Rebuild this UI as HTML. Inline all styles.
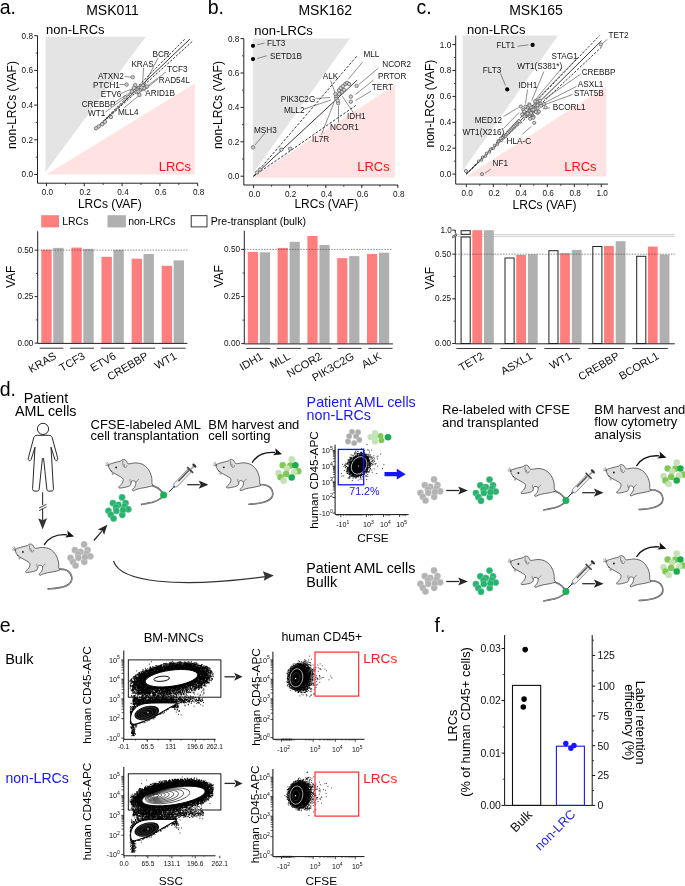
<!DOCTYPE html>
<html><head><meta charset="utf-8"><style>
html,body{margin:0;padding:0;background:#fff;overflow:hidden;width:685px;height:886px;}
svg{display:block;will-change:transform;}
text{font-family:"Liberation Sans", sans-serif;}
</style></head><body>
<svg width="685" height="886" viewBox="0 0 685 886" font-family="Liberation Sans, sans-serif">
<rect width="685" height="886" fill="#fff"/>
<text x="-0.3" y="13.8" font-size="19.5" text-anchor="start" fill="#000">a.</text>
<text x="112.5" y="14.9" font-size="14" text-anchor="middle" fill="#000">MSK011</text>
<polygon points="45.5,172.0 45.5,36.8 145.7,36.8" fill="#E4E4E4" stroke="none"/>
<polygon points="46.5,174.5 194.8,83.5 194.8,174.5" fill="#FFE3E3" stroke="none"/>
<text x="46.0" y="34.3" font-size="13" text-anchor="start" fill="#000">non-LRCs</text>
<text x="191.0" y="170.8" font-size="12.9" text-anchor="end" fill="#FF0F0F">LRCs</text>
<line x1="37.5" y1="35.6" x2="37.5" y2="183.2" stroke="#222" stroke-width="1"/>
<line x1="37.5" y1="183.2" x2="197.6" y2="183.2" stroke="#222" stroke-width="1"/>
<line x1="34.2" y1="174.5" x2="37.5" y2="174.5" stroke="#222" stroke-width="1"/>
<text x="33.0" y="177.4" font-size="8.2" text-anchor="end" fill="#111">0.0</text>
<line x1="34.2" y1="139.8" x2="37.5" y2="139.8" stroke="#222" stroke-width="1"/>
<text x="33.0" y="142.7" font-size="8.2" text-anchor="end" fill="#111">0.2</text>
<line x1="34.2" y1="105.1" x2="37.5" y2="105.1" stroke="#222" stroke-width="1"/>
<text x="33.0" y="108.0" font-size="8.2" text-anchor="end" fill="#111">0.4</text>
<line x1="34.2" y1="70.4" x2="37.5" y2="70.4" stroke="#222" stroke-width="1"/>
<text x="33.0" y="73.3" font-size="8.2" text-anchor="end" fill="#111">0.6</text>
<line x1="34.2" y1="35.7" x2="37.5" y2="35.7" stroke="#222" stroke-width="1"/>
<text x="33.0" y="38.6" font-size="8.2" text-anchor="end" fill="#111">0.8</text>
<line x1="46.5" y1="183.2" x2="46.5" y2="186.2" stroke="#222" stroke-width="1"/>
<text x="47.4" y="195.2" font-size="8.2" text-anchor="middle" fill="#111">0.0</text>
<line x1="84.3" y1="183.2" x2="84.3" y2="186.2" stroke="#222" stroke-width="1"/>
<text x="85.2" y="195.2" font-size="8.2" text-anchor="middle" fill="#111">0.2</text>
<line x1="122.1" y1="183.2" x2="122.1" y2="186.2" stroke="#222" stroke-width="1"/>
<text x="123.0" y="195.2" font-size="8.2" text-anchor="middle" fill="#111">0.4</text>
<line x1="159.9" y1="183.2" x2="159.9" y2="186.2" stroke="#222" stroke-width="1"/>
<text x="160.8" y="195.2" font-size="8.2" text-anchor="middle" fill="#111">0.6</text>
<line x1="197.7" y1="183.2" x2="197.7" y2="186.2" stroke="#222" stroke-width="1"/>
<text x="198.6" y="195.2" font-size="8.2" text-anchor="middle" fill="#111">0.8</text>
<line x1="35.7" y1="157.2" x2="37.5" y2="157.2" stroke="#222" stroke-width="0.8"/>
<line x1="35.7" y1="122.5" x2="37.5" y2="122.5" stroke="#222" stroke-width="0.8"/>
<line x1="35.7" y1="87.8" x2="37.5" y2="87.8" stroke="#222" stroke-width="0.8"/>
<line x1="35.7" y1="53.1" x2="37.5" y2="53.1" stroke="#222" stroke-width="0.8"/>
<line x1="65.4" y1="183.2" x2="65.4" y2="185.0" stroke="#222" stroke-width="0.8"/>
<line x1="103.2" y1="183.2" x2="103.2" y2="185.0" stroke="#222" stroke-width="0.8"/>
<line x1="141.0" y1="183.2" x2="141.0" y2="185.0" stroke="#222" stroke-width="0.8"/>
<line x1="178.8" y1="183.2" x2="178.8" y2="185.0" stroke="#222" stroke-width="0.8"/>
<text x="109.8" y="207.8" font-size="12" text-anchor="middle" fill="#000">LRCs (VAF)</text>
<text x="15.9" y="105.0" font-size="12" text-anchor="middle" fill="#000" transform="rotate(-90 15.9 105)">non-LRCs (VAF)</text>
<line x1="95.0" y1="129.5" x2="189.9" y2="39.1" stroke="#222" stroke-width="0.9"/>
<line x1="95.0" y1="129.5" x2="185.7" y2="38.2" stroke="#161616" stroke-width="0.85" stroke-dasharray="2.4,1.5"/>
<line x1="95.0" y1="129.5" x2="192.7" y2="41.1" stroke="#161616" stroke-width="0.85" stroke-dasharray="2.4,1.5"/>
<line x1="124.5" y1="76.5" x2="130.9" y2="77.1" stroke="#333" stroke-width="0.55"/>
<line x1="119.5" y1="84.4" x2="124.8" y2="84.6" stroke="#333" stroke-width="0.55"/>
<line x1="121.0" y1="93.5" x2="133.0" y2="88.5" stroke="#333" stroke-width="0.55"/>
<line x1="114.5" y1="102.5" x2="131.0" y2="92.0" stroke="#333" stroke-width="0.55"/>
<line x1="105.5" y1="112.0" x2="134.0" y2="91.0" stroke="#333" stroke-width="0.55"/>
<line x1="124.0" y1="108.0" x2="139.0" y2="95.5" stroke="#333" stroke-width="0.55"/>
<line x1="143.5" y1="68.0" x2="142.5" y2="86.0" stroke="#333" stroke-width="0.55"/>
<line x1="158.0" y1="58.0" x2="143.5" y2="86.0" stroke="#333" stroke-width="0.55"/>
<line x1="166.0" y1="72.0" x2="146.0" y2="87.0" stroke="#333" stroke-width="0.55"/>
<line x1="158.0" y1="79.0" x2="147.0" y2="87.5" stroke="#333" stroke-width="0.55"/>
<line x1="146.5" y1="92.0" x2="141.0" y2="88.0" stroke="#333" stroke-width="0.55"/>
<circle cx="132.7" cy="77.2" r="1.75" fill="#CFCFCF" stroke="#5A5A5A" stroke-width="0.7"/>
<circle cx="126.6" cy="84.6" r="1.75" fill="#CFCFCF" stroke="#5A5A5A" stroke-width="0.7"/>
<circle cx="139.4" cy="95.0" r="1.75" fill="#CFCFCF" stroke="#5A5A5A" stroke-width="0.7"/>
<circle cx="135.3" cy="85.1" r="1.75" fill="#CFCFCF" stroke="#5A5A5A" stroke-width="0.7"/>
<circle cx="133.9" cy="87.9" r="1.75" fill="#CFCFCF" stroke="#5A5A5A" stroke-width="0.7"/>
<circle cx="131.9" cy="91.5" r="1.75" fill="#CFCFCF" stroke="#5A5A5A" stroke-width="0.7"/>
<circle cx="125.3" cy="97.4" r="1.75" fill="#CFCFCF" stroke="#5A5A5A" stroke-width="0.7"/>
<circle cx="102.3" cy="124.2" r="1.75" fill="#CFCFCF" stroke="#5A5A5A" stroke-width="0.7"/>
<circle cx="96.1" cy="128.2" r="1.75" fill="#CFCFCF" stroke="#5A5A5A" stroke-width="0.7"/>
<circle cx="98.8" cy="126.4" r="1.75" fill="#CFCFCF" stroke="#5A5A5A" stroke-width="0.7"/>
<circle cx="105.0" cy="121.8" r="1.75" fill="#CFCFCF" stroke="#5A5A5A" stroke-width="0.7"/>
<circle cx="111.0" cy="117.0" r="1.75" fill="#CFCFCF" stroke="#5A5A5A" stroke-width="0.7"/>
<circle cx="139.0" cy="88.0" r="1.75" fill="#CFCFCF" stroke="#5A5A5A" stroke-width="0.7"/>
<circle cx="141.0" cy="86.5" r="1.75" fill="#CFCFCF" stroke="#5A5A5A" stroke-width="0.7"/>
<circle cx="143.0" cy="85.5" r="1.75" fill="#CFCFCF" stroke="#5A5A5A" stroke-width="0.7"/>
<circle cx="145.7" cy="86.9" r="1.75" fill="#CFCFCF" stroke="#5A5A5A" stroke-width="0.7"/>
<circle cx="142.0" cy="89.0" r="1.75" fill="#CFCFCF" stroke="#5A5A5A" stroke-width="0.7"/>
<circle cx="144.0" cy="88.2" r="1.75" fill="#CFCFCF" stroke="#5A5A5A" stroke-width="0.7"/>
<circle cx="140.0" cy="90.0" r="1.75" fill="#CFCFCF" stroke="#5A5A5A" stroke-width="0.7"/>
<circle cx="137.5" cy="90.0" r="1.75" fill="#CFCFCF" stroke="#5A5A5A" stroke-width="0.7"/>
<circle cx="136.5" cy="92.0" r="1.75" fill="#CFCFCF" stroke="#5A5A5A" stroke-width="0.7"/>
<circle cx="138.5" cy="91.5" r="1.75" fill="#CFCFCF" stroke="#5A5A5A" stroke-width="0.7"/>
<circle cx="141.5" cy="87.5" r="1.75" fill="#CFCFCF" stroke="#5A5A5A" stroke-width="0.7"/>
<circle cx="147.0" cy="86.5" r="1.75" fill="#CFCFCF" stroke="#5A5A5A" stroke-width="0.7"/>
<text x="98.0" y="79.3" font-size="8.2" text-anchor="start" fill="#151515">ATXN2</text>
<text x="93.0" y="87.7" font-size="8.2" text-anchor="start" fill="#151515">PTCH1</text>
<text x="100.8" y="96.9" font-size="8.2" text-anchor="start" fill="#151515">ETV6</text>
<text x="81.7" y="106.5" font-size="8.2" text-anchor="start" fill="#151515">CREBBP</text>
<text x="88.0" y="115.8" font-size="8.2" text-anchor="start" fill="#151515">WT1</text>
<text x="118.0" y="115.3" font-size="8.2" text-anchor="start" fill="#151515">MLL4</text>
<text x="152.5" y="56.5" font-size="8.2" text-anchor="start" fill="#151515">BCR</text>
<text x="131.4" y="66.9" font-size="8.2" text-anchor="start" fill="#151515">KRAS</text>
<text x="167.0" y="71.9" font-size="8.2" text-anchor="start" fill="#151515">TCF3</text>
<text x="158.8" y="82.9" font-size="8.2" text-anchor="start" fill="#151515">RAD54L</text>
<text x="145.3" y="95.9" font-size="8.2" text-anchor="start" fill="#151515">ARID1B</text>
<text x="207.7" y="13.8" font-size="19.5" text-anchor="start" fill="#000">b.</text>
<text x="325.3" y="14.9" font-size="14" text-anchor="middle" fill="#000">MSK162</text>
<polygon points="252.8,172.5 252.8,38.5 349.9,38.5 253.6,172.5" fill="#E4E4E4" stroke="none"/>
<polygon points="253.6,176.5 395.0,85.0 395.0,177.8 253.6,177.8" fill="#FFE3E3" stroke="none"/>
<text x="254.3" y="34.6" font-size="13" text-anchor="start" fill="#000">non-LRCs</text>
<text x="389.6" y="170.8" font-size="12.9" text-anchor="end" fill="#FF0F0F">LRCs</text>
<line x1="243.8" y1="38.7" x2="243.8" y2="185.0" stroke="#222" stroke-width="1"/>
<line x1="243.8" y1="185.0" x2="397.9" y2="185.0" stroke="#222" stroke-width="1"/>
<line x1="240.5" y1="176.2" x2="243.8" y2="176.2" stroke="#222" stroke-width="1"/>
<text x="239.3" y="179.1" font-size="8.2" text-anchor="end" fill="#111">0.0</text>
<line x1="240.5" y1="141.8" x2="243.8" y2="141.8" stroke="#222" stroke-width="1"/>
<text x="239.3" y="144.7" font-size="8.2" text-anchor="end" fill="#111">0.2</text>
<line x1="240.5" y1="107.4" x2="243.8" y2="107.4" stroke="#222" stroke-width="1"/>
<text x="239.3" y="110.3" font-size="8.2" text-anchor="end" fill="#111">0.4</text>
<line x1="240.5" y1="73.0" x2="243.8" y2="73.0" stroke="#222" stroke-width="1"/>
<text x="239.3" y="75.9" font-size="8.2" text-anchor="end" fill="#111">0.6</text>
<line x1="240.5" y1="38.6" x2="243.8" y2="38.6" stroke="#222" stroke-width="1"/>
<text x="239.3" y="41.5" font-size="8.2" text-anchor="end" fill="#111">0.8</text>
<line x1="253.6" y1="185.0" x2="253.6" y2="188.0" stroke="#222" stroke-width="1"/>
<text x="254.5" y="197.0" font-size="8.2" text-anchor="middle" fill="#111">0.0</text>
<line x1="289.7" y1="185.0" x2="289.7" y2="188.0" stroke="#222" stroke-width="1"/>
<text x="290.6" y="197.0" font-size="8.2" text-anchor="middle" fill="#111">0.2</text>
<line x1="325.8" y1="185.0" x2="325.8" y2="188.0" stroke="#222" stroke-width="1"/>
<text x="326.7" y="197.0" font-size="8.2" text-anchor="middle" fill="#111">0.4</text>
<line x1="361.8" y1="185.0" x2="361.8" y2="188.0" stroke="#222" stroke-width="1"/>
<text x="362.7" y="197.0" font-size="8.2" text-anchor="middle" fill="#111">0.6</text>
<line x1="397.9" y1="185.0" x2="397.9" y2="188.0" stroke="#222" stroke-width="1"/>
<text x="398.8" y="197.0" font-size="8.2" text-anchor="middle" fill="#111">0.8</text>
<line x1="242.0" y1="159.0" x2="243.8" y2="159.0" stroke="#222" stroke-width="0.8"/>
<line x1="242.0" y1="124.6" x2="243.8" y2="124.6" stroke="#222" stroke-width="0.8"/>
<line x1="242.0" y1="90.2" x2="243.8" y2="90.2" stroke="#222" stroke-width="0.8"/>
<line x1="242.0" y1="55.8" x2="243.8" y2="55.8" stroke="#222" stroke-width="0.8"/>
<line x1="271.6" y1="185.0" x2="271.6" y2="186.8" stroke="#222" stroke-width="0.8"/>
<line x1="307.7" y1="185.0" x2="307.7" y2="186.8" stroke="#222" stroke-width="0.8"/>
<line x1="343.8" y1="185.0" x2="343.8" y2="186.8" stroke="#222" stroke-width="0.8"/>
<line x1="379.9" y1="185.0" x2="379.9" y2="186.8" stroke="#222" stroke-width="0.8"/>
<text x="326.3" y="208.2" font-size="12" text-anchor="middle" fill="#000">LRCs (VAF)</text>
<text x="222.4" y="105.0" font-size="12" text-anchor="middle" fill="#000" transform="rotate(-90 222.4 105)">non-LRCs (VAF)</text>
<line x1="253.6" y1="176.2" x2="356.9" y2="80.3" stroke="#222" stroke-width="0.9"/>
<line x1="253.6" y1="176.2" x2="356.9" y2="56.1" stroke="#161616" stroke-width="0.85" stroke-dasharray="2.6,1.6"/>
<line x1="253.6" y1="176.2" x2="356.1" y2="105.2" stroke="#161616" stroke-width="0.85" stroke-dasharray="2.6,1.6"/>
<line x1="257.2" y1="44.8" x2="264.7" y2="43.0" stroke="#333" stroke-width="0.55"/>
<line x1="257.2" y1="58.5" x2="266.7" y2="55.8" stroke="#333" stroke-width="0.55"/>
<line x1="255.0" y1="145.0" x2="265.0" y2="133.0" stroke="#333" stroke-width="0.55"/>
<line x1="362.7" y1="61.9" x2="348.2" y2="79.4" stroke="#333" stroke-width="0.55"/>
<line x1="378.5" y1="68.0" x2="358.7" y2="84.7" stroke="#333" stroke-width="0.55"/>
<line x1="373.6" y1="80.0" x2="355.7" y2="94.3" stroke="#333" stroke-width="0.55"/>
<line x1="371.0" y1="91.2" x2="355.7" y2="100.4" stroke="#333" stroke-width="0.55"/>
<line x1="353.4" y1="112.7" x2="342.0" y2="96.0" stroke="#333" stroke-width="0.55"/>
<line x1="338.5" y1="122.3" x2="338.5" y2="105.7" stroke="#333" stroke-width="0.55"/>
<line x1="321.4" y1="134.6" x2="334.2" y2="102.2" stroke="#333" stroke-width="0.55"/>
<line x1="330.7" y1="80.6" x2="335.0" y2="92.6" stroke="#333" stroke-width="0.55"/>
<line x1="315.5" y1="98.5" x2="330.0" y2="97.5" stroke="#333" stroke-width="0.55"/>
<line x1="304.0" y1="109.0" x2="331.0" y2="100.0" stroke="#333" stroke-width="0.55"/>
<circle cx="253.0" cy="45.8" r="2.1" fill="#000" stroke="none" stroke-width="1"/>
<circle cx="253.0" cy="59.1" r="2.1" fill="#000" stroke="none" stroke-width="1"/>
<circle cx="253.0" cy="147.3" r="1.75" fill="#CFCFCF" stroke="#5A5A5A" stroke-width="0.7"/>
<circle cx="281.3" cy="149.6" r="1.75" fill="#CFCFCF" stroke="#5A5A5A" stroke-width="0.7"/>
<circle cx="290.0" cy="148.8" r="1.75" fill="#CFCFCF" stroke="#5A5A5A" stroke-width="0.7"/>
<circle cx="356.6" cy="85.9" r="1.75" fill="#CFCFCF" stroke="#5A5A5A" stroke-width="0.7"/>
<circle cx="350.8" cy="96.6" r="1.75" fill="#CFCFCF" stroke="#5A5A5A" stroke-width="0.7"/>
<circle cx="350.8" cy="101.7" r="1.75" fill="#CFCFCF" stroke="#5A5A5A" stroke-width="0.7"/>
<circle cx="338.2" cy="103.1" r="1.75" fill="#CFCFCF" stroke="#5A5A5A" stroke-width="0.7"/>
<circle cx="336.0" cy="96.7" r="1.75" fill="#CFCFCF" stroke="#5A5A5A" stroke-width="0.7"/>
<circle cx="336.4" cy="99.0" r="1.75" fill="#CFCFCF" stroke="#5A5A5A" stroke-width="0.7"/>
<circle cx="337.7" cy="100.5" r="1.75" fill="#CFCFCF" stroke="#5A5A5A" stroke-width="0.7"/>
<circle cx="338.9" cy="90.3" r="1.75" fill="#CFCFCF" stroke="#5A5A5A" stroke-width="0.7"/>
<circle cx="340.7" cy="88.0" r="1.75" fill="#CFCFCF" stroke="#5A5A5A" stroke-width="0.7"/>
<circle cx="343.0" cy="86.2" r="1.75" fill="#CFCFCF" stroke="#5A5A5A" stroke-width="0.7"/>
<circle cx="345.3" cy="83.9" r="1.75" fill="#CFCFCF" stroke="#5A5A5A" stroke-width="0.7"/>
<circle cx="347.1" cy="82.9" r="1.75" fill="#CFCFCF" stroke="#5A5A5A" stroke-width="0.7"/>
<circle cx="349.0" cy="84.0" r="1.75" fill="#CFCFCF" stroke="#5A5A5A" stroke-width="0.7"/>
<circle cx="342.0" cy="92.0" r="1.75" fill="#CFCFCF" stroke="#5A5A5A" stroke-width="0.7"/>
<circle cx="344.0" cy="90.0" r="1.75" fill="#CFCFCF" stroke="#5A5A5A" stroke-width="0.7"/>
<circle cx="339.0" cy="94.0" r="1.75" fill="#CFCFCF" stroke="#5A5A5A" stroke-width="0.7"/>
<circle cx="335.5" cy="94.0" r="1.75" fill="#CFCFCF" stroke="#5A5A5A" stroke-width="0.7"/>
<circle cx="260.0" cy="169.5" r="1.75" fill="#CFCFCF" stroke="#5A5A5A" stroke-width="0.7"/>
<circle cx="257.0" cy="172.5" r="1.75" fill="#CFCFCF" stroke="#5A5A5A" stroke-width="0.7"/>
<text x="266.9" y="46.4" font-size="8.2" text-anchor="start" fill="#151515">FLT3</text>
<text x="270.0" y="58.8" font-size="8.2" text-anchor="start" fill="#151515">SETD1B</text>
<text x="254.0" y="133.0" font-size="8.2" text-anchor="start" fill="#151515">MSH3</text>
<text x="363.4" y="56.7" font-size="8.2" text-anchor="start" fill="#151515">MLL</text>
<text x="382.3" y="67.2" font-size="8.2" text-anchor="start" fill="#151515">NCOR2</text>
<text x="378.0" y="78.9" font-size="8.2" text-anchor="start" fill="#151515">PRTOR</text>
<text x="371.8" y="90.0" font-size="8.2" text-anchor="start" fill="#151515">TERT</text>
<text x="347.0" y="118.9" font-size="8.2" text-anchor="start" fill="#151515">IDH1</text>
<text x="330.1" y="129.7" font-size="8.2" text-anchor="start" fill="#151515">NCOR1</text>
<text x="311.9" y="141.5" font-size="8.2" text-anchor="start" fill="#151515">IL7R</text>
<text x="322.8" y="78.9" font-size="8.2" text-anchor="start" fill="#151515">ALK</text>
<text x="280.7" y="102.0" font-size="8.2" text-anchor="start" fill="#151515">PIK3C2G</text>
<text x="284.0" y="113.1" font-size="8.2" text-anchor="start" fill="#151515">MLL2</text>
<text x="416.6" y="13.8" font-size="19.5" text-anchor="start" fill="#000">c.</text>
<text x="536.0" y="14.9" font-size="14" text-anchor="middle" fill="#000">MSK165</text>
<polygon points="462.6,171.0 462.6,35.6 558.0,35.6" fill="#E4E4E4" stroke="none"/>
<polygon points="466.3,176.6 606.2,86.2 606.2,176.6" fill="#FFE3E3" stroke="none"/>
<text x="467.0" y="34.3" font-size="13" text-anchor="start" fill="#000">non-LRCs</text>
<text x="596.5" y="170.9" font-size="12.9" text-anchor="end" fill="#FF0F0F">LRCs</text>
<line x1="455.7" y1="35.5" x2="455.7" y2="184.1" stroke="#222" stroke-width="1"/>
<line x1="455.7" y1="184.1" x2="608.0" y2="184.1" stroke="#222" stroke-width="1"/>
<line x1="452.4" y1="174.1" x2="455.7" y2="174.1" stroke="#222" stroke-width="1"/>
<text x="451.2" y="177.0" font-size="8.2" text-anchor="end" fill="#111">0.0</text>
<line x1="452.4" y1="148.2" x2="455.7" y2="148.2" stroke="#222" stroke-width="1"/>
<text x="451.2" y="151.1" font-size="8.2" text-anchor="end" fill="#111">0.2</text>
<line x1="452.4" y1="122.3" x2="455.7" y2="122.3" stroke="#222" stroke-width="1"/>
<text x="451.2" y="125.2" font-size="8.2" text-anchor="end" fill="#111">0.4</text>
<line x1="452.4" y1="96.4" x2="455.7" y2="96.4" stroke="#222" stroke-width="1"/>
<text x="451.2" y="99.3" font-size="8.2" text-anchor="end" fill="#111">0.6</text>
<line x1="452.4" y1="70.5" x2="455.7" y2="70.5" stroke="#222" stroke-width="1"/>
<text x="451.2" y="73.4" font-size="8.2" text-anchor="end" fill="#111">0.8</text>
<line x1="452.4" y1="44.6" x2="455.7" y2="44.6" stroke="#222" stroke-width="1"/>
<text x="451.2" y="47.5" font-size="8.2" text-anchor="end" fill="#111">1.0</text>
<line x1="466.3" y1="184.1" x2="466.3" y2="187.1" stroke="#222" stroke-width="1"/>
<text x="467.2" y="196.1" font-size="8.2" text-anchor="middle" fill="#111">0.0</text>
<line x1="493.3" y1="184.1" x2="493.3" y2="187.1" stroke="#222" stroke-width="1"/>
<text x="494.2" y="196.1" font-size="8.2" text-anchor="middle" fill="#111">0.2</text>
<line x1="520.3" y1="184.1" x2="520.3" y2="187.1" stroke="#222" stroke-width="1"/>
<text x="521.2" y="196.1" font-size="8.2" text-anchor="middle" fill="#111">0.4</text>
<line x1="547.3" y1="184.1" x2="547.3" y2="187.1" stroke="#222" stroke-width="1"/>
<text x="548.2" y="196.1" font-size="8.2" text-anchor="middle" fill="#111">0.6</text>
<line x1="574.3" y1="184.1" x2="574.3" y2="187.1" stroke="#222" stroke-width="1"/>
<text x="575.2" y="196.1" font-size="8.2" text-anchor="middle" fill="#111">0.8</text>
<line x1="601.3" y1="184.1" x2="601.3" y2="187.1" stroke="#222" stroke-width="1"/>
<text x="602.2" y="196.1" font-size="8.2" text-anchor="middle" fill="#111">1.0</text>
<line x1="453.9" y1="161.2" x2="455.7" y2="161.2" stroke="#222" stroke-width="0.8"/>
<line x1="453.9" y1="135.2" x2="455.7" y2="135.2" stroke="#222" stroke-width="0.8"/>
<line x1="453.9" y1="109.3" x2="455.7" y2="109.3" stroke="#222" stroke-width="0.8"/>
<line x1="453.9" y1="83.5" x2="455.7" y2="83.5" stroke="#222" stroke-width="0.8"/>
<line x1="453.9" y1="57.5" x2="455.7" y2="57.5" stroke="#222" stroke-width="0.8"/>
<line x1="479.8" y1="184.1" x2="479.8" y2="185.9" stroke="#222" stroke-width="0.8"/>
<line x1="506.8" y1="184.1" x2="506.8" y2="185.9" stroke="#222" stroke-width="0.8"/>
<line x1="533.8" y1="184.1" x2="533.8" y2="185.9" stroke="#222" stroke-width="0.8"/>
<line x1="560.8" y1="184.1" x2="560.8" y2="185.9" stroke="#222" stroke-width="0.8"/>
<line x1="587.8" y1="184.1" x2="587.8" y2="185.9" stroke="#222" stroke-width="0.8"/>
<text x="544.5" y="208.8" font-size="12" text-anchor="middle" fill="#000">LRCs (VAF)</text>
<text x="433.7" y="103.6" font-size="12" text-anchor="middle" fill="#000" transform="rotate(-90 433.7 103.6)">non-LRCs (VAF)</text>
<line x1="466.3" y1="174.1" x2="601.5" y2="40.7" stroke="#222" stroke-width="0.9"/>
<line x1="466.3" y1="174.1" x2="599.7" y2="35.4" stroke="#161616" stroke-width="0.85" stroke-dasharray="2.4,1.5"/>
<line x1="466.3" y1="174.1" x2="602.3" y2="46.3" stroke="#161616" stroke-width="0.85" stroke-dasharray="2.4,1.5"/>
<circle cx="532.6" cy="44.9" r="2.1" fill="#000" stroke="none" stroke-width="1"/>
<circle cx="507.2" cy="89.4" r="2.1" fill="#000" stroke="none" stroke-width="1"/>
<line x1="517.4" y1="46.3" x2="528.5" y2="44.8" stroke="#333" stroke-width="0.55"/>
<line x1="500.5" y1="73.5" x2="505.5" y2="85.5" stroke="#333" stroke-width="0.55"/>
<line x1="607.3" y1="39.3" x2="601.6" y2="44.2" stroke="#333" stroke-width="0.55"/>
<line x1="577.7" y1="57.7" x2="535.8" y2="100.6" stroke="#333" stroke-width="0.55"/>
<line x1="562.3" y1="67.5" x2="533.7" y2="101.6" stroke="#333" stroke-width="0.55"/>
<line x1="543.9" y1="71.5" x2="531.7" y2="100.6" stroke="#333" stroke-width="0.55"/>
<line x1="527.6" y1="89.4" x2="525.5" y2="103.7" stroke="#333" stroke-width="0.55"/>
<line x1="580.7" y1="74.0" x2="543.9" y2="99.6" stroke="#333" stroke-width="0.55"/>
<line x1="576.6" y1="86.3" x2="542.9" y2="103.7" stroke="#333" stroke-width="0.55"/>
<line x1="572.6" y1="94.5" x2="541.9" y2="105.7" stroke="#333" stroke-width="0.55"/>
<line x1="550.1" y1="107.8" x2="542.9" y2="108.8" stroke="#333" stroke-width="0.55"/>
<line x1="503.5" y1="116.5" x2="518.5" y2="107.5" stroke="#333" stroke-width="0.55"/>
<line x1="503.5" y1="128.5" x2="519.0" y2="112.5" stroke="#333" stroke-width="0.55"/>
<line x1="522.3" y1="134.2" x2="531.4" y2="126.3" stroke="#333" stroke-width="0.55"/>
<line x1="490.8" y1="169.2" x2="484.9" y2="173.2" stroke="#333" stroke-width="0.55"/>
<circle cx="524.7" cy="113.0" r="1.6" fill="#CFCFCF" stroke="#5A5A5A" stroke-width="0.7"/>
<circle cx="529.2" cy="104.4" r="1.6" fill="#CFCFCF" stroke="#5A5A5A" stroke-width="0.7"/>
<circle cx="526.4" cy="107.3" r="1.6" fill="#CFCFCF" stroke="#5A5A5A" stroke-width="0.7"/>
<circle cx="535.3" cy="107.5" r="1.6" fill="#CFCFCF" stroke="#5A5A5A" stroke-width="0.7"/>
<circle cx="535.0" cy="105.3" r="1.6" fill="#CFCFCF" stroke="#5A5A5A" stroke-width="0.7"/>
<circle cx="531.9" cy="109.1" r="1.6" fill="#CFCFCF" stroke="#5A5A5A" stroke-width="0.7"/>
<circle cx="528.6" cy="113.9" r="1.6" fill="#CFCFCF" stroke="#5A5A5A" stroke-width="0.7"/>
<circle cx="525.8" cy="114.7" r="1.6" fill="#CFCFCF" stroke="#5A5A5A" stroke-width="0.7"/>
<circle cx="533.6" cy="108.7" r="1.6" fill="#CFCFCF" stroke="#5A5A5A" stroke-width="0.7"/>
<circle cx="533.5" cy="116.5" r="1.6" fill="#CFCFCF" stroke="#5A5A5A" stroke-width="0.7"/>
<circle cx="530.1" cy="109.7" r="1.6" fill="#CFCFCF" stroke="#5A5A5A" stroke-width="0.7"/>
<circle cx="530.6" cy="109.5" r="1.6" fill="#CFCFCF" stroke="#5A5A5A" stroke-width="0.7"/>
<circle cx="529.0" cy="111.7" r="1.6" fill="#CFCFCF" stroke="#5A5A5A" stroke-width="0.7"/>
<circle cx="538.3" cy="104.0" r="1.6" fill="#CFCFCF" stroke="#5A5A5A" stroke-width="0.7"/>
<circle cx="532.9" cy="111.6" r="1.6" fill="#CFCFCF" stroke="#5A5A5A" stroke-width="0.7"/>
<circle cx="537.9" cy="103.5" r="1.6" fill="#CFCFCF" stroke="#5A5A5A" stroke-width="0.7"/>
<circle cx="533.3" cy="117.8" r="1.6" fill="#CFCFCF" stroke="#5A5A5A" stroke-width="0.7"/>
<circle cx="525.1" cy="115.4" r="1.6" fill="#CFCFCF" stroke="#5A5A5A" stroke-width="0.7"/>
<circle cx="537.6" cy="112.9" r="1.6" fill="#CFCFCF" stroke="#5A5A5A" stroke-width="0.7"/>
<circle cx="523.2" cy="109.8" r="1.6" fill="#CFCFCF" stroke="#5A5A5A" stroke-width="0.7"/>
<circle cx="532.4" cy="107.7" r="1.6" fill="#CFCFCF" stroke="#5A5A5A" stroke-width="0.7"/>
<circle cx="530.4" cy="113.2" r="1.6" fill="#CFCFCF" stroke="#5A5A5A" stroke-width="0.7"/>
<circle cx="532.3" cy="110.8" r="1.6" fill="#CFCFCF" stroke="#5A5A5A" stroke-width="0.7"/>
<circle cx="531.8" cy="114.9" r="1.6" fill="#CFCFCF" stroke="#5A5A5A" stroke-width="0.7"/>
<circle cx="536.5" cy="105.8" r="1.6" fill="#CFCFCF" stroke="#5A5A5A" stroke-width="0.7"/>
<circle cx="530.7" cy="114.0" r="1.6" fill="#CFCFCF" stroke="#5A5A5A" stroke-width="0.7"/>
<circle cx="530.8" cy="107.4" r="1.6" fill="#CFCFCF" stroke="#5A5A5A" stroke-width="0.7"/>
<circle cx="531.3" cy="114.6" r="1.6" fill="#CFCFCF" stroke="#5A5A5A" stroke-width="0.7"/>
<circle cx="530.1" cy="110.7" r="1.6" fill="#CFCFCF" stroke="#5A5A5A" stroke-width="0.7"/>
<circle cx="531.7" cy="110.2" r="1.6" fill="#CFCFCF" stroke="#5A5A5A" stroke-width="0.7"/>
<circle cx="527.5" cy="107.4" r="1.6" fill="#CFCFCF" stroke="#5A5A5A" stroke-width="0.7"/>
<circle cx="537.7" cy="105.3" r="1.6" fill="#CFCFCF" stroke="#5A5A5A" stroke-width="0.7"/>
<circle cx="529.6" cy="115.9" r="1.6" fill="#CFCFCF" stroke="#5A5A5A" stroke-width="0.7"/>
<circle cx="532.1" cy="110.0" r="1.6" fill="#CFCFCF" stroke="#5A5A5A" stroke-width="0.7"/>
<circle cx="538.9" cy="111.6" r="1.6" fill="#CFCFCF" stroke="#5A5A5A" stroke-width="0.7"/>
<circle cx="535.9" cy="112.0" r="1.6" fill="#CFCFCF" stroke="#5A5A5A" stroke-width="0.7"/>
<circle cx="536.9" cy="101.5" r="1.6" fill="#CFCFCF" stroke="#5A5A5A" stroke-width="0.7"/>
<circle cx="530.5" cy="114.3" r="1.6" fill="#CFCFCF" stroke="#5A5A5A" stroke-width="0.7"/>
<circle cx="524.4" cy="116.5" r="1.6" fill="#CFCFCF" stroke="#5A5A5A" stroke-width="0.7"/>
<circle cx="537.6" cy="108.4" r="1.6" fill="#CFCFCF" stroke="#5A5A5A" stroke-width="0.7"/>
<circle cx="529.6" cy="105.4" r="1.6" fill="#CFCFCF" stroke="#5A5A5A" stroke-width="0.7"/>
<circle cx="540.5" cy="103.8" r="1.6" fill="#CFCFCF" stroke="#5A5A5A" stroke-width="0.7"/>
<circle cx="534.7" cy="109.2" r="1.6" fill="#CFCFCF" stroke="#5A5A5A" stroke-width="0.7"/>
<circle cx="522.2" cy="114.3" r="1.6" fill="#CFCFCF" stroke="#5A5A5A" stroke-width="0.7"/>
<circle cx="530.1" cy="118.8" r="1.6" fill="#CFCFCF" stroke="#5A5A5A" stroke-width="0.7"/>
<circle cx="527.6" cy="113.5" r="1.6" fill="#CFCFCF" stroke="#5A5A5A" stroke-width="0.7"/>
<circle cx="531.1" cy="113.0" r="1.6" fill="#CFCFCF" stroke="#5A5A5A" stroke-width="0.7"/>
<circle cx="533.3" cy="109.7" r="1.6" fill="#CFCFCF" stroke="#5A5A5A" stroke-width="0.7"/>
<circle cx="520.8" cy="106.5" r="1.6" fill="#CFCFCF" stroke="#5A5A5A" stroke-width="0.7"/>
<circle cx="525.4" cy="106.6" r="1.6" fill="#CFCFCF" stroke="#5A5A5A" stroke-width="0.7"/>
<circle cx="524.1" cy="111.5" r="1.6" fill="#CFCFCF" stroke="#5A5A5A" stroke-width="0.7"/>
<circle cx="534.2" cy="122.8" r="1.6" fill="#CFCFCF" stroke="#5A5A5A" stroke-width="0.7"/>
<circle cx="535.0" cy="101.4" r="1.6" fill="#CFCFCF" stroke="#5A5A5A" stroke-width="0.7"/>
<circle cx="539.9" cy="100.5" r="1.6" fill="#CFCFCF" stroke="#5A5A5A" stroke-width="0.7"/>
<circle cx="541.2" cy="105.8" r="1.6" fill="#CFCFCF" stroke="#5A5A5A" stroke-width="0.7"/>
<circle cx="544.0" cy="104.0" r="1.6" fill="#CFCFCF" stroke="#5A5A5A" stroke-width="0.7"/>
<circle cx="545.5" cy="107.5" r="1.6" fill="#CFCFCF" stroke="#5A5A5A" stroke-width="0.7"/>
<circle cx="505.0" cy="136.0" r="1.6" fill="#CFCFCF" stroke="#5A5A5A" stroke-width="0.7"/>
<circle cx="506.5" cy="134.4" r="1.6" fill="#CFCFCF" stroke="#5A5A5A" stroke-width="0.7"/>
<circle cx="508.0" cy="132.8" r="1.6" fill="#CFCFCF" stroke="#5A5A5A" stroke-width="0.7"/>
<circle cx="509.5" cy="131.2" r="1.6" fill="#CFCFCF" stroke="#5A5A5A" stroke-width="0.7"/>
<circle cx="510.7" cy="129.9" r="1.6" fill="#CFCFCF" stroke="#5A5A5A" stroke-width="0.7"/>
<circle cx="511.9" cy="128.6" r="1.6" fill="#CFCFCF" stroke="#5A5A5A" stroke-width="0.7"/>
<circle cx="513.1" cy="127.4" r="1.6" fill="#CFCFCF" stroke="#5A5A5A" stroke-width="0.7"/>
<circle cx="514.3" cy="126.1" r="1.6" fill="#CFCFCF" stroke="#5A5A5A" stroke-width="0.7"/>
<circle cx="515.5" cy="124.8" r="1.6" fill="#CFCFCF" stroke="#5A5A5A" stroke-width="0.7"/>
<circle cx="516.7" cy="123.5" r="1.6" fill="#CFCFCF" stroke="#5A5A5A" stroke-width="0.7"/>
<circle cx="517.9" cy="122.2" r="1.6" fill="#CFCFCF" stroke="#5A5A5A" stroke-width="0.7"/>
<circle cx="519.0" cy="121.1" r="1.6" fill="#CFCFCF" stroke="#5A5A5A" stroke-width="0.7"/>
<circle cx="600.9" cy="44.5" r="1.6" fill="#CFCFCF" stroke="#5A5A5A" stroke-width="0.7"/>
<circle cx="482.0" cy="174.1" r="1.6" fill="#CFCFCF" stroke="#5A5A5A" stroke-width="0.7"/>
<circle cx="465.9" cy="171.0" r="1.6" fill="#CFCFCF" stroke="#5A5A5A" stroke-width="0.7"/>
<circle cx="498.5" cy="141.0" r="1.6" fill="#CFCFCF" stroke="#5A5A5A" stroke-width="0.7"/>
<circle cx="501.0" cy="138.5" r="1.6" fill="#CFCFCF" stroke="#5A5A5A" stroke-width="0.7"/>
<circle cx="503.5" cy="136.0" r="1.6" fill="#CFCFCF" stroke="#5A5A5A" stroke-width="0.7"/>
<circle cx="478.5" cy="161.1" r="1.2" fill="#CFCFCF" stroke="#5A5A5A" stroke-width="0.7"/>
<circle cx="481.5" cy="160.1" r="1.2" fill="#CFCFCF" stroke="#5A5A5A" stroke-width="0.7"/>
<circle cx="482.5" cy="157.1" r="1.2" fill="#CFCFCF" stroke="#5A5A5A" stroke-width="0.7"/>
<circle cx="485.5" cy="156.2" r="1.2" fill="#CFCFCF" stroke="#5A5A5A" stroke-width="0.7"/>
<circle cx="486.5" cy="153.2" r="1.2" fill="#CFCFCF" stroke="#5A5A5A" stroke-width="0.7"/>
<circle cx="489.5" cy="152.2" r="1.2" fill="#CFCFCF" stroke="#5A5A5A" stroke-width="0.7"/>
<circle cx="490.5" cy="149.2" r="1.2" fill="#CFCFCF" stroke="#5A5A5A" stroke-width="0.7"/>
<circle cx="493.5" cy="148.3" r="1.2" fill="#CFCFCF" stroke="#5A5A5A" stroke-width="0.7"/>
<circle cx="494.5" cy="145.3" r="1.2" fill="#CFCFCF" stroke="#5A5A5A" stroke-width="0.7"/>
<circle cx="497.5" cy="144.3" r="1.2" fill="#CFCFCF" stroke="#5A5A5A" stroke-width="0.7"/>
<circle cx="498.5" cy="141.3" r="1.2" fill="#CFCFCF" stroke="#5A5A5A" stroke-width="0.7"/>
<circle cx="501.5" cy="140.4" r="1.2" fill="#CFCFCF" stroke="#5A5A5A" stroke-width="0.7"/>
<circle cx="502.5" cy="137.4" r="1.2" fill="#CFCFCF" stroke="#5A5A5A" stroke-width="0.7"/>
<circle cx="505.5" cy="136.4" r="1.2" fill="#CFCFCF" stroke="#5A5A5A" stroke-width="0.7"/>
<text x="608.5" y="37.9" font-size="8.2" text-anchor="start" fill="#151515">TET2</text>
<text x="551.5" y="59.3" font-size="8.2" text-anchor="start" fill="#151515">STAG1</text>
<text x="517.2" y="69.4" font-size="8.2" text-anchor="start" fill="#151515">WT1(S381*)</text>
<text x="581.7" y="75.2" font-size="8.2" text-anchor="start" fill="#151515">CREBBP</text>
<text x="577.8" y="87.3" font-size="8.2" text-anchor="start" fill="#151515">ASXL1</text>
<text x="574.0" y="95.7" font-size="8.2" text-anchor="start" fill="#151515">STAT5B</text>
<text x="552.8" y="109.7" font-size="8.2" text-anchor="start" fill="#151515">BCORL1</text>
<text x="496.6" y="48.4" font-size="8.2" text-anchor="start" fill="#151515">FLT1</text>
<text x="482.7" y="73.0" font-size="8.2" text-anchor="start" fill="#151515">FLT3</text>
<text x="518.6" y="87.8" font-size="8.2" text-anchor="start" fill="#151515">IDH1</text>
<text x="474.7" y="123.1" font-size="8.2" text-anchor="start" fill="#151515">MED12</text>
<text x="462.4" y="135.1" font-size="8.2" text-anchor="start" fill="#151515">WT1(X216)</text>
<text x="506.6" y="143.6" font-size="8.2" text-anchor="start" fill="#151515">HLA-C</text>
<text x="492.6" y="166.0" font-size="8.2" text-anchor="start" fill="#151515">NF1</text>
<rect x="41.2" y="215.2" width="17.8" height="12.2" fill="#FF7F7F" stroke="none" stroke-width="1"/>
<text x="62.2" y="225.2" font-size="10.5" text-anchor="start" fill="#000">LRCs</text>
<rect x="107.5" y="215.2" width="18.4" height="12.2" fill="#B0B0B0" stroke="none" stroke-width="1"/>
<text x="128.2" y="225.2" font-size="10.5" text-anchor="start" fill="#000">non-LRCs</text>
<rect x="191.2" y="215.7" width="15.8" height="11.2" fill="#fff" stroke="#222" stroke-width="0.9"/>
<text x="210.8" y="225.2" font-size="10.5" text-anchor="start" fill="#000">Pre-transplant (bulk)</text>
<rect x="41.3" y="249.7" width="10.4" height="93.4" fill="#FF7F7F" stroke="none" stroke-width="1"/>
<rect x="53.2" y="247.9" width="10.4" height="95.2" fill="#B0B0B0" stroke="none" stroke-width="1"/>
<rect x="71.4" y="247.6" width="10.4" height="95.5" fill="#FF7F7F" stroke="none" stroke-width="1"/>
<rect x="83.3" y="248.8" width="10.4" height="94.3" fill="#B0B0B0" stroke="none" stroke-width="1"/>
<rect x="101.5" y="256.8" width="10.4" height="86.3" fill="#FF7F7F" stroke="none" stroke-width="1"/>
<rect x="113.4" y="249.8" width="10.4" height="93.3" fill="#B0B0B0" stroke="none" stroke-width="1"/>
<rect x="131.6" y="258.7" width="10.4" height="84.4" fill="#FF7F7F" stroke="none" stroke-width="1"/>
<rect x="143.5" y="254.0" width="10.4" height="89.1" fill="#B0B0B0" stroke="none" stroke-width="1"/>
<rect x="161.7" y="265.8" width="10.4" height="77.3" fill="#FF7F7F" stroke="none" stroke-width="1"/>
<rect x="173.6" y="260.4" width="10.4" height="82.7" fill="#B0B0B0" stroke="none" stroke-width="1"/>
<line x1="37.7" y1="231.3" x2="37.7" y2="343.4" stroke="#222" stroke-width="1"/>
<line x1="37.7" y1="343.4" x2="187.4" y2="343.4" stroke="#222" stroke-width="1"/>
<line x1="34.7" y1="343.1" x2="37.7" y2="343.1" stroke="#222" stroke-width="1"/>
<text x="33.4" y="345.5" font-size="8.2" text-anchor="end" fill="#111">0.00</text>
<line x1="34.7" y1="296.6" x2="37.7" y2="296.6" stroke="#222" stroke-width="1"/>
<text x="33.4" y="299.0" font-size="8.2" text-anchor="end" fill="#111">0.25</text>
<line x1="34.7" y1="250.1" x2="37.7" y2="250.1" stroke="#222" stroke-width="1"/>
<text x="33.4" y="252.5" font-size="8.2" text-anchor="end" fill="#111">0.50</text>
<line x1="35.9" y1="319.9" x2="37.7" y2="319.9" stroke="#222" stroke-width="0.8"/>
<line x1="35.9" y1="273.4" x2="37.7" y2="273.4" stroke="#222" stroke-width="0.8"/>
<line x1="37.7" y1="250.1" x2="187.4" y2="250.1" stroke="#444" stroke-width="0.6" stroke-dasharray="1.6,1.2"/>
<line x1="39.7" y1="348.2" x2="63.4" y2="348.2" stroke="#222" stroke-width="0.9"/>
<line x1="70.2" y1="348.2" x2="94.0" y2="348.2" stroke="#222" stroke-width="0.9"/>
<line x1="100.8" y1="348.2" x2="124.5" y2="348.2" stroke="#222" stroke-width="0.9"/>
<line x1="131.4" y1="348.2" x2="155.1" y2="348.2" stroke="#222" stroke-width="0.9"/>
<line x1="161.9" y1="348.2" x2="185.6" y2="348.2" stroke="#222" stroke-width="0.9"/>
<text x="15.3" y="276.8" font-size="12" text-anchor="middle" fill="#000" transform="rotate(-90 15.3 276.8)">VAF</text>
<text x="57.2" y="358.2" font-size="11" text-anchor="end" fill="#111" transform="rotate(-30 57.2 358.2)">KRAS</text>
<text x="85.9" y="358.2" font-size="11" text-anchor="end" fill="#111" transform="rotate(-30 85.9 358.2)">TCF3</text>
<text x="116.9" y="358.2" font-size="11" text-anchor="end" fill="#111" transform="rotate(-30 116.9 358.2)">ETV6</text>
<text x="149.2" y="358.2" font-size="11" text-anchor="end" fill="#111" transform="rotate(-30 149.2 358.2)">CREBBP</text>
<text x="177.5" y="358.2" font-size="11" text-anchor="end" fill="#111" transform="rotate(-30 177.5 358.2)">WT1</text>
<rect x="247.8" y="252.0" width="10.2" height="91.6" fill="#FF7F7F" stroke="none" stroke-width="1"/>
<rect x="259.8" y="252.3" width="10.2" height="91.3" fill="#B0B0B0" stroke="none" stroke-width="1"/>
<rect x="277.6" y="247.9" width="10.2" height="95.7" fill="#FF7F7F" stroke="none" stroke-width="1"/>
<rect x="289.6" y="241.8" width="10.2" height="101.8" fill="#B0B0B0" stroke="none" stroke-width="1"/>
<rect x="307.4" y="236.0" width="10.2" height="107.6" fill="#FF7F7F" stroke="none" stroke-width="1"/>
<rect x="319.4" y="245.0" width="10.2" height="98.6" fill="#B0B0B0" stroke="none" stroke-width="1"/>
<rect x="337.2" y="258.1" width="10.2" height="85.5" fill="#FF7F7F" stroke="none" stroke-width="1"/>
<rect x="349.2" y="256.1" width="10.2" height="87.5" fill="#B0B0B0" stroke="none" stroke-width="1"/>
<rect x="367.0" y="253.9" width="10.2" height="89.7" fill="#FF7F7F" stroke="none" stroke-width="1"/>
<rect x="379.0" y="252.7" width="10.2" height="90.9" fill="#B0B0B0" stroke="none" stroke-width="1"/>
<line x1="244.3" y1="230.8" x2="244.3" y2="343.9" stroke="#222" stroke-width="1"/>
<line x1="244.3" y1="343.9" x2="392.9" y2="343.9" stroke="#222" stroke-width="1"/>
<line x1="241.3" y1="343.6" x2="244.3" y2="343.6" stroke="#222" stroke-width="1"/>
<text x="240.0" y="346.0" font-size="8.2" text-anchor="end" fill="#111">0.00</text>
<line x1="241.3" y1="296.5" x2="244.3" y2="296.5" stroke="#222" stroke-width="1"/>
<text x="240.0" y="298.9" font-size="8.2" text-anchor="end" fill="#111">0.25</text>
<line x1="241.3" y1="249.4" x2="244.3" y2="249.4" stroke="#222" stroke-width="1"/>
<text x="240.0" y="251.8" font-size="8.2" text-anchor="end" fill="#111">0.50</text>
<line x1="242.5" y1="320.1" x2="244.3" y2="320.1" stroke="#222" stroke-width="0.8"/>
<line x1="242.5" y1="273.0" x2="244.3" y2="273.0" stroke="#222" stroke-width="0.8"/>
<line x1="244.3" y1="249.4" x2="392.7" y2="249.4" stroke="#444" stroke-width="0.6" stroke-dasharray="1.6,1.2"/>
<line x1="246.3" y1="348.4" x2="270.3" y2="348.4" stroke="#222" stroke-width="0.9"/>
<line x1="276.8" y1="348.4" x2="300.8" y2="348.4" stroke="#222" stroke-width="0.9"/>
<line x1="307.5" y1="348.4" x2="331.5" y2="348.4" stroke="#222" stroke-width="0.9"/>
<line x1="337.7" y1="348.4" x2="361.7" y2="348.4" stroke="#222" stroke-width="0.9"/>
<line x1="368.5" y1="348.4" x2="392.5" y2="348.4" stroke="#222" stroke-width="0.9"/>
<text x="223.5" y="276.3" font-size="12" text-anchor="middle" fill="#000" transform="rotate(-90 223.5 276.3)">VAF</text>
<text x="263.9" y="358.4" font-size="11" text-anchor="end" fill="#111" transform="rotate(-30 263.9 358.4)">IDH1</text>
<text x="291.0" y="358.4" font-size="11" text-anchor="end" fill="#111" transform="rotate(-30 291 358.4)">MLL</text>
<text x="322.9" y="358.4" font-size="11" text-anchor="end" fill="#111" transform="rotate(-30 322.9 358.4)">NCOR2</text>
<text x="355.0" y="358.4" font-size="11" text-anchor="end" fill="#111" transform="rotate(-30 355 358.4)">PIK3C2G</text>
<text x="382.2" y="358.4" font-size="11" text-anchor="end" fill="#111" transform="rotate(-30 382.2 358.4)">ALK</text>
<line x1="455.3" y1="234.6" x2="674.8" y2="234.6" stroke="#bbb" stroke-width="0.7"/>
<line x1="455.3" y1="236.4" x2="674.8" y2="236.4" stroke="#bbb" stroke-width="0.7"/>
<rect x="461.1" y="230.7" width="9.1" height="3.6" fill="none" stroke="#222" stroke-width="1"/>
<rect x="461.1" y="237.0" width="9.1" height="106.5" fill="none" stroke="#222" stroke-width="1"/>
<rect x="472.3" y="230.2" width="9.8" height="113.3" fill="#FF7F7F" stroke="none" stroke-width="1"/>
<rect x="484.0" y="230.2" width="9.8" height="113.3" fill="#B0B0B0" stroke="none" stroke-width="1"/>
<rect x="505.0" y="258.0" width="9.1" height="85.5" fill="none" stroke="#222" stroke-width="1"/>
<rect x="516.2" y="255.0" width="9.8" height="88.5" fill="#FF7F7F" stroke="none" stroke-width="1"/>
<rect x="527.9" y="254.3" width="9.8" height="89.2" fill="#B0B0B0" stroke="none" stroke-width="1"/>
<rect x="548.9" y="250.7" width="9.1" height="92.8" fill="none" stroke="#222" stroke-width="1"/>
<rect x="560.1" y="253.1" width="9.8" height="90.4" fill="#FF7F7F" stroke="none" stroke-width="1"/>
<rect x="571.8" y="249.9" width="9.8" height="93.6" fill="#B0B0B0" stroke="none" stroke-width="1"/>
<rect x="592.8" y="246.5" width="9.1" height="97.0" fill="none" stroke="#222" stroke-width="1"/>
<rect x="604.0" y="246.0" width="9.8" height="97.5" fill="#FF7F7F" stroke="none" stroke-width="1"/>
<rect x="615.7" y="241.2" width="9.8" height="102.3" fill="#B0B0B0" stroke="none" stroke-width="1"/>
<rect x="636.7" y="256.3" width="9.1" height="87.2" fill="none" stroke="#222" stroke-width="1"/>
<rect x="647.9" y="246.6" width="9.8" height="96.9" fill="#FF7F7F" stroke="none" stroke-width="1"/>
<rect x="659.6" y="254.6" width="9.8" height="88.9" fill="#B0B0B0" stroke="none" stroke-width="1"/>
<line x1="455.3" y1="230.0" x2="455.3" y2="233.5" stroke="#222" stroke-width="1"/>
<line x1="455.3" y1="236.5" x2="455.3" y2="343.8" stroke="#222" stroke-width="1"/>
<line x1="455.3" y1="343.8" x2="674.8" y2="343.8" stroke="#222" stroke-width="1"/>
<line x1="452.3" y1="343.5" x2="455.3" y2="343.5" stroke="#222" stroke-width="1"/>
<text x="451.0" y="345.9" font-size="8.2" text-anchor="end" fill="#111">0.00</text>
<line x1="452.3" y1="298.8" x2="455.3" y2="298.8" stroke="#222" stroke-width="1"/>
<text x="451.0" y="301.2" font-size="8.2" text-anchor="end" fill="#111">0.25</text>
<line x1="452.3" y1="254.2" x2="455.3" y2="254.2" stroke="#222" stroke-width="1"/>
<text x="451.0" y="256.6" font-size="8.2" text-anchor="end" fill="#111">0.50</text>
<line x1="453.5" y1="321.2" x2="455.3" y2="321.2" stroke="#222" stroke-width="0.8"/>
<line x1="453.5" y1="276.5" x2="455.3" y2="276.5" stroke="#222" stroke-width="0.8"/>
<line x1="452.3" y1="230.2" x2="455.3" y2="230.2" stroke="#222" stroke-width="1"/>
<text x="451.8" y="233.0" font-size="8.2" text-anchor="end" fill="#111">1.0</text>
<line x1="452.0" y1="236.5" x2="457.0" y2="233.8" stroke="#222" stroke-width="0.8"/>
<line x1="452.0" y1="238.0" x2="457.0" y2="235.3" stroke="#222" stroke-width="0.8"/>
<line x1="455.3" y1="254.2" x2="674.8" y2="254.2" stroke="#444" stroke-width="0.6" stroke-dasharray="1.6,1.2"/>
<line x1="456.4" y1="348.5" x2="491.8" y2="348.5" stroke="#222" stroke-width="0.9"/>
<line x1="500.4" y1="348.5" x2="535.8" y2="348.5" stroke="#222" stroke-width="0.9"/>
<line x1="544.4" y1="348.5" x2="579.8" y2="348.5" stroke="#222" stroke-width="0.9"/>
<line x1="588.4" y1="348.5" x2="623.8" y2="348.5" stroke="#222" stroke-width="0.9"/>
<line x1="632.4" y1="348.5" x2="667.8" y2="348.5" stroke="#222" stroke-width="0.9"/>
<text x="434.3" y="278.2" font-size="12" text-anchor="middle" fill="#000" transform="rotate(-90 434.3 278.2)">VAF</text>
<text x="484.8" y="358.2" font-size="11" text-anchor="end" fill="#111" transform="rotate(-30 484.8 358.2)">TET2</text>
<text x="533.2" y="358.2" font-size="11" text-anchor="end" fill="#111" transform="rotate(-30 533.2 358.2)">ASXL1</text>
<text x="572.5" y="358.2" font-size="11" text-anchor="end" fill="#111" transform="rotate(-30 572.5 358.2)">WT1</text>
<text x="620.3" y="358.2" font-size="11" text-anchor="end" fill="#111" transform="rotate(-30 620.3 358.2)">CREBBP</text>
<text x="659.9" y="358.2" font-size="11" text-anchor="end" fill="#111" transform="rotate(-30 659.9 358.2)">BCORL1</text>
<text x="-0.3" y="396.0" font-size="19.5" text-anchor="start" fill="#000">d.</text>
<text x="46.0" y="402.8" font-size="14.3" text-anchor="middle" fill="#000">Patient</text>
<text x="45.8" y="416.3" font-size="14.3" text-anchor="middle" fill="#000">AML cells</text>
<text x="90.5" y="429.1" font-size="13" text-anchor="start" fill="#000">CFSE-labeled AML</text>
<text x="90.5" y="440.1" font-size="13" text-anchor="start" fill="#000">cell transplantation</text>
<text x="208.3" y="428.9" font-size="13" text-anchor="start" fill="#000">BM harvest and</text>
<text x="208.3" y="439.9" font-size="13" text-anchor="start" fill="#000">cell sorting</text>
<text x="306.6" y="406.7" font-size="14.3" text-anchor="start" fill="#1515FF">Patient AML cells</text>
<text x="306.6" y="420.4" font-size="14.3" text-anchor="start" fill="#1515FF">non-LRCs</text>
<text x="442.0" y="414.3" font-size="13" text-anchor="start" fill="#000">Re-labeled with CFSE</text>
<text x="442.0" y="426.6" font-size="13" text-anchor="start" fill="#000">and transplanted</text>
<text x="594.3" y="413.9" font-size="13" text-anchor="start" fill="#000">BM harvest and</text>
<text x="594.3" y="426.4" font-size="13" text-anchor="start" fill="#000">flow cytometry</text>
<text x="594.3" y="438.8" font-size="13" text-anchor="start" fill="#000">analysis</text>
<text x="306.2" y="572.9" font-size="14.3" text-anchor="start" fill="#000">Patient AML cells</text>
<text x="306.2" y="587.1" font-size="14.3" text-anchor="start" fill="#000">Bullk</text>
<circle cx="43" cy="428.9" r="5.6" fill="#fff" stroke="#111" stroke-width="0.9"/>
<path d="M37.2,435.3 L48.8,435.3 C50.5,435.3 51.6,436 52.2,437.6 L57.6,457.8 C58.3,460.3 56.2,461.8 55,459.8 L51,447.2 L53.4,488.6 C53.6,490.5 52.6,491.1 51,491.1 L48.7,491.1 C47.5,491.1 47,490.4 46.8,489 L43.6,458.5 L42.4,458.5 L39.2,489 C39,490.4 38.5,491.1 37.3,491.1 L35,491.1 C33.4,491.1 32.4,490.5 32.6,488.6 L35,447.2 L31,459.8 C29.8,461.8 27.7,460.3 28.4,457.8 L33.8,437.6 C34.4,436 35.5,435.3 37.2,435.3 Z" fill="#fff" stroke="#111" stroke-width="0.9" stroke-linejoin="round"/>
<line x1="42.6" y1="492.3" x2="42.6" y2="505.0" stroke="#333" stroke-width="1.1"/>
<line x1="42.6" y1="508.4" x2="42.6" y2="521.0" stroke="#333" stroke-width="1.1"/>
<polygon points="42.6,529.6 38.2,518.3 42.6,520.3 47.0,518.3" fill="#333" stroke="none"/>
<line x1="39.1" y1="510.7" x2="46.5" y2="506.7" stroke="#333" stroke-width="0.9"/>
<line x1="39.1" y1="508.1" x2="46.5" y2="504.2" stroke="#333" stroke-width="0.9"/>
<g transform="translate(15.2,549.5) scale(1.0)">
<path d="M43.00,19.50 C44.17,19.63 48.08,19.68 50.00,20.30 C51.92,20.92 53.40,21.92 54.50,23.20 C55.60,24.48 56.42,26.43 56.60,28.00 C56.78,29.57 56.53,31.23 55.60,32.60 C54.67,33.97 53.10,35.23 51.00,36.20 C48.90,37.17 46.00,37.87 43.00,38.40 C40.00,38.93 34.67,39.23 33.00,39.40" fill="none" stroke="#444" stroke-width="1.6" stroke-linecap="round"/>
<path d="M43.00,19.50 C44.17,19.63 48.08,19.68 50.00,20.30 C51.92,20.92 53.40,21.92 54.50,23.20 C55.60,24.48 56.42,26.43 56.60,28.00 C56.78,29.57 56.53,31.23 55.60,32.60 C54.67,33.97 53.10,35.23 51.00,36.20 C48.90,37.17 46.00,37.87 43.00,38.40 C40.00,38.93 34.67,39.23 33.00,39.40" fill="none" stroke="#e2e2e2" stroke-width="0.5"/>
<path d="M0.00,0.00 C0.47,-0.63 1.85,-1.02 3.20,-1.50 C4.55,-1.98 6.60,-2.50 8.10,-2.90 C9.60,-3.30 11.28,-3.55 12.20,-3.90 C13.12,-4.25 13.05,-4.73 13.60,-5.00 C14.15,-5.27 14.85,-5.58 15.50,-5.50 C16.15,-5.42 16.95,-5.00 17.50,-4.50 C18.05,-4.00 18.33,-3.05 18.80,-2.50 C19.27,-1.95 18.88,-1.27 20.30,-1.20 C21.72,-1.13 25.07,-2.15 27.30,-2.10 C29.53,-2.05 31.82,-1.70 33.70,-0.90 C35.58,-0.10 37.25,1.27 38.60,2.70 C39.95,4.13 41.00,5.93 41.80,7.70 C42.60,9.47 43.10,11.48 43.40,13.30 C43.70,15.12 43.40,17.40 43.60,18.60 C43.80,19.80 45.53,19.88 44.60,20.50 C43.67,21.12 40.07,21.83 38.00,22.30 C35.93,22.77 33.93,22.92 32.20,23.30 C30.47,23.68 28.80,24.18 27.60,24.60 C26.40,25.02 25.62,25.77 25.00,25.80 C24.38,25.83 23.83,25.27 23.90,24.80 C23.97,24.33 24.88,23.70 25.40,23.00 C25.92,22.30 26.70,21.63 27.00,20.60 C27.30,19.57 27.80,17.57 27.20,16.80 C26.60,16.03 24.30,15.40 23.40,16.00 C22.50,16.60 22.87,19.37 21.80,20.40 C20.73,21.43 18.75,21.77 17.00,22.20 C15.25,22.63 12.37,23.08 11.30,23.00 C10.23,22.92 10.22,22.43 10.60,21.70 C10.98,20.97 12.90,19.83 13.60,18.60 C14.30,17.37 15.05,15.43 14.80,14.30 C14.55,13.17 13.50,12.75 12.10,11.80 C10.70,10.85 8.02,9.60 6.40,8.60 C4.78,7.60 3.40,6.85 2.40,5.80 C1.40,4.75 0.80,3.27 0.40,2.30 C0.00,1.33 -0.47,0.63 0.00,0.00Z" fill="#DEDEDE" stroke="#3a3a3a" stroke-width="0.75" stroke-linejoin="round"/>
<path d="M14.6,-4.2 C13.9,-2.2 14.3,0.6 15.9,2.2 C17.2,3.2 18.4,2.2 18.5,0.3 M15.2,-1.2 C15.9,-0.3 16.3,0.6 16.1,1.5" fill="none" stroke="#444" stroke-width="0.55"/>
<path d="M30.5,14 C29,15.5 28,16.5 27.3,17.5" fill="none" stroke="#444" stroke-width="0.55"/>
<path d="M21.6,14.2 C21.3,15.5 21.8,17.3 22.6,18" fill="none" stroke="#444" stroke-width="0.5"/>
<circle cx="7.7" cy="2.4" r="0.9" fill="#111"/>
<path d="M1.6,5.8 C2.6,5.2 3.6,6 3.3,6.8 Z" fill="#222"/>
<path d="M0.8,0.6 L-2.8,-1.8 M0.6,0.4 L-1.2,-3.2 M1,0.9 L-3.2,0.2 M3.6,7.6 L4.2,10.2 M4.6,7.8 L5.2,9.6" fill="none" stroke="#444" stroke-width="0.5"/>
</g>
<g transform="translate(108.4,465.0) scale(1.0)">
<path d="M43.50,20.30 C44.42,20.72 47.42,21.80 49.00,22.80 C50.58,23.80 51.97,25.10 53.00,26.30 C54.03,27.50 55.37,28.78 55.20,30.00 C55.03,31.22 53.70,32.43 52.00,33.60 C50.30,34.77 48.13,36.03 45.00,37.00 C41.87,37.97 35.17,39.00 33.20,39.40" fill="none" stroke="#444" stroke-width="1.6" stroke-linecap="round"/>
<path d="M43.50,20.30 C44.42,20.72 47.42,21.80 49.00,22.80 C50.58,23.80 51.97,25.10 53.00,26.30 C54.03,27.50 55.37,28.78 55.20,30.00 C55.03,31.22 53.70,32.43 52.00,33.60 C50.30,34.77 48.13,36.03 45.00,37.00 C41.87,37.97 35.17,39.00 33.20,39.40" fill="none" stroke="#e2e2e2" stroke-width="0.5"/>
<path d="M0.00,0.00 C0.47,-0.63 1.85,-1.02 3.20,-1.50 C4.55,-1.98 6.60,-2.50 8.10,-2.90 C9.60,-3.30 11.28,-3.55 12.20,-3.90 C13.12,-4.25 13.05,-4.73 13.60,-5.00 C14.15,-5.27 14.85,-5.58 15.50,-5.50 C16.15,-5.42 16.95,-5.00 17.50,-4.50 C18.05,-4.00 18.33,-3.05 18.80,-2.50 C19.27,-1.95 18.88,-1.27 20.30,-1.20 C21.72,-1.13 25.07,-2.15 27.30,-2.10 C29.53,-2.05 31.82,-1.70 33.70,-0.90 C35.58,-0.10 37.25,1.27 38.60,2.70 C39.95,4.13 41.00,5.93 41.80,7.70 C42.60,9.47 43.10,11.48 43.40,13.30 C43.70,15.12 43.40,17.40 43.60,18.60 C43.80,19.80 45.53,19.88 44.60,20.50 C43.67,21.12 40.07,21.83 38.00,22.30 C35.93,22.77 33.93,22.92 32.20,23.30 C30.47,23.68 28.80,24.18 27.60,24.60 C26.40,25.02 25.62,25.77 25.00,25.80 C24.38,25.83 23.83,25.27 23.90,24.80 C23.97,24.33 24.88,23.70 25.40,23.00 C25.92,22.30 26.70,21.63 27.00,20.60 C27.30,19.57 27.80,17.57 27.20,16.80 C26.60,16.03 24.30,15.40 23.40,16.00 C22.50,16.60 22.87,19.37 21.80,20.40 C20.73,21.43 18.75,21.77 17.00,22.20 C15.25,22.63 12.37,23.08 11.30,23.00 C10.23,22.92 10.22,22.43 10.60,21.70 C10.98,20.97 12.90,19.83 13.60,18.60 C14.30,17.37 15.05,15.43 14.80,14.30 C14.55,13.17 13.50,12.75 12.10,11.80 C10.70,10.85 8.02,9.60 6.40,8.60 C4.78,7.60 3.40,6.85 2.40,5.80 C1.40,4.75 0.80,3.27 0.40,2.30 C0.00,1.33 -0.47,0.63 0.00,0.00Z" fill="#DEDEDE" stroke="#3a3a3a" stroke-width="0.75" stroke-linejoin="round"/>
<path d="M14.6,-4.2 C13.9,-2.2 14.3,0.6 15.9,2.2 C17.2,3.2 18.4,2.2 18.5,0.3 M15.2,-1.2 C15.9,-0.3 16.3,0.6 16.1,1.5" fill="none" stroke="#444" stroke-width="0.55"/>
<path d="M30.5,14 C29,15.5 28,16.5 27.3,17.5" fill="none" stroke="#444" stroke-width="0.55"/>
<path d="M21.6,14.2 C21.3,15.5 21.8,17.3 22.6,18" fill="none" stroke="#444" stroke-width="0.5"/>
<circle cx="7.7" cy="2.4" r="0.9" fill="#111"/>
<path d="M1.6,5.8 C2.6,5.2 3.6,6 3.3,6.8 Z" fill="#222"/>
<path d="M0.8,0.6 L-2.8,-1.8 M0.6,0.4 L-1.2,-3.2 M1,0.9 L-3.2,0.2 M3.6,7.6 L4.2,10.2 M4.6,7.8 L5.2,9.6" fill="none" stroke="#444" stroke-width="0.5"/>
</g>
<circle cx="163.6" cy="495.0" r="3.5" fill="#1DB157" stroke="none" stroke-width="1"/>
<g transform="translate(169.1,491.8) rotate(-46)">
<line x1="0" y1="0" x2="6.3" y2="0" stroke="#111" stroke-width="0.9"/>
<rect x="6" y="-1.1" width="2.2" height="2.2" fill="#2a6fd6"/>
<path d="M8,-1.6 L10,-2.2 L29.5,-2.2 L29.5,2.2 L10,2.2 L8,1.6 Z" fill="#f2f2f2" stroke="#555" stroke-width="0.6"/>
<rect x="14" y="-1.4" width="15" height="1.5" fill="#555"/>
<rect x="29.5" y="-4.2" width="1.6" height="8.4" fill="#444"/>
<line x1="31" y1="0" x2="35" y2="0" stroke="#999" stroke-width="1.6"/>
<ellipse cx="36.4" cy="0" rx="1.3" ry="2.6" fill="#333"/>
</g>
<g transform="translate(216.1,464.9) scale(1.0)">
<path d="M43.00,19.50 C44.17,19.63 48.08,19.68 50.00,20.30 C51.92,20.92 53.40,21.92 54.50,23.20 C55.60,24.48 56.42,26.43 56.60,28.00 C56.78,29.57 56.53,31.23 55.60,32.60 C54.67,33.97 53.10,35.23 51.00,36.20 C48.90,37.17 46.00,37.87 43.00,38.40 C40.00,38.93 34.67,39.23 33.00,39.40" fill="none" stroke="#444" stroke-width="1.6" stroke-linecap="round"/>
<path d="M43.00,19.50 C44.17,19.63 48.08,19.68 50.00,20.30 C51.92,20.92 53.40,21.92 54.50,23.20 C55.60,24.48 56.42,26.43 56.60,28.00 C56.78,29.57 56.53,31.23 55.60,32.60 C54.67,33.97 53.10,35.23 51.00,36.20 C48.90,37.17 46.00,37.87 43.00,38.40 C40.00,38.93 34.67,39.23 33.00,39.40" fill="none" stroke="#e2e2e2" stroke-width="0.5"/>
<path d="M0.00,0.00 C0.47,-0.63 1.85,-1.02 3.20,-1.50 C4.55,-1.98 6.60,-2.50 8.10,-2.90 C9.60,-3.30 11.28,-3.55 12.20,-3.90 C13.12,-4.25 13.05,-4.73 13.60,-5.00 C14.15,-5.27 14.85,-5.58 15.50,-5.50 C16.15,-5.42 16.95,-5.00 17.50,-4.50 C18.05,-4.00 18.33,-3.05 18.80,-2.50 C19.27,-1.95 18.88,-1.27 20.30,-1.20 C21.72,-1.13 25.07,-2.15 27.30,-2.10 C29.53,-2.05 31.82,-1.70 33.70,-0.90 C35.58,-0.10 37.25,1.27 38.60,2.70 C39.95,4.13 41.00,5.93 41.80,7.70 C42.60,9.47 43.10,11.48 43.40,13.30 C43.70,15.12 43.40,17.40 43.60,18.60 C43.80,19.80 45.53,19.88 44.60,20.50 C43.67,21.12 40.07,21.83 38.00,22.30 C35.93,22.77 33.93,22.92 32.20,23.30 C30.47,23.68 28.80,24.18 27.60,24.60 C26.40,25.02 25.62,25.77 25.00,25.80 C24.38,25.83 23.83,25.27 23.90,24.80 C23.97,24.33 24.88,23.70 25.40,23.00 C25.92,22.30 26.70,21.63 27.00,20.60 C27.30,19.57 27.80,17.57 27.20,16.80 C26.60,16.03 24.30,15.40 23.40,16.00 C22.50,16.60 22.87,19.37 21.80,20.40 C20.73,21.43 18.75,21.77 17.00,22.20 C15.25,22.63 12.37,23.08 11.30,23.00 C10.23,22.92 10.22,22.43 10.60,21.70 C10.98,20.97 12.90,19.83 13.60,18.60 C14.30,17.37 15.05,15.43 14.80,14.30 C14.55,13.17 13.50,12.75 12.10,11.80 C10.70,10.85 8.02,9.60 6.40,8.60 C4.78,7.60 3.40,6.85 2.40,5.80 C1.40,4.75 0.80,3.27 0.40,2.30 C0.00,1.33 -0.47,0.63 0.00,0.00Z" fill="#DEDEDE" stroke="#3a3a3a" stroke-width="0.75" stroke-linejoin="round"/>
<path d="M14.6,-4.2 C13.9,-2.2 14.3,0.6 15.9,2.2 C17.2,3.2 18.4,2.2 18.5,0.3 M15.2,-1.2 C15.9,-0.3 16.3,0.6 16.1,1.5" fill="none" stroke="#444" stroke-width="0.55"/>
<path d="M30.5,14 C29,15.5 28,16.5 27.3,17.5" fill="none" stroke="#444" stroke-width="0.55"/>
<path d="M21.6,14.2 C21.3,15.5 21.8,17.3 22.6,18" fill="none" stroke="#444" stroke-width="0.5"/>
<circle cx="7.7" cy="2.4" r="0.9" fill="#111"/>
<path d="M1.6,5.8 C2.6,5.2 3.6,6 3.3,6.8 Z" fill="#222"/>
<path d="M0.8,0.6 L-2.8,-1.8 M0.6,0.4 L-1.2,-3.2 M1,0.9 L-3.2,0.2 M3.6,7.6 L4.2,10.2 M4.6,7.8 L5.2,9.6" fill="none" stroke="#444" stroke-width="0.5"/>
</g>
<g>
<circle cx="434.0" cy="479.4" r="3.35" fill="#B3B3B3" stroke="#fff" stroke-width="0.22"/>
<circle cx="424.8" cy="485.1" r="3.35" fill="#B3B3B3" stroke="#fff" stroke-width="0.22"/>
<circle cx="437.5" cy="485.1" r="3.35" fill="#B3B3B3" stroke="#fff" stroke-width="0.22"/>
<circle cx="430.3" cy="486.8" r="3.35" fill="#B3B3B3" stroke="#fff" stroke-width="0.22"/>
<circle cx="428.0" cy="489.2" r="3.35" fill="#B3B3B3" stroke="#fff" stroke-width="0.22"/>
<circle cx="436.5" cy="488.6" r="3.35" fill="#B3B3B3" stroke="#fff" stroke-width="0.22"/>
<circle cx="440.2" cy="491.3" r="3.35" fill="#B3B3B3" stroke="#fff" stroke-width="0.22"/>
<circle cx="420.4" cy="492.8" r="3.35" fill="#B3B3B3" stroke="#fff" stroke-width="0.22"/>
<circle cx="428.3" cy="492.8" r="3.35" fill="#B3B3B3" stroke="#fff" stroke-width="0.22"/>
<circle cx="422.8" cy="496.8" r="3.35" fill="#B3B3B3" stroke="#fff" stroke-width="0.22"/>
<circle cx="434.2" cy="496.8" r="3.35" fill="#B3B3B3" stroke="#fff" stroke-width="0.22"/>
<circle cx="425.5" cy="500.5" r="3.35" fill="#B3B3B3" stroke="#fff" stroke-width="0.22"/>
<circle cx="434.9" cy="492.0" r="3.35" fill="#B3B3B3" stroke="#fff" stroke-width="0.22"/>
</g>
<line x1="446.2" y1="490.5" x2="459.2" y2="490.5" stroke="#262626" stroke-width="1.25"/>
<polygon points="467.9,490.5 458.2,494.6 460.2,490.5 458.2,486.4" fill="#262626" stroke="none"/>
<g>
<circle cx="489.5" cy="479.6" r="3.35" fill="#27B36F" stroke="#fff" stroke-width="0.22"/>
<circle cx="480.3" cy="485.3" r="3.35" fill="#27B36F" stroke="#fff" stroke-width="0.22"/>
<circle cx="493.0" cy="485.3" r="3.35" fill="#27B36F" stroke="#fff" stroke-width="0.22"/>
<circle cx="485.8" cy="487.0" r="3.35" fill="#27B36F" stroke="#fff" stroke-width="0.22"/>
<circle cx="483.5" cy="489.4" r="3.35" fill="#27B36F" stroke="#fff" stroke-width="0.22"/>
<circle cx="492.0" cy="488.8" r="3.35" fill="#27B36F" stroke="#fff" stroke-width="0.22"/>
<circle cx="495.7" cy="491.5" r="3.35" fill="#27B36F" stroke="#fff" stroke-width="0.22"/>
<circle cx="475.9" cy="493.0" r="3.35" fill="#27B36F" stroke="#fff" stroke-width="0.22"/>
<circle cx="483.8" cy="493.0" r="3.35" fill="#27B36F" stroke="#fff" stroke-width="0.22"/>
<circle cx="478.3" cy="497.0" r="3.35" fill="#27B36F" stroke="#fff" stroke-width="0.22"/>
<circle cx="489.7" cy="497.0" r="3.35" fill="#27B36F" stroke="#fff" stroke-width="0.22"/>
<circle cx="481.0" cy="500.7" r="3.35" fill="#27B36F" stroke="#fff" stroke-width="0.22"/>
<circle cx="490.4" cy="492.2" r="3.35" fill="#27B36F" stroke="#fff" stroke-width="0.22"/>
</g>
<g transform="translate(510.7,470.6) scale(1.0)">
<path d="M43.50,20.30 C44.42,20.72 47.42,21.80 49.00,22.80 C50.58,23.80 51.97,25.10 53.00,26.30 C54.03,27.50 55.37,28.78 55.20,30.00 C55.03,31.22 53.70,32.43 52.00,33.60 C50.30,34.77 48.13,36.03 45.00,37.00 C41.87,37.97 35.17,39.00 33.20,39.40" fill="none" stroke="#444" stroke-width="1.6" stroke-linecap="round"/>
<path d="M43.50,20.30 C44.42,20.72 47.42,21.80 49.00,22.80 C50.58,23.80 51.97,25.10 53.00,26.30 C54.03,27.50 55.37,28.78 55.20,30.00 C55.03,31.22 53.70,32.43 52.00,33.60 C50.30,34.77 48.13,36.03 45.00,37.00 C41.87,37.97 35.17,39.00 33.20,39.40" fill="none" stroke="#e2e2e2" stroke-width="0.5"/>
<path d="M0.00,0.00 C0.47,-0.63 1.85,-1.02 3.20,-1.50 C4.55,-1.98 6.60,-2.50 8.10,-2.90 C9.60,-3.30 11.28,-3.55 12.20,-3.90 C13.12,-4.25 13.05,-4.73 13.60,-5.00 C14.15,-5.27 14.85,-5.58 15.50,-5.50 C16.15,-5.42 16.95,-5.00 17.50,-4.50 C18.05,-4.00 18.33,-3.05 18.80,-2.50 C19.27,-1.95 18.88,-1.27 20.30,-1.20 C21.72,-1.13 25.07,-2.15 27.30,-2.10 C29.53,-2.05 31.82,-1.70 33.70,-0.90 C35.58,-0.10 37.25,1.27 38.60,2.70 C39.95,4.13 41.00,5.93 41.80,7.70 C42.60,9.47 43.10,11.48 43.40,13.30 C43.70,15.12 43.40,17.40 43.60,18.60 C43.80,19.80 45.53,19.88 44.60,20.50 C43.67,21.12 40.07,21.83 38.00,22.30 C35.93,22.77 33.93,22.92 32.20,23.30 C30.47,23.68 28.80,24.18 27.60,24.60 C26.40,25.02 25.62,25.77 25.00,25.80 C24.38,25.83 23.83,25.27 23.90,24.80 C23.97,24.33 24.88,23.70 25.40,23.00 C25.92,22.30 26.70,21.63 27.00,20.60 C27.30,19.57 27.80,17.57 27.20,16.80 C26.60,16.03 24.30,15.40 23.40,16.00 C22.50,16.60 22.87,19.37 21.80,20.40 C20.73,21.43 18.75,21.77 17.00,22.20 C15.25,22.63 12.37,23.08 11.30,23.00 C10.23,22.92 10.22,22.43 10.60,21.70 C10.98,20.97 12.90,19.83 13.60,18.60 C14.30,17.37 15.05,15.43 14.80,14.30 C14.55,13.17 13.50,12.75 12.10,11.80 C10.70,10.85 8.02,9.60 6.40,8.60 C4.78,7.60 3.40,6.85 2.40,5.80 C1.40,4.75 0.80,3.27 0.40,2.30 C0.00,1.33 -0.47,0.63 0.00,0.00Z" fill="#DEDEDE" stroke="#3a3a3a" stroke-width="0.75" stroke-linejoin="round"/>
<path d="M14.6,-4.2 C13.9,-2.2 14.3,0.6 15.9,2.2 C17.2,3.2 18.4,2.2 18.5,0.3 M15.2,-1.2 C15.9,-0.3 16.3,0.6 16.1,1.5" fill="none" stroke="#444" stroke-width="0.55"/>
<path d="M30.5,14 C29,15.5 28,16.5 27.3,17.5" fill="none" stroke="#444" stroke-width="0.55"/>
<path d="M21.6,14.2 C21.3,15.5 21.8,17.3 22.6,18" fill="none" stroke="#444" stroke-width="0.5"/>
<circle cx="7.7" cy="2.4" r="0.9" fill="#111"/>
<path d="M1.6,5.8 C2.6,5.2 3.6,6 3.3,6.8 Z" fill="#222"/>
<path d="M0.8,0.6 L-2.8,-1.8 M0.6,0.4 L-1.2,-3.2 M1,0.9 L-3.2,0.2 M3.6,7.6 L4.2,10.2 M4.6,7.8 L5.2,9.6" fill="none" stroke="#444" stroke-width="0.5"/>
</g>
<circle cx="565.9" cy="500.6" r="3.5" fill="#1DB157" stroke="none" stroke-width="1"/>
<g transform="translate(567.6,497.6) rotate(-46)">
<line x1="0" y1="0" x2="6.3" y2="0" stroke="#111" stroke-width="0.9"/>
<rect x="6" y="-1.1" width="2.2" height="2.2" fill="#2a6fd6"/>
<path d="M8,-1.6 L10,-2.2 L29.5,-2.2 L29.5,2.2 L10,2.2 L8,1.6 Z" fill="#f2f2f2" stroke="#555" stroke-width="0.6"/>
<rect x="14" y="-1.4" width="15" height="1.5" fill="#555"/>
<rect x="29.5" y="-4.2" width="1.6" height="8.4" fill="#444"/>
<line x1="31" y1="0" x2="35" y2="0" stroke="#999" stroke-width="1.6"/>
<ellipse cx="36.4" cy="0" rx="1.3" ry="2.6" fill="#333"/>
</g>
<line x1="582.3" y1="492.7" x2="594.9" y2="492.7" stroke="#262626" stroke-width="1.25"/>
<polygon points="603.6,492.7 593.9,496.8 595.9,492.7 593.9,488.6" fill="#262626" stroke="none"/>
<g transform="translate(606.2,470.1) scale(1.0)">
<path d="M43.00,19.50 C44.17,19.63 48.08,19.68 50.00,20.30 C51.92,20.92 53.40,21.92 54.50,23.20 C55.60,24.48 56.42,26.43 56.60,28.00 C56.78,29.57 56.53,31.23 55.60,32.60 C54.67,33.97 53.10,35.23 51.00,36.20 C48.90,37.17 46.00,37.87 43.00,38.40 C40.00,38.93 34.67,39.23 33.00,39.40" fill="none" stroke="#444" stroke-width="1.6" stroke-linecap="round"/>
<path d="M43.00,19.50 C44.17,19.63 48.08,19.68 50.00,20.30 C51.92,20.92 53.40,21.92 54.50,23.20 C55.60,24.48 56.42,26.43 56.60,28.00 C56.78,29.57 56.53,31.23 55.60,32.60 C54.67,33.97 53.10,35.23 51.00,36.20 C48.90,37.17 46.00,37.87 43.00,38.40 C40.00,38.93 34.67,39.23 33.00,39.40" fill="none" stroke="#e2e2e2" stroke-width="0.5"/>
<path d="M0.00,0.00 C0.47,-0.63 1.85,-1.02 3.20,-1.50 C4.55,-1.98 6.60,-2.50 8.10,-2.90 C9.60,-3.30 11.28,-3.55 12.20,-3.90 C13.12,-4.25 13.05,-4.73 13.60,-5.00 C14.15,-5.27 14.85,-5.58 15.50,-5.50 C16.15,-5.42 16.95,-5.00 17.50,-4.50 C18.05,-4.00 18.33,-3.05 18.80,-2.50 C19.27,-1.95 18.88,-1.27 20.30,-1.20 C21.72,-1.13 25.07,-2.15 27.30,-2.10 C29.53,-2.05 31.82,-1.70 33.70,-0.90 C35.58,-0.10 37.25,1.27 38.60,2.70 C39.95,4.13 41.00,5.93 41.80,7.70 C42.60,9.47 43.10,11.48 43.40,13.30 C43.70,15.12 43.40,17.40 43.60,18.60 C43.80,19.80 45.53,19.88 44.60,20.50 C43.67,21.12 40.07,21.83 38.00,22.30 C35.93,22.77 33.93,22.92 32.20,23.30 C30.47,23.68 28.80,24.18 27.60,24.60 C26.40,25.02 25.62,25.77 25.00,25.80 C24.38,25.83 23.83,25.27 23.90,24.80 C23.97,24.33 24.88,23.70 25.40,23.00 C25.92,22.30 26.70,21.63 27.00,20.60 C27.30,19.57 27.80,17.57 27.20,16.80 C26.60,16.03 24.30,15.40 23.40,16.00 C22.50,16.60 22.87,19.37 21.80,20.40 C20.73,21.43 18.75,21.77 17.00,22.20 C15.25,22.63 12.37,23.08 11.30,23.00 C10.23,22.92 10.22,22.43 10.60,21.70 C10.98,20.97 12.90,19.83 13.60,18.60 C14.30,17.37 15.05,15.43 14.80,14.30 C14.55,13.17 13.50,12.75 12.10,11.80 C10.70,10.85 8.02,9.60 6.40,8.60 C4.78,7.60 3.40,6.85 2.40,5.80 C1.40,4.75 0.80,3.27 0.40,2.30 C0.00,1.33 -0.47,0.63 0.00,0.00Z" fill="#DEDEDE" stroke="#3a3a3a" stroke-width="0.75" stroke-linejoin="round"/>
<path d="M14.6,-4.2 C13.9,-2.2 14.3,0.6 15.9,2.2 C17.2,3.2 18.4,2.2 18.5,0.3 M15.2,-1.2 C15.9,-0.3 16.3,0.6 16.1,1.5" fill="none" stroke="#444" stroke-width="0.55"/>
<path d="M30.5,14 C29,15.5 28,16.5 27.3,17.5" fill="none" stroke="#444" stroke-width="0.55"/>
<path d="M21.6,14.2 C21.3,15.5 21.8,17.3 22.6,18" fill="none" stroke="#444" stroke-width="0.5"/>
<circle cx="7.7" cy="2.4" r="0.9" fill="#111"/>
<path d="M1.6,5.8 C2.6,5.2 3.6,6 3.3,6.8 Z" fill="#222"/>
<path d="M0.8,0.6 L-2.8,-1.8 M0.6,0.4 L-1.2,-3.2 M1,0.9 L-3.2,0.2 M3.6,7.6 L4.2,10.2 M4.6,7.8 L5.2,9.6" fill="none" stroke="#444" stroke-width="0.5"/>
</g>
<path d="M636.4,466.0 C641.2,458.2 647.9,455.0 659.4,455.9" fill="none" stroke="#111" stroke-width="1.3"/>
<polygon points="666.4,457.7 659.6,451.6 660.2,455.8 657.4,458.6" fill="#111" stroke="none"/>
<circle cx="676.7" cy="462.5" r="3.25" fill="#C4E2B6" stroke="none" stroke-width="1"/>
<circle cx="667.7" cy="468.5" r="3.25" fill="#80C955" stroke="none" stroke-width="1"/>
<circle cx="675.4" cy="468.7" r="3.25" fill="#80C955" stroke="none" stroke-width="1"/>
<circle cx="680.4" cy="468.5" r="3.25" fill="#16AE4C" stroke="none" stroke-width="1"/>
<circle cx="672.1" cy="471.6" r="3.25" fill="#C4E2B6" stroke="none" stroke-width="1"/>
<circle cx="683.3" cy="474.5" r="3.25" fill="#80C955" stroke="none" stroke-width="1"/>
<circle cx="679.2" cy="475.4" r="3.25" fill="#C4E2B6" stroke="none" stroke-width="1"/>
<circle cx="663.5" cy="476.3" r="3.25" fill="#C4E2B6" stroke="none" stroke-width="1"/>
<circle cx="671.2" cy="477.1" r="3.25" fill="#80C955" stroke="none" stroke-width="1"/>
<circle cx="665.5" cy="480.4" r="3.25" fill="#80C955" stroke="none" stroke-width="1"/>
<circle cx="676.7" cy="480.6" r="3.25" fill="#16AE4C" stroke="none" stroke-width="1"/>
<circle cx="668.7" cy="483.9" r="3.25" fill="#C4E2B6" stroke="none" stroke-width="1"/>
<g>
<circle cx="434.0" cy="570.4" r="3.35" fill="#B3B3B3" stroke="#fff" stroke-width="0.22"/>
<circle cx="424.8" cy="576.1" r="3.35" fill="#B3B3B3" stroke="#fff" stroke-width="0.22"/>
<circle cx="437.5" cy="576.1" r="3.35" fill="#B3B3B3" stroke="#fff" stroke-width="0.22"/>
<circle cx="430.3" cy="577.8" r="3.35" fill="#B3B3B3" stroke="#fff" stroke-width="0.22"/>
<circle cx="428.0" cy="580.2" r="3.35" fill="#B3B3B3" stroke="#fff" stroke-width="0.22"/>
<circle cx="436.5" cy="579.6" r="3.35" fill="#B3B3B3" stroke="#fff" stroke-width="0.22"/>
<circle cx="440.2" cy="582.3" r="3.35" fill="#B3B3B3" stroke="#fff" stroke-width="0.22"/>
<circle cx="420.4" cy="583.8" r="3.35" fill="#B3B3B3" stroke="#fff" stroke-width="0.22"/>
<circle cx="428.3" cy="583.8" r="3.35" fill="#B3B3B3" stroke="#fff" stroke-width="0.22"/>
<circle cx="422.8" cy="587.8" r="3.35" fill="#B3B3B3" stroke="#fff" stroke-width="0.22"/>
<circle cx="434.2" cy="587.8" r="3.35" fill="#B3B3B3" stroke="#fff" stroke-width="0.22"/>
<circle cx="425.5" cy="591.5" r="3.35" fill="#B3B3B3" stroke="#fff" stroke-width="0.22"/>
<circle cx="434.9" cy="583.0" r="3.35" fill="#B3B3B3" stroke="#fff" stroke-width="0.22"/>
</g>
<line x1="446.2" y1="581.5" x2="459.2" y2="581.5" stroke="#262626" stroke-width="1.25"/>
<polygon points="467.9,581.5 458.2,585.6 460.2,581.5 458.2,577.4" fill="#262626" stroke="none"/>
<g>
<circle cx="489.5" cy="570.6" r="3.35" fill="#27B36F" stroke="#fff" stroke-width="0.22"/>
<circle cx="480.3" cy="576.3" r="3.35" fill="#27B36F" stroke="#fff" stroke-width="0.22"/>
<circle cx="493.0" cy="576.3" r="3.35" fill="#27B36F" stroke="#fff" stroke-width="0.22"/>
<circle cx="485.8" cy="578.0" r="3.35" fill="#27B36F" stroke="#fff" stroke-width="0.22"/>
<circle cx="483.5" cy="580.4" r="3.35" fill="#27B36F" stroke="#fff" stroke-width="0.22"/>
<circle cx="492.0" cy="579.8" r="3.35" fill="#27B36F" stroke="#fff" stroke-width="0.22"/>
<circle cx="495.7" cy="582.5" r="3.35" fill="#27B36F" stroke="#fff" stroke-width="0.22"/>
<circle cx="475.9" cy="584.0" r="3.35" fill="#27B36F" stroke="#fff" stroke-width="0.22"/>
<circle cx="483.8" cy="584.0" r="3.35" fill="#27B36F" stroke="#fff" stroke-width="0.22"/>
<circle cx="478.3" cy="588.0" r="3.35" fill="#27B36F" stroke="#fff" stroke-width="0.22"/>
<circle cx="489.7" cy="588.0" r="3.35" fill="#27B36F" stroke="#fff" stroke-width="0.22"/>
<circle cx="481.0" cy="591.7" r="3.35" fill="#27B36F" stroke="#fff" stroke-width="0.22"/>
<circle cx="490.4" cy="583.2" r="3.35" fill="#27B36F" stroke="#fff" stroke-width="0.22"/>
</g>
<g transform="translate(510.7,561.6) scale(1.0)">
<path d="M43.50,20.30 C44.42,20.72 47.42,21.80 49.00,22.80 C50.58,23.80 51.97,25.10 53.00,26.30 C54.03,27.50 55.37,28.78 55.20,30.00 C55.03,31.22 53.70,32.43 52.00,33.60 C50.30,34.77 48.13,36.03 45.00,37.00 C41.87,37.97 35.17,39.00 33.20,39.40" fill="none" stroke="#444" stroke-width="1.6" stroke-linecap="round"/>
<path d="M43.50,20.30 C44.42,20.72 47.42,21.80 49.00,22.80 C50.58,23.80 51.97,25.10 53.00,26.30 C54.03,27.50 55.37,28.78 55.20,30.00 C55.03,31.22 53.70,32.43 52.00,33.60 C50.30,34.77 48.13,36.03 45.00,37.00 C41.87,37.97 35.17,39.00 33.20,39.40" fill="none" stroke="#e2e2e2" stroke-width="0.5"/>
<path d="M0.00,0.00 C0.47,-0.63 1.85,-1.02 3.20,-1.50 C4.55,-1.98 6.60,-2.50 8.10,-2.90 C9.60,-3.30 11.28,-3.55 12.20,-3.90 C13.12,-4.25 13.05,-4.73 13.60,-5.00 C14.15,-5.27 14.85,-5.58 15.50,-5.50 C16.15,-5.42 16.95,-5.00 17.50,-4.50 C18.05,-4.00 18.33,-3.05 18.80,-2.50 C19.27,-1.95 18.88,-1.27 20.30,-1.20 C21.72,-1.13 25.07,-2.15 27.30,-2.10 C29.53,-2.05 31.82,-1.70 33.70,-0.90 C35.58,-0.10 37.25,1.27 38.60,2.70 C39.95,4.13 41.00,5.93 41.80,7.70 C42.60,9.47 43.10,11.48 43.40,13.30 C43.70,15.12 43.40,17.40 43.60,18.60 C43.80,19.80 45.53,19.88 44.60,20.50 C43.67,21.12 40.07,21.83 38.00,22.30 C35.93,22.77 33.93,22.92 32.20,23.30 C30.47,23.68 28.80,24.18 27.60,24.60 C26.40,25.02 25.62,25.77 25.00,25.80 C24.38,25.83 23.83,25.27 23.90,24.80 C23.97,24.33 24.88,23.70 25.40,23.00 C25.92,22.30 26.70,21.63 27.00,20.60 C27.30,19.57 27.80,17.57 27.20,16.80 C26.60,16.03 24.30,15.40 23.40,16.00 C22.50,16.60 22.87,19.37 21.80,20.40 C20.73,21.43 18.75,21.77 17.00,22.20 C15.25,22.63 12.37,23.08 11.30,23.00 C10.23,22.92 10.22,22.43 10.60,21.70 C10.98,20.97 12.90,19.83 13.60,18.60 C14.30,17.37 15.05,15.43 14.80,14.30 C14.55,13.17 13.50,12.75 12.10,11.80 C10.70,10.85 8.02,9.60 6.40,8.60 C4.78,7.60 3.40,6.85 2.40,5.80 C1.40,4.75 0.80,3.27 0.40,2.30 C0.00,1.33 -0.47,0.63 0.00,0.00Z" fill="#DEDEDE" stroke="#3a3a3a" stroke-width="0.75" stroke-linejoin="round"/>
<path d="M14.6,-4.2 C13.9,-2.2 14.3,0.6 15.9,2.2 C17.2,3.2 18.4,2.2 18.5,0.3 M15.2,-1.2 C15.9,-0.3 16.3,0.6 16.1,1.5" fill="none" stroke="#444" stroke-width="0.55"/>
<path d="M30.5,14 C29,15.5 28,16.5 27.3,17.5" fill="none" stroke="#444" stroke-width="0.55"/>
<path d="M21.6,14.2 C21.3,15.5 21.8,17.3 22.6,18" fill="none" stroke="#444" stroke-width="0.5"/>
<circle cx="7.7" cy="2.4" r="0.9" fill="#111"/>
<path d="M1.6,5.8 C2.6,5.2 3.6,6 3.3,6.8 Z" fill="#222"/>
<path d="M0.8,0.6 L-2.8,-1.8 M0.6,0.4 L-1.2,-3.2 M1,0.9 L-3.2,0.2 M3.6,7.6 L4.2,10.2 M4.6,7.8 L5.2,9.6" fill="none" stroke="#444" stroke-width="0.5"/>
</g>
<circle cx="565.9" cy="591.6" r="3.5" fill="#1DB157" stroke="none" stroke-width="1"/>
<g transform="translate(567.6,588.6) rotate(-46)">
<line x1="0" y1="0" x2="6.3" y2="0" stroke="#111" stroke-width="0.9"/>
<rect x="6" y="-1.1" width="2.2" height="2.2" fill="#2a6fd6"/>
<path d="M8,-1.6 L10,-2.2 L29.5,-2.2 L29.5,2.2 L10,2.2 L8,1.6 Z" fill="#f2f2f2" stroke="#555" stroke-width="0.6"/>
<rect x="14" y="-1.4" width="15" height="1.5" fill="#555"/>
<rect x="29.5" y="-4.2" width="1.6" height="8.4" fill="#444"/>
<line x1="31" y1="0" x2="35" y2="0" stroke="#999" stroke-width="1.6"/>
<ellipse cx="36.4" cy="0" rx="1.3" ry="2.6" fill="#333"/>
</g>
<line x1="582.3" y1="583.7" x2="594.9" y2="583.7" stroke="#262626" stroke-width="1.25"/>
<polygon points="603.6,583.7 593.9,587.8 595.9,583.7 593.9,579.6" fill="#262626" stroke="none"/>
<g transform="translate(606.2,561.1) scale(1.0)">
<path d="M43.00,19.50 C44.17,19.63 48.08,19.68 50.00,20.30 C51.92,20.92 53.40,21.92 54.50,23.20 C55.60,24.48 56.42,26.43 56.60,28.00 C56.78,29.57 56.53,31.23 55.60,32.60 C54.67,33.97 53.10,35.23 51.00,36.20 C48.90,37.17 46.00,37.87 43.00,38.40 C40.00,38.93 34.67,39.23 33.00,39.40" fill="none" stroke="#444" stroke-width="1.6" stroke-linecap="round"/>
<path d="M43.00,19.50 C44.17,19.63 48.08,19.68 50.00,20.30 C51.92,20.92 53.40,21.92 54.50,23.20 C55.60,24.48 56.42,26.43 56.60,28.00 C56.78,29.57 56.53,31.23 55.60,32.60 C54.67,33.97 53.10,35.23 51.00,36.20 C48.90,37.17 46.00,37.87 43.00,38.40 C40.00,38.93 34.67,39.23 33.00,39.40" fill="none" stroke="#e2e2e2" stroke-width="0.5"/>
<path d="M0.00,0.00 C0.47,-0.63 1.85,-1.02 3.20,-1.50 C4.55,-1.98 6.60,-2.50 8.10,-2.90 C9.60,-3.30 11.28,-3.55 12.20,-3.90 C13.12,-4.25 13.05,-4.73 13.60,-5.00 C14.15,-5.27 14.85,-5.58 15.50,-5.50 C16.15,-5.42 16.95,-5.00 17.50,-4.50 C18.05,-4.00 18.33,-3.05 18.80,-2.50 C19.27,-1.95 18.88,-1.27 20.30,-1.20 C21.72,-1.13 25.07,-2.15 27.30,-2.10 C29.53,-2.05 31.82,-1.70 33.70,-0.90 C35.58,-0.10 37.25,1.27 38.60,2.70 C39.95,4.13 41.00,5.93 41.80,7.70 C42.60,9.47 43.10,11.48 43.40,13.30 C43.70,15.12 43.40,17.40 43.60,18.60 C43.80,19.80 45.53,19.88 44.60,20.50 C43.67,21.12 40.07,21.83 38.00,22.30 C35.93,22.77 33.93,22.92 32.20,23.30 C30.47,23.68 28.80,24.18 27.60,24.60 C26.40,25.02 25.62,25.77 25.00,25.80 C24.38,25.83 23.83,25.27 23.90,24.80 C23.97,24.33 24.88,23.70 25.40,23.00 C25.92,22.30 26.70,21.63 27.00,20.60 C27.30,19.57 27.80,17.57 27.20,16.80 C26.60,16.03 24.30,15.40 23.40,16.00 C22.50,16.60 22.87,19.37 21.80,20.40 C20.73,21.43 18.75,21.77 17.00,22.20 C15.25,22.63 12.37,23.08 11.30,23.00 C10.23,22.92 10.22,22.43 10.60,21.70 C10.98,20.97 12.90,19.83 13.60,18.60 C14.30,17.37 15.05,15.43 14.80,14.30 C14.55,13.17 13.50,12.75 12.10,11.80 C10.70,10.85 8.02,9.60 6.40,8.60 C4.78,7.60 3.40,6.85 2.40,5.80 C1.40,4.75 0.80,3.27 0.40,2.30 C0.00,1.33 -0.47,0.63 0.00,0.00Z" fill="#DEDEDE" stroke="#3a3a3a" stroke-width="0.75" stroke-linejoin="round"/>
<path d="M14.6,-4.2 C13.9,-2.2 14.3,0.6 15.9,2.2 C17.2,3.2 18.4,2.2 18.5,0.3 M15.2,-1.2 C15.9,-0.3 16.3,0.6 16.1,1.5" fill="none" stroke="#444" stroke-width="0.55"/>
<path d="M30.5,14 C29,15.5 28,16.5 27.3,17.5" fill="none" stroke="#444" stroke-width="0.55"/>
<path d="M21.6,14.2 C21.3,15.5 21.8,17.3 22.6,18" fill="none" stroke="#444" stroke-width="0.5"/>
<circle cx="7.7" cy="2.4" r="0.9" fill="#111"/>
<path d="M1.6,5.8 C2.6,5.2 3.6,6 3.3,6.8 Z" fill="#222"/>
<path d="M0.8,0.6 L-2.8,-1.8 M0.6,0.4 L-1.2,-3.2 M1,0.9 L-3.2,0.2 M3.6,7.6 L4.2,10.2 M4.6,7.8 L5.2,9.6" fill="none" stroke="#444" stroke-width="0.5"/>
</g>
<path d="M636.4,557.0 C641.2,549.2 647.9,546.0 659.4,546.9" fill="none" stroke="#111" stroke-width="1.3"/>
<polygon points="666.4,548.7 659.6,542.6 660.2,546.8 657.4,549.6" fill="#111" stroke="none"/>
<circle cx="676.7" cy="553.5" r="3.25" fill="#C4E2B6" stroke="none" stroke-width="1"/>
<circle cx="667.7" cy="559.5" r="3.25" fill="#80C955" stroke="none" stroke-width="1"/>
<circle cx="675.4" cy="559.7" r="3.25" fill="#80C955" stroke="none" stroke-width="1"/>
<circle cx="680.4" cy="559.5" r="3.25" fill="#16AE4C" stroke="none" stroke-width="1"/>
<circle cx="672.1" cy="562.6" r="3.25" fill="#C4E2B6" stroke="none" stroke-width="1"/>
<circle cx="683.3" cy="565.5" r="3.25" fill="#80C955" stroke="none" stroke-width="1"/>
<circle cx="679.2" cy="566.4" r="3.25" fill="#C4E2B6" stroke="none" stroke-width="1"/>
<circle cx="663.5" cy="567.3" r="3.25" fill="#C4E2B6" stroke="none" stroke-width="1"/>
<circle cx="671.2" cy="568.1" r="3.25" fill="#80C955" stroke="none" stroke-width="1"/>
<circle cx="665.5" cy="571.4" r="3.25" fill="#80C955" stroke="none" stroke-width="1"/>
<circle cx="676.7" cy="571.6" r="3.25" fill="#16AE4C" stroke="none" stroke-width="1"/>
<circle cx="668.7" cy="574.9" r="3.25" fill="#C4E2B6" stroke="none" stroke-width="1"/>
<path d="M44.1,544.9 C48.9,537.1 55.6,533.9 67.1,534.8" fill="none" stroke="#111" stroke-width="1.3"/>
<polygon points="74.1,536.6 67.3,530.5 67.9,534.7 65.1,537.5" fill="#111" stroke="none"/>
<g>
<circle cx="84.1" cy="544.4" r="3.35" fill="#B3B3B3" stroke="#fff" stroke-width="0.22"/>
<circle cx="74.9" cy="550.1" r="3.35" fill="#B3B3B3" stroke="#fff" stroke-width="0.22"/>
<circle cx="87.6" cy="550.1" r="3.35" fill="#B3B3B3" stroke="#fff" stroke-width="0.22"/>
<circle cx="80.4" cy="551.8" r="3.35" fill="#B3B3B3" stroke="#fff" stroke-width="0.22"/>
<circle cx="78.1" cy="554.2" r="3.35" fill="#B3B3B3" stroke="#fff" stroke-width="0.22"/>
<circle cx="86.6" cy="553.6" r="3.35" fill="#B3B3B3" stroke="#fff" stroke-width="0.22"/>
<circle cx="90.3" cy="556.3" r="3.35" fill="#B3B3B3" stroke="#fff" stroke-width="0.22"/>
<circle cx="70.5" cy="557.8" r="3.35" fill="#B3B3B3" stroke="#fff" stroke-width="0.22"/>
<circle cx="78.4" cy="557.8" r="3.35" fill="#B3B3B3" stroke="#fff" stroke-width="0.22"/>
<circle cx="72.9" cy="561.8" r="3.35" fill="#B3B3B3" stroke="#fff" stroke-width="0.22"/>
<circle cx="84.3" cy="561.8" r="3.35" fill="#B3B3B3" stroke="#fff" stroke-width="0.22"/>
<circle cx="75.6" cy="565.5" r="3.35" fill="#B3B3B3" stroke="#fff" stroke-width="0.22"/>
<circle cx="85.0" cy="557.0" r="3.35" fill="#B3B3B3" stroke="#fff" stroke-width="0.22"/>
</g>
<line x1="93.9" y1="540.5" x2="101.7" y2="531.4" stroke="#262626" stroke-width="1.25"/>
<polygon points="107.3,524.8 104.1,534.8 102.3,530.7 97.9,529.5" fill="#262626" stroke="none"/>
<g>
<circle cx="122.1" cy="497.4" r="3.35" fill="#27B36F" stroke="#fff" stroke-width="0.22"/>
<circle cx="112.9" cy="503.1" r="3.35" fill="#27B36F" stroke="#fff" stroke-width="0.22"/>
<circle cx="125.6" cy="503.1" r="3.35" fill="#27B36F" stroke="#fff" stroke-width="0.22"/>
<circle cx="118.4" cy="504.8" r="3.35" fill="#27B36F" stroke="#fff" stroke-width="0.22"/>
<circle cx="116.1" cy="507.2" r="3.35" fill="#27B36F" stroke="#fff" stroke-width="0.22"/>
<circle cx="124.6" cy="506.6" r="3.35" fill="#27B36F" stroke="#fff" stroke-width="0.22"/>
<circle cx="128.3" cy="509.3" r="3.35" fill="#27B36F" stroke="#fff" stroke-width="0.22"/>
<circle cx="108.5" cy="510.8" r="3.35" fill="#27B36F" stroke="#fff" stroke-width="0.22"/>
<circle cx="116.4" cy="510.8" r="3.35" fill="#27B36F" stroke="#fff" stroke-width="0.22"/>
<circle cx="110.9" cy="514.8" r="3.35" fill="#27B36F" stroke="#fff" stroke-width="0.22"/>
<circle cx="122.3" cy="514.8" r="3.35" fill="#27B36F" stroke="#fff" stroke-width="0.22"/>
<circle cx="113.6" cy="518.5" r="3.35" fill="#27B36F" stroke="#fff" stroke-width="0.22"/>
<circle cx="123.0" cy="510.0" r="3.35" fill="#27B36F" stroke="#fff" stroke-width="0.22"/>
</g>
<line x1="187.2" y1="484.7" x2="199.7" y2="484.7" stroke="#262626" stroke-width="1.25"/>
<polygon points="208.4,484.7 198.7,488.8 200.7,484.7 198.7,480.6" fill="#262626" stroke="none"/>
<path d="M252.1,462.6 C256.9,454.8 263.6,451.6 275.1,452.5" fill="none" stroke="#111" stroke-width="1.3"/>
<polygon points="282.1,454.3 275.3,448.2 275.9,452.4 273.1,455.2" fill="#111" stroke="none"/>
<circle cx="291.7" cy="459.3" r="3.25" fill="#C4E2B6" stroke="none" stroke-width="1"/>
<circle cx="282.7" cy="465.3" r="3.25" fill="#80C955" stroke="none" stroke-width="1"/>
<circle cx="290.4" cy="465.5" r="3.25" fill="#80C955" stroke="none" stroke-width="1"/>
<circle cx="295.4" cy="465.3" r="3.25" fill="#16AE4C" stroke="none" stroke-width="1"/>
<circle cx="287.1" cy="468.4" r="3.25" fill="#C4E2B6" stroke="none" stroke-width="1"/>
<circle cx="298.3" cy="471.3" r="3.25" fill="#80C955" stroke="none" stroke-width="1"/>
<circle cx="294.2" cy="472.2" r="3.25" fill="#C4E2B6" stroke="none" stroke-width="1"/>
<circle cx="278.5" cy="473.1" r="3.25" fill="#C4E2B6" stroke="none" stroke-width="1"/>
<circle cx="286.2" cy="473.9" r="3.25" fill="#80C955" stroke="none" stroke-width="1"/>
<circle cx="280.5" cy="477.2" r="3.25" fill="#80C955" stroke="none" stroke-width="1"/>
<circle cx="291.7" cy="477.4" r="3.25" fill="#16AE4C" stroke="none" stroke-width="1"/>
<circle cx="283.7" cy="480.7" r="3.25" fill="#C4E2B6" stroke="none" stroke-width="1"/>
<path d="M113.5,560.9 C119.7,582.3 177.6,588.5 265.5,576.7" fill="none" stroke="#333" stroke-width="1.2"/>
<polygon points="273.8,575.4 262.8,571.2 264.9,576.4 263.8,580.8" fill="#333" stroke="none"/>
<circle cx="352.0" cy="431.8" r="2.9" fill="#ABABAB" stroke="#e8e8e8" stroke-width="0.35"/>
<circle cx="358.1" cy="432.2" r="2.9" fill="#ABABAB" stroke="#e8e8e8" stroke-width="0.35"/>
<circle cx="349.2" cy="436.2" r="2.9" fill="#ABABAB" stroke="#e8e8e8" stroke-width="0.35"/>
<circle cx="356.1" cy="436.2" r="2.9" fill="#ABABAB" stroke="#e8e8e8" stroke-width="0.35"/>
<circle cx="359.3" cy="439.9" r="2.9" fill="#ABABAB" stroke="#e8e8e8" stroke-width="0.35"/>
<circle cx="348.0" cy="441.5" r="2.9" fill="#ABABAB" stroke="#e8e8e8" stroke-width="0.35"/>
<circle cx="354.1" cy="443.1" r="2.9" fill="#ABABAB" stroke="#e8e8e8" stroke-width="0.35"/>
<circle cx="374.9" cy="433.0" r="3.1" fill="#C5E3B8" stroke="none" stroke-width="1"/>
<circle cx="370.5" cy="437.0" r="3.1" fill="#C5E3B8" stroke="none" stroke-width="1"/>
<circle cx="375.3" cy="437.0" r="3.1" fill="#C5E3B8" stroke="none" stroke-width="1"/>
<circle cx="374.9" cy="441.5" r="3.1" fill="#C5E3B8" stroke="none" stroke-width="1"/>
<circle cx="380.6" cy="435.8" r="2.9" fill="#80C955" stroke="none" stroke-width="1"/>
<circle cx="381.4" cy="440.3" r="2.9" fill="#80C955" stroke="none" stroke-width="1"/>
<circle cx="388.0" cy="437.2" r="3.3" fill="#12B04A" stroke="none" stroke-width="1"/>
<defs><filter id="fb" x="-50%" y="-50%" width="200%" height="200%"><feGaussianBlur stdDeviation="1.6"/></filter><filter id="fb2" x="-50%" y="-50%" width="200%" height="200%"><feGaussianBlur stdDeviation="0.8"/></filter></defs>
<line x1="335.1" y1="444.7" x2="335.1" y2="514.6" stroke="#111" stroke-width="1"/>
<line x1="335.1" y1="514.6" x2="408.6" y2="514.6" stroke="#111" stroke-width="1"/>
<line x1="332.6" y1="450.4" x2="335.1" y2="450.4" stroke="#111" stroke-width="0.8"/>
<text x="332.8" y="453.1" font-size="7.4" text-anchor="end" fill="#111">10<tspan dy="-3.3" font-size="5.2">5</tspan></text>
<line x1="332.6" y1="466.2" x2="335.1" y2="466.2" stroke="#111" stroke-width="0.8"/>
<text x="332.8" y="468.9" font-size="7.4" text-anchor="end" fill="#111">10<tspan dy="-3.3" font-size="5.2">4</tspan></text>
<line x1="332.6" y1="481.8" x2="335.1" y2="481.8" stroke="#111" stroke-width="0.8"/>
<text x="332.8" y="484.5" font-size="7.4" text-anchor="end" fill="#111">10<tspan dy="-3.3" font-size="5.2">3</tspan></text>
<line x1="332.6" y1="497.5" x2="335.1" y2="497.5" stroke="#111" stroke-width="0.8"/>
<text x="332.8" y="500.2" font-size="7.4" text-anchor="end" fill="#111">10<tspan dy="-3.3" font-size="5.2">2</tspan></text>
<line x1="332.6" y1="513.1" x2="335.1" y2="513.1" stroke="#111" stroke-width="0.8"/>
<text x="332.8" y="515.8" font-size="7.4" text-anchor="end" fill="#111">-10<tspan dy="-3.3" font-size="5.2">0</tspan></text>
<line x1="332.9" y1="461.4" x2="335.1" y2="461.4" stroke="#111" stroke-width="0.7"/>
<line x1="332.9" y1="458.7" x2="335.1" y2="458.7" stroke="#111" stroke-width="0.7"/>
<line x1="332.9" y1="456.7" x2="335.1" y2="456.7" stroke="#111" stroke-width="0.7"/>
<line x1="332.9" y1="455.2" x2="335.1" y2="455.2" stroke="#111" stroke-width="0.7"/>
<line x1="332.9" y1="453.9" x2="335.1" y2="453.9" stroke="#111" stroke-width="0.7"/>
<line x1="332.9" y1="452.8" x2="335.1" y2="452.8" stroke="#111" stroke-width="0.7"/>
<line x1="332.9" y1="451.9" x2="335.1" y2="451.9" stroke="#111" stroke-width="0.7"/>
<line x1="332.9" y1="451.1" x2="335.1" y2="451.1" stroke="#111" stroke-width="0.7"/>
<line x1="332.9" y1="477.1" x2="335.1" y2="477.1" stroke="#111" stroke-width="0.7"/>
<line x1="332.9" y1="474.4" x2="335.1" y2="474.4" stroke="#111" stroke-width="0.7"/>
<line x1="332.9" y1="472.4" x2="335.1" y2="472.4" stroke="#111" stroke-width="0.7"/>
<line x1="332.9" y1="470.9" x2="335.1" y2="470.9" stroke="#111" stroke-width="0.7"/>
<line x1="332.9" y1="469.7" x2="335.1" y2="469.7" stroke="#111" stroke-width="0.7"/>
<line x1="332.9" y1="468.6" x2="335.1" y2="468.6" stroke="#111" stroke-width="0.7"/>
<line x1="332.9" y1="467.7" x2="335.1" y2="467.7" stroke="#111" stroke-width="0.7"/>
<line x1="332.9" y1="466.9" x2="335.1" y2="466.9" stroke="#111" stroke-width="0.7"/>
<line x1="332.9" y1="492.8" x2="335.1" y2="492.8" stroke="#111" stroke-width="0.7"/>
<line x1="332.9" y1="490.0" x2="335.1" y2="490.0" stroke="#111" stroke-width="0.7"/>
<line x1="332.9" y1="488.0" x2="335.1" y2="488.0" stroke="#111" stroke-width="0.7"/>
<line x1="332.9" y1="486.5" x2="335.1" y2="486.5" stroke="#111" stroke-width="0.7"/>
<line x1="332.9" y1="485.3" x2="335.1" y2="485.3" stroke="#111" stroke-width="0.7"/>
<line x1="332.9" y1="484.2" x2="335.1" y2="484.2" stroke="#111" stroke-width="0.7"/>
<line x1="332.9" y1="483.3" x2="335.1" y2="483.3" stroke="#111" stroke-width="0.7"/>
<line x1="332.9" y1="482.5" x2="335.1" y2="482.5" stroke="#111" stroke-width="0.7"/>
<line x1="340.8" y1="514.6" x2="340.8" y2="517.0" stroke="#111" stroke-width="0.8"/>
<text x="342.8" y="527.3" font-size="7.2" text-anchor="middle" fill="#111">-10<tspan dy="-3.2" font-size="5.0">1</tspan></text>
<line x1="366.4" y1="514.6" x2="366.4" y2="517.0" stroke="#111" stroke-width="0.8"/>
<text x="368.4" y="527.3" font-size="7.2" text-anchor="middle" fill="#111">10<tspan dy="-3.2" font-size="5.0">3</tspan></text>
<line x1="383.5" y1="514.6" x2="383.5" y2="517.0" stroke="#111" stroke-width="0.8"/>
<text x="385.5" y="527.3" font-size="7.2" text-anchor="middle" fill="#111">10<tspan dy="-3.2" font-size="5.0">4</tspan></text>
<line x1="399.6" y1="514.6" x2="399.6" y2="517.0" stroke="#111" stroke-width="0.8"/>
<text x="401.6" y="527.3" font-size="7.2" text-anchor="middle" fill="#111">10<tspan dy="-3.2" font-size="5.0">5</tspan></text>
<line x1="337.0" y1="514.6" x2="337.0" y2="516.0" stroke="#111" stroke-width="0.5"/>
<line x1="338.5" y1="514.6" x2="338.5" y2="516.0" stroke="#111" stroke-width="0.5"/>
<line x1="343.5" y1="514.6" x2="343.5" y2="516.0" stroke="#111" stroke-width="0.5"/>
<line x1="346.0" y1="514.6" x2="346.0" y2="516.0" stroke="#111" stroke-width="0.5"/>
<line x1="348.0" y1="514.6" x2="348.0" y2="516.0" stroke="#111" stroke-width="0.5"/>
<line x1="350.0" y1="514.6" x2="350.0" y2="516.0" stroke="#111" stroke-width="0.5"/>
<line x1="352.0" y1="514.6" x2="352.0" y2="516.0" stroke="#111" stroke-width="0.5"/>
<line x1="354.0" y1="514.6" x2="354.0" y2="516.0" stroke="#111" stroke-width="0.5"/>
<line x1="356.0" y1="514.6" x2="356.0" y2="516.0" stroke="#111" stroke-width="0.5"/>
<line x1="358.0" y1="514.6" x2="358.0" y2="516.0" stroke="#111" stroke-width="0.5"/>
<line x1="360.0" y1="514.6" x2="360.0" y2="516.0" stroke="#111" stroke-width="0.5"/>
<line x1="362.0" y1="514.6" x2="362.0" y2="516.0" stroke="#111" stroke-width="0.5"/>
<line x1="368.5" y1="514.6" x2="368.5" y2="516.0" stroke="#111" stroke-width="0.5"/>
<line x1="370.5" y1="514.6" x2="370.5" y2="516.0" stroke="#111" stroke-width="0.5"/>
<line x1="372.0" y1="514.6" x2="372.0" y2="516.0" stroke="#111" stroke-width="0.5"/>
<line x1="386.0" y1="514.6" x2="386.0" y2="516.0" stroke="#111" stroke-width="0.5"/>
<line x1="388.0" y1="514.6" x2="388.0" y2="516.0" stroke="#111" stroke-width="0.5"/>
<line x1="389.5" y1="514.6" x2="389.5" y2="516.0" stroke="#111" stroke-width="0.5"/>
<line x1="402.0" y1="514.6" x2="402.0" y2="516.0" stroke="#111" stroke-width="0.5"/>
<line x1="404.0" y1="514.6" x2="404.0" y2="516.0" stroke="#111" stroke-width="0.5"/>
<line x1="405.5" y1="514.6" x2="405.5" y2="516.0" stroke="#111" stroke-width="0.5"/>
<text x="349.2" y="495.3" font-size="10.7" text-anchor="start" fill="#1515FF">71.2%</text>
<text x="318.0" y="480.0" font-size="11.8" text-anchor="middle" fill="#000" transform="rotate(-90 318.0 480)">human CD45-APC</text>
<text x="373.0" y="542.0" font-size="11.8" text-anchor="middle" fill="#000">CFSE</text>
<polygon points="384.5,472.1 396.8,472.1 396.8,468.8 405.7,474.2 396.8,479.5 396.8,476.3 384.5,476.3" fill="#1515FF" stroke="none"/>
<text x="-0.3" y="632.3" font-size="19.5" text-anchor="start" fill="#000">e.</text>
<text x="5.2" y="663.6" font-size="14.5" text-anchor="start" fill="#000">Bulk</text>
<text x="5.4" y="783.0" font-size="14.1" text-anchor="start" fill="#1515FF">non-LRCs</text>
<text x="173.6" y="641.5" font-size="13" text-anchor="middle" fill="#000">BM-MNCs</text>
<text x="321.9" y="641.3" font-size="12.5" text-anchor="middle" fill="#000">human CD45+</text>
<path d="M172.5 661.4h0m-20.9 .3h0m19.3 .6h0m1.1-.2h0m1.5 .3h0m4.6-.3h0m.3 .3h0m1.1 .1h0m.1-.6h0m.6-.3h0m.3 .7h0m.6-.3h0m3.6 0h0m.2 .4h0m.3-.3h0m2.2 0h0m1.1-.3h0m.3 .5h0m1.1-.2h0m1.6-.3h0m-25.3 1.5h0m3.3-.4h0m.6 .2h0m.1-.3h0m.3 .6h0m0-.2h0m.7 .1h0m.5 0h0m.2-.7h0m.7 .9h0m.7-.2h0m1 .1h0m.6-.8h0m1.1 .8h0m0-.5h0m1.1-.2h0m.7 .2h0m.2 .6h0m.2-.5h0m1.1 .1h0m.2-.1h0m.1 .3h0m.2-.3h0m.2-.2h0m.9 .5h0m.1-.4h0m.1 .3h0m.7-.5h0m.1 .6h0m.8-.5h0m.4 .4h0m0-.6h0m.7 .9h0m.8-.4h0m.4-.3h0m.1 .6h0m.6-.9h0m.8 .4h0m.5 .2h0m.4 .2h0m.6-.3h0m.6 .5h0m1.2 0h0m0-1h0m1.6 .5h0m.1 0h0m1.5 .1h0m0 .3h0m1 .1h0m.5-.8h0m.6 .4h0m.5-.1h0m1.1-.2h0m-47.3 1.3h0m14.1-.3h0m.5-.1h0m.5 0h0m.3 .4h0m.7-.5h0m.6 0h0m.9 .2h0m.4 .4h0m.5 .1h0m.3-.8h0m1.6 .7h0m0-.4h0m.1 .3h0m.1 0h0m.3 0h0m.6 .2h0m.2-.1h0m.1-.5h0m.9 0h0m.5-.1h0m.1 .8h0m.8-.7h0m.3 .6h0m.1-.8h0m.1 .7h0m.2-.1h0m.7 0h0m.3 0h0m.2-.4h0m1 .6h0m.2 .2h0m0-.4h0m.6-.3h0m.1 .3h0m.1 .1h0m1 .1h0m.5 .1h0m.4-.7h0m.2 .4h0m.4-.2h0m0 .3h0m.4-.2h0m.1 .5h0m.2-.2h0m.2-.1h0m.5-.2h0m.2-.1h0m.1 .5h0m.5 0h0m1.1-.3h0m.4 .1h0m.3 .3h0m.1-.3h0m.5 0h0m.2-.1h0m.2-.5h0m.4 .2h0m.1 .4h0m.1 0h0m0-.5h0m.4 .1h0m.2 .4h0m.7-.2h0m.2 .5h0m.1-.3h0m0-.6h0m0 .2h0m.2-.2h0m1 .1h0m.1 .6h0m0 0h0m.1 .1h0m.1 0h0m.2-.7h0m.9 .5h0m.4-.1h0m.1 .1h0m.3 .1h0m.2-.6h0m0 0h0m.4 .6h0m.9-.7h0m.5 .1h0m.2 .1h0m.3 .6h0m.1-.9h0m.2 .5h0m.5 .5h0m.2-.4h0m0 .3h0m1.1-.4h0m.1 .5h0m1-.4h0m.2-.6h0m.4 .8h0m1-.4h0m.1 .5h0m4.1 .1h0m-41.8 .9h0m.6 0h0m.1-.3h0m.4-.3h0m.7 0h0m.1-.2h0m1.5 .7h0m.1-.5h0m1.1 .7h0m.4-.9h0m.6 0h0m.2 .7h0m.2-.7h0m.6 .5h0m.6-.1h0m.8 .2h0m.7-.6h0m.2 .2h0m.2-.3h0m.2 .6h0m.2 .1h0m.6 .1h0m.5-.6h0m.8 .5h0m.1-.5h0m.2 .7h0m.3-.4h0m.3 .2h0m0-.2h0m.3-.5h0m.3 .7h0m.1-.3h0m.3 .4h0m.2-.3h0m.2 0h0m.3 .3h0m.1 .2h0m1-.3h0m.3 .1h0m.2-.1h0m.1 .1h0m.1-.1h0m.1-.4h0m0 .5h0m0-.5h0m.4 .4h0m.2-.1h0m.2 .2h0m0 .1h0m.1-.9h0m.2 .3h0m.1 .4h0m0-.7h0m.7 .7h0m.4 .1h0m0 0h0m.1-.5h0m.1 .2h0m.1-.3h0m.7 .4h0m.1-.1h0m.8-.1h0m.3 .4h0m0-.3h0m.1 .3h0m.2 0h0m1-.1h0m.1-.4h0m0 .5h0m1.7-.5h0m0 .2h0m.2 .4h0m.1-.6h0m.4 .4h0m.2 .2h0m.9-.3h0m0 0h0m.4 .1h0m0-.5h0m.2 .3h0m0 .1h0m.3-.4h0m.1 .1h0m.5-.3h0m0 .6h0m.1-.1h0m.3 .3h0m.1 .2h0m.7-1h0m.2 .2h0m.4 .6h0m0-.8h0m.3 .3h0m.3 0h0m.3 .1h0m0 .3h0m.1-.3h0m.2-.4h0m0 .3h0m.5 .1h0m.1 0h0m.1-.4h0m.7 .2h0m.1-.1h0m.4 .6h0m.1-.2h0m.8 .4h0m.3-.8h0m.7 .3h0m.1 .5h0m0-.8h0m.2 .7h0m.8 .1h0m.1-.6h0m.4 .4h0m.1-.6h0m.1 .1h0m.6-.1h0m.3 .2h0m.4 .3h0m.9 .2h0m.9 .1h0m.2-.1h0m.2 .1h0m.5-.1h0m.8 .1h0m.9-.1h0m.5-.4h0m0 .3h0m-45.8 .3h0m.1 .4h0m.3 .4h0m.8-.1h0m.2 .3h0m.2-.4h0m.8-.6h0m.6 1h0m1-1h0m0 .9h0m0-.7h0m.2 .2h0m.1 .4h0m.2-.2h0m0-.5h0m.1 .8h0m.6 0h0m.2-.9h0m.2 .7h0m.2-.4h0m1.7 .5h0m0-.3h0m.1 0h0m0 .3h0m.5 0h0m.3-.5h0m.7 .3h0m.6-.3h0m.9 .6h0m0-.7h0m.3 .6h0m.2-.5h0m0 .1h0m.2 .5h0m1 0h0m.2-.8h0m.1 .8h0m.2-.4h0m.4-.2h0m.4 .2h0m.1 .3h0m0 .1h0m.1-.1h0m.1-.2h0m.1-.5h0m.6 .5h0m.7-.2h0m0 .1h0m.1 .1h0m.4-.3h0m0 .6h0m.3-.1h0m.1 0h0m.2-.2h0m.1 .2h0m.5-.6h0m.8 .6h0m.2 0h0m.3-.3h0m.1 .2h0m0 .2h0m.1-.8h0m.3 .6h0m.2-.3h0m0 0h0m.3 .5h0m.5-.9h0m.6 .8h0m.3-.1h0m0 .2h0m.1-.1h0m.6-.4h0m.2 .2h0m0-.6h0m.2 .9h0m.2-.7h0m.1 .8h0m0-.5h0m1 .3h0m0-.4h0m0 .2h0m0 .4h0m.4-.4h0m.1 .1h0m0-.4h0m.2 .6h0m.1 0h0m.2-.6h0m.1 0h0m.3 .6h0m.1-.5h0m.2 0h0m.1-.2h0m.1 .3h0m.3 .1h0m.2 .3h0m.2 0h0m.2 .1h0m.2-.8h0m.2 .2h0m.1 .2h0m.3-.4h0m.1-.1h0m0 .1h0m.2 0h0m.1 .8h0m0-.6h0m.5-.1h0m.1 0h0m.4 .1h0m0 .4h0m0-.5h0m.1 .2h0m.1 .5h0m0-.7h0m0 .1h0m.3 .1h0m.2-.3h0m.5 .2h0m0-.1h0m.2 .2h0m.5-.2h0m.2 .3h0m.1 0h0m.1 .2h0m.1 .1h0m.2 0h0m.1-.4h0m0 .2h0m.1-.3h0m.5 .6h0m.4-.9h0m0 .7h0m.1-.5h0m.4 0h0m0 .5h0m.1-.5h0m.1-.3h0m0 .8h0m.5 0h0m.1-.5h0m.2 .2h0m0-.1h0m.1-.3h0m0 .6h0m.1-.1h0m.1-.5h0m.1 .3h0m.6 .3h0m.1-.1h0m.1-.5h0m.1 .8h0m.1-.5h0m0 .2h0m.1-.2h0m0 .2h0m.1 .1h0m.3 0h0m0-.4h0m.5 0h0m.1 .3h0m.1-.5h0m.1 .4h0m.2 .2h0m0 0h0m.5-.4h0m.6-.2h0m.4 .2h0m0 .6h0m.4-.5h0m0 .3h0m.4-.1h0m0-.1h0m.1 .4h0m.1-.8h0m.2 .1h0m.6 .1h0m.2 .6h0m.7-.1h0m.7 .1h0m.1-.2h0m.5-.4h0m0-.3h0m.1 .9h0m1-.3h0m1.4-.2h0m.2-.2h0m.2-.1h0m.4 .8h0m.4-.3h0m.1 0h0m1.7 .1h0m.7-.2h0m.9 .1h0m1.5 .1h0m-56.3 1h0m.2 .2h0m.4-.3h0m2.1-.3h0m.2 .2h0m.7 .1h0m.8 .4h0m.7-.8h0m1.7 .7h0m.2-.2h0m.8-.5h0m.1 .2h0m.4 .2h0m.6 .2h0m0-.4h0m.4 .1h0m.3-.2h0m.3 .1h0m.1-.2h0m.6 .3h0m.1 .5h0m.1-.3h0m.3 .1h0m0-.1h0m0 .1h0m.1 .2h0m.5-.8h0m.2 .6h0m.2 0h0m.3 .1h0m.1-.5h0m1.2 .1h0m.2-.1h0m0 .3h0m0 0h0m.3-.2h0m0 .4h0m.7-.8h0m.5 .1h0m.5 0h0m0 .7h0m.2-.2h0m.2 .3h0m.2-.9h0m.1 .2h0m.1 .5h0m.1-.7h0m0 .4h0m0 .3h0m.3 .1h0m.4-.3h0m.3-.4h0m.1 .8h0m.1-.1h0m.7 0h0m.1-.8h0m.5 .5h0m.5-.3h0m.2-.2h0m.1 .1h0m.1-.1h0m.8 .3h0m.7 .1h0m.3-.1h0m0 0h0m.5 .3h0m.2-.3h0m.2-.3h0m0 .9h0m.2-.3h0m.1 0h0m.5 .2h0m.2-.3h0m0-.5h0m.1 0h0m.2 .5h0m.5-.6h0m0 .9h0m.1-.9h0m.5 .3h0m0-.3h0m.4 0h0m.1 .2h0m.2 .5h0m.2-.1h0m.3 .3h0m.1-.6h0m.3 .2h0m.7-.4h0m.2 .6h0m.2-.5h0m.2 .1h0m.1 .4h0m.4-.3h0m.5 .3h0m.1-.7h0m.2 .7h0m.1 0h0m0 0h0m0-.6h0m0 .7h0m0-.3h0m.2 .5h0m0-.5h0m.3 .2h0m.2-.6h0m.1 .1h0m0 .7h0m.9-.4h0m0 .5h0m.2-.3h0m.2 .2h0m.6-.9h0m.1 1h0m0-.3h0m.5 .2h0m.2 .1h0m.2-.2h0m.1-.5h0m.2 0h0m.2 .3h0m0-.4h0m.2 0h0m.2 .7h0m.3-.3h0m.2-.6h0m.1 .3h0m0 .6h0m0-.7h0m.2 .5h0m0-.4h0m.4 .1h0m.7 .2h0m0 0h0m.1-.2h0m.6-.1h0m.4 .7h0m.1-.4h0m0-.4h0m.2 .3h0m.3 .2h0m.2-.1h0m.1-.2h0m.4-.1h0m.3 .1h0m.1-.4h0m0 .9h0m0-.5h0m.3 .2h0m.1-.3h0m.1 .4h0m.2 .1h0m.1-.4h0m.2 .4h0m0-.2h0m.6-.5h0m.1 .7h0m.1-.5h0m.1-.1h0m0 .5h0m0 .1h0m0-.8h0m1.3 .6h0m0 .1h0m.3-.1h0m.1-.1h0m0 .2h0m.3 .2h0m0-.2h0m0 .3h0m.1-.3h0m.1 .1h0m.1-.3h0m.2-.2h0m.1-.2h0m.1 .1h0m.1 .7h0m0-.7h0m.3 .5h0m.2-.4h0m.1-.2h0m.2 .7h0m.4-.3h0m.1-.3h0m0 .8h0m.1-.2h0m.1-.2h0m.2-.6h0m.5 .5h0m.6-.1h0m.1 .5h0m.1-.3h0m.4-.3h0m.9 .5h0m.1-.7h0m0 .8h0m1.1 0h0m.1-.5h0m.2 .3h0m.7 0h0m.3-.2h0m0-.2h0m1 .4h0m.4-.6h0m0 .3h0m.6 .4h0m.7-.2h0m.1-.2h0m.1 .3h0m.6 0h0m.2 .2h0m.5-.1h0m1-.3h0m0 .5h0m.2-.8h0m0 .3h0m0-.3h0m.6 0h0m.3-.1h0m.8 .8h0m0-.4h0m1.3 .4h0m-63.2 .9h0m5.1-.2h0m.2-.5h0m1.3 .7h0m.6-.4h0m.6-.3h0m.7 .4h0m.2 .1h0m.1-.1h0m.3-.2h0m0-.2h0m.4 .3h0m.2-.3h0m.2 .3h0m.2-.1h0m.5-.3h0m.3 .4h0m.4-.4h0m.2 .5h0m.1 .3h0m.3 0h0m.1 0h0m0-.5h0m.3 .2h0m0-.1h0m.1 .3h0m.3-.2h0m0 .3h0m.2 .1h0m.1 0h0m.2-.9h0m.2 0h0m.5 .5h0m.1 .3h0m.3-.5h0m0-.3h0m.1 .4h0m0-.2h0m0 0h0m.2-.1h0m.2 .2h0m.2 .1h0m.4-.1h0m.2 .7h0m.2-.7h0m0 .6h0m.1 0h0m.4 0h0m.1-.3h0m.1-.2h0m.1-.4h0m.2 .4h0m.1-.3h0m.3 .2h0m.1-.1h0m.2 .5h0m.9 .1h0m.2-.5h0m.3 .1h0m.3-.2h0m.1 .2h0m0 .2h0m.2 .1h0m.1-.6h0m0 0h0m.3 .4h0m.1 .1h0m.2 .1h0m.1 0h0m.1-.2h0m.1 .3h0m.3-.2h0m.1-.1h0m.4 .2h0m.3-.7h0m.1 0h0m0 .2h0m.2 .1h0m.1 .6h0m.1 0h0m.1-.7h0m.5 .1h0m0 .7h0m0-.7h0m.1-.2h0m0 .4h0m0-.4h0m0 .7h0m.3-.8h0m.1 .7h0m.7-.4h0m.3 .1h0m0 .2h0m.3 .3h0m.3-.1h0m.1-.8h0m.3 .6h0m0 .2h0m.1-.6h0m.1 .7h0m.1 .1h0m.3-.4h0m.1-.3h0m.1-.3h0m.3 .6h0m.1-.5h0m.4 .4h0m0 .3h0m.1-.3h0m.2 .2h0m1.2 .1h0m.3-.1h0m.1-.6h0m.6 .5h0m.1-.1h0m.2 .2h0m0-.4h0m.2-.1h0m.3 .6h0m.1-.6h0m.3 0h0m.2 .2h0m.2-.3h0m.1 .1h0m.1 .3h0m0 .5h0m.1-.3h0m.1 .2h0m0-.6h0m.1-.1h0m0 .6h0m.1-.5h0m.1 .2h0m0 .2h0m.1 0h0m1-.1h0m.1 .3h0m.2-.8h0m.1 .5h0m.3-.2h0m.2 .3h0m.1-.2h0m.6 .1h0m.1-.1h0m.4-.2h0m.1 .6h0m.1-.1h0m.2-.8h0m0 .6h0m.1-.2h0m.1 .5h0m0 .1h0m.1-.8h0m0 .1h0m.1-.3h0m0 .9h0m.3-.6h0m.1 0h0m.3 .4h0m.3-.3h0m.5 .2h0m0-.2h0m.5 .4h0m0-.2h0m.4-.3h0m0 .7h0m.1-.3h0m0-.3h0m.5 .1h0m.1 .4h0m.1-.7h0m0 .7h0m.4-.4h0m0 .4h0m.3-.4h0m.1 .4h0m.1-.5h0m.1 .4h0m0-.4h0m.1 0h0m.1 .2h0m.3 0h0m0 .1h0m.1-.2h0m0 .1h0m.2-.3h0m0 .4h0m.1 .1h0m0-.1h0m0-.6h0m.4-.1h0m.6 .3h0m.1 .5h0m0-.2h0m.2-.2h0m.4 .2h0m0-.3h0m.1 .3h0m0-.4h0m.1 .7h0m.3-.2h0m.6 .3h0m.2-.7h0m0 .1h0m0 .1h0m.1 .3h0m0-.2h0m.2-.5h0m.6 .6h0m.1-.1h0m.2 .4h0m.2-.3h0m.3 0h0m0-.2h0m0 .1h0m.1 .4h0m.3-.1h0m.2-.2h0m.2 0h0m.2 .2h0m.2-.2h0m1.1-.3h0m0-.2h0m.4 0h0m.1 .3h0m.1 .1h0m.4 .1h0m0 .2h0m.3-.4h0m.1 .2h0m.1 .1h0m0-.4h0m.3 .5h0m.2-.1h0m.3 0h0m.1 0h0m.1-.6h0m.1 .8h0m.3-.4h0m.1 .4h0m.1-.4h0m.5 .1h0m.1 .2h0m.1 0h0m0-.2h0m.1-.3h0m.4 .2h0m.5-.4h0m.3 .2h0m.5 .3h0m.1-.1h0m.1 0h0m.9-.5h0m.2 .9h0m.1-.1h0m.5-.5h0m.3-.1h0m.5-.2h0m.3 .5h0m.5 .3h0m.3-.5h0m.4 .2h0m.7 .3h0m.2-.7h0m.2 .1h0m0 .1h0m.2 .2h0m0-.1h0m.2 0h0m.3 .3h0m.2-.3h0m.3 .1h0m.9-.5h0m.8 .7h0m.3-.3h0m.8 .1h0m1.2 .1h0m-63 1.3h0m1.3-.8h0m1.6 .6h0m.1-.1h0m.2 .2h0m.2-.8h0m.8 .8h0m.1-.7h0m.1 .8h0m.1-1h0m.2 .2h0m.2 .4h0m.6-.4h0m.1 .6h0m.2-.3h0m.1 .1h0m.2 .4h0m.5-.2h0m.1-.1h0m.1-.3h0m.1 .5h0m.1-.4h0m0 .2h0m.6 .1h0m.7-.3h0m.2 .2h0m.3-.3h0m0 0h0m.1 .6h0m0-.8h0m.7 .2h0m.2-.2h0m.3 .4h0m0 .2h0m.1-.4h0m.2 .2h0m.6 0h0m.1-.3h0m.1 .5h0m.1-.6h0m.1 .8h0m.1-.9h0m.2 .5h0m.2 .4h0m.2-.6h0m.1 0h0m.6 .6h0m.1-.8h0m.2 .8h0m.5-.2h0m.3-.4h0m.5-.1h0m.1 .4h0m0-.1h0m0 .1h0m.2 .1h0m.4-.7h0m.1 .1h0m.1 0h0m0 0h0m.1-.1h0m.2 .5h0m.4 .3h0m.8-.6h0m.1 .5h0m.7 .1h0m.1-.4h0m.3 .4h0m.4-.1h0m.1-.2h0m.1-.4h0m.2 .3h0m.1 .5h0m.2-.6h0m0 .3h0m.2-.2h0m.4-.1h0m.8 .4h0m0-.8h0m0 .6h0m0-.1h0m.1 0h0m.4-.2h0m0-.2h0m0 0h0m.1 .7h0m.3-.1h0m.1-.3h0m1.1 .1h0m0 .3h0m.1-.5h0m0-.2h0m.2 .7h0m.2-.5h0m0-.2h0m.3 .2h0m.2 .7h0m.2-.7h0m.2-.1h0m.2 .5h0m.6-.3h0m.3 .1h0m.5-.3h0m.2 .8h0m.1-.8h0m.3 .6h0m0-.7h0m.2 .2h0m0 .4h0m.2-.4h0m0-.2h0m.1 .6h0m.2-.5h0m0-.1h0m0 .3h0m.4 .1h0m.3-.1h0m0-.1h0m.1 .5h0m0-.7h0m0 .1h0m0 .2h0m.2 .5h0m.1-.7h0m0 .4h0m.6 .3h0m0-.1h0m0-.2h0m.1-.2h0m0 .4h0m.4-.5h0m1.1 .4h0m.2 .1h0m0 0h0m.2-.1h0m.2-.4h0m.1 0h0m.1 .6h0m.2-.3h0m.2-.4h0m0 .1h0m.2 .5h0m.3-.4h0m.3 .4h0m.1-.1h0m.1 .1h0m.1-.7h0m.5 0h0m.3 .2h0m0 .2h0m.1 .4h0m.5-.5h0m1-.1h0m.1 .2h0m.2-.1h0m.1 .3h0m.1 .2h0m0-.5h0m0-.2h0m0 .2h0m.1 .5h0m0-.1h0m.1-.4h0m.4 0h0m0 .5h0m0-.6h0m.1 0h0m.1 .1h0m0-.2h0m.4 .1h0m.3 0h0m.2 .3h0m.2 .2h0m1-.4h0m.5-.1h0m.2 .5h0m.2 .1h0m.1 0h0m.1-.6h0m.1 .1h0m.1-.3h0m.1 .6h0m.1-.4h0m.4 0h0m.2 0h0m0-.2h0m.1 .4h0m.2-.2h0m.1 0h0m.5 .7h0m.1-.8h0m.2 .8h0m.2-.5h0m0 0h0m.4-.3h0m.5 .4h0m.2-.3h0m.4 .6h0m0 0h0m0 0h0m.1-.5h0m.1-.3h0m.2-.1h0m.2 .5h0m0 0h0m.2 0h0m.2 .3h0m0-.3h0m.1 .4h0m0-.1h0m.4-.6h0m.1 .5h0m.6 .3h0m.2-.1h0m0-.6h0m.1 .2h0m0-.5h0m0 .1h0m.3-.1h0m0 .6h0m.1 .1h0m.1-.4h0m.1 .6h0m.2-.1h0m0-.2h0m.2-.5h0m.4-.1h0m.8 .4h0m.1 0h0m.4 .5h0m.3-.3h0m.3-.4h0m.1 .4h0m0-.3h0m.2 .6h0m.9-.7h0m.1 .1h0m0 0h0m.3 .4h0m.2-.7h0m.1 1h0m.3-.3h0m.5 .1h0m.1-.2h0m.2 .4h0m.3-.9h0m.1 .5h0m0-.2h0m.1-.2h0m0 .7h0m.2 .1h0m0-1h0m.3 .3h0m.5 .6h0m.3-.7h0m.2 .1h0m1.4-.2h0m0-.1h0m.4 .5h0m.1 0h0m0 .4h0m.8-.6h0m.2 .4h0m.6-.3h0m.2-.2h0m.3-.1h0m1 .1h0m.5 .6h0m.2-.6h0m.2 .3h0m.2 .2h0m.1-.3h0m.1-.2h0m.2 .1h0m.4 .5h0m.6 0h0m.8-.4h0m.3-.1h0m1-.2h0m0 .7h0m-67.5 .7h0m.7-.1h0m2.2 0h0m1.8 .6h0m.5-.1h0m.2-.3h0m.2-.1h0m.7 .3h0m.2 .1h0m.5-.1h0m.1-.8h0m0 .6h0m.2 .4h0m.1-.7h0m0 0h0m.2 .4h0m.5-.2h0m0 .4h0m.5 0h0m.1-.2h0m.4-.4h0m.2 .3h0m.2-.4h0m.2 .1h0m.4-.3h0m.3 .5h0m.6-.3h0m.1 0h0m1.1 .1h0m.2 .4h0m.8 0h0m.1 .3h0m.1-.5h0m.3 .3h0m.2-.2h0m.2-.3h0m0 .6h0m.8-.8h0m.2 .1h0m.1 .1h0m0 .2h0m.1-.4h0m.1 .8h0m.5-.7h0m0 .8h0m.1-.2h0m.3-.3h0m.2 .2h0m0 .2h0m.1-.3h0m0 .1h0m.1-.7h0m.5 .4h0m0-.1h0m0 .4h0m0 .3h0m.2-.1h0m.3-.7h0m.2 .6h0m.1-.8h0m0 .9h0m.8-.4h0m0-.4h0m.2 .3h0m.1-.1h0m.2-.2h0m0 .9h0m.4-.6h0m.1 .5h0m.1-.4h0m0-.3h0m.1 .1h0m.1 .5h0m0 .2h0m0-.7h0m.2 .4h0m.2-.6h0m.3 .4h0m.2 0h0m.3 .4h0m.2-.5h0m.2-.1h0m.4 .7h0m0-.6h0m.3 .3h0m.1 .1h0m0-.7h0m.2 .8h0m.2-.9h0m.1 .8h0m.2-.7h0m.5 .1h0m.1 .8h0m.2-.5h0m.2-.4h0m.1 .8h0m0-.6h0m.2-.2h0m0 .7h0m.4 .1h0m.4-.3h0m.7-.5h0m.2 .9h0m.1-.5h0m0-.1h0m.2 .2h0m.2-.5h0m0 .8h0m.1-.1h0m.1-.4h0m.1 .2h0m.2-.4h0m.1-.2h0m.2 .8h0m0 0h0m.1-.7h0m0 0h0m.1 .3h0m.3-.4h0m.2 .2h0m.2 .4h0m0-.6h0m.5 .3h0m.3 .1h0m.3-.1h0m1 0h0m.5 .1h0m.1-.2h0m.5-.1h0m.3-.1h0m.4 0h0m.2 .1h0m.3 .6h0m2-.7h0m2.2 .1h0m7.2 0h0m1.2 .1h0m.2-.1h0m.4 0h0m.5 .2h0m.4-.1h0m.8 0h0m.2 .6h0m.1-.8h0m.1 .6h0m.1-.6h0m.3 .6h0m0-.4h0m.1 .7h0m.5-.1h0m.2-.3h0m.4 0h0m0-.1h0m0-.3h0m.1 .7h0m.1 .1h0m0-.4h0m0 .4h0m.3-.4h0m.1 .4h0m.3-.7h0m.2 .5h0m.3-.6h0m.1 .8h0m.4-.3h0m.3-.2h0m.5-.4h0m.1 .5h0m0-.1h0m0 .1h0m.1-.1h0m.1 .4h0m.1-.5h0m.2 .1h0m.1 .4h0m.2 .1h0m.4-.3h0m.4-.2h0m.1 .5h0m0 0h0m.1-.7h0m.3 .8h0m.1-.8h0m.4-.2h0m.1 .4h0m.4 .1h0m.2 .3h0m0-.7h0m.3 .5h0m0-.1h0m0-.3h0m0-.1h0m.6 .6h0m.2 .2h0m.1 0h0m0 0h0m.1 0h0m.2-.6h0m.6 .7h0m.1-.2h0m.1-.4h0m.6-.1h0m.6 .7h0m.1-.7h0m.1-.3h0m.2 .6h0m0-.3h0m.1 0h0m.7 .2h0m0-.4h0m.1 .7h0m0 .1h0m.1 .1h0m.4-.6h0m.2-.3h0m.6 .4h0m.3 .5h0m.2-.7h0m1.1 .1h0m0 .5h0m.4-.4h0m.5 .2h0m.5-.2h0m.1 .5h0m0-.3h0m.3-.6h0m.1 .3h0m1.1 .3h0m.3 .2h0m1.1 0h0m.7 .1h0m-74.5 .4h0m5.7 .4h0m.4 .1h0m1.1-.5h0m.3-.1h0m1.2 0h0m.5 .5h0m.1-.1h0m.1-.4h0m0-.1h0m0-.1h0m.4 0h0m.2 .4h0m.5 0h0m.2 .2h0m.2 0h0m.1-.7h0m.1 1h0m.1-.5h0m2 .1h0m0-.2h0m0-.3h0m.3 .6h0m.1-.4h0m.3-.3h0m.3 .4h0m0-.4h0m.2 .1h0m.2 .1h0m.1 .5h0m.7-.3h0m.2-.2h0m.3 .2h0m.2 .3h0m.2 .2h0m.1-.9h0m.1 .6h0m.2-.2h0m0-.3h0m.6 .8h0m0-.4h0m.3 .3h0m.1-.6h0m.6 .7h0m.3-.5h0m.1 .3h0m.3 .1h0m.1 .1h0m.3-.6h0m.1 .4h0m.2-.2h0m.2-.1h0m.1 0h0m.1 .6h0m1.5-.4h0m.1-.1h0m.3 .4h0m.1-.5h0m.1-.1h0m0 0h0m.1 .4h0m.2-.3h0m.1 .4h0m.1-.6h0m.2 .3h0m.2 0h0m0 0h0m.1 0h0m.1 .5h0m0-.1h0m.2-.4h0m.3 .3h0m.2-.2h0m.1 .4h0m0-.9h0m.2 .3h0m0 .4h0m.2-.7h0m.1 .2h0m.2 .4h0m.3-.1h0m.1-.2h0m0 .2h0m.1-.4h0m0 .3h0m0-.1h0m.6-.3h0m.6 .3h0m.1 .1h0m.1-.4h0m.5 .5h0m.3-.5h0m.2 .1h0m.3 .3h0m.6 0h0m.4-.1h0m.2-.3h0m.6 .2h0m0-.3h0m0 .2h0m1.3-.2h0m25.1 .2h0m.5 .1h0m.2-.3h0m0 .2h0m0 .2h0m.1 .2h0m.3 .1h0m.2-.4h0m.1 .4h0m1.1-.1h0m.3 .1h0m.2 .2h0m.4-.8h0m0 .4h0m.1-.1h0m.1 .4h0m.2 0h0m.3 .2h0m.1-.1h0m.1 0h0m1-.8h0m0 .3h0m.1 0h0m.3 .2h0m.1 0h0m.1-.1h0m.5-.2h0m0-.2h0m.1 .6h0m.4 .1h0m.3 0h0m.4 0h0m.3 .1h0m0-.3h0m.9-.2h0m.7 0h0m.2 .4h0m0 .1h0m.1-.9h0m.3 .3h0m.4-.1h0m.2 .6h0m.4-.6h0m.2 .3h0m.2 .1h0m.2 .3h0m.5-.8h0m.8 .1h0m.1 .6h0m0-.3h0m.1 .5h0m.2-.5h0m.2-.2h0m.2 .4h0m.7 .3h0m1-.1h0m.2-.7h0m.3 0h0m1.3 .8h0m.4-.1h0m-69.5 .4h0m.1 0h0m1.4 .4h0m.1-.3h0m.9 .5h0m.2-.5h0m.2 .4h0m.1-.7h0m.1 .3h0m.4 .6h0m0-.2h0m1.3 0h0m.1-.8h0m0 .5h0m0-.1h0m.8 0h0m.8-.4h0m.2 .3h0m.3 .1h0m.2 .1h0m.4-.2h0m0 .5h0m.1-.7h0m.1 .4h0m.2 .4h0m.2-.4h0m0 .1h0m0-.2h0m.1-.3h0m.2 .6h0m.2-.2h0m.1-.2h0m0 .4h0m0-.3h0m.3 .1h0m.3 0h0m.1 .2h0m.1-.3h0m.3 .4h0m.1-.6h0m.1 .3h0m.3 .3h0m.1 .1h0m.4-.1h0m1-.6h0m.2 .8h0m.2-.3h0m.1-.5h0m.9 .2h0m0 0h0m.2-.4h0m.3 .5h0m0 .2h0m0-.4h0m.1 .4h0m.8-.2h0m.1 .5h0m.2-.8h0m.1 .2h0m0 .4h0m.2-.2h0m.5-.2h0m0-.1h0m.1 .5h0m0-.4h0m.2-.2h0m0 .8h0m0-.2h0m0-.6h0m.2 .4h0m.1 .1h0m.3-.6h0m.1 .5h0m0 .2h0m.1 0h0m.1-.8h0m.4 .7h0m.2 0h0m0-.4h0m.3 .1h0m0 0h0m.6 .1h0m.2 0h0m0-.4h0m.3 .7h0m.2-.2h0m0 0h0m.9 .1h0m.2-.4h0m.3 .1h0m.2-.3h0m.3 0h0m.2 .2h0m0-.1h0m31.2 .1h0m1.7-.1h0m0-.1h0m.3 .3h0m.2-.4h0m.2 .5h0m.1 .2h0m.1 .1h0m.2-.1h0m0-.2h0m.1 0h0m.3-.2h0m.2 .3h0m.3-.4h0m.1-.1h0m0 .5h0m.5-.5h0m.1 .4h0m0-.2h0m.3 .6h0m.2-.2h0m0 .2h0m.1 0h0m.2 0h0m.1 0h0m.4-.3h0m.5 0h0m0-.2h0m.1 .4h0m.1-.8h0m0 .9h0m.5-.1h0m.4-.1h0m.3-.6h0m.1 .2h0m.1 .7h0m.1-.6h0m.1 0h0m.3 0h0m.3 .1h0m0-.5h0m.3 .1h0m.2 .7h0m0-.2h0m.1 .4h0m.1-.6h0m.1-.3h0m.1 .3h0m.1-.4h0m0 .4h0m0 .2h0m.2 .3h0m.2-.8h0m.2 .4h0m0-.2h0m.1 .2h0m.1 .3h0m.3-.8h0m.1 .2h0m0 .2h0m.3-.3h0m.1 .6h0m.4 .1h0m0 .2h0m.7-.8h0m.3 .6h0m.1 .1h0m.5-.7h0m.3 0h0m.9 .2h0m.1 0h0m.2 .5h0m.1-.2h0m.5 .2h0m0-.2h0m1.5-.4h0m.1 .1h0m.6-.3h0m.3 .1h0m.1 0h0m.8 .5h0m-73.8 .8h0m.5 0h0m0 .5h0m.5-1h0m.3 .9h0m1.3 0h0m.1-.6h0m.2-.3h0m.3 .9h0m.8 .1h0m.9-.2h0m0-.1h0m.2 .2h0m.4-.5h0m1 .3h0m.1 .2h0m.2-.1h0m.2-.3h0m.1 .3h0m0 .1h0m.6-.1h0m0-.1h0m.7 .3h0m.1-.8h0m.1 .6h0m.2 0h0m.5-.6h0m0 .3h0m.1 .5h0m0-.3h0m.2-.4h0m.1 .2h0m.1 0h0m1-.4h0m0 .5h0m.2-.6h0m.1 .2h0m.2 .3h0m.3-.4h0m.4 0h0m.1 .8h0m.1-.4h0m.3-.5h0m.1 .1h0m.2 .9h0m0-.9h0m.6 .5h0m0-.1h0m.1 .1h0m0-.1h0m.1 .4h0m0-.3h0m.3 .1h0m.4-.4h0m0 .3h0m.1 .3h0m.1-.1h0m.2 0h0m.1-.5h0m.1 .4h0m.2 .2h0m0-.2h0m.1-.2h0m.4 .3h0m.3 0h0m.2 .1h0m.4 0h0m.2-.9h0m.1 .8h0m.1-.1h0m.2 .3h0m.1-.2h0m.1 .2h0m0-.6h0m.3 .1h0m.2-.1h0m0 0h0m.1-.2h0m.1 .4h0m.4-.5h0m.1 .3h0m0 0h0m0 .3h0m.1-.6h0m.2 .2h0m.4 .2h0m0-.1h0m.3-.2h0m0 .2h0m38.7-.2h0m.3-.1h0m.1 .4h0m.4-.1h0m.4 .4h0m.3-.2h0m0 .4h0m.2-.3h0m.2-.6h0m.5 .2h0m0 .7h0m.6-.9h0m.3 .3h0m.4-.1h0m.2 .7h0m.8-.3h0m.1 0h0m.4 0h0m.2-.4h0m.2 .6h0m.1-.2h0m.6-.5h0m.1 .3h0m.3-.3h0m0-.1h0m.6-.1h0m.2 .8h0m.7-.3h0m.2 .3h0m.3-.1h0m.2-.5h0m.3 .6h0m.1-.5h0m.1 .6h0m.6 .1h0m.4-.2h0m.2-.5h0m1.2-.2h0m.7 .7h0m.6-.4h0m.1-.2h0m.3 .4h0m.3-.3h0m0 .3h0m.7 .2h0m.4-.5h0m-74.5 1.5h0m.2 .1h0m.5-.1h0m.6 .1h0m1.1-.7h0m.6 .2h0m.9 0h0m.1-.1h0m.3 .6h0m0-.5h0m.2-.2h0m.1 .1h0m0 0h0m.9 .2h0m.5 .2h0m.2-.6h0m.5 0h0m.5 .8h0m.2-.9h0m.8 .4h0m0-.3h0m.2 .5h0m.1 .2h0m.2-.1h0m.1-.4h0m.4 .7h0m.2-.3h0m.6-.2h0m.2 0h0m0 .4h0m.1-.4h0m0 .3h0m.3-.4h0m0-.2h0m.5 .6h0m0-.5h0m0 .3h0m.2 .3h0m.3-.2h0m.2 .2h0m0-.4h0m.1-.5h0m0 .7h0m.4-.3h0m.2-.2h0m.2 .5h0m.2 .2h0m.1-.7h0m0 .4h0m.2-.3h0m.3-.1h0m0 .5h0m.7-.5h0m.1 .8h0m.2-.9h0m.2 .9h0m.6-.3h0m.3-.5h0m.1-.1h0m.1 .3h0m0 .1h0m.2-.4h0m0 .2h0m0 .6h0m.6-.1h0m.1 0h0m.5-.2h0m.2-.6h0m.3 .5h0m.4-.5h0m0 .4h0m.4-.2h0m.3-.1h0m.1 .2h0m.2-.3h0m41.6 .7h0m0-.7h0m.1 .4h0m.1 .2h0m.1 .1h0m.1-.3h0m.3 .4h0m.2-.4h0m.4 .5h0m.2 0h0m.1 .1h0m0-.1h0m.1-.2h0m.2 .3h0m.6-.8h0m.2-.1h0m.1 .8h0m0 0h0m.2-.6h0m.1 .3h0m0 0h0m.1 .3h0m.2-.1h0m.1 0h0m0-.1h0m.2 .2h0m.1-.7h0m.3 .6h0m0-.1h0m.3 .3h0m.1-.5h0m.6-.2h0m0-.1h0m.1 .3h0m.2-.2h0m.8-.2h0m.2 .5h0m.1 0h0m.2-.3h0m0 0h0m.2 .5h0m.2 .2h0m1.2-.6h0m0 .1h0m0-.5h0m.6 .3h0m.2-.2h0m.1 .8h0m.6-.3h0m.3-.4h0m.3-.2h0m1.7 .8h0m.2 .1h0m2-.6h0m.9 .1h0m-77.1 .8h0m1.7-.1h0m.3 .5h0m.2 .3h0m.6-.2h0m.4-.2h0m.6 .4h0m.1-.5h0m.1 .6h0m0-.5h0m0-.4h0m.2 .8h0m.1-.6h0m.1 .5h0m.4-.7h0m0 .1h0m.3 .1h0m1.1 .6h0m.3-.1h0m0-.1h0m.1-.6h0m.1 .2h0m.3 .1h0m0-.3h0m.1 .5h0m.5-.3h0m.1 .3h0m.2-.5h0m.3 .8h0m.1-.4h0m.1-.2h0m.3 0h0m.1 .6h0m.1-.2h0m.2-.4h0m.2 .7h0m.2-.4h0m.1 0h0m.1-.3h0m.2-.2h0m.4 .1h0m0 .7h0m.1-.8h0m.2 .1h0m.4 .6h0m0-.4h0m0-.4h0m.1 .1h0m0 .3h0m.1 .5h0m.7-.4h0m.3-.4h0m.1 .1h0m.1 .6h0m.1-.4h0m.2-.2h0m.1-.2h0m.4 0h0m0 .1h0m.2 .8h0m.2-.7h0m.5-.1h0m.2 .8h0m.2-.7h0m0 .5h0m.1-.6h0m.2 .3h0m.3 .1h0m.2-.4h0m.5 0h0m0 .7h0m.1-.3h0m.1 .2h0m0 .1h0m.2-.1h0m.3-.4h0m.3 .1h0m0-.1h0m.2 0h0m.3-.2h0m0 0h0m.1 0h0m.1-.1h0m.1 0h0m44.3 .7h0m.4-.7h0m.2 .3h0m.2 .5h0m.5-.2h0m.7 .4h0m.1-.6h0m.1 .1h0m.3-.2h0m.4-.2h0m.6 0h0m.1-.1h0m.2 .6h0m.1 0h0m.4-.6h0m.1 .6h0m.3 .1h0m0-.7h0m.1 .8h0m.3-.5h0m.6-.2h0m.1-.1h0m.7 .1h0m.4 .1h0m.2 .6h0m.5-.7h0m0 .2h0m.1 .5h0m.3 0h0m.2-.5h0m.1 .2h0m0-.3h0m0 .6h0m0-.2h0m.3 .1h0m.2-.2h0m.2 .4h0m0-.5h0m.3 .2h0m.1-.4h0m.1 .4h0m.7 .2h0m.4-.3h0m.1-.1h0m1.8 .2h0m.7 0h0m1.7-.3h0m.4 .2h0m-77.8 .7h0m.2 .3h0m.2 0h0m.9-.3h0m2.5 .1h0m.7 .3h0m.1-.2h0m0 .4h0m0 .1h0m.6-.7h0m.4 .6h0m.1-.4h0m.2 .2h0m.3-.2h0m.6 .5h0m.1-.4h0m0-.4h0m0 .3h0m0-.2h0m.1-.2h0m.5 .5h0m.4-.1h0m.5 .5h0m.1-.1h0m0-.1h0m.5 0h0m.1 .2h0m.5-.9h0m.2 .1h0m.4 .1h0m.1-.2h0m0 .3h0m.3 .4h0m.1 0h0m0-.3h0m0 .6h0m.4-.6h0m.5 .6h0m0-.3h0m.1-.3h0m.1 0h0m.2 .4h0m.1-.7h0m.3 .5h0m.1 .2h0m.1-.5h0m.2 .7h0m.4-.2h0m.2 .1h0m.1-.9h0m.2 .3h0m.1 .2h0m.2-.3h0m0 0h0m.1 .7h0m.4-.4h0m.4-.2h0m.2 .2h0m46.8 .5h0m.3-.1h0m.2-.3h0m.6 .3h0m.1-.1h0m.1-.4h0m.1-.2h0m.5 .2h0m.1 0h0m.2 .3h0m0 0h0m.1-.2h0m0-.1h0m.8 .2h0m.6 .1h0m.8-.2h0m0-.2h0m.2 .5h0m.7 .1h0m.7 0h0m.2-.1h0m0-.5h0m.3 0h0m.2-.1h0m.1 .2h0m.3 .2h0m.4 .2h0m.1-.2h0m.1-.6h0m.2 .6h0m0-.3h0m.4 .3h0m.3-.4h0m.2 .2h0m.1-.1h0m.1-.2h0m.1 .5h0m.5-.4h0m.8-.2h0m.2 .4h0m.2 .5h0m.1-.3h0m.8 .1h0m.6-.6h0m.1 .5h0m.4-.1h0m.5-.2h0m.4 .5h0m.9 .1h0m1.4 .1h0m-79.5 .1h0m.1-.1h0m.2 .7h0m.3-.2h0m.1 .2h0m.6-.3h0m.2-.4h0m.4 .8h0m.7-.1h0m.1 .1h0m.3-.3h0m.2 .1h0m.5 .4h0m.6-.2h0m.2-.1h0m.1-.6h0m.2 .5h0m.2 .1h0m.5-.3h0m.3-.2h0m.1 .2h0m.7 .4h0m.4-.2h0m.1 .4h0m.2 0h0m.4-.7h0m.1 .6h0m.2-.5h0m.6 0h0m.2 .1h0m.2-.3h0m0 .8h0m.4-1h0m0 .8h0m.4-.6h0m.3 .5h0m0-.2h0m.3-.2h0m.2 0h0m0 .3h0m.2-.3h0m0-.1h0m.6 .7h0m.1 .1h0m0-.9h0m.2 .5h0m.1 .1h0m0-.3h0m.2-.1h0m.1-.1h0m.3 .1h0m.1-.1h0m.3 .3h0m.2 .1h0m.1-.5h0m.4 .5h0m.2-.1h0m0 .3h0m.1-.8h0m.3 .2h0m.2 .1h0m.1 0h0m.4 .6h0m.1-.3h0m.3-.6h0m.2 .2h0m47.7 .7h0m.8-.2h0m.1-.6h0m.1 .4h0m.4-.2h0m.1-.1h0m.2 .2h0m.2 .5h0m0 .1h0m.1-.1h0m.1-.3h0m.4 .1h0m.4-.5h0m0 .4h0m.2 .2h0m.1-.6h0m.3 .5h0m0 .1h0m.1-.6h0m.8-.1h0m0 .6h0m.1-.3h0m.1-.2h0m.2 .6h0m.5-.4h0m.2 .6h0m.1-.3h0m.2-.2h0m0-.1h0m.5 0h0m.2 0h0m.1 .3h0m.5-.2h0m.2 .1h0m.1 .1h0m.2-.5h0m0 .5h0m.6 0h0m.3-.4h0m.8 .6h0m.3-.2h0m.4-.2h0m.1 .5h0m.2-.3h0m.1 .3h0m.1-.3h0m0-.1h0m.8-.6h0m0 .9h0m.5 .1h0m.6-.1h0m.3 0h0m.5-.3h0m.3-.3h0m.6 .3h0m-78.2 1h0m.5-.4h0m.3 .7h0m1.1-.5h0m0 .3h0m.3 0h0m.4-.3h0m.2 .6h0m.4-.1h0m1.4-.9h0m.6 .7h0m0 .1h0m1.6-.4h0m.1-.3h0m0 0h0m.1 0h0m.2-.1h0m.3 .3h0m0 .4h0m.1 .2h0m.4-.2h0m.3 0h0m0 .3h0m.2-.6h0m0 .6h0m.3-.9h0m.2 .4h0m.2-.2h0m.2 .3h0m.4-.2h0m.4 .5h0m.1-.5h0m.2-.1h0m0 .7h0m.4-.1h0m.1-.9h0m.2 .8h0m0-.8h0m.3 .3h0m.1 .3h0m.2 .2h0m.6-.7h0m.2 .9h0m.2-.2h0m0-.7h0m.1 .8h0m0 0h0m.5-.2h0m.1-.3h0m.1 .4h0m.2-.2h0m.4-.5h0m.1 .2h0m0 .3h0m0-.2h0m48.2 .5h0m.4 0h0m.3-.2h0m.3-.3h0m0 .4h0m.1 .1h0m.3-.2h0m.3 .2h0m0-.9h0m.3 .4h0m0-.1h0m.2 .4h0m0-.2h0m.5 0h0m.1 .3h0m.5-.1h0m0-.5h0m.1 0h0m.1 0h0m0 .1h0m.1-.1h0m.1 0h0m.2 .4h0m0 .2h0m.1-.1h0m.4 .1h0m.1-.6h0m0-.1h0m.1 0h0m.1 .7h0m0-.3h0m.2 .2h0m.1-.3h0m.1 .4h0m.3-.2h0m.3-.5h0m.3 .8h0m.1-.5h0m0 .1h0m.1 .2h0m0 .1h0m.3-.7h0m0 .8h0m.3-.2h0m0 .1h0m.1-.6h0m0 .6h0m.3-.7h0m.5 .1h0m.1 .5h0m.4-.1h0m.8 .4h0m.1-.3h0m.3-.7h0m.2 .1h0m0 .8h0m.1 0h0m.3-.6h0m.1 .5h0m.2-.1h0m0-.3h0m.2 .4h0m.2-.3h0m.1 .5h0m.2-.7h0m.1 .3h0m.2 0h0m.8-.4h0m.3 .4h0m.1 .3h0m.4-.1h0m.1-.5h0m.3-.2h0m.6 .5h0m-77.8 1.3h0m.3-.9h0m2.3 .7h0m.8-.5h0m1.4 .2h0m0 .3h0m.3 .2h0m.1-.9h0m.3 .6h0m.1-.2h0m.4-.3h0m0 .1h0m.1 0h0m.4 .4h0m.3-.5h0m.2 .2h0m.4 0h0m.3-.3h0m.1 .2h0m.2 .4h0m.6 .3h0m.3 0h0m.2-.9h0m.1 .9h0m.1-.6h0m.4 .3h0m.1 .1h0m.3-.3h0m.1 .4h0m.1-.4h0m.3 .1h0m.3-.3h0m.6 .4h0m.1-.4h0m.3-.1h0m.1 .5h0m.1-.5h0m.1 .8h0m1.4-.4h0m0-.5h0m.3 .8h0m0-.5h0m.3-.1h0m.1 .6h0m.6-.5h0m.1 .2h0m.1-.1h0m47.6 .5h0m.5-.1h0m.7-.4h0m.3 .1h0m0-.3h0m.2 .4h0m0-.4h0m.2-.1h0m.1 .9h0m0-.4h0m.9 .1h0m.6-.3h0m.1-.2h0m.4-.1h0m0 .3h0m.3-.1h0m0 .1h0m.7-.4h0m.1 .5h0m.2-.5h0m.2 .7h0m.1 .3h0m.1-.2h0m.2 .1h0m.4 0h0m.3 .1h0m.1 0h0m.1-.6h0m0-.2h0m0 .5h0m.1-.5h0m.1 0h0m.1 .4h0m.1 .2h0m0 0h0m.3-.5h0m.1 0h0m.3 0h0m0-.3h0m0 .6h0m.1 .1h0m.2-.3h0m0-.3h0m.4 .4h0m.1-.4h0m.1 .9h0m.1-.1h0m.5-.4h0m0-.1h0m.2-.1h0m.6 .2h0m0-.2h0m.1-.1h0m.1 .3h0m.1-.2h0m.1 .7h0m.1-.9h0m1.6 .2h0m.4-.1h0m.4 .6h0m0-.5h0m.1 .1h0m.6-.1h0m.5 .1h0m.6-.3h0m.5 .3h0m.6 .1h0m1.6-.4h0m.1 .2h0m.5 .2h0m.3 0h0m-81.9 1.3h0m.1-.2h0m.3-.2h0m.3 0h0m.3-.2h0m2.4 .4h0m.3-.6h0m.2 .5h0m.9-.2h0m1.1 .2h0m.3 .2h0m.3-.1h0m.5-.1h0m0 .2h0m.4-.1h0m.2 .4h0m0-.7h0m.2 .6h0m.2-.6h0m0 .6h0m.2-.1h0m.1 .1h0m0 0h0m.1-.2h0m.6 .1h0m.2 0h0m.3-.6h0m.5 .7h0m.1-.9h0m.4 1h0m0-.8h0m.9 .4h0m.1 0h0m.1 .3h0m.5-.6h0m.5-.1h0m.1 .3h0m.3-.2h0m0 .6h0m.1-.1h0m0-.6h0m0-.2h0m.1 .4h0m.1 .2h0m.1-.1h0m.3-.3h0m.1 .3h0m.1-.1h0m.1-.1h0m0 .2h0m.1-.2h0m.2 0h0m.1 .1h0m0 .2h0m.7-.4h0m.3 .1h0m46.8 .6h0m.1-.2h0m.2-.4h0m.6-.3h0m.2 .7h0m.3-.2h0m.3 .1h0m.2-.1h0m.4-.1h0m.2-.3h0m.2 .7h0m.5-.3h0m.3 .4h0m.9-.4h0m.4-.1h0m.6-.2h0m.7 .7h0m.6-.1h0m.1-.5h0m.3 .4h0m.1-.1h0m.5-.4h0m.4 .2h0m.7 .2h0m.2-.6h0m.2 .3h0m.2-.2h0m1 .3h0m.1-.1h0m.3-.1h0m.2 .6h0m.9-.7h0m0 .7h0m.5 0h0m.8 0h0m.2 0h0m.1-.7h0m.2 .4h0m.2-.5h0m.3 .5h0m.3-.2h0m.1 0h0m1.5-.1h0m.1 0h0m.5 .7h0m2.4-.8h0m-82 1.1h0m.9 .3h0m.5 .4h0m.5-.4h0m.4-.2h0m1.8 .6h0m.3-.3h0m.3-.1h0m.1 .4h0m.3-.1h0m.2-.1h0m0-.1h0m.2-.1h0m0 .4h0m.2 0h0m.6-.4h0m.7-.3h0m.3-.1h0m0 0h0m.1 .1h0m.1 .5h0m.6 .2h0m0-.2h0m.3-.2h0m.1-.3h0m.1 .6h0m.1-.6h0m.6 .1h0m.1-.2h0m0 .9h0m.1-.7h0m.7 0h0m.1 .3h0m.4-.4h0m.2-.2h0m.3 1h0m.4-.9h0m0 .7h0m.3-.6h0m0 .2h0m.2-.2h0m.5 .2h0m.4 .1h0m.4 .4h0m.2-.2h0m0-.3h0m.1 .1h0m.1 .1h0m.1-.3h0m.1 .2h0m.1 0h0m.4 .5h0m.2-.8h0m.2 .2h0m0 .1h0m.3 .4h0m0-.7h0m.1 .8h0m46.5-.5h0m.1 .3h0m.3 .1h0m.1-.9h0m.1 .5h0m.4-.3h0m.2 .3h0m1.1 .1h0m.3 .4h0m.3-.2h0m.1-.8h0m.2 .4h0m.1-.1h0m.3 0h0m.2 .1h0m0 .4h0m.2 0h0m.3 .1h0m.1 0h0m.3-.6h0m.2-.3h0m0 .3h0m.1-.1h0m.5 .1h0m.1 .1h0m.1-.3h0m.1 .6h0m.2 0h0m.7-.2h0m.2-.1h0m.2-.1h0m.4 .6h0m0-.8h0m.1 .1h0m.3-.1h0m.2 .2h0m.2 .2h0m.2 .4h0m.2-.4h0m1.2 .4h0m.1-.7h0m.8 0h0m.4 .5h0m.4-.4h0m0 .4h0m.1-.3h0m.4 .4h0m.3-.6h0m.1 .1h0m0 .6h0m.6-.6h0m.3 .5h0m.3-.6h0m.1 .3h0m.3 .1h0m0 .3h0m0-.8h0m.1 .6h0m.1-.2h0m.3 0h0m.1 .4h0m.1-.3h0m.2 .3h0m.1-.7h0m1.2 0h0m2.2 0h0m1.2 0h0m-81.8 1h0m1.4 0h0m.9 .3h0m.5-.4h0m.3 0h0m.1 .2h0m.1 .4h0m.4-.4h0m.1 .4h0m0 .3h0m0-1h0m.4 .4h0m.3 .5h0m0-.5h0m.2-.2h0m.1 .6h0m.3-.1h0m.6 0h0m.2 0h0m.3-.2h0m0-.5h0m0 .2h0m.3 .8h0m.1 0h0m.4-.6h0m0 .2h0m.2-.1h0m0-.4h0m.2 .7h0m.1 0h0m.4-.4h0m.1-.2h0m.1 .1h0m.3 .4h0m.1 .2h0m.4-.9h0m.9 .3h0m.5 .2h0m.1 .2h0m.3 .2h0m.2-.1h0m.1-.6h0m.1 .2h0m.1-.4h0m.5 .6h0m.2 .3h0m.2-.8h0m.2 .8h0m.1-.8h0m.3 .2h0m0-.2h0m.4 .8h0m.1-.1h0m.1-.1h0m.1-.4h0m.3-.2h0m0 .6h0m.4-.6h0m.1 .5h0m.2-.5h0m.2 .5h0m.5-.4h0m.3 .3h0m.1-.2h0m.1 .4h0m42.8 .2h0m1.5-.5h0m.3 .3h0m0-.4h0m.7 .2h0m.6-.2h0m0-.3h0m.2 .3h0m.1 .2h0m0-.1h0m.4-.1h0m.6 0h0m0 .3h0m.1-.1h0m.1-.5h0m.4 .8h0m.7 .1h0m0-.1h0m.2-.8h0m.2 .1h0m.7 .3h0m.2 .5h0m.4-.6h0m.5 .7h0m.8-.6h0m0-.1h0m0 .2h0m.2-.3h0m0 .5h0m.1-.1h0m1.1 0h0m0 .2h0m.2-.4h0m.2 .3h0m.1-.4h0m.1 .2h0m.2-.1h0m.2-.3h0m.3 .1h0m0 .2h0m.2-.2h0m.2 .1h0m.1 .6h0m.7 0h0m.2-.1h0m.7-.4h0m.1 .2h0m.1-.3h0m.3-.1h0m.3 .7h0m.6-.5h0m.1 0h0m.5 .5h0m.8 0h0m.6-.7h0m.1 .1h0m.2 .3h0m.3-.4h0m0 0h0m.8 .4h0m.7-.4h0m.4 0h0m.4 .2h0m.1 .2h0m1 0h0m-78.2 1.4h0m.1-.6h0m.3 .5h0m.1-.6h0m1.5-.1h0m.2 0h0m.5 .1h0m.7 .7h0m.1-.8h0m.4 .4h0m.5 .4h0m.4-.1h0m.5-.6h0m.1 .7h0m.4-.8h0m0 .7h0m.1-.8h0m.1 0h0m.1-.1h0m0 .7h0m.4-.3h0m.2-.2h0m.2 0h0m.6 .2h0m.5 0h0m.2 .5h0m.3 0h0m.3-.4h0m0-.5h0m.5 .5h0m.2 .4h0m.2-.7h0m.3 .8h0m.6-.3h0m.3-.6h0m0 .9h0m.1-.2h0m0 .2h0m0-.8h0m.1 0h0m.2 .5h0m.2-.1h0m.1-.1h0m.6 0h0m.1 .3h0m.4 .1h0m.2-.2h0m.6-.4h0m.4 .6h0m.4-.8h0m.2-.1h0m0 .6h0m.2-.3h0m.5 .5h0m39.1-.4h0m.2 .5h0m.3 .1h0m.6-.3h0m.5-.4h0m.1 .5h0m.2-.5h0m0-.2h0m.1 .3h0m.6-.2h0m.5 .3h0m.1-.1h0m0 .1h0m.3-.2h0m.4 .6h0m.4-.8h0m.1 .8h0m0-.6h0m.7 .2h0m.2-.2h0m.4 .6h0m.1-.4h0m.1-.5h0m.1 .8h0m.9-.7h0m.4 .1h0m.3 .2h0m.2 0h0m.2 0h0m.4 0h0m.2-.2h0m.1 .3h0m.1 .3h0m.1 .1h0m.2-.1h0m.1-.4h0m.1-.1h0m.1-.3h0m.4 .1h0m.4 .3h0m.4 .1h0m.1 .3h0m1.4 .2h0m.1 0h0m.1-.5h0m.2 .2h0m.3-.6h0m.3 .6h0m.3 0h0m.8 .2h0m0-.5h0m.1 .3h0m0-.6h0m.3 .7h0m.3 .2h0m.1 0h0m0 0h0m1-.3h0m.5 .2h0m.1-.5h0m.4 .6h0m0-.8h0m.3 .5h0m.6-.5h0m.2 .6h0m0-.5h0m.2-.2h0m.4 .3h0m.9 .4h0m.1-.5h0m.1-.3h0m1.7 .2h0m.3 .5h0m.7-.6h0m0-.1h0m1.1 0h0m0 .6h0m.6-.2h0m-76 1.2h0m0 .1h0m1-.1h0m0-.6h0m.1 .7h0m0 .2h0m.9-.2h0m.6-.2h0m1-.2h0m.1 .5h0m.4-.4h0m.1 .3h0m1 .1h0m.2-.7h0m.5 .8h0m.3-.4h0m.1 .3h0m.2-.6h0m0 .1h0m.4 .1h0m.1-.1h0m.4-.2h0m.1 .4h0m.1-.4h0m.2 .2h0m0 .3h0m0 0h0m0 .2h0m.2-.5h0m.2 .2h0m.1 .4h0m0 0h0m.3-.6h0m.3-.1h0m.2-.2h0m.1 .7h0m.4-.5h0m.1 .1h0m0-.1h0m.6 .5h0m.1-.4h0m.1 .7h0m.1-.5h0m.1-.2h0m.1 .4h0m.1-.4h0m0 .4h0m.3-.1h0m.2-.6h0m.1 .4h0m.1 0h0m.1-.3h0m.3 .6h0m.1-.3h0m.1 .5h0m.2-.8h0m.1 .5h0m.2 .3h0m.2-.7h0m.6 .6h0m35.2 0h0m.1-.2h0m.1 .2h0m.3-.4h0m.3 .1h0m1 .3h0m0 .2h0m.3-.1h0m.2-.2h0m.9 0h0m.5-.3h0m.4-.1h0m.1 .6h0m.5 0h0m.3 0h0m.5-.1h0m.2-.3h0m.4 .4h0m.1 0h0m.4-.4h0m.3-.4h0m.8 .8h0m.3-.4h0m.5-.5h0m0 .6h0m.6-.6h0m.7 .8h0m0 0h0m0-.3h0m.3 0h0m.4 .1h0m.2-.1h0m.4-.4h0m0 .8h0m.5-.1h0m.2-.5h0m.6 .2h0m.4 .4h0m1.1-.8h0m.1 .9h0m1.4-.6h0m.6 .3h0m.7-.1h0m.2 0h0m.1-.5h0m0 .1h0m.2 .1h0m1.1 .4h0m.1-.6h0m.1 0h0m.2 0h0m.2 .3h0m.3 .4h0m.2-.8h0m1 0h0m0 .4h0m2.1-.2h0m.1 .1h0m.2 .1h0m.4 .1h0m1.7-.5h0m-76.8 1.6h0m.4 .1h0m.1-.1h0m1.6 .2h0m.5 .1h0m.6-.5h0m.3 .4h0m.1-.7h0m.3 .7h0m.3-.1h0m.5-.6h0m.1 .4h0m0-.3h0m.4-.1h0m.1 .6h0m.2 .1h0m.1 .1h0m.2-.7h0m0 .2h0m.1 0h0m.4-.1h0m.1 .6h0m.1-.4h0m.3 .1h0m.2-.5h0m.9 .2h0m.8-.2h0m.4 .6h0m.2-.5h0m.3 .1h0m.2-.1h0m.9-.1h0m.1 .1h0m.1-.1h0m.5 .9h0m.1-.8h0m.2 .5h0m.1-.6h0m.1 0h0m0 .9h0m.1-.9h0m.3 .4h0m.3-.3h0m.1 .7h0m.1 0h0m.2-.7h0m.1 .5h0m.2-.4h0m.2 .3h0m.6-.5h0m1.2 .1h0m0 .4h0m.4 .3h0m.2-.4h0m.1 .3h0m.1-.5h0m0 .7h0m.2-.5h0m.3-.1h0m.3 .5h0m.4-.6h0m.5 .1h0m0 0h0m.1 .2h0m.2-.2h0m0 .3h0m.5 0h0m.1 .2h0m.3 0h0m24.4-.4h0m4.3 .5h0m.6-.2h0m.8-.1h0m.7 0h0m.1 0h0m.1 .1h0m.1-.4h0m.2-.1h0m.5-.2h0m.1 0h0m.1 .5h0m0-.1h0m.1 .5h0m.4-.8h0m.1 .2h0m.2 .4h0m.4 .2h0m.6-.6h0m.2-.1h0m.6 .4h0m0-.7h0m.2 .5h0m.1-.4h0m.4 .7h0m.5 0h0m1.2-.5h0m1.3 .2h0m.1 .1h0m.1-.6h0m.2 .5h0m.4 .1h0m.1-.5h0m.2-.1h0m.1 .5h0m.7 0h0m.1 0h0m.1 0h0m.5 .2h0m.1-.1h0m0 0h0m0-.1h0m.3 0h0m.1 0h0m.7-.2h0m.1 .6h0m.1-.8h0m.1 .4h0m.7 .3h0m.3 .1h0m.3-.1h0m.3-.6h0m.4 .4h0m.9-.5h0m.3 .5h0m.1-.4h0m0-.1h0m.3 0h0m.7 .3h0m.3 .4h0m.4-.3h0m0-.1h0m0-.3h0m1.8 .7h0m.2-.1h0m.2 .1h0m.1-.5h0m.5 .5h0m.6-.1h0m.2 0h0m.1-.2h0m.1 0h0m.5 .3h0m.4-.3h0m.4-.4h0m.3 .3h0m.1 .1h0m.4-.2h0m.6 .1h0m1.1-.1h0m.5-.1h0m.1 .3h0m1.2 .4h0m-75.5 1.1h0m.1-.9h0m1.2 .5h0m.3-.1h0m.4-.3h0m.3 .3h0m.6-.2h0m.2 .4h0m1.1-.2h0m.3-.3h0m.7 .1h0m.3 0h0m.7-.2h0m0 .2h0m.4 .2h0m.4 0h0m.1-.1h0m.1-.3h0m0 .7h0m.3 .1h0m.4-.5h0m.2 0h0m.1-.4h0m0 .7h0m.1-.6h0m0 .5h0m.4 .1h0m.2-.2h0m.2 .4h0m0-.5h0m.4 .4h0m.2-.7h0m.7 .8h0m.1-.7h0m.4 .2h0m0-.4h0m0 .1h0m0 .4h0m.3-.2h0m.6 .4h0m.1-.5h0m.4 .1h0m.2 .7h0m0-.6h0m.1 0h0m.4 .5h0m.2-.7h0m.1 .6h0m.7-.1h0m.2-.7h0m.1 .1h0m.1 .8h0m0 .1h0m.1-.3h0m.1 .1h0m.1 0h0m.1-.6h0m.4 .5h0m.1-.6h0m.2 .6h0m0-.5h0m.3 .6h0m.3-.8h0m0 .7h0m.3-.5h0m.1 .7h0m.4-.2h0m.1-.5h0m.4 .4h0m0-.3h0m.7 .4h0m.4-.1h0m.1-.4h0m.5 .1h0m.1 .4h0m0-.2h0m.1 .5h0m0-.5h0m0 0h0m0 .2h0m.3-.4h0m.8 .2h0m.5 .4h0m.4-.3h0m.1 0h0m.7 .2h0m.9-.2h0m.6 .3h0m3.9 .1h0m7.9-.1h0m5.3 0h0m.3-.1h0m.8 0h0m.4-.1h0m.4 .3h0m1.3-.4h0m.7-.3h0m0 .1h0m.5 .5h0m.1-.2h0m.2-.1h0m.1 .3h0m.3-.6h0m.1 .2h0m.5-.3h0m.1 .5h0m.1 0h0m.1-.3h0m.4 .5h0m0-.7h0m0 .5h0m.1 .1h0m.1-.4h0m.3-.3h0m.1 .2h0m.3 .7h0m.2-.4h0m.1-.3h0m.3 .3h0m.2 .2h0m.1-.6h0m.2 .6h0m.7 .1h0m.1-.8h0m.4 .7h0m.1-.7h0m.2 .1h0m.1 0h0m.5 .2h0m.2 .1h0m.8 .5h0m.5-.5h0m.3-.2h0m0 .2h0m.5 0h0m0-.1h0m.1 .5h0m.2 0h0m.3 0h0m0-.6h0m.5 .3h0m.2-.5h0m.7 .7h0m.1-.7h0m0 .2h0m.2 .6h0m.1-.5h0m1.1-.2h0m.2 .3h0m.6-.4h0m.2 .7h0m.1 0h0m.2 0h0m.1-.3h0m0-.3h0m0 .7h0m.1-.2h0m.1-.7h0m.9 .5h0m.6 .2h0m.4-.4h0m.4 0h0m1.1 .4h0m.2-.3h0m.1-.3h0m.5 .3h0m.2 .1h0m.1 .4h0m.4-.1h0m.2 0h0m.6 .1h0m.3-.2h0m.1 .2h0m.8 0h0m.1-.5h0m.1-.4h0m1.3 .1h0m.5 .8h0m.4-.2h0m.1 0h0m.1-.1h0m.8 .3h0m.5-.7h0m1 .3h0m.1 .2h0m.4-.5h0m.3 .1h0m2.2-.1h0m.1 0h0m.7 .3h0m1.2 .3h0m-75.3 .4h0m.3 .3h0m1.6-.4h0m.3 .2h0m.4 .3h0m0 .3h0m.1-.7h0m.3 .1h0m.5 .6h0m.2-.2h0m.1-.3h0m.4-.3h0m.1 .3h0m.2-.2h0m0 .8h0m.3-.1h0m.6-.3h0m.5-.1h0m.9-.1h0m.2 .5h0m.3-.6h0m0 .6h0m.6-.6h0m0 .6h0m.1-.2h0m.3-.2h0m.1 .2h0m.5 0h0m.3-.2h0m0-.3h0m.3 .7h0m.1-.3h0m.1-.6h0m.2 .7h0m.1 .2h0m.1-.2h0m.1 0h0m.7-.2h0m0 .2h0m0 .1h0m.3-.5h0m.2 .4h0m.9-.1h0m.5-.1h0m.4-.2h0m.2-.2h0m.8 .8h0m0-.3h0m.2 0h0m.1 .1h0m.2 .1h0m.1 .1h0m.1-.2h0m0 0h0m.1-.4h0m.2-.1h0m.2 .6h0m.1 .1h0m.1 0h0m.4-.3h0m.1 0h0m.2 .3h0m.2-.7h0m.4 .5h0m.4-.2h0m0 0h0m.3 0h0m0 .4h0m.1-.6h0m.1-.1h0m.4 .1h0m0 .5h0m.2 .2h0m.1-.9h0m.2 .8h0m.1-.4h0m0-.4h0m0 .8h0m.1-.1h0m0 .1h0m.1-.4h0m1-.1h0m.1-.2h0m.4 .2h0m.1-.4h0m.2 1h0m.4-.1h0m.1-.4h0m.3-.4h0m0 .1h0m.2 .5h0m.2-.2h0m.3 .4h0m.4-.2h0m.2-.1h0m.3-.1h0m.1 .4h0m.6-.1h0m.2 .1h0m.1-.6h0m.1 0h0m0 .7h0m.2-.9h0m.3 .8h0m.1-.8h0m0 .7h0m.6 .2h0m.4-.5h0m.2 .5h0m.3-.6h0m.3 .4h0m.2 0h0m.1 .1h0m0 0h0m.4-.3h0m.1-.1h0m.3 .2h0m1.1 .3h0m.1-.1h0m.8 0h0m0-.5h0m0 .4h0m.1-.1h0m.2 .2h0m.3-.2h0m.2-.3h0m.2-.1h0m.4 .5h0m1.1-.1h0m.1 .1h0m.3-.1h0m1.2 0h0m1 .1h0m.1 .1h0m.4-.1h0m.2-.2h0m.3-.4h0m.3 .6h0m0-.4h0m.2 .5h0m.1-.5h0m.3 .2h0m.7-.2h0m.1 .3h0m.1-.3h0m.3 .5h0m.1-.4h0m0 .3h0m.4-.6h0m0 .5h0m.1-.1h0m.5 .2h0m.2-.3h0m0-.2h0m.1 .2h0m0-.3h0m1.3 .1h0m0 .3h0m.2-.5h0m.6 .3h0m0-.1h0m0-.1h0m.2 .7h0m0-.3h0m.4-.2h0m.1 0h0m.5-.3h0m0 .5h0m.1 .3h0m0-.5h0m.4 0h0m.2 .3h0m.1-.3h0m.1 .3h0m.6-.1h0m.3-.2h0m.1 .4h0m.3 0h0m0-.5h0m.1 .2h0m.8 .2h0m.1-.1h0m.1-.4h0m.1 .5h0m.6-.3h0m.1 .2h0m.6-.3h0m.4 .6h0m.1-.3h0m.2-.3h0m0 .3h0m.2-.4h0m1.3 0h0m.7 .1h0m.2-.1h0m.6 .6h0m.1-.6h0m.1 0h0m.3-.1h0m.1 .6h0m0-.2h0m0 .4h0m.2-.1h0m1.2 0h0m.3-.2h0m0 .3h0m.2-.2h0m.1-.2h0m1 .1h0m.3 .3h0m.1-.9h0m0 .1h0m.5 .1h0m.3 .8h0m.3-.7h0m.7 .6h0m.3-.6h0m.7-.1h0m.3 .3h0m1.2 .1h0m.1 .2h0m0 .1h0m.8-.4h0m2.2 .1h0m.4-.5h0m.5 0h0m.3 .6h0m.4-.3h0m.2-.1h0m.2 0h0m.2 .7h0m1-.5h0m0 .1h0m.1 .3h0m.1-.6h0m.5 .3h0m.7-.1h0m.3-.1h0m.1 .1h0m0 .3h0m.1 .2h0m1.5-.9h0m.2 .5h0m.4 .3h0m.1-.2h0m.7-.2h0m.1-.4h0m1.2 .5h0m-72.2 1.3h0m2.7-.7h0m.4 .3h0m0 .1h0m1.7-.4h0m.3-.2h0m.1 .1h0m0 .4h0m.1-.1h0m0-.2h0m1.3 .1h0m.6-.2h0m.1 .3h0m0-.2h0m.1 .5h0m.2-.5h0m0 .3h0m.1 .4h0m.1-.5h0m.2 .6h0m.2-.2h0m.4-.7h0m.2 .7h0m.3 .2h0m.4-1h0m.7 .9h0m.1-.3h0m.4-.3h0m.2-.1h0m.4 .3h0m0-.2h0m.1 .2h0m0-.1h0m.1 .3h0m.1-.5h0m.6 .3h0m.1 .1h0m.1-.2h0m.1 .2h0m.4-.1h0m.2 .3h0m0-.4h0m.2 0h0m.1-.1h0m0-.1h0m.1 .7h0m.3-.9h0m.6 .9h0m.1-.6h0m.2 .3h0m.4-.4h0m.3 0h0m.1 .3h0m.1-.2h0m.1 .2h0m0-.1h0m.1-.2h0m.3 .7h0m.5-.7h0m.1 .3h0m0 .1h0m.3 .4h0m0-.3h0m0-.2h0m.3-.1h0m.1-.4h0m0 .5h0m.5 .5h0m.2 0h0m.1-.3h0m.2-.4h0m.2 0h0m.1-.2h0m.6 .8h0m.1-.8h0m.2 .4h0m.2 .2h0m0-.5h0m.9 .4h0m.3-.4h0m.1 .1h0m.4 .1h0m0 .5h0m.6 0h0m.1-.1h0m.1-.3h0m.5 .5h0m.1-.3h0m.2-.5h0m.5 .5h0m.2-.4h0m.4 .5h0m.1 .2h0m.5-.1h0m.2-.7h0m.1-.1h0m.2 .6h0m.3 .2h0m.6-.8h0m.1 .4h0m.4-.4h0m.4 .7h0m.1-.6h0m0 .3h0m.3-.5h0m.2 .7h0m.9-.4h0m.2 .5h0m0-.4h0m.1-.3h0m.3 .5h0m.5-.4h0m0 0h0m.4-.1h0m.3 .5h0m1.3 .3h0m.2-.4h0m.2 .3h0m0-.5h0m.1 .5h0m1-.5h0m.6 .4h0m0 .3h0m.1-.2h0m.4-.6h0m.1 .7h0m1-.1h0m.2-.2h0m.1 .3h0m.5-.5h0m.1 .6h0m.1-.7h0m.4 .3h0m.4-.1h0m0 .2h0m.9-.4h0m.7 .6h0m.5-.8h0m.5 .1h0m.1 .2h0m.2 .6h0m.5-.7h0m.1-.2h0m.7 0h0m.2 .9h0m.3 0h0m.6-.7h0m.4 .6h0m1.5-.6h0m.2 .5h0m.1-.3h0m.3-.4h0m0 .5h0m.4-.4h0m.9 .2h0m.1 .4h0m0-.5h0m.8-.1h0m.6 .1h0m.2 .6h0m.1-.9h0m.4 .7h0m.2-.3h0m.3-.3h0m0 .7h0m.1-.3h0m.3-.3h0m.1 0h0m0 .5h0m.1-.5h0m0-.2h0m.3 .4h0m.2 .5h0m.1-.2h0m.6 0h0m.1 .2h0m.1-.8h0m.4 .2h0m.5-.1h0m.1 .2h0m.2 .3h0m.2-.1h0m0-.1h0m.1 .4h0m.5-.5h0m.1 .4h0m0-.1h0m.2-.4h0m.8 .2h0m.6-.2h0m.4-.1h0m.1-.1h0m.6 .6h0m.3-.5h0m.7 .2h0m.7 .5h0m.3-.4h0m.2-.1h0m1.8 .2h0m.5 .2h0m1.8-.8h0m.3 .4h0m.5 .2h0m1.6 .2h0m.3 .1h0m.1-.5h0m1.2 .4h0m0-.5h0m.5-.2h0m.6 .6h0m1.6 0h0m0-.7h0m.1 .7h0m.4-.6h0m1.8 .6h0m.3-.6h0m.2 .2h0m-69.7 1.4h0m.5-.6h0m.1 .9h0m.4 0h0m.3-.3h0m0 0h0m.4-.3h0m.4-.4h0m.1 .5h0m.7 .2h0m.2-.5h0m.2 .8h0m.3-.7h0m.2 .6h0m.2-.7h0m.7 .5h0m1.3-.2h0m0-.2h0m.4 0h0m.1-.2h0m.2 .3h0m.1 .2h0m.5-.5h0m.1 .1h0m.3 .2h0m0 .6h0m.5-.8h0m.1 .6h0m0-.2h0m.9-.3h0m0 .4h0m.9 .2h0m0-.8h0m.1 .7h0m0-.3h0m.2-.2h0m.2-.2h0m.2 .2h0m0 .2h0m.1 .2h0m.5-.4h0m.1 .5h0m1.9 .2h0m.4-.8h0m.3-.2h0m.2 .6h0m.7-.2h0m.2 .6h0m0-.5h0m.3-.3h0m.1 .4h0m.2 .2h0m0-.1h0m0-.7h0m.1 .8h0m0-.7h0m0 0h0m.1 .3h0m.1-.2h0m.5 .3h0m.1-.4h0m.4 .2h0m.1 .5h0m.1-.2h0m.1 .3h0m.1-.1h0m0-.2h0m.3-.4h0m0 .1h0m.1 .2h0m0 .2h0m.1 0h0m.2-.3h0m.1-.1h0m.7 .5h0m.2-.6h0m.4 .8h0m.5-.3h0m.4-.3h0m.6 .6h0m.1-.7h0m0 0h0m.2 .7h0m.4-.2h0m.1-.8h0m.3 .7h0m.1-.3h0m.1-.4h0m.1 .8h0m.1-.8h0m.3 .1h0m.7 .1h0m1 .6h0m.6-.3h0m.4 0h0m.1-.4h0m.1 .2h0m.1 .5h0m.1-.2h0m.3-.3h0m.1 .2h0m.6-.3h0m.5-.2h0m.3 .1h0m.8 .8h0m.1-.3h0m.2-.6h0m.1 .5h0m.1 .3h0m.1 .1h0m.2-.1h0m.2-.4h0m0 0h0m0 .3h0m.1 .1h0m.6-.7h0m.7 0h0m.2 .3h0m.5-.4h0m.1 .6h0m.5-.3h0m.2-.1h0m1 .4h0m.1 .2h0m.3 .1h0m.2-.5h0m.1-.2h0m0 .6h0m.1-.8h0m.2 .2h0m1 .3h0m.4-.4h0m.1 .7h0m0 0h0m.3-.1h0m.1-.3h0m.2 .4h0m0 .1h0m.6 0h0m.4 .1h0m.4-.1h0m.1-.7h0m.2 .5h0m0 .3h0m.1-.5h0m.1-.1h0m.2-.1h0m.4 .1h0m0 .2h0m.2-.6h0m.7 .5h0m.3-.1h0m.7 .4h0m.3-.5h0m.2-.2h0m.1 .3h0m.5-.2h0m.7 .4h0m.1 0h0m0 .2h0m.1-.3h0m0-.2h0m.2 .6h0m0-.5h0m0-.2h0m0 .4h0m.2-.6h0m.4 .9h0m.2-.5h0m0 .5h0m1.3-.5h0m.2 0h0m.2 0h0m.6-.2h0m.9 .8h0m.1-.1h0m.3-.7h0m.2 .7h0m.2-.3h0m0-.5h0m.4 .1h0m2.6 .3h0m.4 .1h0m.3-.2h0m.1-.3h0m.7 .3h0m.8-.1h0m.4-.1h0m.4 .6h0m.1 0h0m0-.3h0m.1 .1h0m1.8-.1h0m.1 .4h0m.7-.3h0m1.4-.4h0m0 .3h0m.1-.2h0m.3 .1h0m.5 .4h0m.2-.2h0m.1-.3h0m.4-.1h0m1.4 .3h0m.5 .4h0m.5 0h0m.4-.7h0m.4 .5h0m.1-.6h0m.3 .5h0m.1 0h0m.8-.1h0m2.1 .3h0m.9-.6h0m3.9 .2h0m.8 .3h0m-73.1 .6h0m.6 .4h0m.4 .2h0m.5-.2h0m.3 0h0m0 0h0m.1 0h0m.1-.1h0m.1 .2h0m1.1-.7h0m1.1 0h0m.4 .2h0m.1 .2h0m.1-.5h0m.4 .2h0m.2 .2h0m.7 .3h0m.8 .1h0m.1-.6h0m.1 .1h0m.3 .6h0m.3-.6h0m.3 .6h0m0-.4h0m0 .2h0m.3-.4h0m.1 .4h0m.8-.5h0m.2 0h0m.1 0h0m.1 .7h0m.1-.9h0m.1 .6h0m.2-.4h0m.3 0h0m.3 .1h0m.2-.2h0m.2 .3h0m0 0h0m.2 .2h0m.1 0h0m.4-.5h0m.2-.1h0m0 .9h0m.3-.7h0m.4 .4h0m.1-.2h0m.4 .4h0m0-.6h0m.2 .5h0m0-.2h0m.1-.2h0m.1-.2h0m.3 .5h0m0 .3h0m0-.6h0m.2 .4h0m.1 0h0m.1 .2h0m0 0h0m.4 .1h0m0-.1h0m.4-.1h0m.3 0h0m0-.7h0m.1 .7h0m.1-.2h0m.1-.2h0m.2 .1h0m.1-.2h0m.3 0h0m.1 .2h0m.2 .4h0m.5-.3h0m.2 0h0m.4-.1h0m.5 .4h0m.4-.2h0m0 .1h0m.2-.4h0m.6 .4h0m1.4-.8h0m1 .2h0m1.6 .3h0m.3-.1h0m.1-.2h0m0 .1h0m.3 .4h0m.3 .2h0m.2-.8h0m.6 .7h0m.4-.2h0m0-.3h0m.5-.1h0m.1 .5h0m0-.3h0m.1 .5h0m.7 0h0m.7-.7h0m.1 .8h0m.3-.1h0m.8-.5h0m.1 .5h0m.5-.8h0m.9 .4h0m1.4 0h0m.2-.1h0m.2 .3h0m0-.6h0m0 .4h0m.2 0h0m0-.1h0m1-.2h0m1 .1h0m.1-.1h0m.5 .8h0m.1-.5h0m.3-.3h0m0 .6h0m.1 0h0m.1-.6h0m.6 .6h0m.1-.3h0m0-.4h0m.2 .8h0m.7-.1h0m.2 .1h0m0-.2h0m.5-.2h0m.2-.4h0m.1 .2h0m.1 .2h0m.1 .3h0m0 .1h0m.1-.2h0m.4 .2h0m.4-.1h0m.2-.6h0m.3 .1h0m1 .1h0m.4 .5h0m.5-.2h0m.1 .1h0m.2-.6h0m.3 .6h0m.6 0h0m.2 0h0m0 .2h0m.4-.2h0m.6-.5h0m1 .2h0m.3 .4h0m.2-.4h0m.8-.3h0m.1 .4h0m.1 .2h0m.4-.3h0m0-.2h0m0-.3h0m.5 .6h0m.1-.4h0m1.7 .2h0m.1 .4h0m1.2-.6h0m.2 0h0m.1 .2h0m.3-.2h0m.1 .8h0m.4-.4h0m.1 .3h0m.2-.1h0m.1 .1h0m0-.9h0m1.5 .8h0m1.4-.6h0m0 .4h0m.2-.2h0m1 .5h0m.1-.6h0m0 .5h0m.4-.1h0m1.3-.5h0m2.9 .5h0m.9-.1h0m2.2 .2h0m3.7-.8h0m4.2 .7h0m-71.7 .8h0m.8-.3h0m.7-.1h0m.4 .1h0m1 .8h0m.3-.4h0m1.8 0h0m.1 0h0m.8 .2h0m.1-.6h0m.2-.2h0m.6 .6h0m.1-.2h0m.3 .3h0m.9-.6h0m.4 .2h0m.1-.1h0m0 .6h0m.2-.8h0m.8 .4h0m.1 0h0m.3 .4h0m0-.6h0m.1 .1h0m.2 .7h0m.2-.6h0m.3 .3h0m.1-.6h0m0-.1h0m0 .9h0m.2-.1h0m.2 .2h0m.1-.9h0m.1 0h0m.1 .5h0m1 0h0m.1-.4h0m.1 .7h0m.1-.4h0m.1-.2h0m.7 .1h0m0 .2h0m1.1 0h0m.1-.1h0m0-.5h0m.2 .1h0m.2 .1h0m.1-.1h0m0 .8h0m.1 0h0m.3-.1h0m0-.8h0m.1 .5h0m.1-.2h0m0 .7h0m.4-.2h0m.1-.6h0m.5 .4h0m.8 .2h0m.1 .2h0m0-.3h0m.3-.4h0m.3-.2h0m.3 .8h0m.3-.9h0m.1 .3h0m.6 .2h0m.1-.3h0m.5 .7h0m.1-.3h0m.2 .1h0m.3-.7h0m.1 0h0m.3 .5h0m.4-.3h0m1.1 0h0m1.1 .4h0m.4 .3h0m.4-.2h0m.3-.2h0m.3 .3h0m.3-.4h0m.4-.1h0m.1 .7h0m.1-.8h0m.3 0h0m.7-.1h0m.1-.1h0m.8 1h0m.1-.5h0m.1-.3h0m.1 .4h0m.5-.5h0m.1 .3h0m1.1-.1h0m.1 .7h0m.1 0h0m.1-.4h0m.1-.1h0m.6-.5h0m.3 .3h0m0 .4h0m.1-.2h0m.5 .4h0m.2-.1h0m1-.7h0m.5 0h0m.3 0h0m.3 .8h0m.4-.7h0m.3 0h0m.5 .4h0m.5-.5h0m.4 .3h0m.1 .5h0m.5-.1h0m1 .1h0m.2 0h0m.3-.5h0m.6-.3h0m.2 0h0m.1 .4h0m.3-.5h0m.5 .7h0m1-.3h0m.1 .4h0m.2 .2h0m.8-.7h0m.2-.3h0m0 .3h0m.3 0h0m1.2-.3h0m.7 .9h0m.4-.7h0m1.1 .1h0m.3 .7h0m.5-.1h0m.8-.3h0m.5 .2h0m.1-.3h0m1-.3h0m1.6 .4h0m0 .1h0m1.9-.4h0m1.7 .3h0m.4 .2h0m.2-.7h0m0 .9h0m.4-.8h0m0 0h0m.5-.2h0m2.3 .1h0m1.8 0h0m.2 .3h0m1.4-.2h0m1.8 .3h0m0-.5h0m8.9 .4h0m-71.1 .8h0m.6 .5h0m1.4-.3h0m.3 .6h0m.3-.3h0m1.7 .2h0m.7-.4h0m.5 .1h0m.4-.5h0m.4 .8h0m.3-.2h0m.4-.2h0m.9 .3h0m.7-.3h0m0 0h0m.3 .3h0m.4-.2h0m.1-.3h0m.2 0h0m.1-.1h0m0 .5h0m.1-.2h0m.1 .4h0m.6 0h0m0-.5h0m.2 .2h0m.1-.2h0m0 .4h0m.4-.4h0m.4 .5h0m.5-.6h0m.2 0h0m.1-.1h0m0 .3h0m.1 .1h0m.1 0h0m0 .2h0m.2 .2h0m.2-.7h0m.7 .5h0m.3-.4h0m.3-.1h0m1 .5h0m.1-.3h0m.4-.5h0m.2 .1h0m.3 .7h0m.1-.1h0m.1 .3h0m.2-.8h0m.1 .5h0m.2 .3h0m.1-.2h0m.2-.4h0m0 .5h0m.2-.8h0m.1 .5h0m.2 0h0m1.3 .1h0m.6-.2h0m.1 .3h0m.5-.2h0m.2 .3h0m.4-.4h0m.2 .2h0m.6 .2h0m.3-.1h0m1.2-.4h0m0-.1h0m.2 .4h0m0 0h0m0-.5h0m.3 .3h0m.7 0h0m0 .2h0m.2-.6h0m.9 .1h0m.3 .5h0m.9-.4h0m.1 .5h0m.4-.4h0m1.8 .5h0m1.3-.9h0m0 .1h0m.1 .7h0m.7-.6h0m.4 0h0m.4 .5h0m.3-.7h0m0 0h0m.1 .4h0m.6 .1h0m.1-.4h0m.1 .3h0m.1 .4h0m.1 0h0m.1 0h0m.5-.2h0m0 0h0m.1-.3h0m.6 .3h0m.1 .2h0m.2-.4h0m.2-.2h0m.4 .6h0m1.1-.4h0m.3 .5h0m.2-.2h0m.6-.1h0m.2-.3h0m.2-.2h0m1.5 .4h0m.2-.4h0m.3 .2h0m.3 .1h0m.1 .4h0m.1-.5h0m0 .2h0m1.3-.3h0m0 .1h0m1.2 .6h0m.2-.2h0m.2-.1h0m.3 .1h0m1.4 .2h0m.6 0h0m.1-.5h0m.4 .3h0m.3-.1h0m0-.1h0m.1 .2h0m.5-.4h0m.1 .5h0m.2-.7h0m.1 .2h0m.2 .5h0m.3 0h0m.6-.1h0m.9-.7h0m.2 .5h0m.1 .2h0m.3-.4h0m1.3 .3h0m0-.2h0m.1-.2h0m2.3 .7h0m.1-.5h0m.2 .5h0m.6-.4h0m1.3-.2h0m.1 0h0m.4 .1h0m.1 .5h0m.9 0h0m.6-.1h0m2-.1h0m8.6-.3h0m-68.6 .6h0m.5 .7h0m.3-.2h0m.7-.1h0m.9 .6h0m1.6-.6h0m.1 .3h0m.4-.7h0m.4 .9h0m0-.3h0m.5-.4h0m.1 .2h0m0 .2h0m.6-.3h0m.1-.2h0m0 .8h0m0-.7h0m.2 .1h0m.1 .1h0m.2 .2h0m0 .1h0m.1-.3h0m.5-.2h0m.4 0h0m.2-.2h0m.5 .4h0m.1 .4h0m.3 .2h0m.1-.8h0m.3 .6h0m0-.8h0m.7 .5h0m.3 .2h0m0-.1h0m.1 .1h0m0-.5h0m0 .5h0m1 .1h0m.2-.8h0m.7 .4h0m0 .6h0m.3-.4h0m.2-.6h0m.1 .2h0m.1 .3h0m.6-.1h0m.1 .3h0m.3 0h0m.1-.7h0m.1 .8h0m.4-.7h0m.5 .8h0m.5-.4h0m.1 0h0m.1 .1h0m.6 .2h0m.4-.4h0m.2 .1h0m.1-.2h0m0-.1h0m.5 .4h0m.1-.4h0m.2 .4h0m.3-.3h0m0 .1h0m1.1 0h0m.5-.1h0m.1-.3h0m.2 1h0m.3-.5h0m.4 .2h0m.2-.5h0m.1-.1h0m.3 .8h0m0-.7h0m.3 .3h0m.4-.1h0m.1 .1h0m.8-.2h0m.4-.1h0m.8-.2h0m1 .9h0m0-.6h0m.1 .6h0m.9 .1h0m.5-.3h0m.6 .2h0m0-.5h0m0 .3h0m.5-.1h0m.3-.3h0m.4-.3h0m.1 .4h0m.2-.2h0m.3 .3h0m0-.1h0m.8-.3h0m.1 .7h0m.1 0h0m.2-.8h0m.9 .7h0m.1-.7h0m.5 .3h0m.2 .6h0m1.1-.8h0m.1 .7h0m.4 .2h0m.1-.7h0m.3 0h0m.1 .7h0m.6-.8h0m.2 .8h0m.3-1h0m.8 .1h0m.7 .6h0m.1 .3h0m.5-.4h0m0-.4h0m.4 0h0m.1 .1h0m.1 .7h0m0-.4h0m1-.2h0m.3 .5h0m1.7-.3h0m.2 .2h0m.4 .1h0m.6-.7h0m.5 .7h0m.4-.4h0m.5-.1h0m.9 0h0m.3 .5h0m.6-.8h0m.2 .2h0m2-.3h0m2.3 .2h0m1 .7h0m1.1-.4h0m1.2 .2h0m1-.4h0m1.5 0h0m2.2-.2h0m3.2 0h0m0 .6h0m9.6-.2h0m.8 0h0m-72 .7h0m3 .2h0m1-.2h0m.6-.1h0m.7 .5h0m.5-.3h0m.2-.2h0m1 .1h0m.5 .2h0m.2 .4h0m.7-.5h0m.1 .3h0m.1 0h0m1.3-.3h0m.9 .2h0m1.3 .2h0m.5 0h0m.2 .1h0m0-.7h0m.4 .2h0m.2 .1h0m.2 .1h0m.4-.1h0m.5-.4h0m.2 .6h0m.1-.3h0m.7 .3h0m0-.6h0m.5 .5h0m.6-.4h0m.1 0h0m.1 .3h0m.1 .5h0m.3-.1h0m.2-.1h0m0-.1h0m.1-.2h0m0 .5h0m.5-.7h0m.2-.2h0m2.1 .4h0m.1-.1h0m.7 0h0m.1 .5h0m.3-.5h0m.3 .6h0m.1 0h0m1.2-.3h0m.1 .2h0m.4-.6h0m2.2 .1h0m.2 .5h0m0-.6h0m.9 .6h0m.9-.2h0m.4 .1h0m.2-.7h0m.3 .6h0m.3-.4h0m.1-.2h0m0 .1h0m.2 .2h0m1 .1h0m.7 .3h0m.2-.1h0m.1-.4h0m.7-.1h0m.8-.1h0m1 1h0m.5-.6h0m1.4 .3h0m.1-.3h0m.6 .1h0m.1-.4h0m.5 .1h0m.3-.1h0m.3 .3h0m.1-.3h0m.3 .3h0m.1 .4h0m.6-.5h0m.6-.2h0m.2 .2h0m1.5 0h0m1 .7h0m.6-.7h0m.5 0h0m.2 .2h0m1.1 0h0m1.1-.2h0m.1-.2h0m.8 .7h0m1.3-.5h0m0 0h0m.8 .2h0m.2-.1h0m.3-.3h0m.2 .5h0m.3-.2h0m1.5-.3h0m.1 .2h0m.4-.2h0m.1 .8h0m2.4-.1h0m8.5-.2h0m3.2-.1h0m-62.4 1.3h0m1.9-.1h0m1-.6h0m.3 .4h0m.1-.5h0m2.7 .4h0m1.1 .6h0m0-.9h0m.2 .2h0m.4 .6h0m.2-.2h0m.1 .1h0m1-.7h0m.7 .1h0m.2-.1h0m.2 .8h0m1.9-.1h0m1.6-.1h0m.4-.7h0m.7 1h0m2.5-.3h0m.8 .2h0m.1-.3h0m0-.2h0m.3-.1h0m0 .2h0m.2-.3h0m0 .7h0m.4-.2h0m0 .1h0m.3 0h0m.2-.2h0m0 0h0m.2-.4h0m0-.1h0m.2 0h0m.5 0h0m.2 .1h0m1.6 .6h0m.1-.1h0m.2 .3h0m1.1-.2h0m1-.7h0m1.4 .4h0m.2 .3h0m.1-.3h0m.7 .3h0m.6-.3h0m.7-.3h0m.2 .7h0m.1-.7h0m0 .3h0m.1-.4h0m.7 .7h0m.5-.2h0m.7-.6h0m.7 .1h0m0 .1h0m.3-.1h0m.1 .2h0m.3 .1h0m.2 .1h0m.6-.4h0m1.1 .2h0m.8 0h0m.1 .4h0m1.5-.1h0m1.9 .2h0m2.1-.7h0m.4 .3h0m.3 .2h0m.1 .3h0m0-.4h0m4.7 0h0m.1-.3h0m1.9-.1h0m.9 .4h0m2.1 0h0m13.6 .3h0m.6-.3h0m2.4-.1h0m-71.3 .8h0m.1 0h0m.2 .7h0m1.9-.5h0m0 .4h0m.3-.2h0m.2-.2h0m.1-.3h0m2.7 .8h0m4.9-.7h0m.5 .3h0m.6 .4h0m1.7-.5h0m1.5-.1h0m.2-.1h0m0 .1h0m.5 .3h0m0-.5h0m.2-.1h0m1.4 .7h0m.6-.4h0m.8 .2h0m1.6 0h0m1.2-.4h0m.2 .7h0m1.2-.2h0m.1-.1h0m.9-.4h0m1.3 .4h0m0 .5h0m.8-1h0m.2 0h0m.1 .1h0m.3 0h0m.1 .2h0m0 .5h0m.2 0h0m.4-.1h0m.3-.5h0m0 .4h0m.3 .3h0m1-.2h0m.6-.1h0m1.2-.3h0m.5 .7h0m0-.2h0m.2-.2h0m.1 .4h0m.5-.9h0m.5 .3h0m.1 .4h0m.8 0h0m.5-.3h0m.2 .4h0m.6-.8h0m1.1 .8h0m1.1-.4h0m.4-.1h0m2.2 .1h0m0 0h0m.9-.1h0m.2 0h0m1.2-.4h0m.3 .6h0m.8 .2h0m.9-.1h0m1.7-.1h0m2-.4h0m2.4 .2h0m4.5 .2h0m1.5-.3h0m3.1 .1h0m1.6 .6h0m-59.2 .5h0m1.3 .4h0m.8 .1h0m.5-.4h0m.1 .1h0m.5 .3h0m3.8-1h0m1.8 .2h0m0 .4h0m.8 .2h0m0-.7h0m.8 .2h0m.7 .3h0m.7 .4h0m1-.7h0m.3-.1h0m.3-.1h0m.1 .5h0m.2-.1h0m.6 .4h0m.1-.9h0m1.3 .8h0m0-.7h0m.3 .5h0m1.3 .1h0m.2 0h0m.3 .1h0m.4-.4h0m.7 .2h0m.8-.3h0m.8-.2h0m1.1 0h0m.7 .4h0m.2 0h0m.5 .5h0m1-.8h0m0 .4h0m.8 .1h0m.4-.7h0m1.8 .7h0m.6-.1h0m1.1 0h0m.8 .2h0m.1-.4h0m.4 .2h0m0-.1h0m.1-.2h0m.1 .1h0m.7-.2h0m2.5 .7h0m.4-.5h0m1.2 .4h0m.7-.7h0m.3 0h0m.7-.1h0m1.3 .5h0m.7-.1h0m.9 0h0m.7 .1h0m1.3-.5h0m1.8 .6h0m.6-.3h0m.1 .5h0m2.9-.5h0m.2 .6h0m.8-.6h0m2 .2h0m1.8-.2h0m1.6 .2h0m0 .2h0m2.7-.5h0m1.7 .2h0m3.1-.2h0m2 .7h0m3.5-.3h0m-64.9 .6h0m.1 .1h0m.4 .4h0m.6 .2h0m.1 .1h0m.7-.1h0m.3-.4h0m1 .1h0m.1-.5h0m2.3 .1h0m.5 .1h0m.6-.3h0m.3 .9h0m.1-.6h0m.2 .6h0m1-.4h0m.7 .5h0m.2-.2h0m.9-.6h0m.1-.1h0m.1 .8h0m.2-.2h0m.7 .3h0m.7-.7h0m.6-.1h0m.3 .5h0m1.5-.4h0m.2-.1h0m1 .4h0m.3 .1h0m0 0h0m.1 .1h0m.2-.4h0m.4-.4h0m0 .9h0m.1-.5h0m.3 0h0m.3 .3h0m.4 .2h0m.8 .1h0m.3-.8h0m.1 .2h0m.6 .4h0m.6-.7h0m.4 .7h0m.3-.3h0m.1-.1h0m.4 .2h0m.9-.2h0m.1 .1h0m.2 .3h0m.4-.7h0m.7 .9h0m.8-.6h0m.5 .2h0m.1-.2h0m0 .4h0m.6-.6h0m1.4 .2h0m0-.4h0m0 .9h0m.6-.4h0m.3 .2h0m.4 .1h0m.3-.4h0m0 .4h0m.7 0h0m.1-.6h0m0 .4h0m.7 0h0m.4 0h0m.7-.5h0m.1 .2h0m.4 .2h0m.9-.3h0m.4 .4h0m.1-.3h0m1.2 .6h0m1.3-.5h0m.4-.2h0m.1 .8h0m.4 0h0m.1-.9h0m.6 .3h0m0 .1h0m.1-.2h0m.1 .6h0m.3-.4h0m.2-.1h0m1.3-.1h0m.1-.3h0m.1 .7h0m1.6-.5h0m.1 .5h0m.9-.3h0m.5-.2h0m2.2 .7h0m.9-.1h0m.2-.2h0m.3 .1h0m.7-.1h0m2 .3h0m1-.2h0m.4-.4h0m1.8-.2h0m.9 0h0m1.2 .2h0m.4-.3h0m.5 .7h0m1-.5h0m.3 .7h0m2-.1h0m.2-.7h0m6 .3h0m.3-.1h0m.1 .1h0m-65.9 1.2h0m.1-.4h0m.2 .5h0m.3 .3h0m.4-.1h0m0-.8h0m.2 .1h0m0 .2h0m.6 0h0m.6-.2h0m.3 .7h0m.6-.5h0m.1-.4h0m.2 .3h0m.1 .2h0m.2 .5h0m.2-.7h0m.2 .3h0m.3 .1h0m.3-.4h0m.2 .2h0m.8-.2h0m.2 .3h0m.3 .3h0m.3-.1h0m1.1 .1h0m.9-.1h0m.5-.2h0m.2-.5h0m.5 .3h0m.1-.2h0m.1 .3h0m0 .3h0m.6-.2h0m.1 0h0m.1 .3h0m0-.3h0m1.3 .1h0m0-.7h0m.2 .6h0m.1 0h0m0 0h0m.2-.2h0m.1-.3h0m2.6 .8h0m.5-.3h0m.1-.4h0m.6 .7h0m.3-.2h0m.4-.1h0m.7-.4h0m1-.1h0m.3 .1h0m0 .3h0m0 .1h0m.2 .3h0m.8-.4h0m.9 .4h0m.2-.6h0m.4 0h0m.1 .4h0m.1-.4h0m.3 .3h0m1 .1h0m.4-.4h0m0 .3h0m.5-.6h0m.2 .7h0m.1 .3h0m.2-.6h0m.1 .2h0m.1 .2h0m.7-.1h0m0 .2h0m.3-.4h0m.1 0h0m.2 .4h0m1-.2h0m.1-.3h0m1.2-.2h0m.3 .1h0m.2 .7h0m.5-.9h0m.1 .7h0m.3-.2h0m.7-.4h0m.5 .2h0m.1 .2h0m.2-.3h0m.3 .1h0m.4 .2h0m.2-.3h0m.3-.3h0m.5 .5h0m.6-.4h0m.1 0h0m.7 .8h0m.1-.5h0m.5 .2h0m.4 .3h0m.6-.3h0m.1 .2h0m.3 .2h0m.3-.4h0m.3-.3h0m.2 .3h0m.4 .1h0m.1 .2h0m.3-.7h0m.1 .2h0m0 0h0m1.3-.2h0m.2 .5h0m.1 .3h0m.2-.5h0m.2-.2h0m.4 .2h0m.5 .2h0m.3 .2h0m.1-.2h0m1.3 .3h0m1-.9h0m.2 .6h0m1-.1h0m.4 .3h0m.1-.4h0m.1-.4h0m.1 .1h0m.3 .4h0m.7 .1h0m.3 .1h0m.4 0h0m.9-.4h0m.2 0h0m.4 .6h0m2.8-.8h0m.3 .5h0m.1 .1h0m.3 0h0m0 .1h0m.9-.3h0m.4 .1h0m.9 0h0m.5-.3h0m1.5-.2h0m1 .1h0m.7 .1h0m.5 .1h0m1.2-.3h0m.2 .2h0m1-.1h0m.5 .5h0m1.1-.1h0m.6 .2h0m0-.1h0m1.9 0h0m.8-.6h0m.7-.1h0m1.9 .9h0m.6-.7h0m-69.1 1.6h0m0-.4h0m.5 .1h0m.1-.4h0m.1 .4h0m.1 .4h0m0-.5h0m.7-.4h0m.7 .4h0m.5-.4h0m.1 .5h0m.8-.6h0m.5 .4h0m0 .2h0m.7 .3h0m.5-.6h0m0 .4h0m.2-.5h0m.2 .7h0m0-.8h0m.6 .5h0m.4-.2h0m0 .5h0m.2-.7h0m.1 .7h0m.1-.8h0m.6 .3h0m0 .2h0m.2-.5h0m.3 .7h0m.1 .1h0m.1-.5h0m.2 .5h0m.4-.5h0m.1-.4h0m.1 .4h0m.5 .3h0m0-.1h0m.1-.3h0m.1 .2h0m.2 .2h0m.5-.2h0m0 0h0m.3 .3h0m0 .1h0m1.2-.5h0m.1-.3h0m.2 .7h0m.4-.7h0m0 .5h0m.5 .2h0m.4-.3h0m.3-.2h0m.3 0h0m.8 0h0m.2 .7h0m0-.1h0m.1-.4h0m.2-.4h0m.3 .4h0m.7 .3h0m.2 0h0m0-.4h0m.3 .2h0m.1-.1h0m.3 .4h0m0-.9h0m.5 1h0m.5-.2h0m.1-.4h0m.3 .3h0m0 0h0m.3-.4h0m.3 0h0m.1-.2h0m0 .6h0m.2 .1h0m.1-.4h0m.2 .4h0m.4-.6h0m.1 .8h0m.3-.9h0m.1 .2h0m.2 .4h0m0 .1h0m.4-.1h0m.1 0h0m.1-.3h0m.1 .3h0m.1-.4h0m.1 0h0m0 .4h0m.1 .2h0m.1-.6h0m.1-.3h0m.1 .9h0m.7-.4h0m.1-.1h0m.2-.2h0m0 .1h0m.2 .6h0m.1-.2h0m.6-.4h0m0 .1h0m.1 .1h0m.3 .4h0m.2-.9h0m.4 0h0m.3 .5h0m.7-.4h0m.1 0h0m.1 .2h0m.1 .3h0m.1 .3h0m.2-.1h0m.3-.4h0m.4 .2h0m0 0h0m.3-.5h0m.4 .5h0m0-.4h0m.1 .8h0m0-.5h0m.2-.2h0m0 .2h0m.2-.4h0m.2-.1h0m.4 .2h0m.1 .1h0m.1 .1h0m.2-.4h0m.5 .7h0m.6-.6h0m.1 .4h0m.1 .2h0m.5-.5h0m.3 .6h0m0-.4h0m0-.1h0m.3 .5h0m.1-.1h0m.2 .1h0m0 0h0m.4-.5h0m.4-.2h0m.1 0h0m0 0h0m.6 .4h0m.2-.5h0m0 .9h0m.2-.1h0m.9-.7h0m.3 0h0m.9 0h0m0 .3h0m0-.3h0m0 .6h0m.1 .1h0m0-.4h0m.1 .1h0m.1-.2h0m0-.2h0m0 .2h0m1.1 .2h0m.4-.3h0m.1 .8h0m0-.9h0m0 .6h0m.3-.6h0m.2 .7h0m0-.5h0m.2-.2h0m.3 .4h0m.1-.2h0m.4 .7h0m0-.3h0m.1-.1h0m.7 0h0m.6-.4h0m.4 .1h0m.8 .3h0m.6-.4h0m0 .4h0m.1-.1h0m.6 .2h0m0-.4h0m1.7-.1h0m.7 .1h0m.1 .3h0m.2-.3h0m.3-.1h0m0 .7h0m.2-.2h0m.3 .1h0m.1-.3h0m.7-.3h0m.1 .6h0m.7-.2h0m.3 0h0m0-.4h0m.2 .7h0m.4-.5h0m.9 .3h0m.1 .1h0m.2-.1h0m.1-.7h0m.8 .2h0m.4 .6h0m.2-.5h0m.2 0h0m.1 .6h0m.7-.6h0m.1-.1h0m.8-.1h0m.1 .3h0m.7 .6h0m.5-.3h0m.4 .3h0m.4-.3h0m.1-.3h0m.3-.3h0m2.4 .9h0m4.9-.2h0m.8-.5h0m1.1 .2h0m.2-.3h0m.3 .7h0m.3-.2h0m.9 .1h0m1.4 0h0m0 0h0m-69.6 .7h0m.1-.4h0m.1 .6h0m.4 .1h0m.1 0h0m.2-.6h0m.2 .3h0m.1 .4h0m.1-.4h0m.2-.1h0m.1-.3h0m.3 0h0m.3 .8h0m.2-.9h0m0 .9h0m1.3-.7h0m.1 0h0m.1 .6h0m.2-.3h0m.4 .3h0m.2-.1h0m.1-.2h0m.1 .2h0m0-.1h0m.2-.2h0m0 .3h0m.1-.1h0m.1-.3h0m.1-.3h0m.1 .9h0m.2 .1h0m.3-.8h0m.4 .5h0m.7-.6h0m.2 .3h0m.2 .2h0m0 0h0m.4-.4h0m.3 .7h0m.3-.6h0m.2-.2h0m.4 .3h0m0 .5h0m0-.5h0m.2 0h0m0-.2h0m.4 .3h0m.1-.3h0m.6 .6h0m.2 .1h0m.1 .1h0m0-.9h0m.8 0h0m.5 .9h0m.2-.6h0m.5 .1h0m.1-.1h0m.4-.1h0m.2 .1h0m.2-.4h0m.2 .2h0m0 .3h0m.1 0h0m.4 .3h0m.3-.1h0m0-.3h0m.1-.4h0m.2 .7h0m.3 .1h0m.3-.5h0m.2-.2h0m.4 .3h0m0 .2h0m.2-.5h0m.2 .2h0m.1 .6h0m.2-.2h0m0-.2h0m1-.2h0m.1 .4h0m.1-.1h0m.1 .4h0m0-.7h0m.8 .4h0m.2-.3h0m.5 .2h0m.7 0h0m.5 .2h0m.1-.5h0m0 .7h0m.1-.2h0m.4-.1h0m.1-.6h0m.2 .6h0m.2-.5h0m0 .5h0m.1 .2h0m0-.1h0m0-.6h0m.1 .6h0m.1-.7h0m.1 .5h0m.2-.5h0m.1 0h0m0 .5h0m.1 .1h0m0 0h0m.1-.3h0m.1 0h0m.1 0h0m.5-.4h0m.1 .4h0m0-.2h0m.1 .1h0m.4 0h0m.2 .3h0m.2 .1h0m.2 0h0m0 .1h0m0-.5h0m0-.1h0m.2 .7h0m0-.5h0m.3 .6h0m.1-.9h0m.2 .8h0m.1-.7h0m.4 .2h0m0 .2h0m.6 .1h0m.2-.5h0m.1 .1h0m0 .2h0m.1 0h0m.1 .2h0m.8 .1h0m.8-.5h0m.2 .5h0m.2 0h0m.6-.4h0m.5 .4h0m.1-.4h0m.1-.3h0m.1 .6h0m.2 .2h0m.1 0h0m.4-.5h0m0 .3h0m.1 .2h0m.4-.5h0m1-.1h0m.2 .5h0m.2 0h0m.2-.4h0m0 .4h0m0-.2h0m.1-.3h0m.5 .2h0m.1-.4h0m.4 .6h0m.2 .1h0m.1-.1h0m.1-.2h0m.2-.1h0m.2 .1h0m0 .5h0m.3-.2h0m.1-.5h0m.1 .3h0m.2 .3h0m0-.4h0m.1 .3h0m1.2-.1h0m.2-.5h0m.9-.2h0m.1 1h0m.1-.3h0m.9 .1h0m.2-.6h0m0 .1h0m.1-.3h0m.2 .1h0m.2 .1h0m.2 .5h0m0 0h0m.1-.6h0m.1 .7h0m0-.5h0m.2 0h0m.2 .4h0m0 .2h0m.1-.8h0m.5 .9h0m.3-.2h0m.3 0h0m.3-.2h0m0 0h0m0 .2h0m.4-.1h0m0-.1h0m0-.3h0m1 .5h0m.4-.2h0m.6 0h0m.1-.1h0m.4 .2h0m.7 .1h0m0 .1h0m2.6 0h0m.1-.3h0m.2 .1h0m.3-.6h0m.5 .3h0m.5-.1h0m.1 .6h0m.2-.7h0m.6 .2h0m.1 .2h0m2.2-.6h0m.2 .4h0m.9 .4h0m.9-.1h0m.4 .2h0m1.1 .1h0m2.2-.4h0m.4-.6h0m.6 .9h0m2-.7h0m.3 .5h0m.2-.7h0m.7 .1h0m1.4-.1h0m0 .3h0m.6-.1h0m0-.1h0m.4 .4h0m1.6-.1h0m.2-.3h0m.3 .6h0m.5 .3h0m1.3-.8h0m0 0h0m-69.5 1.7h0m.1-.5h0m.2-.4h0m.2 .1h0m1 0h0m.2-.1h0m.3 .4h0m.9-.3h0m.7 .2h0m.6-.3h0m.1 .7h0m.4-.3h0m.4 .2h0m.1 .2h0m.4-.3h0m.3-.4h0m.1 .7h0m.1-.4h0m.6 .3h0m0 .1h0m.1-.1h0m.1-.6h0m0 .7h0m.1-.8h0m.1 .9h0m.1-.6h0m.1 .4h0m.1-.1h0m.1-.4h0m.2 .1h0m.5 .1h0m0 .5h0m.2-.9h0m.6 .6h0m.1-.2h0m.2-.2h0m.2-.2h0m.1 1h0m.4-1h0m.2 .6h0m.2-.5h0m0 .4h0m0-.1h0m0 .1h0m.2 .4h0m.2-.8h0m.3 .9h0m.4-.8h0m.1 .7h0m.3-.4h0m.3 .4h0m.8-.3h0m0 .3h0m.3-.6h0m.1 .1h0m.1-.1h0m0 .6h0m.3-.5h0m0 .5h0m0-.5h0m0 .4h0m.2-.6h0m1.4 .7h0m.4-.6h0m.2-.2h0m0 .8h0m.1-.2h0m.2-.3h0m.1-.1h0m.1 .6h0m.1-.6h0m.1 .6h0m.1 .1h0m.2-.9h0m0 .6h0m.1-.5h0m.1-.2h0m0 .9h0m.1 0h0m.1-.4h0m.2 .3h0m.3 0h0m.3-.3h0m0-.3h0m0 .8h0m.3-.9h0m.1 .6h0m.4 .3h0m.1 0h0m.2-.9h0m.3 0h0m0 .7h0m.2-.6h0m0 .7h0m.1-.1h0m.1-.2h0m0-.1h0m.1 .1h0m0-.4h0m.2-.1h0m1 .3h0m0 .5h0m.2-.4h0m.2 .4h0m0 .1h0m0-.7h0m.1 0h0m.4-.2h0m0 .6h0m.2-.6h0m.1 .1h0m.2 .7h0m.1-.4h0m.3 .5h0m.1-.8h0m.2-.1h0m0 .6h0m.2-.7h0m.3 0h0m0 .1h0m.1 .8h0m.1-.7h0m.6 .1h0m.3-.2h0m.4 0h0m.1-.1h0m.3 .4h0m.3-.2h0m0 .4h0m.7 0h0m0-.1h0m.1-.1h0m.1 .3h0m.1-.2h0m.1 .1h0m0-.3h0m.1 .3h0m.1-.1h0m.2 0h0m.3-.3h0m.1 .2h0m0 .1h0m.1 .3h0m0-.1h0m.3-.1h0m.3 .2h0m.1-.8h0m.1 .8h0m.1-.7h0m.1 .2h0m.1 .4h0m.2-.6h0m.8 0h0m.2 0h0m.2 0h0m.2 .6h0m.4-.1h0m.1 .2h0m0-.6h0m.1 .1h0m.4 .4h0m.1 .2h0m.1 0h0m.1-.5h0m.4 .5h0m0-.8h0m.5 .3h0m.3 .2h0m.3 .3h0m.2-.7h0m0 .6h0m0-.8h0m.6 .8h0m0-.2h0m.2 .1h0m.4-.2h0m0-.1h0m.1 .2h0m.1 .3h0m.1-.6h0m.1 .3h0m.3-.1h0m.2 0h0m0-.4h0m.1 .3h0m.1-.3h0m.2 .1h0m.2-.1h0m.3 .5h0m.4-.5h0m0 .6h0m.5 0h0m.2 0h0m.1-.7h0m.5 .7h0m.1 0h0m.5-.3h0m.1 .6h0m.1-.7h0m.1 .2h0m.1 0h0m0-.5h0m.1 .4h0m.2-.2h0m0 .6h0m.2-.8h0m0 .2h0m.3-.1h0m.4 .6h0m.5-.1h0m0-.5h0m.3 0h0m.1 .9h0m.2-.5h0m0 .5h0m.1-.5h0m.5 .1h0m.1 .4h0m0-.6h0m.4 .4h0m.3 .1h0m.2-.7h0m.6-.1h0m0 .6h0m.9 .2h0m1.3-.4h0m.9-.3h0m.1 .5h0m0-.2h0m1.5-.3h0m.2 .4h0m.8-.1h0m.5 0h0m.3 0h0m.2 .4h0m0-.4h0m.2-.1h0m.6 .5h0m.2-.8h0m.5 .3h0m.2 .5h0m2.2-.8h0m1.7 .7h0m0-.8h0m1.9 0h0m2.8 .7h0m2.4-.5h0m1 .7h0m5.9 0h0m-72.1 .8h0m2.4-.3h0m0-.3h0m.5 .8h0m.7-.8h0m.3 .9h0m.4-.1h0m.2-.8h0m.1 .1h0m.3 .2h0m0-.2h0m.3 .1h0m.5 .2h0m.9 .4h0m0-.5h0m.4-.3h0m.1 .3h0m.1 .6h0m.6-.8h0m.1 0h0m.3 .6h0m.1-.7h0m.1 .8h0m.2-.2h0m.2-.6h0m.4 .6h0m.6 0h0m.1-.1h0m.6-.3h0m0 .1h0m0 0h0m.5 .5h0m0-.7h0m.3-.1h0m.1 .4h0m.1 .5h0m0-.9h0m0 .7h0m.1-.3h0m0-.4h0m0 .8h0m.2-.2h0m.5 .1h0m0-.1h0m.1-.6h0m.2 .3h0m.2-.1h0m.1 .2h0m.2-.1h0m.5-.3h0m.2 .2h0m.3 .5h0m.1 .1h0m0-.6h0m.2 0h0m.4 .7h0m.7-.5h0m0-.3h0m.1-.2h0m.2 .9h0m.4-.8h0m0 .4h0m.4 .1h0m.1-.5h0m.6 .1h0m.3 .5h0m0-.5h0m.1-.2h0m.4 .1h0m.1 .3h0m.3-.1h0m.3-.1h0m.1-.1h0m.1 .4h0m.1-.3h0m.1 .3h0m.5 .1h0m.1 .2h0m.6 0h0m.2 .1h0m.8-.1h0m.4 .1h0m.2-.5h0m.1-.2h0m.2-.1h0m1.6 .3h0m0 0h0m.1-.3h0m.1-.1h0m.2 .1h0m.1-.1h0m.2 .2h0m.1 .2h0m.9-.1h0m.2-.3h0m.4 0h0m.4 .2h0m.1 0h0m0-.1h0m.1-.1h0m1 .9h0m.2-.8h0m0-.1h0m.1 .3h0m1.4 .2h0m.2-.5h0m.1 .1h0m.2 .1h0m.6 .2h0m.2-.4h0m.6 .9h0m.6-.8h0m.6 .1h0m.4 .3h0m.1 .1h0m.7-.5h0m.2 0h0m.9 .9h0m.1-.9h0m.2 .4h0m.3-.4h0m.5 .1h0m.1 .7h0m.3-.5h0m.1-.3h0m0 .6h0m0-.5h0m1.1 .4h0m.7-.3h0m0-.1h0m.3 0h0m.1 .2h0m.3-.2h0m.1 .1h0m1.1 0h0m1.1-.1h0m0 .1h0m.1-.1h0m.4 .1h0m.8 .2h0m.4-.1h0m.8-.1h0m.3 .5h0m.1-.4h0m.2 .1h0m.3 .3h0m0 .1h0m.3 0h0m.1-.2h0m.6 .2h0m1.7 0h0m2.2-.7h0m.2 .1h0m.6-.2h0m2 .1h0m.5 .4h0m2.2-.4h0m1.7 .1h0m3 .4h0m.4-.2h0m6.7 0h0m.4-.5h0m.6 .8h0m0-.6h0m4.4-.1h0m-72.6 1h0m1.8 .3h0m.5 .5h0m.2-.9h0m0 .8h0m0-.5h0m.1 .1h0m.1 .3h0m.3 .2h0m.5-.8h0m.6 0h0m.3 .4h0m.1 .2h0m.6 .1h0m.3-.6h0m.2 .1h0m.3-.2h0m.4 .1h0m0 .2h0m.5 .3h0m.3-.2h0m.2-.2h0m.2 .6h0m.2-.6h0m0 .5h0m.3-.2h0m.3-.3h0m0 .1h0m.1 .3h0m.1 0h0m.8-.3h0m.2 .1h0m.9 .1h0m.5 0h0m0-.1h0m.9-.3h0m0 .4h0m.1 0h0m1-.3h0m.1 0h0m.6 0h0m.2-.1h0m0-.1h0m.3 0h0m.8 .4h0m.2-.2h0m1.3 .1h0m.9-.3h0m.3 .2h0m1.5 .5h0m.3-.1h0m.5-.1h0m.7-.5h0m.3 .5h0m2.2-.2h0m.9 .4h0m.2-.5h0m.4 .2h0m.8 0h0m.5-.5h0m1.1 .3h0m1 .4h0m1.1-.1h0m.1-.3h0m.4-.2h0m.3 .1h0m0-.1h0m.6 .7h0m1.8-.2h0m0-.3h0m2.2 .3h0m3.5 0h0m1.2-.3h0m1 .1h0m2-.2h0m.6 .4h0m1.6-.4h0m.7 0h0m0 .4h0m.5 0h0m.6-.1h0m.1-.3h0m.6 .3h0m1.2-.4h0m9.2 .9h0m8.3-.9h0m-62.2 1h0m.2 .5h0m0-.1h0m.1-.1h0m1.4 0h0m.6 .1h0m.5 .2h0m.1 0h0m.1-.4h0m.6 .3h0m.3-.4h0m0 .7h0m0-.2h0m.6-.6h0m0 .1h0m.1 0h0m.8 .1h0m.1-.1h0m.2-.2h0m1.5 .3h0m3.9 .4h0m4.3-.4h0m2.6-.2h0m4.8-.1h0m2.6 .2h0m.6-.2h0m9.9 .1h0m1 .1h0m.8-.2h0m1.8 .6h0m.3-.1h0m.1-.5h0m.2 .5h0m.3 .1h0m.1 0h0m.6-.1h0m.1 .1h0m0-.4h0m1.5 .3h0m.3 .4h0m.6-.2h0m6.7 0h0m3.6-.2h0m12.4-.3h0m-68.1 1.7h0m1.2-.1h0m.3 .1h0m.2-.7h0m.5 .6h0m.1 0h0m1.9-.7h0m.2 .5h0m.7 .2h0m1.4-.6h0m1.8 .5h0m7.9-.7h0m16.1 .4h0m7.7 0h0m.3-.1h0m.9 .6h0m.3-.4h0m.5-.3h0m.1 .7h0m0-.9h0m.2 .5h0m.6-.3h0m.1 .4h0m1-.4h0m.7 .5h0m.7-.5h0m7.3 .1h0m8.8 .4h0m8.8-.4h0m-72.6 1.5h0m.3-.8h0m1.3 .3h0m0 .5h0m.8-.4h0m.9 0h0m0 .2h0m1 .2h0m.4-.7h0m.3 .8h0m0-.3h0m.3-.1h0m.1 .1h0m.1-.6h0m36.4 1h0m.5-.3h0m.1-.1h0m.4-.3h0m.2 .2h0m.2 .3h0m.4 .1h0m0-.7h0m0 0h0m.3 0h0m.2 .6h0m.3 .1h0m.7-.8h0m1.3 .3h0m.1 .3h0m.2-.3h0m.6-.3h0m.1 .1h0m.5-.1h0m-46.6 1.4h0m.5 0h0m.2 .4h0m1-.8h0m.1 0h0m.1 .4h0m.2 .1h0m.2 .4h0m.5-.2h0m.7-.7h0m.1 .5h0m.3 .2h0m.3-.1h0m31.7 0h0m.9 .2h0m.1-.2h0m0-.3h0m.5 .1h0m1.7-.5h0m.5 .2h0m3.8 0h0m1 0h0m1-.2h0m.4 .5h0m.7-.3h0m-47.7 1h0m1.3 .7h0m.5-.1h0m.3-.4h0m.1 .1h0m.2 .3h0m.4-.1h0m.6-.7h0m.2 .5h0m32.5 .5h0m.8-.5h0m.1 .1h0m.1-.3h0m.2 .4h0m.1-.7h0m0 .6h0m.4-.2h0m6.1 .5h0m.3-.5h0m1 .4h0m-45.2 .4h0m.6 .1h0m1.5-.1h0m.3 .5h0m.2-.2h0m.2-.5h0m31.3 .9h0m1.1-.2h0m.3-.5h0m1-.1h0m10 .5h0m.5-.5h0m-47.2 1.4h0m.7 .5h0m.7-.2h0m.3-.3h0m.9 0h0m.3-.2h0m.1 .6h0m31.3-.6h0m1.8 .1h0m12.6 .4h0m.2 0h0m.2-.7h0m-49.1 1.5h0m.1 .4h0m.1-.6h0m.1-.2h0m.2 .4h0m.2-.5h0m0 .4h0m.1-.5h0m.2 .2h0m.1 .6h0m0 0h0m.2-.7h0m.5 .7h0m.2-.7h0m30 .5h0m.2-.4h0m.4 .7h0m1.2-.9h0m12.2 .6h0m-45.6 1h0m.4 .3h0m.2-.3h0m28.6 0h0m.7 .4h0m.8-.5h0m.3 0h0m.3-.1h0m2.5-.2h0m-33.9 1.1h0m.1 .5h0m.1-.5h0m.8 .3h0m0-.3h0m26.8 .5h0m1.3-.1h0m.2-.3h0m.5-.1h0m.1-.1h0m2.7 0h0m15.3 .6h0m-47.8 .5h0m.8 0h0m24.1 .7h0m.3-.3h0m.9-.2h0m0 0h0m.2 .1h0m1-.6h0m.8 0h0m22.4 .5h0m-50.6 .9h0m0 0h0m.3 .5h0m24.2-.3h0m.8-.4h0m0 .1h0m.9-.3h0m-26.1 1.4h0m.1-.2h0m.3-.2h0m21.6 .9h0m.9-.2h0m.8-.6h0m.3 .5h0m.4 .4h0m-24.1 .5h0m20.4 .3h0m2.9-.7h0m-6.2 1.7h0m1.3 0h0m.7-.5h0m.3-.2h0m.2 .2h0m.5-.3h0m0 .3h0m1.8-.2h0m.2 .1h0m.9 .1h0m-23.5 1.4h0m.1-.5h0m15.4 .6h0m.4 .1h0m1.5-.6h0m.2 .5h0m0-.6h0m1.1 .3h0m.2 0h0m-18.8 1h0m.4 .3h0m11.1-.3h0m3.4-.2h0m1.1-.1h0m.6 .4h0m-17 .5h0m.3-.1h0m.2 .8h0m10.1-.3h0m.3 0h0m.3 .4h0m1-.5h0m.4-.3h0m.1 .9h0m1.4-.9h0m-13.9 1.9h0m.3-.2h0m0-.1h0m.1-.5h0m0 .1h0m.6-.3h0m.7 .8h0m0-.2h0m.6 .4h0m2.4-.2h0m.1 .2h0m2.6-.1h0m1.2-.3h0m.4-.3h0m.5 .2h0m0 .1h0m.9-.3h0m3.3 0h0m.9-.3h0m-14 1.4h0m.3-.2h0m.2 .4h0m.2-.6h0m0 .3h0m.3 .2h0m.4-.2h0m.1 .2h0m.3 .5h0m0-.3h0m.1-.3h0m.1 .2h0m.4-.1h0m.5 .3h0m.1 0h0m.1-.2h0m.2 .2h0m.2 .1h0m.2-.4h0m.2 .2h0m.1-.7h0m.3 .4h0m.5 .5h0m.3-.4h0m1-.3h0m.1 .2h0m1.1-.4h0m.3 0h0m-6.7 1h0m.1 .5h0m.1 0h0m.1-.4h0m.2 .7h0m0-.1h0m1.2-.3h0m.1-.3h0m0 .7h0m.2-.4h0m1 .5h0m.6-.6h0m.3 .1h0m1-.1h0m-4.4 1.2h0m.1-.5h0m.3 .8h0m0 .1h0m.7-.9h0m0 .2h0m.4 .3h0m1.8-.4h0m1 0h0m-5.8 1.8h0m.1-.7h0m.2 .4h0m1.1-.5h0m1.1 0h0m.5 .8h0m1.8-.8h0m.7 .3h0m-5.2 1h0m.3 .3h0m.1-.4h0m.2 .3h0m.8 0h0m.1-.3h0m.3-.1h0m.1 0h0m.5-.1h0m.2 .7h0m0-.4h0m1.2-.2h0m-3.5 1.2h0m1.2 .3h0m.8 .1h0m1-.4h0m.4 .3h0m-2.3 .9h0m0 .1h0m.8-.5h0m.4 .2h0m.7 0h0m.1 .2h0m-2.8 .7h0m.3 .4h0m.3-.3h0m.1-.2h0m.1 .7h0m.7-.6h0m.8-.2h0m.2 .6h0m0-.1h0m.3 .2h0m-2.7 .9h0m.1 .1h0m.5-.2h0m.3 0h0m.7 .1h0m.2 .2h0m.1-.8h0m-2.2 1.2h0m.1-.2h0m.2 .2h0m.2 .4h0m.1 .1h0m.1 .1h0m.4-.1h0m.4-.5h0m.2-.1h0m.2 .1h0m.2 .5h0m.1-.5h0m.1 .3h0m0 0h0m.4-.5h0m.7 .7h0m-3.3 .3h0m.9 .8h0m.6 0h0m.3-.3h0m1.2-.3h0m.1-.2h0m.7 .7h0m-2.6 1h0m.3-.3h0m.3-.2h0m.2 .4h0m.2 .1h0m-2.3 .5h0m1.4-.3h0m.9 .2h0m.2-.1h0" stroke="#000" stroke-width="0.8" stroke-linecap="square" fill="none"/>
<ellipse cx="171.5" cy="678.2" rx="27.3" ry="8.8" transform="rotate(-8 171.5 678.2)" fill="none" stroke="#000" stroke-width="2.2"/>
<ellipse cx="171.5" cy="678.2" rx="26.5" ry="8.0" transform="rotate(-8 171.5 678.2)" fill="#fff" stroke="#000" stroke-width="0.9"/>
<ellipse cx="161.7" cy="678.8" rx="7.8" ry="2.5" transform="rotate(-6 161.7 678.8)" fill="none" stroke="#000" stroke-width="0.9"/>
<path d="M130.60,719.20 C130.50,717.87 130.63,716.57 131.00,715.20 C131.37,713.83 131.88,712.37 132.80,711.00 C133.72,709.63 135.05,708.10 136.50,707.00 C137.95,705.90 139.58,705.02 141.50,704.40 C143.42,703.78 145.58,703.53 148.00,703.30 C150.42,703.07 153.33,703.07 156.00,703.00 C158.67,702.93 161.50,702.90 164.00,702.90 C166.50,702.90 168.90,702.92 171.00,703.00 C173.10,703.08 176.43,702.87 176.60,703.40 C176.77,703.93 173.93,705.07 172.00,706.20 C170.07,707.33 167.33,708.85 165.00,710.20 C162.67,711.55 160.25,712.97 158.00,714.30 C155.75,715.63 153.67,717.12 151.50,718.20 C149.33,719.28 147.00,720.03 145.00,720.80 C143.00,721.57 141.25,722.23 139.50,722.80 C137.75,723.37 135.82,724.13 134.50,724.20 C133.18,724.27 132.25,724.03 131.60,723.20 C130.95,722.37 130.70,720.53 130.60,719.20Z" fill="#fff" stroke="#000" stroke-width="1.0"/>
<ellipse cx="146.8" cy="713" rx="12.6" ry="6.7" transform="rotate(-15 146.8 713)" fill="#0a0a0a"/>
<ellipse cx="146.4" cy="713" rx="10.8" ry="5.6" transform="rotate(-15 146.8 713)" fill="none" stroke="#888" stroke-width="0.3"/>
<ellipse cx="145.5" cy="713" rx="7.5" ry="3.9" transform="rotate(-15 146.8 713)" fill="none" stroke="#666" stroke-width="0.3"/>
<ellipse cx="144.7" cy="713" rx="4.2" ry="2.2" transform="rotate(-15 146.8 713)" fill="none" stroke="#555" stroke-width="0.3"/>
<circle cx="148.0" cy="712.5" r="0.7" fill="#ddd" stroke="none" stroke-width="1"/>
<rect x="128.3" y="659.9" width="92.6" height="37.3" fill="none" stroke="#000" stroke-width="0.9"/>
<line x1="123.8" y1="650.5" x2="123.8" y2="739.3" stroke="#111" stroke-width="1"/>
<line x1="123.8" y1="739.3" x2="215.5" y2="739.3" stroke="#111" stroke-width="1"/>
<line x1="121.3" y1="659.9" x2="123.8" y2="659.9" stroke="#111" stroke-width="0.8"/>
<text x="119.9" y="662.5" font-size="7.3" text-anchor="end" fill="#111">10<tspan dy="-3.3" font-size="5.1">5</tspan></text>
<line x1="121.3" y1="679.2" x2="123.8" y2="679.2" stroke="#111" stroke-width="0.8"/>
<text x="119.9" y="681.8" font-size="7.3" text-anchor="end" fill="#111">10<tspan dy="-3.3" font-size="5.1">4</tspan></text>
<line x1="121.3" y1="698.9" x2="123.8" y2="698.9" stroke="#111" stroke-width="0.8"/>
<text x="119.9" y="701.5" font-size="7.3" text-anchor="end" fill="#111">10<tspan dy="-3.3" font-size="5.1">3</tspan></text>
<line x1="121.3" y1="718.7" x2="123.8" y2="718.7" stroke="#111" stroke-width="0.8"/>
<text x="119.9" y="721.3" font-size="7.3" text-anchor="end" fill="#111">10<tspan dy="-3.3" font-size="5.1">2</tspan></text>
<line x1="121.3" y1="738.1" x2="123.8" y2="738.1" stroke="#111" stroke-width="0.8"/>
<text x="119.9" y="740.7" font-size="7.3" text-anchor="end" fill="#111">-10<tspan dy="-3.3" font-size="5.1">0</tspan></text>
<line x1="121.6" y1="673.4" x2="123.8" y2="673.4" stroke="#111" stroke-width="0.7"/>
<line x1="121.6" y1="670.0" x2="123.8" y2="670.0" stroke="#111" stroke-width="0.7"/>
<line x1="121.6" y1="667.6" x2="123.8" y2="667.6" stroke="#111" stroke-width="0.7"/>
<line x1="121.6" y1="665.7" x2="123.8" y2="665.7" stroke="#111" stroke-width="0.7"/>
<line x1="121.6" y1="664.2" x2="123.8" y2="664.2" stroke="#111" stroke-width="0.7"/>
<line x1="121.6" y1="662.9" x2="123.8" y2="662.9" stroke="#111" stroke-width="0.7"/>
<line x1="121.6" y1="661.8" x2="123.8" y2="661.8" stroke="#111" stroke-width="0.7"/>
<line x1="121.6" y1="660.8" x2="123.8" y2="660.8" stroke="#111" stroke-width="0.7"/>
<line x1="121.6" y1="693.0" x2="123.8" y2="693.0" stroke="#111" stroke-width="0.7"/>
<line x1="121.6" y1="689.5" x2="123.8" y2="689.5" stroke="#111" stroke-width="0.7"/>
<line x1="121.6" y1="687.0" x2="123.8" y2="687.0" stroke="#111" stroke-width="0.7"/>
<line x1="121.6" y1="685.1" x2="123.8" y2="685.1" stroke="#111" stroke-width="0.7"/>
<line x1="121.6" y1="683.6" x2="123.8" y2="683.6" stroke="#111" stroke-width="0.7"/>
<line x1="121.6" y1="682.3" x2="123.8" y2="682.3" stroke="#111" stroke-width="0.7"/>
<line x1="121.6" y1="681.1" x2="123.8" y2="681.1" stroke="#111" stroke-width="0.7"/>
<line x1="121.6" y1="680.1" x2="123.8" y2="680.1" stroke="#111" stroke-width="0.7"/>
<line x1="121.6" y1="712.7" x2="123.8" y2="712.7" stroke="#111" stroke-width="0.7"/>
<line x1="121.6" y1="709.3" x2="123.8" y2="709.3" stroke="#111" stroke-width="0.7"/>
<line x1="121.6" y1="706.8" x2="123.8" y2="706.8" stroke="#111" stroke-width="0.7"/>
<line x1="121.6" y1="704.9" x2="123.8" y2="704.9" stroke="#111" stroke-width="0.7"/>
<line x1="121.6" y1="703.3" x2="123.8" y2="703.3" stroke="#111" stroke-width="0.7"/>
<line x1="121.6" y1="702.0" x2="123.8" y2="702.0" stroke="#111" stroke-width="0.7"/>
<line x1="121.6" y1="700.8" x2="123.8" y2="700.8" stroke="#111" stroke-width="0.7"/>
<line x1="121.6" y1="699.8" x2="123.8" y2="699.8" stroke="#111" stroke-width="0.7"/>
<line x1="123.5" y1="739.3" x2="123.5" y2="741.8" stroke="#111" stroke-width="0.8"/>
<text x="123.5" y="749.0" font-size="6.6" text-anchor="middle" fill="#111">-0.1</text>
<line x1="147.4" y1="739.3" x2="147.4" y2="741.8" stroke="#111" stroke-width="0.8"/>
<text x="147.4" y="749.0" font-size="6.6" text-anchor="middle" fill="#111">65.5</text>
<line x1="170.8" y1="739.3" x2="170.8" y2="741.8" stroke="#111" stroke-width="0.8"/>
<text x="170.8" y="749.0" font-size="6.6" text-anchor="middle" fill="#111">131</text>
<line x1="195.3" y1="739.3" x2="195.3" y2="741.8" stroke="#111" stroke-width="0.8"/>
<text x="195.3" y="749.0" font-size="6.6" text-anchor="middle" fill="#111">196.6</text>
<line x1="214.7" y1="739.3" x2="214.7" y2="741.8" stroke="#111" stroke-width="0.8"/>
<text x="214.7" y="749.0" font-size="6.6" text-anchor="middle" fill="#111">262.1</text>
<line x1="135.3" y1="739.3" x2="135.3" y2="740.8" stroke="#111" stroke-width="0.5"/>
<line x1="146.7" y1="739.3" x2="146.7" y2="740.8" stroke="#111" stroke-width="0.5"/>
<line x1="158.2" y1="739.3" x2="158.2" y2="740.8" stroke="#111" stroke-width="0.5"/>
<line x1="169.7" y1="739.3" x2="169.7" y2="740.8" stroke="#111" stroke-width="0.5"/>
<line x1="181.1" y1="739.3" x2="181.1" y2="740.8" stroke="#111" stroke-width="0.5"/>
<line x1="192.6" y1="739.3" x2="192.6" y2="740.8" stroke="#111" stroke-width="0.5"/>
<line x1="204.0" y1="739.3" x2="204.0" y2="740.8" stroke="#111" stroke-width="0.5"/>
<text x="91.0" y="695.0" font-size="11.8" text-anchor="middle" fill="#000" transform="rotate(-90 91 695)">human CD45-APC</text>
<line x1="224.5" y1="676.8" x2="235.1" y2="676.8" stroke="#262626" stroke-width="1.3"/>
<polygon points="242.6,676.8 234.1,680.8 236.1,676.8 234.1,672.8" fill="#262626" stroke="none"/>
<path d="M182.2 777.0h0m4.9 1.2h0m.7 .2h0m3.4 .1h0m.2-.2h0m3-.6h0m2.2 .4h0m-24.5 1.2h0m.3 .2h0m2.5 0h0m.3-.2h0m0-.1h0m.4 .2h0m1.9-.2h0m.7 0h0m.5 .3h0m1.5-.5h0m.8 .3h0m.1-.3h0m1.3 .4h0m.2 0h0m1.9-.7h0m.4 .3h0m.4 .4h0m.3-.2h0m1.7-.2h0m1.4 .5h0m.2-.1h0m.4-.4h0m1 0h0m.5 .4h0m.4 0h0m.5-.1h0m1.1 .1h0m1.2-.3h0m.2-.4h0m2.9 .5h0m-50.5 1h0m22.7 .2h0m.3-.5h0m0 .2h0m2.7 .2h0m.3 .1h0m.1-.1h0m.1-.7h0m.3 .9h0m.8 0h0m.2 0h0m.3-.8h0m0 .4h0m.1-.6h0m1.3 .8h0m.5-.7h0m0 .5h0m.4 .2h0m.7 .1h0m0-.3h0m.5-.3h0m.2 .6h0m.1-.4h0m0-.4h0m.2 0h0m2.2 .7h0m.1-.7h0m.1 .6h0m.1-.5h0m.1 .4h0m0-.6h0m.3 .4h0m.5 .2h0m.3-.2h0m.2-.2h0m1 .6h0m0 0h0m.8-.7h0m.6 .5h0m.5-.4h0m.1 .6h0m.2-.4h0m1.6 .2h0m0 .2h0m.1-.8h0m.4 .5h0m.3 .3h0m.1-.2h0m.6 .4h0m.6-.7h0m0 .4h0m.2-.6h0m0 .8h0m.3-.6h0m.3 .7h0m1.4-.7h0m1-.1h0m.5 .7h0m.2-.7h0m.6 .8h0m.8-.6h0m.7 .4h0m1.4-.1h0m.3-.6h0m1.5 .6h0m.5-.3h0m.7-.3h0m1.7 .6h0m.3 0h0m-41 .8h0m2.2 .3h0m.3-.6h0m1.2 .6h0m.1-.3h0m.4 0h0m.7-.1h0m.3 .4h0m.4-.7h0m.2 .9h0m.3-.5h0m1.9 .3h0m.3-.6h0m.1 0h0m.1 .1h0m.3-.2h0m.3 .5h0m.2-.4h0m.1-.1h0m.8 .5h0m.2-.1h0m.8 .5h0m1.4-.6h0m.1 .3h0m.6 0h0m.2-.5h0m.5 .6h0m.2 .1h0m.3-.3h0m0-.1h0m.2 .4h0m0-.8h0m.4 .6h0m0-.2h0m.8 .2h0m.4-.3h0m0-.2h0m0 .3h0m.3 .3h0m.4 .2h0m0-.4h0m.1-.4h0m.1 .7h0m.7-.8h0m.2 .8h0m.5-.4h0m.2 0h0m.1 .1h0m0-.5h0m.7 .6h0m.3 .1h0m.2-.2h0m.4-.1h0m.1-.3h0m0 .2h0m.3 .5h0m.4-.2h0m.4-.6h0m.3 .5h0m0 .2h0m.5-.5h0m.2 .4h0m0 .1h0m.1-.5h0m0 .1h0m.1 .6h0m.3 0h0m.3-.1h0m.8-.1h0m.4-.1h0m.5 .2h0m.3-.3h0m.3 .3h0m.2-.8h0m.2 .4h0m0 .2h0m.1-.5h0m.1 .5h0m0 0h0m.3 0h0m.1-.3h0m.2-.1h0m0-.3h0m.1 1h0m.8-.4h0m.1-.6h0m0 .2h0m.3 .7h0m.1-.4h0m.1 .3h0m.1-.2h0m.1 .3h0m0-.4h0m.1 .3h0m.4 0h0m.3-.3h0m.1-.3h0m.6 .2h0m.5 .2h0m.2-.2h0m.2 .1h0m.5-.3h0m0-.2h0m.1 .3h0m.4 .7h0m.2-.3h0m.3-.4h0m.2-.3h0m.3 .3h0m.1 .2h0m0 0h0m.5 .3h0m.5-.8h0m.3 .6h0m.4-.3h0m.3 0h0m.4 .3h0m.6 0h0m.1 .2h0m.1-.2h0m1 .2h0m.1-.3h0m.1 .1h0m.1-.2h0m.4-.4h0m0 .7h0m.1 0h0m.8-.7h0m.3 .1h0m0 .7h0m.1 .1h0m.4-.1h0m1.4-.4h0m.3 .3h0m1.2-.4h0m.5 .7h0m.3-.3h0m0-.1h0m1.2-.3h0m-46.5 1h0m.6-.2h0m1.7 .3h0m.5 .3h0m0-.1h0m.4 0h0m2.6 .3h0m.1-.5h0m.3-.1h0m.7 .5h0m1.5 0h0m.1-.1h0m.2 .2h0m.2-.4h0m.6 .3h0m.1-.6h0m.5 .8h0m.1-.3h0m.1 .2h0m.1 0h0m.3-.7h0m.1 .5h0m.5 .1h0m.2-.3h0m.2 .1h0m0-.4h0m.9 .6h0m.3 .2h0m.1-.1h0m0-.3h0m.4 0h0m0-.3h0m1-.1h0m.4-.1h0m.6 .2h0m.5 .6h0m.2-.4h0m0 .1h0m1.2 .2h0m.2-.6h0m.1 .4h0m.5 0h0m.5 0h0m.1 .3h0m.2-.1h0m.1-.2h0m.1-.4h0m.1 .5h0m0-.6h0m.4 .5h0m0 0h0m.5 .2h0m0-.3h0m.3 .2h0m.2-.4h0m.1-.1h0m.2 0h0m.2 .1h0m.2 .5h0m.3-.2h0m.3-.3h0m0 .3h0m.2-.4h0m.2 .6h0m.3 .1h0m.3-.4h0m.1-.5h0m.5 0h0m.1 .3h0m0 .2h0m.1-.5h0m.2 .1h0m.1 .5h0m0 .1h0m0 .3h0m.3-1h0m.1 1h0m.1-.2h0m.1-.6h0m.4 .7h0m.1-.6h0m.4 0h0m.4-.1h0m.1 .3h0m0-.5h0m0 .9h0m.2-.7h0m0 0h0m.2 .6h0m0 .2h0m.1-.4h0m.5-.4h0m.2 0h0m.1 .3h0m.2 0h0m.1 0h0m.2-.3h0m.1 .2h0m.3 .5h0m.1 0h0m1-.7h0m0 .5h0m.1-.1h0m.1-.1h0m.1-.1h0m.7-.1h0m0-.2h0m.1 .5h0m.1-.3h0m.1 .6h0m.2-.4h0m.2-.4h0m.4 .1h0m0 .5h0m0 .2h0m.2-.1h0m.1-.2h0m.1-.5h0m.1 .9h0m.1-.8h0m0 .6h0m0-.6h0m.3 .5h0m0 0h0m.2-.6h0m.2 .1h0m.3 .3h0m.1 .3h0m.4-.7h0m0 .4h0m.2-.1h0m.6-.2h0m.6 0h0m.1 .3h0m.5 .1h0m.1 .2h0m.3-.4h0m.3-.4h0m.1 .7h0m.3-.3h0m.1 .3h0m.1 .1h0m.3-.7h0m.1 .5h0m.2 .1h0m.7-.2h0m.1-.1h0m.2 .4h0m.4-.6h0m.2 .6h0m.5-.6h0m0 .1h0m.1 .5h0m.6-.1h0m.3-.5h0m0 .8h0m.1-.1h0m.2-.1h0m0-.1h0m.4 0h0m.6 .1h0m.4 0h0m.2-.5h0m.2 .6h0m.9-.1h0m.1-.1h0m.7 .3h0m.3-.8h0m.2-.1h0m.1 .4h0m0 .1h0m.2 .4h0m.7-.6h0m1.7 .1h0m-52.2 1.2h0m.1 .3h0m.8-.2h0m.5-.1h0m1.1 .1h0m2.9-.6h0m.1-.2h0m.6 .8h0m.6-.3h0m.4 .2h0m.2-.3h0m.2 .3h0m.1-.1h0m.1-.3h0m.9 .6h0m.1-.8h0m.2 .9h0m.2-.4h0m0 .3h0m.3-.3h0m.5 .3h0m.8-.8h0m.1 .6h0m.1-.4h0m.6 .5h0m.3-.6h0m.1 .1h0m.1 .6h0m.1-.1h0m.1-.7h0m.1 .4h0m0 .2h0m.7-.3h0m.1 .6h0m.1-.7h0m.6 0h0m.1 .7h0m0-1h0m.3 .2h0m0 .6h0m.1-.8h0m.1 .7h0m.1 0h0m0-.2h0m.1-.2h0m.4 0h0m.2 .3h0m.1-.1h0m0 .4h0m.4-.2h0m.4-.4h0m0-.3h0m.1 .4h0m.6-.2h0m.7 .7h0m.1 0h0m0-.8h0m.5 .7h0m.6-.8h0m.3 .3h0m.1 .2h0m.1 .2h0m.3-.7h0m0 .4h0m.3 .2h0m.2 0h0m0 0h0m.1-.5h0m.3 .4h0m.1 .2h0m0 0h0m.3-.3h0m0-.2h0m.2 .4h0m.4-.1h0m0-.4h0m.1 .7h0m.1 .2h0m.3-.6h0m.1 .3h0m.2-.4h0m.3 .2h0m0-.3h0m.1 .1h0m.1 0h0m0 0h0m.4-.1h0m0-.1h0m.1 .6h0m.2 .1h0m.4-.2h0m0-.2h0m.1 .4h0m.5-.1h0m0-.2h0m.1 .2h0m.3 .2h0m.4-.1h0m.3-.1h0m.1 .2h0m.8-.1h0m.1-.7h0m.1 0h0m0 .3h0m0 .2h0m1-.4h0m.3 .4h0m.1 0h0m0-.6h0m.1 .3h0m0-.2h0m.4 .1h0m.1 .6h0m0 0h0m0-.8h0m.3 .1h0m.2 .8h0m0 0h0m.6 0h0m.1 0h0m.1-.7h0m.1 .2h0m0 .4h0m.1-.6h0m.1-.2h0m.5 .7h0m0-.5h0m.2 .6h0m.2 .2h0m.3-.6h0m.1 .2h0m0-.5h0m.2 .8h0m.1-.3h0m0 .2h0m0-.1h0m.1-.6h0m0 .4h0m.3 .2h0m.2-.6h0m.2 .3h0m.4 .2h0m.1-.2h0m0 .1h0m.2-.2h0m.2-.1h0m.1 .2h0m.2 .2h0m.4 .2h0m.5-.5h0m0 .5h0m0-.6h0m.1 .4h0m.3 .3h0m.3-.9h0m.1 .7h0m.8-.1h0m.2-.6h0m.1 .2h0m0 0h0m.4 .8h0m0-.8h0m.2 .6h0m.2 0h0m.2 .1h0m.5 0h0m.1-.7h0m.1-.1h0m0 .1h0m.2 .5h0m.4-.2h0m.1 .4h0m.2-.6h0m.1 0h0m0 0h0m.5 .4h0m.8 .1h0m0 .2h0m.1-.6h0m.5 0h0m.2-.2h0m0 .1h0m.1-.2h0m.1 .6h0m0-.2h0m.1-.5h0m.5 .7h0m.1-.3h0m.1-.1h0m.7 .3h0m.4 .1h0m.2-.6h0m0 .3h0m.2 .4h0m.1-.1h0m.3-.2h0m0 0h0m.5 0h0m.2-.1h0m.1 .2h0m0-.1h0m.9-.2h0m.7 .4h0m.1-.2h0m0 .4h0m.1 .1h0m0-.9h0m.3 .4h0m0 .5h0m.1-.6h0m1 .4h0m.3-.8h0m.6 .2h0m.5-.1h0m.3 .8h0m.5-.7h0m0 0h0m.8 .4h0m.1-.4h0m.1 .1h0m.1 0h0m.2-.3h0m.5 .3h0m.4 .1h0m.1 .4h0m.1 0h0m.3-.3h0m.5-.1h0m1.4-.2h0m1.7 .8h0m-69.4 .2h0m8.8 .8h0m.2-.2h0m1.8-.8h0m.8 .9h0m.9-.8h0m.6 .8h0m.1-.1h0m.6-.6h0m0-.1h0m.7-.1h0m0 .1h0m.1 0h0m1.1 .4h0m.3-.3h0m.8 .2h0m.2 .4h0m0-.6h0m.1 0h0m.5 .6h0m.2 .1h0m.8-.6h0m.2-.1h0m.2 .5h0m.1-.2h0m0-.2h0m.1-.1h0m.2 .3h0m.2-.1h0m0-.4h0m.4 .5h0m.2-.2h0m.2 .6h0m.2 .1h0m0-.9h0m.4 .7h0m0-.6h0m.1 .3h0m.1 .3h0m0-.8h0m.2 .5h0m.4 .2h0m0-.6h0m.2 .4h0m0 .5h0m0-.6h0m.2 .5h0m.1-.8h0m.4 0h0m.3-.1h0m.2 0h0m.1 .9h0m.4-.1h0m.7-.3h0m.1-.4h0m.5 .1h0m0 .2h0m.1 .2h0m0-.4h0m.1 .2h0m.3 .3h0m.1-.3h0m.2 0h0m.1-.2h0m.1 .1h0m.8-.2h0m0 .4h0m.2 .1h0m.1-.4h0m0 .3h0m.4 0h0m.3-.1h0m.1 .5h0m.1-.3h0m0 .3h0m.2-.5h0m0 .4h0m.1-.7h0m0 .4h0m.1-.3h0m.1-.2h0m.3 .9h0m.4-.1h0m.3-.5h0m.3 .4h0m0-.5h0m.1 .6h0m.5 0h0m0 .1h0m.2-.1h0m0-.3h0m.2-.1h0m0 .3h0m.2-.3h0m.1 .6h0m.3-.7h0m0 .3h0m.1 .1h0m.4-.1h0m.2 .1h0m.5-.1h0m.2 0h0m.4 0h0m.1-.6h0m.3 .5h0m.1 .2h0m.1 .1h0m0-.1h0m0 .1h0m.4 0h0m.4-.8h0m.4 .2h0m.2 .6h0m.2-.2h0m.4 0h0m.1-.2h0m.1 .1h0m0-.2h0m.1 .3h0m.1 .1h0m0-.6h0m.1 .6h0m.3 .1h0m.3 0h0m0-.5h0m.1 .3h0m.2 .3h0m.1 0h0m0-.4h0m0 .2h0m0-.7h0m.9 .9h0m.3-.2h0m.1 .2h0m.5-.3h0m0 .1h0m.1-.1h0m.4-.1h0m.1-.3h0m.1 .4h0m.2-.4h0m0 .3h0m.3 .1h0m0 .4h0m.3-.2h0m.4 .1h0m.1-.4h0m.1 .2h0m.2 0h0m.6-.6h0m.1 .3h0m.1 0h0m.1 .5h0m.4-.2h0m0-.6h0m0-.1h0m.2 .4h0m.1 .2h0m.3-.3h0m.2-.3h0m.2 0h0m.3 .8h0m.4-.2h0m.1-.4h0m.2 .2h0m0 .1h0m0 .1h0m.3-.6h0m.5 .9h0m.4-.1h0m.4-.3h0m.1-.3h0m.4 .5h0m0-.6h0m0 .8h0m.1-.8h0m.2 .2h0m.1 .4h0m0-.6h0m.1 .9h0m0-.2h0m.2 .2h0m.1-.3h0m0 0h0m.2 0h0m0 .2h0m.1-.1h0m.1-.4h0m.1 .3h0m0-.6h0m.2-.1h0m.1 .5h0m0 0h0m.9-.4h0m.1 .5h0m.3 .4h0m.1-.4h0m.5 .2h0m.5-.6h0m0 .3h0m.3 .5h0m.3 0h0m.1-.2h0m.1 .1h0m.3-.9h0m.2 0h0m0 .8h0m.4-.7h0m0 .8h0m.1-.9h0m0 .8h0m.4-.3h0m.1 .1h0m.2-.4h0m.5 .7h0m0-.6h0m.1 .7h0m.1-.1h0m.1-.5h0m.1 .4h0m0-.7h0m.2 .8h0m.3-.3h0m.4-.4h0m.1 .2h0m.4 .3h0m0-.5h0m.4-.1h0m0 .1h0m.2-.1h0m.5 .2h0m.1 .5h0m.2-.3h0m.3 .3h0m0-.7h0m.3 .6h0m.1-.1h0m.2-.4h0m0 .7h0m.3 .1h0m.1-1h0m.2 .5h0m.2-.3h0m0 .1h0m.3 .7h0m0-.3h0m.1-.3h0m0 .2h0m.2 .4h0m.2-.5h0m.1 0h0m.4 0h0m.1-.3h0m.2 .5h0m.1-.4h0m.8 .7h0m0-.4h0m.1 .1h0m.3 0h0m0 0h0m0 .1h0m.8 .1h0m0-.8h0m0 0h0m.2 .1h0m0-.1h0m.2 .7h0m.6-.4h0m.2-.4h0m.1 .9h0m0 0h0m.5-.7h0m.7 .3h0m0 .2h0m.9-.2h0m0 .1h0m.4-.5h0m1.6 .4h0m.7 .1h0m.2 .3h0m1.3 0h0m-60.2 .1h0m1.6 .7h0m.5-.1h0m.1-.1h0m.2 .1h0m.1 .3h0m1-.6h0m.2 .3h0m0 .3h0m.2-.5h0m0-.4h0m.3 .2h0m.6 0h0m0 .3h0m.2 .1h0m.2 0h0m.3-.5h0m.5 .5h0m.1 .3h0m.1-.3h0m.5 .2h0m.2-.2h0m0 .2h0m.1-.8h0m.1 .8h0m.4-.2h0m0-.5h0m.5 .5h0m.2-.6h0m.1 .9h0m0-.7h0m0 .1h0m.2 .5h0m0-.5h0m.2 .5h0m.1-.7h0m0 .6h0m.3 .2h0m.1-.6h0m.5 .2h0m0-.2h0m0 .3h0m0 .4h0m.2-.5h0m.3-.1h0m.1 .2h0m0-.3h0m.1 0h0m.1 .2h0m0-.1h0m.2 .3h0m.2-.4h0m0 .6h0m.3-.8h0m.4 .1h0m0 .1h0m.1 .6h0m.1-.8h0m0 .5h0m.3 .2h0m.4-.4h0m.3 0h0m.4-.3h0m0 .1h0m.3-.1h0m.1 .6h0m.2-.5h0m0 .1h0m.2 .2h0m.1-.4h0m.5-.1h0m.4 .1h0m.2 0h0m.4-.1h0m.1 .8h0m.1-.5h0m0 .4h0m.7 .3h0m.1 0h0m.3-.8h0m.9 .3h0m.1-.1h0m.1 .2h0m.1 .1h0m.1 0h0m.1-.3h0m0 0h0m0-.1h0m0 .2h0m.6 .2h0m0-.5h0m0-.2h0m.5 .9h0m0-.6h0m.1 .3h0m.2-.6h0m.6 .9h0m.1-.8h0m.1 .5h0m.1-.5h0m.1 0h0m.1 0h0m.3 .3h0m.1 0h0m.4 0h0m.2-.2h0m.1 .5h0m.4-.6h0m.1 .8h0m0-.3h0m.3-.5h0m.1 .4h0m.2 0h0m.1 .1h0m0 .2h0m.2-.7h0m.1 .5h0m0 .4h0m0-.1h0m0-.8h0m1 .6h0m.2-.5h0m.5 .2h0m.2-.2h0m.1 .4h0m.1-.1h0m.3 0h0m.4 .2h0m.2 0h0m0-.4h0m.3 .7h0m0-.4h0m.2 .1h0m.3-.7h0m.2 .9h0m.2-.8h0m.4 .7h0m0-.1h0m.3 .1h0m.1-.6h0m.3 .5h0m.2 .1h0m.3 .1h0m0-.7h0m.3 .2h0m.1 .1h0m0 .3h0m.1-.6h0m.1 .8h0m0-.4h0m0 .3h0m.1-.8h0m.2 .1h0m.2 .1h0m0-.3h0m.3 .9h0m.6-.5h0m0 .2h0m0 .3h0m.1 .1h0m0-.1h0m.3-.4h0m.2 .3h0m0-.4h0m.3 .1h0m.1 .1h0m0 .3h0m.1 0h0m.5-.2h0m.3 .1h0m.1 0h0m0-.5h0m.2 0h0m.4 .1h0m.4 .2h0m.2 .4h0m.3-.9h0m.2 .4h0m.3 .4h0m0-.6h0m.2 .4h0m0-.1h0m0 .4h0m.1-.3h0m0-.4h0m.1 0h0m.1 .5h0m.1-.4h0m.4-.1h0m.1-.1h0m.1 0h0m.1 .5h0m0-.5h0m.1 0h0m.1 0h0m.1 .6h0m0-.2h0m0-.2h0m.1 .3h0m.8-.1h0m.2-.2h0m.1 0h0m0 .3h0m0 .1h0m.1-.1h0m.5-.6h0m.1 .6h0m.1-.7h0m.3 .6h0m.2 .3h0m0-.7h0m.1 .2h0m.1-.4h0m.3 .5h0m.1 .5h0m.3-.1h0m.2-.4h0m.1-.2h0m0 0h0m.2 0h0m.2 .7h0m.1-.3h0m.1 0h0m0-.4h0m.1-.1h0m0-.1h0m.3 .5h0m0 .3h0m.2-.2h0m.2-.3h0m.3 .2h0m0-.3h0m.1-.1h0m.1 .2h0m.3 .6h0m.3 0h0m.1-.5h0m.1-.4h0m0 .1h0m0 .2h0m0-.1h0m.2-.1h0m0 .1h0m.1-.1h0m0 0h0m.1 .6h0m0-.6h0m.2 .1h0m.2 .1h0m.1-.3h0m.2 .4h0m.1-.1h0m.1 .6h0m.1-.7h0m0-.2h0m.2 .4h0m.1 0h0m0 .4h0m.4-.1h0m.2 .1h0m0 0h0m0-.7h0m.1 .5h0m0 .1h0m.2-.5h0m.1 .4h0m.1-.2h0m0-.3h0m.4 .1h0m.1 .6h0m.5-.5h0m0 .5h0m.5-.8h0m.1 .8h0m.1-.1h0m0 0h0m.6 .1h0m0-.6h0m0 .7h0m.2-.3h0m0-.6h0m.3 .3h0m0 .1h0m.1 .2h0m0-.4h0m.3-.1h0m0 .2h0m.1 0h0m.2-.1h0m.1 .1h0m.2 .1h0m.1-.2h0m.1 .2h0m.3-.5h0m.1 .3h0m.1 .1h0m.1-.2h0m.1 .6h0m0-.6h0m.1 .3h0m0-.2h0m0 .2h0m.7-.4h0m0 .6h0m.1-.2h0m.2 .1h0m.1 0h0m.2-.3h0m0 .2h0m.2 .4h0m.1-.4h0m.1 .5h0m.1-.2h0m.6-.3h0m.4 .3h0m0-.6h0m.6 .5h0m.1 .2h0m.1-.5h0m0-.3h0m0 .6h0m.5 .1h0m.1-.6h0m.3 .4h0m.2 .4h0m.3-.2h0m.6-.2h0m.2-.3h0m.3-.1h0m0 .6h0m.6-.2h0m.4-.1h0m.7 .3h0m.3-.1h0m.1-.6h0m1.5 .6h0m.1-.1h0m0 .4h0m.3 0h0m0 0h0m.5-.3h0m.7-.3h0m-67.3 1.2h0m1.5 0h0m.9 .2h0m1.1 0h0m.1 0h0m0-.2h0m1.1-.2h0m.3 .4h0m.3-.1h0m.4-.2h0m0 .3h0m.3 .2h0m.2-.8h0m.1 .8h0m.4-.1h0m.2-.5h0m0-.2h0m.2 .6h0m0-.7h0m.1 .3h0m0-.1h0m.1 .6h0m.2-.3h0m0 0h0m.1 .2h0m.1 0h0m.2 .1h0m0 0h0m.2 0h0m0-.3h0m0-.4h0m.2 .6h0m.4-.6h0m.2 .8h0m.1-.2h0m.2-.2h0m.7-.1h0m.2-.1h0m.2 .6h0m0-.2h0m.2-.7h0m0 0h0m.1 0h0m.3 .8h0m0-.1h0m.1 0h0m.1-.4h0m.3-.3h0m.2 .3h0m.3 .5h0m.4-.7h0m.2 .5h0m.3-.5h0m0-.2h0m.3 .1h0m.3 .1h0m0-.1h0m.3 0h0m0 0h0m.5 .2h0m0 .6h0m.3 0h0m.4-.1h0m.4-.5h0m.2-.2h0m.3 .1h0m.4 .7h0m.2-.2h0m0 .2h0m0 .1h0m.2-.5h0m0-.3h0m.2 .8h0m.3-.2h0m.2 .1h0m.3-.5h0m.1 .5h0m0-.4h0m.1 .4h0m.3-.5h0m.1 .5h0m.4-.6h0m0 .3h0m.1 .2h0m.2-.5h0m.1 .4h0m.5 .2h0m.3-.2h0m0-.1h0m.1-.3h0m.3-.1h0m.1 .3h0m.4 .2h0m.1-.3h0m0 .6h0m0-.1h0m.3-.6h0m0 0h0m.9 .5h0m.3-.1h0m0-.1h0m.1-.3h0m.1-.1h0m.3-.1h0m.2 .7h0m0 0h0m.1-.7h0m.2 .8h0m0-.1h0m.1-.4h0m0-.1h0m1.4 .5h0m0-.7h0m.1 .6h0m0 0h0m.2-.4h0m0 .5h0m.1-.3h0m0-.4h0m0 .7h0m.3-.1h0m.1-.2h0m.1-.1h0m.5 .3h0m.2-.4h0m.4 .5h0m.1-.2h0m.1-.1h0m.7-.4h0m.1 .4h0m.1-.1h0m0 .2h0m.6-.6h0m0 .1h0m.1-.1h0m0 .8h0m.1 0h0m.1 .1h0m.1 0h0m.1-.7h0m.2 0h0m0 .4h0m0-.6h0m0 .9h0m0-.8h0m.1 .2h0m0-.2h0m.3 0h0m.1 .2h0m.1 .1h0m.1 .4h0m.2-.5h0m.6 .6h0m.1 0h0m.5-.4h0m0 .1h0m.1 .2h0m.4 .1h0m0-.3h0m.2 .3h0m.4-.3h0m0 .3h0m0-.6h0m.1 .4h0m0-.4h0m.3 .3h0m.1-.1h0m.3 0h0m.1 .1h0m.2 .3h0m0-.5h0m.1 .1h0m.1 .2h0m.3-.6h0m.1 .8h0m0-.9h0m.3 .7h0m.1 .2h0m.3-.2h0m.2-.5h0m0 0h0m.4 .5h0m.2 .1h0m.2-.2h0m.2-.3h0m.5 .2h0m.1 .2h0m.1 0h0m.3-.5h0m0 .5h0m.1 0h0m.2 .1h0m.2-.7h0m.1 .6h0m.2-.6h0m.1 .5h0m0-.3h0m.1 0h0m.2 .1h0m.2 .1h0m0 .2h0m.2 .2h0m.1-.6h0m.1 0h0m0-.1h0m.1 .4h0m0-.2h0m.1 0h0m0 .2h0m.3-.4h0m.2 .2h0m.3-.1h0m.2-.1h0m0 .3h0m.2 .1h0m0-.2h0m.2-.4h0m.2 .5h0m.2 0h0m.3-.4h0m.1 .4h0m.1-.3h0m.1 .2h0m0 .1h0m.3-.2h0m0-.3h0m.1 .6h0m.1-.2h0m0 .2h0m.3-.2h0m0-.1h0m.1 .1h0m.1 0h0m.2-.3h0m0 0h0m.2 .4h0m.2-.2h0m.2 .1h0m.1 0h0m.1 .1h0m.1 0h0m.2-.3h0m0 .4h0m.6-.3h0m.3 .3h0m0-.4h0m.1 .1h0m.2 .3h0m.5 .3h0m.2-.4h0m.1-.4h0m.4 0h0m0 .2h0m.2 .2h0m.2 .2h0m.2 0h0m0-.1h0m.3-.5h0m.4 .1h0m.1 .1h0m0 0h0m0 .1h0m.2-.3h0m0 0h0m0 .2h0m.1 .4h0m.1-.3h0m.3 .1h0m.3 0h0m0 .4h0m0-.4h0m.4 .2h0m.1-.1h0m.2-.4h0m0 .2h0m.1 .5h0m.1-.7h0m0 .6h0m0-.4h0m.2 .3h0m.1-.4h0m.2 .3h0m0-.4h0m.2-.2h0m0 .2h0m.4 .1h0m.1 .5h0m.1-.1h0m0-.1h0m.1-.4h0m0 .5h0m.3-.3h0m.2 0h0m.3 .3h0m0 .1h0m.6-.7h0m.1 .4h0m0 .1h0m0-.2h0m0 .5h0m.1 0h0m.4 0h0m0-.6h0m.1-.3h0m.1 .7h0m0 0h0m.1-.3h0m0-.3h0m.1 .5h0m.2-.5h0m.3 .4h0m.1 .3h0m.4 .2h0m.1-.9h0m.3 .8h0m.1 0h0m0-.1h0m0-.1h0m.1-.6h0m0 .5h0m0-.3h0m.1 .6h0m.2-.4h0m.1 .4h0m.2 0h0m.3-.6h0m.1-.1h0m0 .3h0m.2 0h0m.1-.3h0m.2 .2h0m.3 .2h0m.5 .1h0m.3 .1h0m.4-.4h0m.5 .5h0m0-.6h0m.2 .3h0m.1 .1h0m.1-.6h0m.3 .7h0m.3-.7h0m.2 .7h0m0-.4h0m.2 .4h0m0-.1h0m.3-.6h0m.3-.1h0m.4 .5h0m.6-.3h0m0 .7h0m.3 0h0m.2-.2h0m.2-.2h0m.6 .3h0m.4-.6h0m.2 .8h0m0-.8h0m0 .2h0m.2 .4h0m.2 .1h0m0 0h0m.1-.1h0m.5-.6h0m.8-.1h0m.2 .8h0m.4-.6h0m.4-.1h0m.6 .1h0m-67.4 1h0m.1 .2h0m.3 .5h0m1.4-.5h0m.4-.1h0m.6-.1h0m.3 .6h0m.6-.4h0m0-.5h0m.6 .3h0m.1 .4h0m.3-.1h0m.1-.5h0m.7 .8h0m.1 0h0m.2-.5h0m.4 .4h0m1.1-.1h0m.1 .3h0m.2-.1h0m0-.8h0m0 .1h0m.4 .1h0m.2-.1h0m.1-.1h0m.1 .3h0m.1 .1h0m.2-.1h0m.1 .1h0m.4-.3h0m.1 .7h0m.1-.3h0m.2 .3h0m.1-.3h0m.4 .2h0m.3 .2h0m.1-.4h0m.1-.3h0m.1 .6h0m.2-.1h0m0-.3h0m.1-.1h0m.6-.1h0m.1 .1h0m.4 .4h0m.1-.5h0m.1-.2h0m.1 .9h0m.1-.4h0m.3-.5h0m.2 .3h0m0 0h0m.6-.4h0m.1 .9h0m0-.1h0m.4-.2h0m.1 .3h0m.2-.7h0m.1-.2h0m.1 .7h0m.1 .1h0m0-.4h0m.1-.3h0m.3 .8h0m.3 0h0m0-.1h0m.6-.4h0m.1 .3h0m0-.5h0m.1 .1h0m.1-.1h0m0 .3h0m.1 .1h0m0-.2h0m0 .4h0m.2-.1h0m.1-.7h0m0 .2h0m0 .1h0m0 .2h0m.1-.5h0m.1 .8h0m.1-.3h0m.1-.1h0m.5 .3h0m0-.2h0m0-.2h0m.1 .4h0m.5-.1h0m.1 .3h0m.1-.3h0m.1-.6h0m.2 .5h0m0-.4h0m.2 .6h0m.1-.4h0m0-.2h0m.1 .5h0m.1-.4h0m.1 .7h0m.5-.8h0m0 .6h0m.5 .3h0m.3-.9h0m.1 .5h0m0-.1h0m.1-.1h0m.3 .3h0m.2-.3h0m.1 .4h0m.3-.7h0m.1 0h0m0 .1h0m0 .5h0m.1-.2h0m0 .4h0m.1-.2h0m0-.7h0m.1 1h0m0-.2h0m.1-.5h0m.3-.1h0m.1 .1h0m.2 0h0m.1 0h0m.1-.1h0m.2 .6h0m.2-.1h0m.4-.1h0m.3 .3h0m.1-.6h0m0 .1h0m.4 0h0m.1 .5h0m.2-.3h0m0 .1h0m.1-.6h0m.1 .2h0m.1 .6h0m0-.5h0m.5 .4h0m.1 .2h0m.3-.4h0m.4-.2h0m0-.4h0m.3 .1h0m0 .1h0m0-.1h0m.1 .6h0m0-.4h0m0-.1h0m.5-.1h0m.2 .7h0m.2 0h0m.1-.6h0m0-.2h0m.3 .8h0m.3-.3h0m.1-.4h0m.2 .2h0m.2-.1h0m.3 .3h0m.2-.2h0m.1 0h0m.3 .1h0m.1-.3h0m.2 .2h0m.3-.2h0m.9 0h0m.5 .2h0m.8 .2h0m.3-.5h0m.1 0h0m1.1 .1h0m1.5 .1h0m15.7 0h0m.1-.1h0m.1 .5h0m.4-.4h0m.1-.2h0m.4 .3h0m.2 .5h0m.3-.6h0m.5 0h0m0 .1h0m.8-.1h0m.1-.2h0m.2 .8h0m0-.3h0m.4 .3h0m.1-.3h0m.1 .4h0m.2 .1h0m.3-.5h0m.1 .4h0m0-.1h0m.1 .1h0m.1-.4h0m.1-.4h0m.1 .8h0m.1-.7h0m.1 .4h0m.3-.3h0m.1-.1h0m.1 .2h0m.1-.1h0m0-.3h0m.2 .8h0m.1-.1h0m.3-.2h0m.1 0h0m.2 .5h0m.2-.1h0m.2-.6h0m.1-.1h0m0 .5h0m.2-.5h0m.4 .6h0m.1-.7h0m.1 .1h0m.3 .6h0m.1-.4h0m.3 .3h0m0-.6h0m0 .5h0m.1 .1h0m0 0h0m.2-.5h0m0 .2h0m.2-.2h0m.3 .3h0m.6 .1h0m1.3-.1h0m.3-.1h0m.1-.2h0m.1 .6h0m.8 0h0m.4 .1h0m0-.9h0m.3 .1h0m0 .6h0m.7-.3h0m0 0h0m1.1 .5h0m.5-.2h0m1.1 0h0m-73.6 1.3h0m4.7-.1h0m.3-.6h0m.1-.1h0m.3 0h0m.4 .3h0m1.1-.3h0m.4 0h0m.5 .4h0m.5-.3h0m.1 .6h0m.3-.5h0m.2-.3h0m.1 .5h0m0 .2h0m.1-.6h0m.2 .6h0m.2-.5h0m.3 .7h0m.1-.9h0m.3 .3h0m.5 .5h0m.1-.6h0m.4 .4h0m.8-.7h0m.1 0h0m.6 .9h0m.1-.2h0m.1 0h0m.2-.3h0m.1 .4h0m.1-.2h0m.5-.5h0m.1 .4h0m.2 .2h0m.1-.5h0m0 .1h0m.1 .2h0m.1 .4h0m.5 0h0m.4-.4h0m.1-.1h0m.3 .2h0m0-.2h0m0 .4h0m.2-.3h0m.1 .3h0m.1-.6h0m0 .4h0m.4-.2h0m.8 0h0m.1 .6h0m.1-.3h0m.3 0h0m.1-.4h0m.1 .1h0m0-.1h0m.2 .4h0m0-.4h0m.1 .7h0m.3-.1h0m0-.5h0m.2 .1h0m0 .1h0m.2-.4h0m.2 .5h0m0 .1h0m0-.7h0m.5 .7h0m.2 0h0m.5-.7h0m0 .4h0m.2 .2h0m.1-.4h0m.1 .6h0m.1 0h0m0-.5h0m.1 0h0m.1-.2h0m.1 .7h0m0 .1h0m.1 0h0m0-.3h0m0-.4h0m.1 .2h0m.1-.1h0m.2 .3h0m.2 .1h0m.1-.5h0m.3 .6h0m.1-.8h0m0 .5h0m.3-.3h0m.1-.2h0m.2 .7h0m.1 .2h0m0-.9h0m0 .8h0m.2 .1h0m.5-.8h0m.4 .5h0m.1-.4h0m.3 0h0m.4 0h0m.4 0h0m.3 .1h0m0 .4h0m.3-.2h0m0-.2h0m.1 .5h0m.1-.2h0m0 .3h0m.2-.7h0m.2-.2h0m.1 .1h0m.1 .5h0m.1 .3h0m.2-.3h0m.3-.1h0m.1 .2h0m.1-.2h0m.1-.5h0m1.1 .5h0m.5-.4h0m.2-.2h0m.1 .7h0m.1-.5h0m.2 .2h0m.2-.3h0m.4-.1h0m.7 .2h0m.6 .3h0m1.5-.3h0m26.8 0h0m2 0h0m0 0h0m.1 .3h0m.1-.1h0m.2-.2h0m0-.1h0m0 .2h0m.1 .2h0m.7-.2h0m0 .5h0m.2-.2h0m.2-.1h0m0 0h0m.1-.1h0m0-.2h0m.3 .8h0m0-.1h0m0-.2h0m.1 .1h0m.1-.8h0m.1 .8h0m.1-.5h0m.2 .1h0m0-.3h0m.4 .2h0m.1-.3h0m.1 .6h0m0-.4h0m.1 .5h0m0 .2h0m.2-.8h0m.1 .1h0m.3 .3h0m.1 .4h0m0-.7h0m.1-.1h0m.1 .2h0m0 0h0m.3 .6h0m.2 .1h0m.1-.4h0m.1 .3h0m0-.6h0m.6-.2h0m.1 .7h0m0-.5h0m.3 .5h0m0-.5h0m.3 .3h0m.1-.1h0m0 0h0m1.6-.3h0m1 .3h0m.2-.4h0m.8 .6h0m.4-.1h0m.5-.4h0m.5 .6h0m-74.1 1.2h0m.4-.4h0m.6-.5h0m.6 .5h0m.2-.6h0m1.2 .8h0m.2-.2h0m.1 .4h0m0-.8h0m.8 .8h0m1 0h0m.2-.1h0m.1 .1h0m0-.2h0m.1 .2h0m0-.1h0m.2-.6h0m.2 .2h0m.1 .2h0m.3-.5h0m.1 .2h0m0-.2h0m.5 .2h0m.2-.2h0m.1 0h0m.1 .1h0m.2 .7h0m.4-.6h0m.2 .1h0m0 .1h0m0-.3h0m.3 .7h0m.2-.7h0m1.4 .3h0m0 .2h0m0 .1h0m.2 0h0m1.2 0h0m.3-.2h0m0-.4h0m.1 .6h0m.1-.9h0m0 .6h0m0 .2h0m0-.3h0m.2 .1h0m0-.5h0m.1 .7h0m0-.8h0m0 .6h0m0 .2h0m.3-.6h0m.1 .2h0m.4-.3h0m.4 .2h0m.1 .3h0m.1-.1h0m.5-.1h0m0-.3h0m0 .2h0m.1 .4h0m.3 .3h0m.1-1h0m0 .8h0m.4-.4h0m.1-.1h0m.1 .6h0m.1-.5h0m0-.4h0m.2 .9h0m.6-.3h0m0-.2h0m.2 .5h0m0-.8h0m0 .3h0m.2 .1h0m.1-.2h0m0 0h0m.1-.3h0m0 .5h0m.1 .5h0m.1-.5h0m0-.5h0m.1 .5h0m0-.4h0m.4 .7h0m.3-.5h0m.1 0h0m0-.2h0m.1-.1h0m.1 .4h0m0-.4h0m0 .5h0m.1-.3h0m.1 .4h0m.8-.3h0m.1 .5h0m.1-.7h0m.5 .4h0m0 .1h0m.1-.3h0m.3-.2h0m.3 .6h0m.3 .2h0m.1-.3h0m0-.1h0m.1-.2h0m0 .5h0m.1-.5h0m.1-.2h0m.3 .6h0m.1-.2h0m.1 .1h0m0 .1h0m.2-.1h0m.1 0h0m.6-.3h0m.1-.2h0m.2 .4h0m.2-.1h0m0 .1h0m.1 .3h0m.1-.6h0m.1 .7h0m.2-.5h0m0-.3h0m.2 0h0m.4 .2h0m.4-.1h0m0-.2h0m.2 0h0m.1 .5h0m.2-.5h0m.2 .9h0m.2-.9h0m0 .2h0m.3-.1h0m.7 .2h0m.7-.3h0m37.5 .5h0m.1-.1h0m.1 .2h0m.3-.1h0m.1 .3h0m.2 .1h0m.1-.8h0m.4 .8h0m0-.6h0m0-.3h0m.1 .3h0m.2 0h0m.1 .2h0m.1 .4h0m.3-.6h0m0-.2h0m1.1 .6h0m.1-.5h0m0-.2h0m0 .1h0m0 0h0m.3 .5h0m.1-.2h0m.3 0h0m.1 .2h0m.2-.2h0m.1 .5h0m.3-.4h0m0 0h0m.5-.4h0m.3 .9h0m1 0h0m0-.8h0m.3 .1h0m.1 0h0m.9 .1h0m.1-.1h0m.1 .1h0m.7 .1h0m.1 .2h0m.7-.3h0m.1 .6h0m-74.7 .7h0m1 0h0m.3-.4h0m.6 .2h0m.8 0h0m.6 .4h0m0-.5h0m.5-.3h0m.2 .7h0m.2-.1h0m.1-.6h0m.4 .3h0m0 .3h0m.4-.2h0m.7 .5h0m.1-.4h0m.1 .3h0m.1-.3h0m.5 .3h0m0 0h0m.1-.4h0m.1 0h0m0 .3h0m.2 .1h0m.2-.3h0m.4 .3h0m.1-.3h0m.3-.1h0m.1 .5h0m0-.3h0m.1-.4h0m0 .4h0m.2 .1h0m.1-.3h0m.3 .4h0m.1 0h0m.1-.8h0m.1 .7h0m.2-.4h0m.3 .1h0m0-.4h0m0 .4h0m.1 .3h0m.1 0h0m.7-.4h0m.5 .1h0m.3-.4h0m.4 .7h0m0 .1h0m.1 0h0m.3 0h0m.6-.9h0m.2 .2h0m0 .2h0m.3-.3h0m.4 .9h0m.1-.1h0m.1 0h0m.1-.2h0m.1-.5h0m0 .2h0m.3 .1h0m.4 0h0m.2 .3h0m.1-.1h0m.2-.2h0m.1-.2h0m.3 .2h0m.1 .5h0m0-.8h0m.2 .1h0m.4 .2h0m.1 0h0m0 .2h0m.1 .2h0m.2-.8h0m.1-.1h0m.2 .2h0m.2 0h0m.1 .4h0m0-.2h0m.1-.1h0m.4-.2h0m.1 .6h0m0-.1h0m.1-.5h0m.1 .4h0m0 .5h0m.1-.2h0m.2-.8h0m.3 .8h0m.1-.2h0m.1 0h0m.1 .1h0m0 .2h0m.1-.7h0m.2 .4h0m.1-.5h0m0 0h0m0 .2h0m.3 .2h0m.1 .4h0m0-.2h0m.5 .2h0m0 0h0m.2-.8h0m.1 .4h0m0-.4h0m.1 .1h0m.1 .2h0m.1 .1h0m.1 .2h0m.5-.7h0m0 .2h0m.1 .1h0m.4-.1h0m0 .1h0m.3-.3h0m.2 .2h0m.4-.1h0m0 .5h0m42.7-.4h0m.9 .1h0m.3-.2h0m0 0h0m.1 .3h0m.2 .2h0m.1-.4h0m.1 .5h0m.1-.3h0m.1-.3h0m0 .5h0m.1 .1h0m.1-.6h0m.1 .6h0m.1-.3h0m.1-.3h0m.2 .1h0m.1 0h0m.1 .3h0m.2 .4h0m.3-.6h0m0 .1h0m.1 .3h0m.1 .3h0m.4-.8h0m.1 .7h0m.1 0h0m1.1-.7h0m.2 .2h0m0 0h0m.4-.3h0m.1-.1h0m.1 .1h0m.6 .6h0m1.2-.7h0m.2 .2h0m.6 .6h0m-74.4 .8h0m.8-.1h0m.4 .3h0m.3-.5h0m.7 .6h0m.1-.9h0m.2 .3h0m.1 .1h0m.3-.3h0m.1 .5h0m.3-.2h0m1.2-.2h0m2.1-.1h0m0 .2h0m0-.3h0m.4 .2h0m.2 .7h0m0-.4h0m.3-.1h0m.4 .1h0m.1-.5h0m0 .7h0m.1 .1h0m.1-.1h0m.4 .1h0m0-.3h0m.3-.2h0m.2 .6h0m.2-.9h0m.1 .3h0m0 .1h0m.3 .3h0m.4-.7h0m.1 .3h0m.2 .3h0m.1-.5h0m.1 .9h0m.1-.8h0m.8-.1h0m0 .4h0m.3-.3h0m.1-.1h0m0 .9h0m.2-.1h0m0 .1h0m0-.8h0m.1 0h0m.2 0h0m.1 .5h0m.1-.7h0m.3 .9h0m.1-.4h0m.1-.5h0m0 .5h0m.2 .1h0m.1 .3h0m.6-.3h0m.1 0h0m0-.2h0m.2-.1h0m.2 .5h0m.1 .1h0m.3-.6h0m.1-.2h0m.3 0h0m.1 .2h0m.1-.3h0m.1 .7h0m.1-.2h0m.1-.2h0m.1 0h0m.1 0h0m.2 .4h0m.3-.1h0m.1-.4h0m.2 0h0m.1 .1h0m.3 .5h0m0-.2h0m0-.4h0m.2 .7h0m.2-.8h0m.2 .4h0m.3-.4h0m.1-.1h0m0 .3h0m.1 .1h0m.2-.3h0m.4 0h0m.6 0h0m.1 .3h0m.3-.3h0m.8 .1h0m46.7 .5h0m.1-.4h0m0 .1h0m0-.1h0m.1 .5h0m.5-.5h0m0 .6h0m.1 .1h0m.1-.4h0m0 .2h0m.1-.1h0m0-.2h0m.3 .4h0m0-.9h0m0 .8h0m.2-.4h0m.1 .3h0m0-.4h0m0 .2h0m.5 .1h0m.1-.4h0m.1 .2h0m.3-.3h0m.2 0h0m.2 .2h0m.3 .5h0m.2-.2h0m.1 .2h0m.1-.5h0m0-.3h0m.3 .9h0m.3-.6h0m.2-.2h0m.4 .7h0m.7-.1h0m.1 0h0m.1-.3h0m.7 0h0m.2 .1h0m0 .5h0m.1-.5h0m.2-.3h0m.1-.1h0m-76.3 1.5h0m.6-.6h0m.6 .4h0m.2 .4h0m.4-.3h0m1 .4h0m.4-.7h0m.4 0h0m.5 .6h0m.4-.3h0m.3-.3h0m0 .5h0m0 .2h0m.6-.8h0m0 .1h0m.4 0h0m.5 .1h0m.1-.1h0m.3-.1h0m.1 .5h0m.2-.6h0m.1 .7h0m.6-.3h0m.3 0h0m.1 .5h0m.3-.6h0m.1 .5h0m.1-.6h0m.5 .1h0m.1 .2h0m.7-.1h0m.1 .5h0m.2-.8h0m.1 .8h0m0-.2h0m.2-.2h0m.1 .4h0m.1-.5h0m.4 .2h0m.2 .3h0m.1 0h0m.6-.3h0m0 .1h0m0-.5h0m.7 .5h0m.2-.6h0m.2 .6h0m0 0h0m.3-.1h0m.3-.2h0m.2-.1h0m.3 .5h0m.4-.2h0m.6 .3h0m.6-.5h0m0 .5h0m0-.9h0m.1 1h0m.3-.1h0m.1-.2h0m.3-.1h0m.2-.5h0m.6 .2h0m0 .1h0m0 .1h0m.5-.5h0m.9 .2h0m49.5 .7h0m.8-.8h0m.2 0h0m.1 .6h0m.3-.6h0m.1 .9h0m0-.6h0m0 .2h0m.5 .2h0m0-.4h0m.1 .6h0m.3-.5h0m.3 .1h0m.2 .1h0m.1-.5h0m.5-.1h0m.1 .7h0m.1-.5h0m.3-.2h0m.1 .9h0m.1-.6h0m.1 .1h0m.1-.4h0m.1 .8h0m.8-.1h0m0-.1h0m1.2-.2h0m.2 .4h0m.3-.7h0m.3 .6h0m0 .2h0m.7-1h0m-76.6 1.9h0m.8-.6h0m.3 .2h0m.3 0h0m1.3 .2h0m.4-.1h0m.1-.3h0m.1 .4h0m.3 .1h0m.1-.4h0m.1 .3h0m.1-.5h0m.1 .4h0m.3-.1h0m0-.1h0m.5 .2h0m.1-.2h0m.2-.3h0m.2 .7h0m.1-.7h0m.3 .6h0m.1-.4h0m.1 0h0m.4 0h0m0 .3h0m0 .2h0m.2-.7h0m.3 .1h0m0 .7h0m.6-.4h0m.5-.3h0m.3 0h0m.1-.2h0m0 0h0m.3 .9h0m.1 0h0m.2-.3h0m.3-.3h0m.1-.2h0m.4 .2h0m.2 .5h0m.1-.1h0m.1-.6h0m.1 .1h0m0 .5h0m.2-.3h0m.1-.3h0m.4 .8h0m.3 .1h0m0-.7h0m.3 .3h0m0 .3h0m.1-.2h0m.1-.2h0m.1-.4h0m0 .2h0m.5 .5h0m.2-.5h0m.7-.2h0m0 .9h0m.2-.5h0m0-.1h0m.1 .5h0m.1-.8h0m0 .1h0m.2 .8h0m.2-.5h0m0 .5h0m.1-.4h0m0-.4h0m.7 0h0m0-.1h0m0 .1h0m.1 .5h0m.3-.6h0m.2 .2h0m.1 .1h0m.7 0h0m.9-.4h0m51.2 .9h0m.4-.1h0m.4-.7h0m.1-.1h0m.1 .2h0m.3 0h0m.1 .4h0m0-.1h0m.1 .4h0m.1-.4h0m.4-.2h0m.8 .4h0m.2 .1h0m.1-.4h0m.6 .4h0m0 0h0m.1-.6h0m.1 0h0m.1 .1h0m.3 .3h0m.2-.1h0m.2-.1h0m0 .4h0m.2-.7h0m0 .4h0m.1-.2h0m.2 .1h0m.2 .1h0m.2 .2h0m.4-.6h0m.1 .9h0m.2-.5h0m.8 0h0m.1-.5h0m0 1h0m.2-.5h0m.5 .2h0m.5 .2h0m-80.7 .8h0m2.2 0h0m.5-.4h0m.4 .1h0m.8-.1h0m.8-.2h0m.5 .2h0m.4 .4h0m.9-.1h0m.2-.1h0m.2 .1h0m.2-.1h0m.1 .5h0m0-.5h0m.1 0h0m.6 .5h0m.2-.2h0m.1-.6h0m.1 .8h0m0-.9h0m.3 .4h0m.3 .1h0m.1 .2h0m.4-.3h0m.1-.4h0m.3 .1h0m.1 .6h0m.2 .2h0m.4-.8h0m0 .8h0m.2-.4h0m0 .2h0m.2-.5h0m.2-.2h0m.2 .3h0m.3 .4h0m.2-.6h0m.2 .1h0m.3 .1h0m.2-.3h0m.1 .1h0m0 .1h0m.1 .5h0m.1-.6h0m.1 .1h0m.1 .4h0m.2-.3h0m.1 .2h0m0 .2h0m.1 0h0m.1-.6h0m.2-.1h0m0 .7h0m.1 .2h0m.2-.4h0m0 .3h0m.1-.8h0m0 .4h0m0-.1h0m.1-.4h0m.2 .7h0m0-.5h0m.4 .1h0m.4 .4h0m0-.1h0m.1-.3h0m.5 .3h0m.2-.1h0m0 .3h0m0-.2h0m.1-.4h0m.1 0h0m0 .1h0m.1 .3h0m.3 .3h0m.1-.6h0m.1 .3h0m.6-.5h0m54.6 .7h0m.1 .2h0m.1-.8h0m.2 .1h0m.4 .5h0m.6-.1h0m.5 .3h0m0 0h0m0-.3h0m.2-.6h0m0 .9h0m.2-.7h0m0-.3h0m.1 .4h0m.2 .5h0m.6-.4h0m.1 .1h0m.1-.1h0m.1 .2h0m.4-.4h0m.2 .3h0m.1 .3h0m.2-.6h0m.1 .6h0m.1-.5h0m.3 .5h0m.1-.1h0m.1 .1h0m.1-.5h0m0 .6h0m.7-.7h0m1-.2h0m.3-.1h0m.1 .3h0m0-.2h0m1.1 .1h0m-79.5 1.4h0m2.1-.1h0m.6-.3h0m.9-.2h0m.1 1h0m.7-1h0m.1 .4h0m.2 .5h0m0-.5h0m.1 .4h0m.1-.2h0m.1-.5h0m.1 .7h0m.2-.2h0m.2 .1h0m.1-.6h0m.5 0h0m.1-.1h0m.3 .6h0m.3 .1h0m.6-.1h0m.5 .3h0m0-.8h0m.4 .1h0m.1-.1h0m.1 .3h0m.5 .1h0m.1 .4h0m0 .1h0m.3-.9h0m0 .4h0m.2 .2h0m0 0h0m.1 .3h0m.2-.4h0m0-.4h0m.2-.2h0m.1 .4h0m0-.2h0m.1-.2h0m.3 .4h0m.1 .1h0m0 .3h0m.1-.4h0m.1-.3h0m.1-.1h0m0 .3h0m.1 .6h0m0-.7h0m.2 .5h0m.6-.4h0m.1 .3h0m.1-.2h0m.1-.1h0m.3 .7h0m.2-.4h0m.4 0h0m.1-.1h0m.1-.4h0m.1 .8h0m0-.9h0m1 .3h0m.5-.2h0m54.2 .9h0m.5-.3h0m.1 .1h0m0-.2h0m.1 .2h0m.2-.7h0m.3 0h0m.2 .3h0m.1-.4h0m.2 .8h0m.3-.4h0m.1 .6h0m0-.4h0m.1-.4h0m.1 .4h0m0-.5h0m.1 .8h0m0-.8h0m.1 .1h0m.4 .6h0m.1-.5h0m.2 .5h0m0-.6h0m.3 .6h0m0-.2h0m.1-.4h0m.1-.1h0m.2 .5h0m0-.4h0m.2 0h0m0 .2h0m.3-.4h0m0 .1h0m.1 .2h0m.4 0h0m.1-.1h0m.1 .1h0m0 0h0m0 .2h0m.1 0h0m1.1-.1h0m0-.4h0m.2 1h0m0-1h0m.1 .2h0m.8 .2h0m.6 .3h0m1.1 .2h0m.4 0h0m.2 0h0m.4-.3h0m.4 0h0m.1 0h0m-81.7 .5h0m1.6 .7h0m.6-.6h0m.2 .5h0m.3 .3h0m.6-.7h0m.2 0h0m.9 .4h0m1.2-.1h0m0 .1h0m.4-.2h0m.2 .3h0m.1-.3h0m.1 .3h0m.3-.4h0m.4 .2h0m.5-.4h0m0 .7h0m.1-.7h0m.1 .1h0m.1 .6h0m.2-.5h0m.1 .1h0m.3 .3h0m.1-.1h0m.1 .2h0m.3 0h0m0-.8h0m.1 .6h0m.1-.1h0m.4 .3h0m1-.6h0m.2 .6h0m.2 .1h0m.1-.2h0m.2 .1h0m.1-.6h0m.3 0h0m.1 0h0m.3-.2h0m.2-.1h0m0 .7h0m.2-.7h0m0 .7h0m0 0h0m.1 .1h0m.1-.7h0m0 .8h0m0-.1h0m.3-.2h0m.4 0h0m0-.6h0m.1 .2h0m.3 .1h0m.1-.2h0m.2 .8h0m0-.9h0m.2 .6h0m.2-.3h0m.1 0h0m.5-.1h0m.2 0h0m53.9 .7h0m1 0h0m.3-.3h0m.1 .4h0m.1-.2h0m0 .2h0m.5-.4h0m.3 0h0m.1-.3h0m.1 0h0m.2 0h0m.4 .1h0m0 .5h0m.1-.2h0m0-.1h0m.1-.4h0m0 .7h0m.1-.2h0m0 .2h0m.1-.5h0m.4 .4h0m.3-.7h0m.1 .3h0m0-.1h0m0 .2h0m.1 .4h0m.4-.2h0m.1 .1h0m.5-.7h0m0 .4h0m.1 .4h0m.1-.7h0m0 .5h0m.1-.4h0m.2-.1h0m.4 .2h0m.1-.2h0m.4 .8h0m.2-.4h0m.3-.1h0m.6 0h0m.1 .2h0m.3-.4h0m.8 .2h0m0-.2h0m.1-.1h0m0 .7h0m.2 .1h0m.6-.3h0m.2-.1h0m.3 .3h0m.6-.7h0m.7 .1h0m.5 .1h0m-82 1.5h0m.5-.3h0m.3-.2h0m.2-.4h0m.8 .1h0m.6 .1h0m.2 .2h0m.4-.2h0m.4 .7h0m.3 .1h0m.5-.6h0m.2-.2h0m.2 .3h0m.1 0h0m0 .2h0m.3 0h0m0-.2h0m.7-.4h0m.2 .8h0m0-.3h0m.2-.5h0m0 .3h0m.2 .1h0m.1-.2h0m.3 .5h0m.2-.2h0m.1-.6h0m0 .6h0m.2-.1h0m.4 .3h0m.1-.2h0m.4 0h0m.2 0h0m.2 .3h0m0-.8h0m.4 .1h0m0-.1h0m.1 0h0m.1 .6h0m.1 0h0m.1 .1h0m.1-.1h0m.1 0h0m.3 0h0m0-.1h0m.1-.2h0m0 .2h0m.1 .4h0m0-.9h0m0 .7h0m.2-.2h0m.3 .3h0m.2-.7h0m.1 .3h0m.2 .5h0m.3-.3h0m.1-.4h0m0 .2h0m.1 .3h0m0-.3h0m.2 .1h0m0-.6h0m.2 .7h0m0-.3h0m.2 .5h0m.1-.5h0m0 .3h0m.2-.4h0m.1-.1h0m.2 .4h0m.1-.2h0m0 .5h0m.1-.6h0m.2 0h0m0-.1h0m.1 0h0m.2 .1h0m55.9 .6h0m.1 .1h0m.2-.7h0m.1 0h0m.3 .5h0m0 .1h0m.1-.2h0m.1-.7h0m0 .6h0m.1 .1h0m.1 .3h0m0-.9h0m0 .4h0m.1 .1h0m.2-.1h0m.2-.2h0m0 .1h0m.2 .4h0m.3-.1h0m.1 .1h0m0-.3h0m.1 .1h0m.4-.3h0m0 0h0m.1 .6h0m.1-.5h0m.1 .2h0m0-.1h0m.1 .4h0m.1-.2h0m.2-.6h0m0 .3h0m.2 .3h0m1.2 .2h0m.1 .1h0m.1-.1h0m.1-.1h0m.1-.3h0m.1-.5h0m.2 .8h0m0 .2h0m.1 0h0m.2-.2h0m0-.4h0m0-.1h0m.1-.2h0m.2 .3h0m.2 .4h0m0-.1h0m.2 0h0m1.9-.3h0m.2-.2h0m.4 .1h0m.2 .1h0m.1 .4h0m1.1-.4h0m.3-.3h0m.5 .9h0m-78.3 .2h0m.1-.1h0m.3 .7h0m.1-.7h0m.5 .1h0m0 .5h0m.2 0h0m.1-.1h0m.2 .4h0m.1-.7h0m.2 .3h0m.1-.5h0m.1 .1h0m.2 .3h0m0 0h0m.4 .1h0m.3 .4h0m.2-.3h0m.3 .2h0m0-.3h0m.1-.6h0m1.1 .6h0m.3-.4h0m.1 .7h0m.2-.4h0m.3 .2h0m0-.3h0m.3 .6h0m.3-.6h0m.1 .2h0m.3 .4h0m0-.9h0m.1 .6h0m.1 .3h0m.1-.4h0m.4-.5h0m.2 .7h0m.3-.7h0m0 .3h0m.3-.2h0m.2 .1h0m.2-.2h0m.2 .1h0m0 .1h0m.3 .1h0m.2 .5h0m.6-.3h0m0-.1h0m.2-.3h0m0-.1h0m.1 .2h0m54.8-.1h0m0 .3h0m.1 .1h0m.4 .3h0m.3-.1h0m.1-.4h0m0 .4h0m.1 0h0m.1 0h0m.7-.4h0m.1 .1h0m.1 .3h0m.3 0h0m0-.3h0m.1 .4h0m0-.4h0m0 .1h0m.2 0h0m.1-.4h0m.4 .2h0m.1-.1h0m.3-.2h0m.1 .5h0m.1-.6h0m.1 .7h0m.1-.4h0m.2-.3h0m.2 .3h0m.2-.3h0m.6 .9h0m0-.4h0m.1-.1h0m0-.4h0m.2 .3h0m.3-.2h0m.2 .4h0m.1 .1h0m.2-.6h0m.3 .2h0m.2-.2h0m.1 .3h0m.2 .1h0m0 .2h0m.2-.5h0m.4 .5h0m0-.2h0m.9-.4h0m0 .4h0m.2 .4h0m.4-.2h0m.4 .1h0m.9 .2h0m.3-.6h0m-76.4 1.1h0m.1 .1h0m.9 .4h0m.6-.1h0m.2 .1h0m.7-.2h0m0-.7h0m.2 .9h0m.1-.9h0m.9 .7h0m.1-.1h0m.2-.3h0m.1 .5h0m.2-.5h0m.5-.1h0m.3 .4h0m.1 .4h0m.1-.5h0m.1-.4h0m.2 .9h0m.5-.4h0m.5 .2h0m.1-.3h0m.2 .3h0m.4-.5h0m0 .2h0m.1 .5h0m.4-.8h0m0 .6h0m.2-.8h0m.1 .3h0m.2 .4h0m.5-.6h0m0 .4h0m1-.4h0m.4 .1h0m0 .4h0m0 .2h0m.1-.5h0m52.7 .6h0m.6 0h0m.3-.3h0m0 .2h0m.3 0h0m.4-.6h0m.2 .3h0m.1 .5h0m.3-.3h0m0-.5h0m.2 .2h0m.3 .3h0m0 .1h0m.5-.7h0m.1 .7h0m.1-.5h0m.3-.3h0m0 .1h0m.2 .7h0m.1-.5h0m.2 .4h0m.4 .3h0m0-.3h0m.1 0h0m0-.4h0m.1-.2h0m0 .5h0m.1 .2h0m.2-.6h0m.4 .1h0m.2 .1h0m0 .4h0m.2-.7h0m.7 .6h0m.2-.3h0m.3-.1h0m.2 .2h0m0-.3h0m.1 .7h0m.3-.5h0m.1-.1h0m.1-.2h0m0 0h0m0 .2h0m.1 .3h0m.1-.4h0m.1 0h0m0 0h0m0 .4h0m.4 .1h0m.8-.6h0m.5 .8h0m.5-.2h0m.1 0h0m.5-.3h0m.2 0h0m.6-.2h0m.5 .6h0m.3 0h0m1 0h0m.7-.7h0m-79.1 1.3h0m1.3 0h0m0 .4h0m.6-.1h0m.4-.4h0m.6 .4h0m.4-.4h0m.4 .4h0m.8 .3h0m.6-.9h0m.1 .9h0m.1-.9h0m.7 .3h0m.4 .5h0m.3-.4h0m.1 .4h0m.7-.3h0m.1 0h0m.1-.3h0m0 .3h0m.1-.1h0m.1 .3h0m.2-.1h0m.1-.5h0m.3 .4h0m0 .3h0m.3-.3h0m.1-.5h0m.2 .4h0m0-.5h0m0 .1h0m.1 .8h0m.4-.1h0m.1-.2h0m.2-.6h0m.5 .4h0m.1-.4h0m0 .4h0m.2 .1h0m.1-.4h0m.1 .7h0m.2 .2h0m.2 0h0m.4-.1h0m0-.8h0m.2-.1h0m49 .9h0m1.5-.1h0m.1 .1h0m0-.2h0m.1 .2h0m1.2-.6h0m.5 .6h0m0-.8h0m.1 .3h0m.3-.2h0m.5 .6h0m.5 0h0m0-.5h0m.3-.2h0m.3 .1h0m.1 .4h0m.1-.5h0m0 .8h0m.1-.1h0m.2 .1h0m.2-.8h0m.3 .4h0m.2-.1h0m.1-.2h0m.1-.1h0m.2-.1h0m.1 .6h0m.1-.4h0m.3 .6h0m0 0h0m0-.1h0m.1-.1h0m0 .3h0m.3-.9h0m.1 .5h0m.1 .5h0m.1-.2h0m.2-.2h0m.2 .2h0m.2-.2h0m.2 0h0m.3 0h0m.1-.2h0m.1-.4h0m0 .3h0m.3-.2h0m.3 .5h0m0-.4h0m.1 .6h0m.2 0h0m.1 0h0m.1 0h0m.5-.7h0m.3 .7h0m.1-.4h0m.1 .2h0m.3-.1h0m.1 .4h0m.1-.6h0m.6-.1h0m0 .5h0m.4-.5h0m.7-.1h0m.1 .6h0m.9 0h0m1-.5h0m1.1 .4h0m.2-.3h0m.4 .1h0m-78.3 1.2h0m.6 .3h0m.2 .1h0m1.1-.3h0m.1 .3h0m.3-1h0m.3 .3h0m.5-.3h0m.1 .3h0m0 .2h0m.2-.4h0m.1 0h0m.1 .6h0m.1-.5h0m0 .8h0m0-.8h0m1.2 .2h0m.3-.1h0m.2-.3h0m.2 .2h0m.4 .3h0m.2 .5h0m0-.5h0m.5 .3h0m.2 0h0m.3-.6h0m0-.2h0m.3 .1h0m.2 .2h0m0 .5h0m.1-.3h0m.2 .3h0m.5-.7h0m.4-.1h0m.1 .2h0m.5 .7h0m.3 0h0m.3-.4h0m.1-.1h0m0 0h0m.1 .2h0m.1 .4h0m.2-.1h0m.3-.7h0m0 .3h0m.2 0h0m.1-.1h0m.1 .4h0m0-.1h0m0-.4h0m.1 .3h0m.1-.1h0m0-.3h0m.1 .5h0m0 .1h0m5.8 0h0m7.9 .1h0m1.2 0h0m.2-.2h0m1.5 0h0m2.9-.1h0m1.4 .2h0m3.2 0h0m9.9 .1h0m10.7-.3h0m2.2 .3h0m.5 0h0m.2-.2h0m0 0h0m.3 .1h0m0-.2h0m.1 .3h0m.2-.1h0m.3-.3h0m.1 .1h0m.1 .1h0m.1 .2h0m.3-.5h0m0 .5h0m.4-.5h0m.2 0h0m.2 .5h0m.6-.1h0m.1 0h0m.3 .1h0m.7-.5h0m0-.2h0m.3 0h0m.2-.1h0m.3-.1h0m.2 .3h0m.3 .1h0m.3 0h0m.7 .3h0m.3-.3h0m.5 .2h0m.8 .4h0m.1-.9h0m0 .3h0m.1-.1h0m.1 .1h0m.6-.4h0m.2 .6h0m0 .1h0m0-.7h0m.5 .5h0m0 .5h0m0-.9h0m.7-.1h0m.2 .8h0m.9-.1h0m.2-.6h0m.2 .7h0m.3-.8h0m.2 .7h0m.1 0h0m1-.2h0m.1 0h0m.6-.3h0m.9 .3h0m.4-.3h0m.3 .4h0m.8-.1h0m.6-.2h0m-76.2 1h0m.2-.1h0m1 .7h0m0 0h0m.2-.4h0m.1-.2h0m0 0h0m.9-.3h0m.6 .7h0m0 0h0m0-.5h0m.5 0h0m0 .6h0m.1 .1h0m.2 .1h0m.4-.6h0m.4 .1h0m.2-.2h0m.1 .4h0m.2-.4h0m0 .1h0m.1 .3h0m.1 0h0m0-.4h0m0 .2h0m.1-.2h0m0 .7h0m.1-.8h0m.1 .6h0m.3-.4h0m.1-.2h0m.1 0h0m.3 .3h0m.2 .5h0m.1-.6h0m0-.2h0m.1 0h0m.4 .4h0m.1-.3h0m.1 .4h0m.2-.1h0m.3 0h0m.4 .3h0m.1-.7h0m.1 0h0m0 0h0m.3 .7h0m.1-.1h0m.3-.5h0m.1 .4h0m.1-.6h0m.6 .9h0m.4-.1h0m.2-.5h0m.2-.3h0m.2 .5h0m.2-.5h0m.2 .4h0m.1-.1h0m.1-.2h0m.2 .6h0m.2-.3h0m2.3-.3h0m.7 .2h0m1.5 .2h0m.2 0h0m2.3-.2h0m.2 .1h0m.4 .2h0m.2-.6h0m2.1-.1h0m.8 .2h0m4.6 .3h0m.7 .1h0m.2 .2h0m.5-.5h0m2.7-.2h0m3.4 .3h0m8.4-.1h0m.4 .2h0m11.3-.3h0m.1 .7h0m.3-.4h0m.9 .4h0m.1-.3h0m.6 0h0m.2 .2h0m.6-.6h0m0 .7h0m.4-.6h0m1.1-.2h0m.1 .5h0m.1-.3h0m.1 .2h0m.1-.1h0m0-.3h0m.1 0h0m.3 .7h0m.1-.3h0m0-.4h0m.2 .5h0m.4-.5h0m.1 .2h0m.1 .1h0m.2-.1h0m.4 .1h0m.4 .4h0m.1-.5h0m.3-.2h0m0 .3h0m.2 .5h0m.1-.4h0m.6-.5h0m.1 .3h0m.1 .1h0m.1 .2h0m0-.2h0m.3 .5h0m.2-.1h0m.3 0h0m.2-.7h0m.1 0h0m0 .8h0m.3-.5h0m.2 .4h0m.4-.2h0m.1-.4h0m.5 .3h0m1 .5h0m.1-.9h0m.2 .6h0m.1-.2h0m.2 .3h0m.2 .1h0m0-.8h0m.2 .2h0m.2-.2h0m.6 .3h0m1.1-.3h0m.7 .5h0m.3-.4h0m.1 .4h0m.9-.3h0m.1 .6h0m0-.4h0m.1-.4h0m.1 .2h0m.1 0h0m1 .4h0m1.2-.5h0m.1 .1h0m-74.6 1.1h0m1.3 .5h0m.3-.5h0m0 0h0m.7-.3h0m.2 .3h0m.2 .6h0m.7-.7h0m1.2-.2h0m.6 .7h0m.3-.5h0m.1-.1h0m0 0h0m.6 .1h0m.6 .3h0m.5 .2h0m.1-.6h0m.1 .2h0m.1 .3h0m0-.1h0m.4-.3h0m.2 .4h0m.2-.7h0m.1 .1h0m0 .5h0m.1 .3h0m.1-.8h0m0 .7h0m.2-.3h0m.3-.2h0m.1 .3h0m.1 .1h0m0-.6h0m.1 .8h0m.1-.8h0m0 .9h0m.2-.4h0m.1-.5h0m.4 .8h0m.1-.2h0m.1-.3h0m.4 .2h0m.4-.2h0m0-.3h0m.1 .4h0m.2-.3h0m.1 .8h0m0-.2h0m.1-.1h0m0 .2h0m.5 .1h0m.1-.7h0m.1 .2h0m.2 0h0m.4 .3h0m.4-.8h0m.1 .5h0m.7 .3h0m.7 .2h0m1.1-.7h0m.2 .2h0m.5 .4h0m1.9-.3h0m.2-.2h0m.8-.4h0m1.5 .2h0m6.1-.1h0m1.2 .7h0m7.6-.2h0m3.2-.5h0m.5 .3h0m.7-.3h0m1 0h0m1.7 .2h0m5.5-.1h0m2.5 .8h0m.5-.9h0m.2 .9h0m1.2-.3h0m0 .2h0m.1-.2h0m.4-.1h0m.4 .1h0m0-.2h0m.5-.5h0m.2 .8h0m.3-.2h0m.4 0h0m.2-.4h0m0 .2h0m.4 .1h0m0-.3h0m.2 .4h0m.2-.1h0m.2-.3h0m.4-.1h0m0 .4h0m.5-.1h0m.1 .1h0m.5 .2h0m.4-.6h0m.2 0h0m.6 .8h0m.4-.8h0m.4-.1h0m0 .7h0m1.3-.6h0m.4 .4h0m.1 .4h0m0-.5h0m.3 .5h0m.5 0h0m.2-.3h0m.2-.4h0m0 .7h0m.1-.6h0m.1 .2h0m.1 0h0m.4-.4h0m0 .6h0m.4-.6h0m.1 .5h0m0-.4h0m.8 .3h0m.8 0h0m.4-.2h0m.1-.1h0m.2 .7h0m.3-.2h0m.3 .1h0m.6-.2h0m.1 0h0m.2-.4h0m.2 .4h0m.2-.2h0m.7 .5h0m.7-.6h0m.3 .5h0m.1 0h0m0-.2h0m1-.2h0m.2 .3h0m1 .1h0m.3-.3h0m0-.2h0m.8 0h0m6.1 .7h0m-78.4 .4h0m.4 .4h0m0-.1h0m.1 0h0m.1-.4h0m.5 .6h0m.4-.1h0m.6-.7h0m.1 0h0m.1 .7h0m.9-.3h0m.1-.3h0m.4 .7h0m0-.3h0m.1-.2h0m.1 .3h0m.2-.6h0m0 .6h0m.2-.2h0m1-.1h0m.7 .4h0m.1-.2h0m0-.5h0m.2 .5h0m.2 .1h0m.1 0h0m.2 .1h0m.1 0h0m0-.2h0m.1 .4h0m0-.3h0m0-.2h0m0-.3h0m.2 .8h0m.1-.6h0m.1-.1h0m.1-.1h0m.1 .4h0m.2 .4h0m.1-.5h0m0-.2h0m.1-.2h0m.7 .3h0m.1-.4h0m.1 .3h0m.1 .1h0m.1 .5h0m.8-.7h0m.1 .4h0m.1-.1h0m0 .3h0m.1-.3h0m.3 .2h0m0-.2h0m.3 .4h0m.2-.5h0m.1 .5h0m0-.4h0m.1-.1h0m.3 .5h0m0-.2h0m.1-.2h0m0 .2h0m.1-.1h0m.1 .3h0m.1-.8h0m.1 .3h0m.1 .1h0m.3 .3h0m0-.1h0m0-.2h0m.2-.1h0m0 .5h0m.1-.4h0m.1 .1h0m0 .4h0m.3-.1h0m.3-.3h0m.1 .1h0m.1-.2h0m0 .1h0m.3 .4h0m.1-.3h0m.1 .3h0m.1-.1h0m.4 0h0m.2 .1h0m4.2-.5h0m1.1-.1h0m.7-.1h0m4.2 .2h0m3.3-.1h0m.3 0h0m3.2 .2h0m.6 .2h0m2.1-.2h0m.1-.3h0m2.4 .3h0m1.7 .1h0m.1-.2h0m2.8 .3h0m.2-.2h0m.8 0h0m2.4-.2h0m.4 .5h0m.4-.2h0m.8-.2h0m.6-.4h0m.2 .4h0m.4 .1h0m.7-.1h0m.1-.3h0m.2 .7h0m0-.9h0m.1 .2h0m.1 .3h0m0-.3h0m0 .3h0m.1 .1h0m.1 .3h0m0-.4h0m0 .2h0m.2-.7h0m.2 .5h0m.2 .4h0m.1-.9h0m.1 .2h0m.1 .8h0m.5-.6h0m.1 .1h0m.2 .1h0m.1 0h0m.2 .1h0m.9-.6h0m0 .2h0m.1 .3h0m.5 .1h0m0-.4h0m.2 .3h0m.5 .2h0m0-.4h0m.5 .6h0m0-.5h0m0-.4h0m.4 .6h0m.1 0h0m.5 0h0m.2-.4h0m.3 .1h0m.2 .1h0m.2 0h0m.1 .5h0m.1-1h0m0 .4h0m.5-.1h0m.1 .1h0m.1-.3h0m.1 .7h0m.2 0h0m.1 0h0m.1-.3h0m.2-.4h0m1.2 .5h0m.2 .3h0m0-.7h0m.8 .3h0m.2 .4h0m1.8-.3h0m0-.5h0m.9 .7h0m.1-.1h0m.3-.4h0m.2 .4h0m0-.3h0m.2 .1h0m.2-.3h0m1.2 .5h0m.7-.7h0m.3 .4h0m.1 .5h0m.2-.3h0m.6-.1h0m.3 .1h0m0 0h0m1.8-.5h0m.4 .7h0m.7-.5h0m.6 .4h0m-70.8 .7h0m1 .2h0m.2 0h0m.6-.5h0m.6 .2h0m0-.2h0m.1 .8h0m.2 .1h0m.3-.9h0m.9 .6h0m.1-.6h0m.6 .3h0m1 .4h0m0-.4h0m.1 .1h0m.2-.3h0m.2 .3h0m0 .3h0m1.2-.2h0m.1-.1h0m.3-.4h0m.1 0h0m.2 .8h0m0-.2h0m0-.2h0m.2 .3h0m0 .1h0m.6-.2h0m0-.2h0m.1 .1h0m.1 .3h0m0-.1h0m0-.8h0m.1 .4h0m0 0h0m.1 .4h0m.3 .1h0m.4-.4h0m.2-.1h0m.1 .3h0m.1 .3h0m.1-.3h0m.1-.6h0m0 .3h0m.1 .2h0m.3 0h0m.1-.2h0m.2-.1h0m.9 .4h0m.1-.3h0m.3-.3h0m0 .2h0m.2 .2h0m.2-.1h0m.3 0h0m.2 .5h0m0-.8h0m.1 .7h0m0-.6h0m0 .3h0m.1-.1h0m.2 .5h0m.1-.8h0m.1 .1h0m0-.2h0m.1 .4h0m.1-.1h0m.1-.1h0m.2 .5h0m.1-.3h0m.1 .1h0m0-.5h0m.2 .3h0m.1-.1h0m.4 0h0m.1 .8h0m.2-.3h0m.1-.5h0m.2 .1h0m.1 0h0m.1 0h0m.2 .1h0m.2-.1h0m.2 .7h0m0-.4h0m.1-.5h0m.3 .8h0m0-.3h0m.1 .2h0m.2-.5h0m.1 .6h0m.1 .1h0m0-.2h0m.1-.2h0m.4-.1h0m.5 .1h0m.2-.4h0m1-.2h0m5.1 .1h0m1.9 .4h0m5.5 .3h0m.3 .2h0m2.8-.3h0m.2 .2h0m1.3-.2h0m1.3 .1h0m.3 0h0m.7-.7h0m.5 .8h0m.1 .1h0m.5-.1h0m0-.4h0m.1 .2h0m.1-.2h0m.8 .3h0m.1 0h0m0-.2h0m.1 0h0m1.1-.1h0m.1 .5h0m.2-.2h0m.6-.1h0m.2 .1h0m.1 .1h0m.1-.4h0m.2 .2h0m.1-.2h0m.2-.4h0m.2 .6h0m.3-.2h0m.1 0h0m.1 .3h0m.1-.2h0m.2-.1h0m.1 0h0m.2-.1h0m.1-.2h0m.2 .5h0m.4-.1h0m.1 .4h0m.1-.8h0m.5-.1h0m.3 .4h0m1.1 .2h0m.1-.5h0m0 .7h0m.3-.6h0m.1 .1h0m0-.3h0m.1 .4h0m.4 .2h0m.5-.5h0m.6 .3h0m.2 .5h0m.3-.1h0m0-.3h0m.2-.3h0m.5-.1h0m.4 0h0m.3 .3h0m.1 .3h0m.3-.6h0m0 .5h0m.2-.3h0m.2 .4h0m.5-.3h0m.2 .3h0m.3-.5h0m.1 .3h0m.2 .4h0m.3-.2h0m.1-.2h0m.1 .3h0m.3-.3h0m.5-.4h0m0 .3h0m.1-.3h0m.1 .1h0m.3-.1h0m.2 .1h0m.2 .3h0m.7-.4h0m.1 .6h0m.5-.3h0m.3-.3h0m.3 .2h0m.1 .1h0m0 0h0m.3 0h0m.1-.4h0m.6 .3h0m.1-.2h0m.1 .2h0m.5 .5h0m.1-.5h0m.3-.3h0m.3 .6h0m.4-.2h0m.1 .2h0m.1 .1h0m.2 .1h0m.6-.3h0m1.4-.6h0m1.9 .4h0m.3 .1h0m-64.6 1.3h0m.3 .1h0m.6-.2h0m.2-.3h0m.1 .3h0m.2-.6h0m.1 0h0m1 .4h0m.4-.2h0m.3 .3h0m0 .3h0m.2-.6h0m.2 .1h0m.4 0h0m.3 .5h0m.6-.5h0m.4 0h0m0 .4h0m.5 0h0m.2-.3h0m.1 .3h0m.1-.3h0m.1 .1h0m.6 .3h0m.1-.9h0m.4 .3h0m.7 .6h0m0-.2h0m.2-.3h0m.2 .2h0m.1-.4h0m.3 .6h0m.2-.8h0m0 .1h0m.2 .7h0m.2-.1h0m.2 .1h0m.1-.6h0m0 .3h0m.1 .1h0m0-.6h0m0 .1h0m.1 .3h0m.2 .3h0m.2-.4h0m.3 .1h0m.1 .5h0m.1-.2h0m.3 .1h0m.3-.6h0m.1-.1h0m.1 .7h0m.7-.4h0m.1-.3h0m0 .8h0m.1 0h0m0 0h0m.2 .1h0m.1-.7h0m0 .7h0m.3-.2h0m.4-.8h0m.1 .3h0m.1-.1h0m0-.1h0m.1 .7h0m0 .1h0m.1 0h0m.1-.7h0m.1 .8h0m.5-.3h0m.1 .3h0m.2-.1h0m.2-.1h0m.2-.7h0m.1 .4h0m.1-.3h0m.1 .7h0m0-.8h0m0 .2h0m.1 0h0m.2 .2h0m.4 .5h0m.2-.2h0m0-.3h0m.2-.1h0m0 .4h0m.3 .1h0m0-.4h0m.1-.1h0m.1 .2h0m.5-.5h0m.2 .4h0m0 .5h0m0-.3h0m.1-.3h0m.6 .3h0m0-.1h0m0 .1h0m.1-.2h0m.2 .1h0m.1-.2h0m.8-.1h0m.1 .3h0m.1 .3h0m.3-.6h0m.3-.2h0m.1 .2h0m.4 .3h0m0 .4h0m.2-.2h0m.1-.1h0m.2 0h0m0-.1h0m0 .4h0m.3-.7h0m.5 .6h0m.2-.5h0m.2-.1h0m.5 .5h0m.4-.1h0m.1 0h0m.7 .2h0m.4-.6h0m.3 .6h0m.1-.7h0m.5 .1h0m.4-.1h0m.5 .6h0m.1-.4h0m.5 0h0m.4 .2h0m.1-.1h0m.2-.1h0m0 0h0m.1 .4h0m.1-.3h0m.2 .1h0m.1 .1h0m.1 .1h0m.2-.2h0m.2-.2h0m.4 .3h0m.2-.4h0m0 .7h0m.2-.3h0m.8-.2h0m.4 0h0m.1-.4h0m.5 0h0m0 .4h0m.2 .2h0m0-.5h0m.1 .6h0m.3-.5h0m.2 .5h0m0-.3h0m.1 .3h0m.3 0h0m.2 0h0m.2-.4h0m.6 .5h0m.2-.8h0m.4 .2h0m.2 .1h0m0 .4h0m.5-.3h0m.4-.5h0m.3 .4h0m0 .5h0m.1-.5h0m.1 .4h0m.1 .1h0m.4-.7h0m0 .6h0m.5-.3h0m.3-.3h0m0 .7h0m.1-.7h0m.2 .5h0m.1-.6h0m.2 .2h0m.3 .6h0m.5-.6h0m.6-.2h0m0 .4h0m.4 .4h0m0-.4h0m.4-.2h0m0 .2h0m.9 0h0m.1-.2h0m.1 .2h0m.2-.3h0m.4 .2h0m0-.3h0m.2 .3h0m.6 0h0m.3 .2h0m.2-.4h0m.6 .7h0m.2-.3h0m.2 .2h0m.8-.5h0m.2 .3h0m.1-.2h0m.1 .1h0m.1-.2h0m.2 .4h0m.2-.7h0m.3 .8h0m.2-.2h0m0-.4h0m.4 .2h0m.5 .1h0m.4 .3h0m.2-.8h0m0 .8h0m.1-.7h0m.2 0h0m.3 .1h0m.1 .5h0m.2 .2h0m0 .1h0m.6-.6h0m.7 .2h0m.1-.5h0m.7 .3h0m.2 .2h0m.2-.4h0m.2 .1h0m.6 .3h0m.3 0h0m.3-.5h0m.1 .5h0m.4 .2h0m.4-.7h0m.1 .6h0m.1-.4h0m.1 .2h0m0-.3h0m.3-.2h0m.2 .2h0m.1 0h0m.3-.2h0m.3 .6h0m.5-.5h0m1.1 .3h0m1.2 .5h0m1-.7h0m.2 .5h0m.2-.1h0m.1 .3h0m1.8-.7h0m1 .2h0m.2-.3h0m.4 0h0m1.3 .5h0m.2-.5h0m0 .7h0m4.2-.4h0m-69.5 1.4h0m.2-.4h0m1.2 0h0m.7-.1h0m.5 .3h0m.5 .1h0m1.4-.2h0m.7 .5h0m.2-.2h0m.8 0h0m.6-.7h0m.4 .5h0m1.5-.4h0m.7-.1h0m0 .8h0m.2-.1h0m0-.4h0m.1-.1h0m.4-.1h0m.3-.1h0m.1 .4h0m.1-.4h0m.6 0h0m.1 .9h0m.1-.6h0m.1 .1h0m.1-.3h0m0 .5h0m.3-.3h0m.5 .4h0m0-.2h0m.1 .1h0m0-.4h0m.1-.3h0m.4 .3h0m.7 .3h0m.1-.2h0m.2 .1h0m.1-.3h0m0 .5h0m0-.3h0m.3 .3h0m.2 .1h0m.1 .1h0m.2-.7h0m.4 .5h0m0-.6h0m.3 .9h0m.1-.5h0m.2 .1h0m.2-.2h0m.2 0h0m.1 .3h0m.4 0h0m.1-.4h0m0 0h0m.1-.2h0m.1 0h0m.4 .2h0m0 .3h0m.2-.2h0m.1 .6h0m.1-.2h0m.1 0h0m.1-.6h0m.2 .3h0m.1-.4h0m.4 .5h0m.3 .2h0m.4-.6h0m.7-.1h0m.5 .6h0m.1-.6h0m.1 .9h0m1.1-.6h0m0 .2h0m.1 .3h0m0-.1h0m.1-.1h0m.3-.4h0m.3 .5h0m0-.2h0m0-.2h0m.1 .1h0m.2 .1h0m.5 0h0m.1 .1h0m.7-.5h0m.2 .8h0m0-.3h0m.1 0h0m.2-.1h0m.1-.5h0m.5 .5h0m.2-.5h0m.1 .2h0m.3-.3h0m.2 .8h0m.6-.5h0m0 .1h0m.1-.2h0m0 .6h0m.2-.3h0m.3-.4h0m.7 .7h0m.3-.8h0m.1 .7h0m0-.4h0m.1 .7h0m.2-.3h0m0-.7h0m0 .3h0m.2 .2h0m.5-.4h0m0-.1h0m.1 .6h0m.1 .3h0m.2 0h0m0-.8h0m.2 .3h0m.3-.2h0m.4 .7h0m0-.8h0m.4 0h0m0 .5h0m.4-.4h0m.1 .4h0m.2-.4h0m.3-.1h0m.4-.1h0m0 .3h0m0 .2h0m.5 .1h0m.1-.3h0m0 0h0m.1 .5h0m0-.7h0m0 .2h0m0 .1h0m.2-.1h0m.1 .5h0m.3-.6h0m.5-.2h0m.2 .8h0m0 .1h0m.2-.7h0m.3 .5h0m.1-.6h0m.9 .8h0m.1-.6h0m.3-.1h0m.3 .7h0m.6 0h0m.1-.9h0m.4 1h0m1.4-.3h0m.4 .1h0m.1-.6h0m.1 .4h0m.3-.1h0m.1-.2h0m.3-.2h0m.1 .7h0m.2-.6h0m.1 .5h0m.7-.6h0m.6 .3h0m.1 .1h0m.1 .3h0m.2-.2h0m.2-.3h0m.2-.1h0m0 .2h0m.3 .3h0m.1-.7h0m.1 .9h0m.1-.2h0m.1-.5h0m0 .6h0m.3-.2h0m.1 .1h0m.4 .2h0m.6-.8h0m0 .8h0m.5-.2h0m.1-.2h0m.2 .1h0m.2 .3h0m.7-.6h0m.6 .7h0m.2-.3h0m.4 0h0m.7-.2h0m.1 .4h0m.3 .1h0m.4-.1h0m.1-.8h0m.3 .4h0m.2 .2h0m.1-.2h0m.2 0h0m.3-.5h0m0 1h0m1.2-.1h0m.1-.3h0m0 .2h0m.5-.8h0m.1 .7h0m.2 0h0m0 .3h0m.1-.4h0m.3 .1h0m.5-.6h0m0 .4h0m.5-.1h0m.3 .2h0m0-.6h0m.3 .8h0m0 .2h0m.9-.5h0m2.2 .3h0m.3-.4h0m1 0h0m1.5-.3h0m5.7 0h0m1 .4h0m-68.1 1.5h0m1.4-.1h0m1.3-.4h0m1.5 0h0m.5-.1h0m1.1 .3h0m.2 .2h0m.1-.5h0m1.1 .1h0m.2-.1h0m.1 .1h0m1.3 0h0m0 .5h0m.2-.5h0m.2-.2h0m0-.1h0m.3 0h0m.1 .3h0m0 .1h0m.4-.2h0m.1-.1h0m.3 .4h0m.4-.4h0m.1 .5h0m.3-.4h0m.2-.2h0m.1 .2h0m.3-.1h0m.4 .7h0m0-.1h0m.4-.8h0m0 .8h0m.2-.2h0m.4-.3h0m.4-.3h0m.4 .8h0m.2-.5h0m.3 .3h0m0-.5h0m.4-.1h0m0 .7h0m.1-.5h0m0-.2h0m.1 .5h0m0-.5h0m.3 .1h0m0 .5h0m0 .2h0m.1-.6h0m.1 .1h0m0-.1h0m.1 .6h0m.2-.6h0m.1 .4h0m.3-.5h0m.3 .1h0m.1-.1h0m0-.2h0m.1 .6h0m0-.5h0m.1 .5h0m0 0h0m.6 .3h0m0-.2h0m0-.6h0m.2 .7h0m.2-.3h0m0-.4h0m0 .6h0m.4 0h0m.1 .1h0m.1 0h0m.1 0h0m.3-.6h0m1.1 .1h0m0 .2h0m.3 .2h0m.1 .1h0m.1-.4h0m.1 .4h0m.5-.1h0m.2-.6h0m.2 .7h0m.3-.7h0m.5 .8h0m0-.2h0m1.6-.5h0m1.4 .3h0m.8 .4h0m1-.7h0m.3 .1h0m.1 0h0m.2-.1h0m0 .4h0m.3 .2h0m.2-.7h0m.1 0h0m.4 .1h0m.3 0h0m.3 0h0m.3 .7h0m.5-.7h0m.1 .7h0m.4-.2h0m.1-.3h0m.6 .6h0m.5-.4h0m.2 .1h0m.5-.1h0m.1-.4h0m.1 .4h0m.3-.4h0m.5 .3h0m.1 .4h0m0-.1h0m.3-.4h0m.1-.2h0m0 0h0m.2-.1h0m.1 .2h0m0-.1h0m.5 .6h0m.3-.6h0m.1 0h0m.3 .6h0m.2-.3h0m.3 .4h0m.4-.4h0m.3 .5h0m.2-.3h0m.3 0h0m0-.4h0m.1-.1h0m.2 .8h0m0-.6h0m.1-.2h0m.3 .8h0m.2-.8h0m.5 .5h0m.5 .2h0m.1-.6h0m.1-.2h0m.1 .2h0m.3-.2h0m.1 .8h0m.2-.7h0m.8 .5h0m.3-.2h0m.1-.1h0m.1-.2h0m.7 .3h0m.1 .5h0m.2-.8h0m.2 .1h0m0-.1h0m.6 .1h0m.1 .1h0m.3 .4h0m.1-.7h0m.5 .1h0m.6 0h0m.3 .3h0m.7-.3h0m0 .6h0m.4-.6h0m.1 .2h0m.2 .1h0m1.6 .5h0m.1-.2h0m.5-.2h0m0 .4h0m.2-.4h0m.3 .2h0m.3-.7h0m1.1 .6h0m.3-.1h0m.3-.3h0m.6-.2h0m.8 .5h0m1.9-.5h0m.4 .5h0m.4-.5h0m0 .2h0m.2 .5h0m.9-.2h0m.3-.1h0m1.1-.4h0m.5 .4h0m.5 .3h0m0-.5h0m1.1 .3h0m.6-.3h0m2.2-.2h0m2 0h0m1.2 .6h0m3.8 .2h0m.7-.2h0m-68.7 .5h0m.1 0h0m2.6 .5h0m.1-.6h0m.1 .4h0m.4 .4h0m.7 .1h0m.3-.4h0m.2 0h0m.6-.4h0m.2 .6h0m.4-.5h0m1 0h0m.4 0h0m.8 0h0m.1 .5h0m0 0h0m.1 .1h0m1.9 0h0m.3-.7h0m.2 .6h0m.4-.4h0m.2 .3h0m.1-.7h0m.4 .7h0m.8-.2h0m.3 0h0m0 .4h0m.5-.9h0m0 .1h0m.2 .5h0m.9-.2h0m.2-.2h0m.1 .6h0m.2-.5h0m0 .6h0m.1 0h0m.6 .1h0m.1-.3h0m.6 0h0m.1-.6h0m.5 .8h0m.3-.5h0m.2 0h0m.1-.3h0m.2-.1h0m.1 .7h0m.2 0h0m.2-.6h0m.7 .2h0m.7-.1h0m.3 .3h0m.5 .2h0m.3 .3h0m.1-.6h0m.7 0h0m0 .5h0m.2-.1h0m.1-.6h0m.1 .2h0m.2-.1h0m.2 .2h0m.2-.3h0m.1 .5h0m0-.3h0m.1-.1h0m.8 .6h0m.2-.4h0m.4 .1h0m.2 .3h0m0 .1h0m.1-.7h0m.1 .6h0m.5 0h0m.1-.8h0m.3 0h0m.4 .1h0m.1 .6h0m0-.2h0m.4-.1h0m.5-.3h0m.4 .4h0m.3-.2h0m0 .3h0m1 .2h0m.1-.2h0m.1 .2h0m0 0h0m.9-.5h0m0 .4h0m.1 .2h0m0-.7h0m.2 0h0m0 0h0m.3 .4h0m.2 .2h0m.1-.2h0m1.7-.3h0m.3-.3h0m0 .4h0m0-.1h0m.4 0h0m.1-.2h0m0 .1h0m.2 .5h0m.5-.3h0m.3-.1h0m.1 .1h0m.1-.2h0m.1 0h0m.1 .6h0m.1-.6h0m.2-.2h0m0 .6h0m.3-.4h0m.3-.2h0m.1 .5h0m.1 .2h0m.2 .2h0m.5-.7h0m.7-.2h0m.1 .5h0m.3-.3h0m.3 .4h0m0-.6h0m.1 .5h0m.1 0h0m.4 .3h0m.1-.3h0m.1-.4h0m.1 .4h0m.4-.4h0m.2 .4h0m.1-.4h0m.9 .8h0m.5-.4h0m.2 0h0m.4-.6h0m.2 0h0m.3 .3h0m.1 .2h0m.7 0h0m.4 0h0m.2-.4h0m.4 0h0m0 0h0m.1 .9h0m.4-.1h0m1.4-.5h0m.2 .5h0m.3-.2h0m.1-.7h0m.7 .8h0m0-.6h0m.6 .1h0m.4-.3h0m1.2 .9h0m.6-.9h0m2.9 .9h0m.8-.2h0m2.5-.6h0m.4 .5h0m.1 .2h0m.2-.7h0m.4 0h0m2.4 .2h0m3-.2h0m.6 .4h0m3.2 .5h0m1.7-.3h0m-68 .4h0m0 .4h0m.4-.3h0m.6 0h0m0 .4h0m1.3-.3h0m2.3 .2h0m.6-.4h0m.5 .5h0m0-.3h0m.3 .2h0m.7-.4h0m.1 .9h0m1.2-.8h0m.6 .7h0m.4-.5h0m0 0h0m.3 0h0m.2 .1h0m0 .1h0m.2-.4h0m.1 .5h0m.5 0h0m.2-.5h0m1.3 .8h0m.1-.9h0m.2 .7h0m.8 .2h0m.4-.9h0m.2 .6h0m.2-.5h0m.1 .5h0m0 .2h0m.1-.6h0m.2 .1h0m.2 .1h0m.5-.4h0m.2 .4h0m0-.5h0m.3 .2h0m.3 .5h0m.3 .2h0m.8-.7h0m.6 .7h0m0-.9h0m.3 0h0m.5 .8h0m.2-.4h0m.1-.2h0m1-.1h0m.3 .6h0m.3-.3h0m.3 .5h0m.2-.4h0m.5 .5h0m.3-.3h0m0-.4h0m1.7 .3h0m.3 .3h0m.3-.5h0m.1-.3h0m.1 .2h0m0-.3h0m.1 .8h0m.1-.2h0m.1-.5h0m.1 .6h0m0-.4h0m0 .4h0m.1-.4h0m1-.2h0m.1 0h0m.6 .7h0m.5-.6h0m.1 0h0m.2 0h0m0-.2h0m.2 .9h0m0-.7h0m.8 .2h0m.4 .2h0m0 0h0m.2-.3h0m.3-.2h0m.5 .2h0m.2 .6h0m.1-.9h0m.2 .3h0m.4 .2h0m.2 .4h0m.2-.1h0m.6-.3h0m.3-.4h0m0 .4h0m.1-.2h0m.7 .6h0m0-.2h0m.1-.3h0m.1-.2h0m.4 .5h0m.5-.2h0m.4 .4h0m.1-.2h0m.3 .1h0m.2 0h0m.1-.2h0m0 .3h0m0-.6h0m.2 .6h0m.5 0h0m.1-.2h0m.3 .1h0m.2-.7h0m1 .4h0m.3 .3h0m.2 .1h0m0-.3h0m.3 .2h0m.1 .2h0m.1-.6h0m.1-.2h0m0 .4h0m.1 .3h0m1.3-.3h0m.6 .2h0m.5 .2h0m1-.6h0m.1 .4h0m0-.4h0m.1 .1h0m.3-.3h0m.1 .3h0m1.3-.4h0m1 .2h0m.1-.3h0m.3 .4h0m.3 .3h0m.7 .1h0m.1-.5h0m.7 .3h0m.1 .3h0m.8-.8h0m1 .6h0m3.2 0h0m1.4-.1h0m.2-.3h0m.6 .6h0m.5-.3h0m1.2-.2h0m2.2 0h0m.9-.3h0m.3 .3h0m.6 .2h0m1.2-.6h0m-59.9 1.7h0m.3-.6h0m.6 .8h0m.3-.5h0m.1-.3h0m.1 .3h0m.6-.3h0m.5 .2h0m.2-.2h0m.4 .7h0m.7 0h0m.7-.2h0m.1 .1h0m.5-.1h0m.5 0h0m.2-.3h0m.3 .2h0m.5-.2h0m.4 .7h0m.1-.8h0m.2 0h0m.1-.2h0m.5 1h0m.6-.4h0m.1 .2h0m.3-.1h0m.9-.4h0m.4-.2h0m.1 .8h0m0-.4h0m.3-.4h0m.4 .6h0m.1 0h0m.2-.5h0m0 .7h0m.6-.6h0m0 .4h0m.2 .1h0m.3-.7h0m.9 .1h0m.4 .6h0m.1-.4h0m.1 .4h0m1 0h0m.6-.5h0m.7-.1h0m.7-.2h0m.2 .7h0m.2 0h0m.1-.6h0m.1 .2h0m.6 .3h0m.3 .3h0m.4-.6h0m.3 0h0m.1 .2h0m.1 .1h0m.6-.2h0m.3 .3h0m.3 0h0m.1-.1h0m.7 .2h0m.1-.5h0m.1-.2h0m.2 .9h0m.3 0h0m.2-.5h0m.6 .2h0m.2-.5h0m.1 .1h0m0-.2h0m.3 .4h0m.2 .1h0m0 0h0m.2-.1h0m1 .1h0m.3 .4h0m.5-.7h0m.1-.2h0m.1 .2h0m.4-.1h0m.1 .3h0m.1-.3h0m.2 .5h0m.2 .1h0m0-.6h0m1.1 .6h0m.8-.8h0m0 0h0m1 .8h0m.2 .1h0m.5-.6h0m0 .2h0m.3 0h0m.2-.5h0m.1 .5h0m.8-.2h0m.2 .3h0m.3 .4h0m.7-.5h0m0 0h0m.4-.3h0m1.3 .2h0m.5 .1h0m1.4-.4h0m0 0h0m.2 .4h0m.3 .2h0m.2-.3h0m.2-.1h0m1.1 .4h0m.9-.5h0m.1 .7h0m.6-.5h0m.4 .1h0m.5 .2h0m.4 .3h0m.8 0h0m.3-.8h0m.6 .4h0m.2-.5h0m.1 .1h0m.1-.2h0m.6 .3h0m.3 .3h0m1.9-.4h0m.6 .6h0m.3-.6h0m2.1 0h0m.1 .4h0m.4-.1h0m2-.1h0m.6 .4h0m4.1 .2h0m.5-.1h0m.3-.3h0m2.5-.3h0m1.3 .7h0m1.2-.5h0m5.2 0h0m.3-.3h0m1.1 0h0m-68.9 1.5h0m.3-.6h0m.6 .3h0m0 0h0m.4 0h0m0 .6h0m.4-.7h0m.9-.1h0m.2 .8h0m.4-.4h0m.2-.2h0m.7 .4h0m.1-.8h0m.1 .5h0m.5 .1h0m0 0h0m.2-.3h0m.1 .3h0m.1-.3h0m.1-.1h0m0 .3h0m1.1-.2h0m.2-.3h0m.6 .7h0m.7 .1h0m.6 0h0m.6-.3h0m.2 .4h0m0-.7h0m.4 .7h0m.1-.1h0m.1 .1h0m0 0h0m.3 0h0m.6 .1h0m0-.4h0m1.2-.5h0m.1 .6h0m.1-.2h0m.1-.3h0m.1 .4h0m.3-.2h0m.3 .4h0m.8-.5h0m.1 .1h0m.1-.2h0m.3 .5h0m.9-.1h0m0 .3h0m.1-.2h0m0-.4h0m.2 .6h0m.1-.1h0m.1-.6h0m.1-.1h0m0 .8h0m.4-.7h0m2.1 .7h0m.3-.2h0m.8 .2h0m.5-.5h0m0-.2h0m.1 .2h0m.3 .6h0m1.1-1h0m.2 .1h0m0 .2h0m.3 .6h0m.1-.2h0m.2-.1h0m1.1 0h0m0-.2h0m0-.3h0m.6 .4h0m.1 .5h0m0-.2h0m1 0h0m.3-.7h0m.5 .6h0m.2-.2h0m0-.4h0m.1 .9h0m.1-.8h0m.3 .1h0m.3 .3h0m.2-.1h0m.2 .5h0m.4-.6h0m.2 .3h0m0-.6h0m.1 .1h0m.3 .7h0m.3-.8h0m1.1 .5h0m.2 .2h0m.4 .1h0m.2-.6h0m.1 .5h0m.6-.1h0m1.2-.4h0m.1 .6h0m.1-.2h0m.1 .1h0m.4-.1h0m1.1-.2h0m1.1 .1h0m.1 .1h0m1 0h0m.1-.6h0m.1 .2h0m.3 .6h0m0 .1h0m1.1-.6h0m.2 .3h0m1.3-.1h0m.2 0h0m.3 .4h0m0-.6h0m.2 .3h0m.1 .1h0m.4 .1h0m.2 .1h0m.6-.4h0m1-.5h0m.1 .6h0m1.3-.5h0m1.3 .2h0m.1-.2h0m0 .4h0m.7-.2h0m.4-.1h0m.7 .2h0m3-.4h0m.4 .2h0m.1 0h0m.4 .6h0m1.6-.3h0m.7 .1h0m.2-.1h0m.7-.5h0m.5 .9h0m.4-.9h0m1.8 .7h0m.5-.6h0m.7 .7h0m.2-.8h0m.8 .7h0m1-.1h0m1.6-.7h0m.8 .5h0m.8-.4h0m1.7-.1h0m2.6 .2h0m.7 .5h0m.2-.5h0m.2 0h0m.3 .5h0m.2-.6h0m.5 .5h0m-69.7 .7h0m.2 .6h0m.1-.2h0m1-.6h0m.5 0h0m.3 .6h0m.2-.6h0m.1 .4h0m.1 .1h0m.7-.5h0m1.3 .6h0m.5 .3h0m.3-.5h0m.2 .2h0m.2-.4h0m.2 .7h0m0-.1h0m.4-.1h0m0-.4h0m1 .6h0m0-.9h0m.1 .7h0m.5-.1h0m.4-.1h0m.1-.3h0m.1 .3h0m0-.3h0m1.2 .4h0m0 .3h0m.2-.7h0m.4 .1h0m.1-.3h0m.3 .6h0m0 0h0m1.1 .1h0m.3-.1h0m.4-.5h0m.2 .6h0m.1-.2h0m.5-.1h0m.1 .5h0m.2-1h0m0 .4h0m.4-.4h0m0 .8h0m.2-.3h0m.2 .4h0m.4-.2h0m.3 .2h0m.1-.7h0m.1 .2h0m.1 .3h0m.3-.2h0m.1 0h0m.1 0h0m.1-.3h0m.1 .4h0m.1-.1h0m.1 0h0m.3-.4h0m.2-.1h0m.6 .4h0m.5-.1h0m.6 .4h0m0 .2h0m.2 0h0m.5-.9h0m.1 .9h0m.4-.9h0m.2 .3h0m.3-.1h0m0 .2h0m.1-.3h0m.6 .9h0m.2-.4h0m.1 .4h0m.2-1h0m0 .3h0m.5 .6h0m.5-.8h0m.2 .6h0m.1-.6h0m0 .8h0m.6-.2h0m.3 0h0m.2 .1h0m0-.7h0m.8 .6h0m0-.3h0m.5-.3h0m.1 .7h0m1.2-.5h0m.3 .4h0m.1-.2h0m.1 .3h0m0-.6h0m.7-.1h0m0 .8h0m.3-.3h0m.2-.5h0m.4-.1h0m2.1 1h0m.5-.9h0m.5 0h0m.6 .5h0m.1 0h0m1.6 0h0m.6-.4h0m1-.1h0m.3 .4h0m.3 .5h0m.4-.5h0m.4 .3h0m.8 0h0m.4-.2h0m.3 .2h0m.1 .1h0m.6-.5h0m.1-.1h0m.1 .2h0m.2-.5h0m.2 0h0m.5 .3h0m1.2 .6h0m.6 .1h0m.7-.5h0m1.3 .4h0m.4-.3h0m.5 0h0m.2 .1h0m.4-.5h0m.1 .2h0m.2 .3h0m.2-.1h0m.2 .3h0m.4-.5h0m.5 .1h0m.2 .3h0m.1-.8h0m.6 .6h0m.6-.4h0m0 .1h0m.3 .6h0m0-.7h0m.1 .2h0m.5 .2h0m.1 0h0m.3-.5h0m.4 .8h0m1-.4h0m.7 .2h0m.3-.7h0m.6 .9h0m.2-.5h0m.5 .2h0m1.3-.3h0m.5 .1h0m1.2-.1h0m.5-.2h0m.3 .8h0m1.4-.6h0m.1 0h0m.2 .4h0m1.2-.4h0m.7-.2h0m1.4 .6h0m.5-.1h0m1.6-.5h0m.1 .8h0m.1-.6h0m.2 .6h0m1-.5h0m.8 .1h0m.2-.2h0m2 .4h0m1.2-.7h0m.2 .7h0m-70.5 1.1h0m.4-.7h0m0 .8h0m.2-.6h0m.5 .1h0m.2 .3h0m.9-.3h0m0-.2h0m.5 .3h0m.1 .5h0m.2-.3h0m.2-.2h0m.3 0h0m.4-.3h0m.5 .1h0m.7 .1h0m.8-.3h0m1-.1h0m.2 .9h0m.3-.7h0m.1 .7h0m1.1-.6h0m.4 0h0m.2-.2h0m.2 0h0m.4 .7h0m.1 .1h0m.2 .1h0m.1-.5h0m0-.5h0m.1 .5h0m.1 .1h0m.1-.6h0m.1 .4h0m.1 0h0m.1-.2h0m.4 .5h0m.3 .2h0m.3-.1h0m.4-.5h0m.1 0h0m.1 .3h0m.1-.3h0m.3-.2h0m.1 0h0m.1 .7h0m.9 0h0m0-.7h0m.1 0h0m.5 .5h0m.6-.1h0m.4 .2h0m0-.5h0m.3 .7h0m.2-.2h0m0-.4h0m.1 .3h0m0-.2h0m0 .1h0m0-.3h0m.5 .6h0m0-.8h0m.5 .9h0m.1-.2h0m.1-.4h0m.3 .6h0m.5-.8h0m.1-.1h0m.1 .7h0m.1-.2h0m.1 .3h0m.2-.3h0m.1-.3h0m.4 .6h0m.4-.7h0m.1 0h0m0 .4h0m0 .5h0m.1-.4h0m.3-.4h0m.1 .6h0m.1 .1h0m0-.5h0m.1 .4h0m.5 0h0m0-.2h0m.1 .3h0m.5-.3h0m.5 .3h0m.1-.5h0m.1 0h0m.2 .2h0m.1-.1h0m0 .5h0m.5-.6h0m.1 0h0m.5 .6h0m.3-1h0m.2 .6h0m.3 0h0m.1 .2h0m.5 0h0m.6-.5h0m.3 .6h0m.5 .1h0m.1-.4h0m.1-.4h0m.9-.2h0m0 .8h0m.4-.6h0m.2 .6h0m.4-.3h0m1.2-.1h0m.2 .4h0m.1-.5h0m.3 .5h0m.5-.7h0m.2 .2h0m.3 .6h0m.3-.4h0m.5 .2h0m.1 0h0m.1 .3h0m.2-.4h0m0 .2h0m.1 0h0m.1-.2h0m.6 .2h0m.5-.1h0m.5-.2h0m0-.5h0m.8 .3h0m.2 .4h0m.4 .2h0m0-.7h0m.1 .4h0m.1-.1h0m.7 .1h0m.4-.6h0m1.2 .9h0m0 0h0m.1-.5h0m.9 .4h0m0-.1h0m0 0h0m1 .1h0m.6-.5h0m.2 .3h0m.6 .1h0m.1 .3h0m.4-.2h0m0 .1h0m.8-.8h0m.4 .6h0m.1 .3h0m.8-.4h0m1.4 .4h0m.8-.6h0m0-.2h0m.1 .1h0m.3 .1h0m.3-.2h0m0 .6h0m.4 0h0m.3-.6h0m.1 .3h0m1-.1h0m1.1-.3h0m.6 .5h0m.3-.6h0m.1 .7h0m.4 .2h0m.1-.5h0m.3 .1h0m1-.4h0m.4 .1h0m.1-.1h0m0 .8h0m.3-.3h0m1.2 .1h0m.8 .1h0m.7-.2h0m.1 .3h0m0-.5h0m.3-.3h0m.7 .3h0m.1-.4h0m.9 .2h0m.1 .1h0m.6 .2h0m.1 .4h0m.1-.1h0m.2-.5h0m.3 .4h0m.1-.6h0m1.4 .2h0m.6 0h0m.4 .7h0m.7-.8h0m.9 0h0m0 0h0m1.6-.2h0m1 .5h0m.1-.5h0m.7 .1h0m.1 .8h0m.9-.4h0m.7-.2h0m1.2 0h0m-70.1 .8h0m.1 .4h0m.1-.3h0m.3 .3h0m.1-.1h0m.1 .1h0m.2-.4h0m.2 .2h0m0-.2h0m.2 0h0m.7 .3h0m.4-.1h0m.9 .5h0m.5-.4h0m.3 0h0m.2 .3h0m0-.3h0m1.1 .5h0m.5 0h0m1-.3h0m.7-.1h0m.7-.3h0m.5 .7h0m.1-.4h0m.2-.2h0m.3-.3h0m.1 .3h0m.4 0h0m.1 0h0m.4 .6h0m.4-.5h0m.3 .2h0m.2-.5h0m1.4 .6h0m.3-.5h0m.1 .4h0m0-.6h0m.5 .7h0m.7-.4h0m.5 .6h0m.5-.1h0m.1-.4h0m.5-.2h0m.5 .4h0m.2 .2h0m.7-.4h0m.4 0h0m.5 .4h0m.1 0h0m.7 .1h0m0-.6h0m.4 .6h0m.3 0h0m.5 0h0m.9 0h0m.3-.2h0m.4 0h0m.3-.3h0m.2-.4h0m.5 .6h0m.6 .2h0m.8-.7h0m.1 .4h0m.7 .2h0m0-.5h0m0-.2h0m.8 .3h0m.1 .6h0m.3-.5h0m.2-.4h0m1.1 .1h0m.2 .4h0m.8-.4h0m.1 .1h0m0-.2h0m.1 .9h0m.8-.2h0m1-.3h0m.8-.2h0m.1 .3h0m.4 .2h0m.1-.3h0m.6-.3h0m.7 .9h0m.8-.3h0m.3-.2h0m.4-.4h0m.1 .9h0m.1-1h0m.6 .1h0m.6 .8h0m.1-.5h0m.1-.2h0m.2 .7h0m.3-.6h0m.5-.2h0m.7 .4h0m.7-.3h0m.2 .6h0m.2 0h0m.5-.1h0m.2-.7h0m.2 0h0m.1 .3h0m.2 .5h0m0-.4h0m1.2 .1h0m1.6-.2h0m.9 0h0m.1-.1h0m0-.2h0m.3 .2h0m.1 .6h0m.3 0h0m.8-.1h0m.8-.2h0m.4 .2h0m.4-.4h0m.8 .5h0m.1-.5h0m.6 .4h0m.1 .1h0m.5 0h0m.2 .1h0m.3 .1h0m.6-.9h0m.6 .6h0m.2-.3h0m0-.1h0m.3-.1h0m1.2-.2h0m.3 .8h0m2.3-.3h0m.9 .2h0m3.3-.3h0m.7 0h0m1-.1h0m.4 .1h0m2.9 .3h0m.5-.3h0m.1 .3h0m.2-.4h0m.9 .3h0m1.8-.5h0m1.5 .6h0m.5-.1h0m-70.1 1h0m.1-.5h0m.9-.1h0m.6 .4h0m1.9-.2h0m1 .2h0m.5-.1h0m1.1 .6h0m.2-.9h0m.1 .7h0m.9-.1h0m.7-.1h0m.3 .2h0m.5-.7h0m.8 .7h0m.2-.3h0m.1 .4h0m.8-.7h0m1.6 .7h0m0 .1h0m.8-.4h0m.1 .3h0m.1-.1h0m.1 0h0m0-.2h0m1 .1h0m.7-.6h0m.1 .6h0m.4-.3h0m.1-.2h0m.4 .2h0m.1-.1h0m.6 .3h0m0 .1h0m.1 .4h0m.1-.2h0m.5-.5h0m.2 .7h0m.2-.6h0m.2-.1h0m.2 .3h0m.4-.6h0m.1 .1h0m0 .9h0m.6-.4h0m.6 .3h0m.6-.6h0m.1 .3h0m.7 0h0m.4 .2h0m.3-.3h0m0 .1h0m1.2-.3h0m.6 .4h0m.1 0h0m.3-.3h0m.5 .3h0m.1 .1h0m.1-.4h0m.4 .1h0m.6 .2h0m.6-.5h0m1.6 .1h0m.4-.3h0m.2 .1h0m.4 .7h0m.4-.7h0m.3 .6h0m0-.2h0m1.3 .1h0m0 0h0m.1-.4h0m.2 .1h0m.4 .4h0m.5 .1h0m.4-.2h0m0-.3h0m.8 .3h0m.1 .3h0m1.3-.7h0m.1 .5h0m.6 0h0m.2-.4h0m.2 .1h0m.1 .3h0m1.6 .2h0m.2-.5h0m.8 .1h0m.1 .2h0m.1 .1h0m2.9-.1h0m.7 .1h0m.3 .2h0m0-.7h0m.6 .6h0m.4-.8h0m.8 .5h0m.1-.1h0m.3 0h0m.7-.1h0m.9 .3h0m1.2-.6h0m.7 .2h0m1.7 0h0m.4-.2h0m.3 0h0m.2 .1h0m.6 .6h0m0-.6h0m.1 .2h0m1.3 0h0m1.6 .4h0m.3 .1h0m3.1-.8h0m1 .7h0m1.4-.5h0m.4 .5h0m.1-.6h0m.4-.2h0m1.2 .7h0m.5-.5h0m4.4-.2h0m2.2 .2h0m-66.5 1.5h0m.5-.6h0m.9 .5h0m.4-.3h0m.3 .1h0m.4-.1h0m1.6-.1h0m.3 0h0m1.4 0h0m.1 .3h0m.2-.4h0m.1 0h0m.3 .1h0m.8 .3h0m.2-.5h0m.5 .9h0m.7-.8h0m.4 .4h0m.2-.5h0m1.3 .8h0m.1-.4h0m0 .1h0m.4-.5h0m0 .5h0m.6-.3h0m0 .5h0m.4-.2h0m0-.2h0m.2 .5h0m0-.1h0m.2-.5h0m.2 .6h0m.1 0h0m1.9 .2h0m.8-.2h0m.1-.4h0m.3 .5h0m.2-.8h0m.5 .8h0m.1-.1h0m.2-.6h0m0 .3h0m.1-.5h0m.3 .3h0m0 .4h0m.5 .2h0m.2 .1h0m.1-.5h0m.3-.2h0m.1 0h0m.1 .1h0m.4-.1h0m.1 .2h0m.6 0h0m.1-.2h0m1.3 .3h0m.4 .3h0m.1 0h0m.2-.2h0m.1-.5h0m.7 .5h0m.1-.3h0m0-.2h0m.2 .7h0m.1-.6h0m.4 .6h0m.5-.6h0m0 .2h0m.1-.4h0m.4 .7h0m0-.4h0m.1 .5h0m.1-.1h0m.1-.5h0m.5 .2h0m.1 .2h0m.3 .1h0m0-.6h0m.1 .2h0m1.3-.4h0m.3 .8h0m.8-.3h0m.4 0h0m.2-.3h0m1.1 .3h0m.1 0h0m.5-.4h0m.5 .8h0m.2-.4h0m0 .4h0m.1-.7h0m.5 .3h0m.6-.4h0m.1 .7h0m.2-.5h0m.4 0h0m.5 .6h0m.4-.6h0m1.7-.3h0m.2 .3h0m.2-.2h0m.4 .4h0m0-.4h0m.4 0h0m.3 .4h0m.4-.5h0m.3 1h0m.3-.4h0m.2-.1h0m1-.5h0m.1 .7h0m4.7-.6h0m2.9 .6h0m1.5-.1h0m.7-.6h0m1.6 .4h0m2.7 .5h0m1.8-.9h0m5.2 .4h0m2.9-.1h0m-65 1.1h0m2.1 .5h0m.4-.9h0m.2 .6h0m.7 .3h0m2.7-.4h0m.4 .1h0m.2 .1h0m.5 .2h0m.6-.9h0m0 .6h0m1.9-.6h0m.9 .3h0m.6-.1h0m.2 .6h0m0-.4h0m.2 0h0m.5-.4h0m1.1 .1h0m.5 .7h0m.3-.6h0m0-.1h0m.3 .4h0m.4 .5h0m.8-.7h0m.4 .2h0m.4 .5h0m0-.2h0m1.3-.2h0m.6 .2h0m.2-.8h0m.3 .5h0m.1-.5h0m.6 .4h0m0 .3h0m.3-.4h0m.4 .2h0m.9-.2h0m.1-.1h0m.8 .5h0m.9-.1h0m.2-.5h0m.1 .7h0m.8 .1h0m.1-.2h0m1-.1h0m0 .3h0m.5-.3h0m.2 .3h0m.5-.8h0m.2 .8h0m.4-.3h0m.1 .2h0m.8-.5h0m0 .7h0m.1-.2h0m.1-.1h0m.1 0h0m.1 .2h0m.5 .1h0m1-.6h0m.3-.4h0m.1 .2h0m.5 .4h0m.1 .4h0m1-.3h0m.3 0h0m.5-.4h0m0 0h0m.2 .2h0m.1 .1h0m0-.4h0m.1 .2h0m0 .3h0m.9-.3h0m.8 .1h0m.3 .1h0m.4-.2h0m.3 .3h0m.3 0h0m0-.2h0m.3-.4h0m0-.1h0m0 .3h0m.5 .1h0m.6-.3h0m.1 .1h0m.5 .5h0m.5 .2h0m.7-.2h0m.3-.2h0m1 .4h0m.3-.3h0m.1 .2h0m.2-.1h0m.4-.6h0m2.6-.1h0m.9 .1h0m10-.1h0m3.2 0h0m-61.1 1.8h0m5.6-.2h0m.3-.2h0m.1 .2h0m.1 .3h0m.3-.9h0m.4 .6h0m.2-.5h0m.6 .5h0m1-.4h0m1.6 0h0m.2 .4h0m.1 .3h0m0-.7h0m.5 0h0m.3-.1h0m.1 .4h0m.1-.3h0m1.3 .3h0m0-.1h0m.3 0h0m.1 .5h0m.1-.4h0m.1 .1h0m.5-.2h0m.4 .1h0m.6-.3h0m.6-.1h0m0 0h0m.7 .8h0m.1-.7h0m.4 .3h0m.2-.4h0m.4-.1h0m0 .5h0m.2 .5h0m0-.3h0m.6-.1h0m.7 .3h0m.1-.5h0m.2 .5h0m.8-.6h0m.5-.1h0m.5 .2h0m.1 .1h0m.4-.1h0m.3 0h0m.8 .3h0m.5 .3h0m.8-.1h0m.2-.4h0m.3 .3h0m.3-.6h0m.9-.2h0m0 .6h0m.7-.1h0m.1 .5h0m.1-.4h0m.2-.2h0m.1 .3h0m0-.5h0m.5 .5h0m.4-.6h0m.1 .3h0m.1-.4h0m.3 1h0m0-.9h0m.4 .3h0m.2 .6h0m.1-.7h0m0 .4h0m.4-.3h0m1.5 .3h0m.1-.4h0m.1-.2h0m.3 .8h0m.7-.3h0m.5 .2h0m0-.1h0m1.1-.1h0m.1-.1h0m.1 .2h0m.2-.6h0m.5 0h0m0-.1h0m.1 .3h0m.1-.1h0m.3 .2h0m.3 .5h0m.2-.4h0m.5-.1h0m.1 .3h0m.3-.3h0m.6 .5h0m.2-.8h0m.1 .4h0m.8 .2h0m.5-.2h0m.6-.3h0m.3 .3h0m1.4 .3h0m.2 .1h0m.4-.1h0m.4-.7h0m.5 0h0m.1-.1h0m.1 .8h0m.2 .1h0m.2 0h0m.3-.1h0m0-.7h0m.3 .3h0m0-.4h0m.1 .7h0m.8-.1h0m0 0h0m.4 .2h0m.5-.7h0m22.9 0h0m2.8 .2h0m-67.4 1.6h0m.2-.6h0m0-.1h0m.1 .4h0m.3-.5h0m2 .1h0m.5 .5h0m.2 .3h0m.1-.2h0m.3-.2h0m0-.2h0m.7 .4h0m.6-.5h0m.4 .6h0m.5-.1h0m.9-.7h0m0 .5h0m.2 .3h0m.2-.4h0m.1-.2h0m.4 .4h0m.1 0h0m.1-.3h0m.3-.3h0m0 .1h0m1.1-.1h0m.2 .8h0m0-.3h0m.6-.1h0m.9-.1h0m0 .1h0m.1-.3h0m.4 0h0m0 0h0m.8-.1h0m.8 0h0m1 .1h0m.1 .2h0m.2-.4h0m.2 0h0m3.2 0h0m6.3 .4h0m1.5-.4h0m3.7 .1h0m1.7 0h0m1.1-.1h0m1.4 .1h0m3.9-.1h0m.5 0h0m.7 .2h0m.3 .1h0m.1-.2h0m0 .7h0m1.6-.1h0m.1-.7h0m.5 .4h0m3.6 .1h0m-48.7 1h0m.8-.2h0m3.7-.1h0m.3 .8h0m1.4-.8h0m1.3 .2h0m.3 .1h0m.3-.4h0m.2 .2h0m.4-.2h0m.9 0h0m.3 .6h0m1.4-.7h0m.3 .2h0m.1-.1h0m.4 .2h0m31.2 .6h0m.8-.1h0m.1-.2h0m0-.2h0m.2-.1h0m.2-.2h0m.2 .4h0m.1-.4h0m.8 .7h0m-45.7 .8h0m.1 .4h0m.7-.4h0m1 0h0m.1-.1h0m.3-.1h0m.3-.3h0m.9 .1h0m1.2-.1h0m.4 .6h0m.1-.1h0m1.2 .3h0m.2-.5h0m.2 .2h0m.3 .3h0m0-.5h0m.4 .2h0m.4-.3h0m.3-.1h0m0 .1h0m.2-.2h0m.6-.1h0m.3 .5h0m31.7 .2h0m.9-.1h0m.5-.6h0m0 .1h0m1.6 .2h0m.4-.2h0m.1 .6h0m.1-.2h0m.2 0h0m1.2 .1h0m-45.7 .7h0m.7 .5h0m.9-.3h0m1.1 .1h0m.1-.6h0m.2 .8h0m.5-.1h0m.1 .2h0m1.3-.3h0m.1-.5h0m0 0h0m.8-.1h0m.4 .2h0m33.5 .7h0m1.3 0h0m.7 0h0m.1-.3h0m.2-.3h0m.9 .3h0m.2 .3h0m.4-.7h0m.5 .1h0m.2-.2h0m.2 .9h0m.3-.5h0m.6 .1h0m0-.2h0m.1 .3h0m-43.3 .4h0m.3 .6h0m1 0h0m.3-.1h0m.5-.6h0m.1 .4h0m0-.1h0m34.1-.1h0m.9 0h0m1.9 .1h0m.1-.1h0m.2 .8h0m.3-1h0m.3 0h0m.4 .5h0m0 .1h0m.8-.1h0m2.1-.1h0m.2 0h0m.7-.2h0m.8 .5h0m-46.7 .9h0m.3 0h0m.3-.2h0m.6-.3h0m.2 0h0m.7 .8h0m.2-.8h0m.1 .6h0m33-.4h0m.7 .3h0m.3-.3h0m.5 0h0m.3-.2h0m.2 .1h0m2.1 .6h0m.7-.3h0m2.1 .1h0m.2-.2h0m1.6-.3h0m.2 .4h0m.1 0h0m.5-.1h0m.2 .2h0m1.5 .3h0m-47.2 .2h0m.2 0h0m.7 .6h0m.1-.2h0m.6 0h0m.3 .2h0m.2 0h0m.1 .2h0m.3-.4h0m0-.1h0m.3 .1h0m.2-.2h0m.1-.1h0m.6-.2h0m30.8 .8h0m.9-.5h0m.1 .3h0m.3-.2h0m.1-.3h0m.4 .6h0m8.4 .1h0m-45.6 .9h0m.3-.3h0m.3 .2h0m1-.5h0m.4 .5h0m.1 .2h0m.4-.5h0m.1 .7h0m31.1-.5h0m1.4 .1h0m.3-.4h0m1.7 .2h0m7.6 .1h0m-44.9 .9h0m.7-.3h0m.2 .3h0m.5 .5h0m.2-.1h0m.1-.5h0m29.8 .6h0m.2-.1h0m.2 0h0m.8 .1h0m1-.6h0m.2 .1h0m.9 0h0m.2-.1h0m11.3 .1h0m.6 0h0m1.7 0h0m2.5 .2h0m-50.3 1.3h0m.6-.1h0m28.7 0h0m1.5-.4h0m.1 .3h0m1.9-.5h0m14.6 .7h0m-48.1 .4h0m.4 .4h0m0-.3h0m.3 .4h0m29-.2h0m.6 .1h0m-30.3 .9h0m.1-.6h0m.2 .8h0m.1 0h0m.1-.3h0m25.8 .4h0m1.2-.5h0m2.2-.1h0m.3 0h0m.3-.1h0m.5 .2h0m-31 .7h0m.4 .4h0m.3-.3h0m.1 .6h0m24.3 .1h0m.7-.9h0m.3 .5h0m.1 0h0m.3-.2h0m0 .4h0m.3-.6h0m1.2 0h0m-27.5 1.1h0m.3 .7h0m23.3-.3h0m1-.6h0m1.4 0h0m23.4 .5h0m-49.7 1h0m.4 .1h0m22.3-.2h0m.5 .2h0m.1-.5h0m0 .8h0m.5-.9h0m-23.9 1.3h0m0 .6h0m.2-.2h0m.3-.5h0m19.5 .8h0m1.4-.5h0m.3 .3h0m3.1-.6h0m-24.8 .8h0m.1 .4h0m.1 .1h0m.6-.1h0m16.7 .4h0m.6 .2h0m.5-.8h0m.3 .4h0m.7-.3h0m.1 0h0m1.1-.1h0m.2 .2h0m-21 1h0m.1 .3h0m0 .2h0m.1-.6h0m14.9 .3h0m1.1 .4h0m1.2-.4h0m1.8-.1h0m1.6 .3h0m-7.2 .5h0m.4 .6h0m.6-.5h0m1.5-.2h0m1.3-.1h0m-17.3 1h0m.1 .2h0m9.1 .4h0m.5-.3h0m.7-.3h0m1.6 0h0m.1 0h0m.1 .3h0m0-.3h0m.9-.1h0m-13 1h0m.1 .9h0m.4-.6h0m0-.2h0m.2 .2h0m.8 .4h0m.1-.5h0m.1 .3h0m.5 .1h0m1.1-.3h0m.6 .4h0m.3-.4h0m.4-.2h0m.8 .5h0m1 0h0m.8 .2h0m.3-.3h0m.4-.2h0m.4 .4h0m.1 .1h0m.2-.2h0m.3 0h0m1.5 .2h0m2.2-.7h0m-12.1 1.1h0m.2 .5h0m.2 0h0m.6 0h0m.4-.1h0m0-.2h0m.2-.2h0m.6 .3h0m0 .3h0m.2-.6h0m.1 .1h0m.4-.2h0m0 .8h0m.1-.7h0m0 0h0m.3 .4h0m.2-.2h0m.4-.3h0m.6 0h0m0 .2h0m0 0h0m.1 .2h0m-4.5 .8h0m.5 .5h0m.5 0h0m0-.7h0m.1 0h0m.1 .3h0m0 .2h0m.1-.5h0m.3 .8h0m.3-.9h0m.1 .6h0m.2 .4h0m0-1h0m.1 .2h0m.4 .1h0m.1 0h0m7.4 .3h0m-11.1 .5h0m1 .9h0m1.1-.2h0m.7-.5h0m.4 .2h0m.2 .4h0m0-.5h0m.1 .4h0m.7-.3h0m.5 .2h0m-3.6 .4h0m1.2 .7h0m0-.7h0m1.7 .3h0m.5 .1h0m1.1 0h0m-5.2 .9h0m1.4 .6h0m.3-.3h0m.5-.2h0m0-.1h0m.3-.4h0m.3 .3h0m.8 .4h0m-3.6 1.3h0m.5-.9h0m1.3 .9h0m1.4-.3h0m.1-.3h0m.1-.2h0m.3 .5h0m0-.3h0m.1-.3h0m1.2 .4h0m-3.3 1h0m.1 .3h0m.1-.4h0m.8 .3h0m.3-.7h0m.2 .6h0m1.1-.3h0m1.1 .4h0m-4.4 1.2h0m.2-.6h0m.2-.2h0m.1 .5h0m.9 .4h0m.2-.6h0m.7 .4h0m1.1 0h0m.1-.7h0m.6 .1h0m-5.1 1.6h0m1.8-.2h0m.3-.1h0m0 .1h0m.3-.5h0m0 .7h0m.9 0h0m0-.4h0m.2-.3h0m.7 .1h0m-2.9 .9h0m.5 .8h0m.5-.1h0m.3-.3h0m.8 .1h0m-2 .9h0m0-.2h0m.1 .4h0m.6-.3h0m0 .5h0m.2-.6h0m.7 .3h0m.3 0h0m.3-.1h0m.5 0h0m1-.4h0m-4.3 1.6h0m.8-.3h0m.2-.2h0m.5 .4h0m.1 .3h0m.9-.7h0m.8 .5h0" stroke="#000" stroke-width="0.8" stroke-linecap="square" fill="none"/>
<ellipse cx="173.5" cy="796.0" rx="32.8" ry="9.4" transform="rotate(-9 173.5 796.0)" fill="none" stroke="#000" stroke-width="2.2"/>
<ellipse cx="173.5" cy="796.0" rx="32" ry="8.6" transform="rotate(-9 173.5 796.0)" fill="#fff" stroke="#000" stroke-width="0.9"/>
<ellipse cx="167.5" cy="795.8" rx="22.5" ry="7.2" transform="rotate(-9 167.5 795.8)" fill="none" stroke="#000" stroke-width="0.6"/>
<ellipse cx="165.0" cy="795.8" rx="19" ry="6.2" transform="rotate(-9 165.0 795.8)" fill="none" stroke="#000" stroke-width="0.6"/>
<ellipse cx="163.0" cy="795.8" rx="15.8" ry="5.3" transform="rotate(-9 163.0 795.8)" fill="none" stroke="#000" stroke-width="0.6"/>
<ellipse cx="161.0" cy="795.8" rx="13" ry="4.4" transform="rotate(-9 161.0 795.8)" fill="none" stroke="#000" stroke-width="0.6"/>
<ellipse cx="159.3" cy="795.8" rx="10.2" ry="3.5" transform="rotate(-9 159.3 795.8)" fill="none" stroke="#000" stroke-width="0.6"/>
<ellipse cx="157.8" cy="795.8" rx="7.6" ry="2.7" transform="rotate(-9 157.8 795.8)" fill="none" stroke="#000" stroke-width="0.6"/>
<ellipse cx="156.6" cy="795.8" rx="5.2" ry="1.9" transform="rotate(-9 156.6 795.8)" fill="none" stroke="#000" stroke-width="0.6"/>
<ellipse cx="155.8" cy="795.8" rx="3" ry="1.2" transform="rotate(-9 155.8 795.8)" fill="none" stroke="#000" stroke-width="0.6"/>
<path d="M130.60,835.70 C130.50,834.37 130.63,833.07 131.00,831.70 C131.37,830.33 131.88,828.87 132.80,827.50 C133.72,826.13 135.05,824.60 136.50,823.50 C137.95,822.40 139.58,821.52 141.50,820.90 C143.42,820.28 145.58,820.03 148.00,819.80 C150.42,819.57 153.33,819.57 156.00,819.50 C158.67,819.43 161.50,819.40 164.00,819.40 C166.50,819.40 168.90,819.42 171.00,819.50 C173.10,819.58 176.43,819.37 176.60,819.90 C176.77,820.43 173.93,821.57 172.00,822.70 C170.07,823.83 167.33,825.35 165.00,826.70 C162.67,828.05 160.25,829.47 158.00,830.80 C155.75,832.13 153.67,833.62 151.50,834.70 C149.33,835.78 147.00,836.53 145.00,837.30 C143.00,838.07 141.25,838.73 139.50,839.30 C137.75,839.87 135.82,840.63 134.50,840.70 C133.18,840.77 132.25,840.53 131.60,839.70 C130.95,838.87 130.70,837.03 130.60,835.70Z" fill="#fff" stroke="#000" stroke-width="1.0"/>
<ellipse cx="146.8" cy="829.5" rx="12.6" ry="6.7" transform="rotate(-15 146.8 829.5)" fill="#0a0a0a"/>
<ellipse cx="146.4" cy="829.5" rx="10.8" ry="5.6" transform="rotate(-15 146.8 829.5)" fill="none" stroke="#888" stroke-width="0.3"/>
<ellipse cx="145.5" cy="829.5" rx="7.5" ry="3.9" transform="rotate(-15 146.8 829.5)" fill="none" stroke="#666" stroke-width="0.3"/>
<ellipse cx="144.7" cy="829.5" rx="4.2" ry="2.2" transform="rotate(-15 146.8 829.5)" fill="none" stroke="#555" stroke-width="0.3"/>
<circle cx="148.0" cy="829.0" r="0.7" fill="#ddd" stroke="none" stroke-width="1"/>
<rect x="128.3" y="773.8" width="92.6" height="36.2" fill="none" stroke="#000" stroke-width="0.9"/>
<line x1="123.8" y1="767.0" x2="123.8" y2="855.8" stroke="#111" stroke-width="1"/>
<line x1="123.8" y1="855.8" x2="215.5" y2="855.8" stroke="#111" stroke-width="1"/>
<line x1="121.3" y1="776.4" x2="123.8" y2="776.4" stroke="#111" stroke-width="0.8"/>
<text x="119.9" y="779.0" font-size="7.3" text-anchor="end" fill="#111">10<tspan dy="-3.3" font-size="5.1">5</tspan></text>
<line x1="121.3" y1="795.7" x2="123.8" y2="795.7" stroke="#111" stroke-width="0.8"/>
<text x="119.9" y="798.3" font-size="7.3" text-anchor="end" fill="#111">10<tspan dy="-3.3" font-size="5.1">4</tspan></text>
<line x1="121.3" y1="815.4" x2="123.8" y2="815.4" stroke="#111" stroke-width="0.8"/>
<text x="119.9" y="818.0" font-size="7.3" text-anchor="end" fill="#111">10<tspan dy="-3.3" font-size="5.1">3</tspan></text>
<line x1="121.3" y1="835.2" x2="123.8" y2="835.2" stroke="#111" stroke-width="0.8"/>
<text x="119.9" y="837.8" font-size="7.3" text-anchor="end" fill="#111">10<tspan dy="-3.3" font-size="5.1">2</tspan></text>
<line x1="121.3" y1="854.6" x2="123.8" y2="854.6" stroke="#111" stroke-width="0.8"/>
<text x="119.9" y="857.2" font-size="7.3" text-anchor="end" fill="#111">-10<tspan dy="-3.3" font-size="5.1">0</tspan></text>
<line x1="121.6" y1="789.9" x2="123.8" y2="789.9" stroke="#111" stroke-width="0.7"/>
<line x1="121.6" y1="786.5" x2="123.8" y2="786.5" stroke="#111" stroke-width="0.7"/>
<line x1="121.6" y1="784.1" x2="123.8" y2="784.1" stroke="#111" stroke-width="0.7"/>
<line x1="121.6" y1="782.2" x2="123.8" y2="782.2" stroke="#111" stroke-width="0.7"/>
<line x1="121.6" y1="780.7" x2="123.8" y2="780.7" stroke="#111" stroke-width="0.7"/>
<line x1="121.6" y1="779.4" x2="123.8" y2="779.4" stroke="#111" stroke-width="0.7"/>
<line x1="121.6" y1="778.3" x2="123.8" y2="778.3" stroke="#111" stroke-width="0.7"/>
<line x1="121.6" y1="777.3" x2="123.8" y2="777.3" stroke="#111" stroke-width="0.7"/>
<line x1="121.6" y1="809.5" x2="123.8" y2="809.5" stroke="#111" stroke-width="0.7"/>
<line x1="121.6" y1="806.0" x2="123.8" y2="806.0" stroke="#111" stroke-width="0.7"/>
<line x1="121.6" y1="803.5" x2="123.8" y2="803.5" stroke="#111" stroke-width="0.7"/>
<line x1="121.6" y1="801.6" x2="123.8" y2="801.6" stroke="#111" stroke-width="0.7"/>
<line x1="121.6" y1="800.1" x2="123.8" y2="800.1" stroke="#111" stroke-width="0.7"/>
<line x1="121.6" y1="798.8" x2="123.8" y2="798.8" stroke="#111" stroke-width="0.7"/>
<line x1="121.6" y1="797.6" x2="123.8" y2="797.6" stroke="#111" stroke-width="0.7"/>
<line x1="121.6" y1="796.6" x2="123.8" y2="796.6" stroke="#111" stroke-width="0.7"/>
<line x1="121.6" y1="829.2" x2="123.8" y2="829.2" stroke="#111" stroke-width="0.7"/>
<line x1="121.6" y1="825.8" x2="123.8" y2="825.8" stroke="#111" stroke-width="0.7"/>
<line x1="121.6" y1="823.3" x2="123.8" y2="823.3" stroke="#111" stroke-width="0.7"/>
<line x1="121.6" y1="821.4" x2="123.8" y2="821.4" stroke="#111" stroke-width="0.7"/>
<line x1="121.6" y1="819.8" x2="123.8" y2="819.8" stroke="#111" stroke-width="0.7"/>
<line x1="121.6" y1="818.5" x2="123.8" y2="818.5" stroke="#111" stroke-width="0.7"/>
<line x1="121.6" y1="817.3" x2="123.8" y2="817.3" stroke="#111" stroke-width="0.7"/>
<line x1="121.6" y1="816.3" x2="123.8" y2="816.3" stroke="#111" stroke-width="0.7"/>
<line x1="124.1" y1="855.8" x2="124.1" y2="858.3" stroke="#111" stroke-width="0.8"/>
<text x="124.1" y="865.5" font-size="6.6" text-anchor="middle" fill="#111">0.0</text>
<line x1="147.9" y1="855.8" x2="147.9" y2="858.3" stroke="#111" stroke-width="0.8"/>
<text x="147.9" y="865.5" font-size="6.6" text-anchor="middle" fill="#111">65.5</text>
<line x1="171.9" y1="855.8" x2="171.9" y2="858.3" stroke="#111" stroke-width="0.8"/>
<text x="171.9" y="865.5" font-size="6.6" text-anchor="middle" fill="#111">131.1</text>
<line x1="195.3" y1="855.8" x2="195.3" y2="858.3" stroke="#111" stroke-width="0.8"/>
<text x="195.3" y="865.5" font-size="6.6" text-anchor="middle" fill="#111">196.6</text>
<line x1="219.8" y1="855.8" x2="219.8" y2="858.3" stroke="#111" stroke-width="0.8"/>
<text x="219.8" y="865.5" font-size="6.6" text-anchor="middle" fill="#111">262.1</text>
<line x1="135.3" y1="855.8" x2="135.3" y2="857.3" stroke="#111" stroke-width="0.5"/>
<line x1="146.7" y1="855.8" x2="146.7" y2="857.3" stroke="#111" stroke-width="0.5"/>
<line x1="158.2" y1="855.8" x2="158.2" y2="857.3" stroke="#111" stroke-width="0.5"/>
<line x1="169.7" y1="855.8" x2="169.7" y2="857.3" stroke="#111" stroke-width="0.5"/>
<line x1="181.1" y1="855.8" x2="181.1" y2="857.3" stroke="#111" stroke-width="0.5"/>
<line x1="192.6" y1="855.8" x2="192.6" y2="857.3" stroke="#111" stroke-width="0.5"/>
<line x1="204.0" y1="855.8" x2="204.0" y2="857.3" stroke="#111" stroke-width="0.5"/>
<text x="91.0" y="811.5" font-size="11.8" text-anchor="middle" fill="#000" transform="rotate(-90 91 811.5)">human CD45-APC</text>
<line x1="224.5" y1="783.4" x2="235.1" y2="783.4" stroke="#262626" stroke-width="1.3"/>
<polygon points="242.6,783.4 234.1,787.4 236.1,783.4 234.1,779.4" fill="#262626" stroke="none"/>
<ellipse cx="298.2" cy="677.4" rx="9.8" ry="12.6" transform="rotate(6 298.2 677.4)" fill="#000"/>
<path d="M309.4 656.1h0m2 3.1h0m-6.7 .4h0m1.2 .8h0m2.7-.3h0m-10.3 .7h0m6 .2h0m1.4 .2h0m-6.4 .8h0m.4-.4h0m1.7 0h0m1.6 .5h0m.5 .1h0m.8-.6h0m.7 .1h0m2 .1h0m1.3 .3h0m1.1 .3h0m-11.8 .9h0m.1 .2h0m.6-.1h0m.3-.1h0m2.1-.1h0m.1 .2h0m.7-.3h0m.9-.3h0m1 .4h0m.8-.1h0m.2 .2h0m.8-.7h0m1.7 .2h0m.1 .5h0m3.5-.7h0m-16.8 1.6h0m.4-.4h0m1.6 .3h0m.5-.1h0m.3 .1h0m.3 .2h0m1.2-.3h0m.8-.4h0m.3 .4h0m.1 0h0m.4 0h0m.5 .4h0m.1-.6h0m.5 .5h0m.3-.2h0m.1 .4h0m.5-.1h0m.3 .1h0m.3-.8h0m.8 .3h0m.1 .5h0m.5-.2h0m.3-.6h0m1 .1h0m.6-.3h0m1.1 1h0m.3-.6h0m.3 .3h0m.9 .1h0m2.6-.2h0m-17.8 .8h0m2.4 .3h0m.2-.3h0m.8 0h0m1.3 .1h0m.3-.2h0m.1-.3h0m.8 .1h0m.2 0h0m.3 .1h0m0-.1h0m.1 .2h0m.3 .4h0m.8-.6h0m.4 .7h0m0-.4h0m.5-.4h0m.2 .9h0m.4-.4h0m.2 .2h0m.2 .2h0m.6-.3h0m0 .2h0m.3-.7h0m.1 .6h0m.6 0h0m.3 .3h0m.2-.6h0m0 .4h0m.3-.4h0m.3-.1h0m.3-.2h0m.4 .6h0m.1 .3h0m.1-.8h0m.3 .2h0m.9 .5h0m.2 .1h0m.8-1h0m.9 .4h0m.5-.1h0m1.1 .7h0m2.4-.5h0m4.8 .2h0m-26.2 .9h0m.2 .4h0m1.3-.4h0m0-.1h0m.6-.4h0m.1 .3h0m.4 .3h0m.5-.6h0m.3 .3h0m.2-.1h0m7.1-.3h0m.3 .2h0m.1 .4h0m0-.4h0m.1-.1h0m.6 .3h0m.1-.2h0m.3 0h0m.2 .6h0m.1 .1h0m.3-.3h0m.7-.4h0m.9 .3h0m0-.2h0m1.4 .4h0m.6-.3h0m.1 0h0m2.8 .1h0m-20 1.3h0m.1-.6h0m1.4 .4h0m.2-.2h0m10.8-.1h0m.5 .4h0m.3 .1h0m0 .1h0m0-.6h0m.4 .1h0m0 0h0m.2-.1h0m.1 .4h0m.2-.2h0m.5-.4h0m.7 .9h0m0-.1h0m.2-.1h0m.1 .1h0m.2 .1h0m.7-.1h0m.3-.4h0m.1 .4h0m0-.3h0m.6-.2h0m.6 0h0m-19.3 1.5h0m.5-.4h0m.1 .3h0m.4 .1h0m.7-.2h0m0-.4h0m13.4-.2h0m.8 .1h0m0 .6h0m.3-.5h0m.3 .4h0m.2-.5h0m.1 .8h0m.1-.9h0m.1 .6h0m0-.3h0m.8 .4h0m.2-.4h0m.9-.4h0m0 .8h0m.1-.6h0m.8 .4h0m.2-.5h0m.4-.1h0m1 .9h0m2.2-.3h0m2.4-.5h0m-25.7 1.6h0m.3 .1h0m.4-.6h0m.2 0h0m15.1-.1h0m0 .3h0m0-.1h0m.3 .5h0m.3-.3h0m.2 0h0m.2-.3h0m.6 .2h0m.1-.4h0m.4 .1h0m.3 .7h0m.1-.5h0m0 .2h0m.3-.3h0m.8 0h0m.1-.2h0m2.2 .8h0m.2 .2h0m.8 0h0m-24.7 .6h0m0-.1h0m.3 .2h0m1 .3h0m.2-.8h0m.6 .5h0m15.5-.7h0m.2 .2h0m.3 .6h0m.2-.6h0m.1 .2h0m.1-.2h0m.2 .4h0m.1-.2h0m.6-.2h0m.1 .8h0m.3 0h0m.2-.5h0m.1 .3h0m1.2-.3h0m0-.4h0m0 .6h0m.5-.6h0m1.1 .6h0m.5 .2h0m.2-.1h0m.5-.5h0m2.4-.2h0m.1 .1h0m-27.2 1.5h0m.5-.2h0m1.8 .1h0m17-.2h0m0 .6h0m.1-.6h0m.2 .6h0m.1-.1h0m.7-.2h0m.1-.5h0m1.6 .1h0m.4 .4h0m.2-.6h0m1.7 .8h0m.9 .1h0m.6-.9h0m1.2 .7h0m-25.9 1.1h0m.2-.3h0m0 .1h0m.1 .3h0m17.6-.9h0m.3 .1h0m.1 .7h0m.3-.6h0m.1-.3h0m.8 .1h0m.7 .7h0m0 0h0m.5-.5h0m.3-.3h0m.3 .2h0m.1-.2h0m.1 .1h0m.1 .6h0m.6-.5h0m.8 .3h0m.6 .3h0m-25.5 .9h0m.1 0h0m1-.3h0m19.6 0h0m.2-.3h0m.5 .2h0m0 .2h0m0 .2h0m.5 .3h0m.5-.7h0m.2-.2h0m.2 .4h0m.3 .1h0m.2 .2h0m.1-.1h0m0-.5h0m.9 .4h0m1-.2h0m.7 .3h0m.2 .2h0m-25.8 .8h0m.3-.6h0m.6 .4h0m19.4-.4h0m0 .5h0m1.1 .3h0m.4-.3h0m.1-.3h0m.3 .2h0m.2-.3h0m.1 .3h0m.1-.4h0m0 .8h0m.5-.2h0m0-.3h0m.1 0h0m1.3-.1h0m0 .7h0m.6-1h0m.8 .8h0m-25.2 .6h0m.3 0h0m19.3-.4h0m.2 .2h0m.1 .7h0m.1-.5h0m.2 0h0m.2-.3h0m.4 .6h0m0 0h0m.4-.6h0m1 .9h0m.8-.5h0m.8 .4h0m.2-.1h0m.2-.7h0m1.6-.1h0m5.5 1h0m-31.9 .5h0m.4-.4h0m.5 .5h0m0-.5h0m.1 .8h0m.1 0h0m0 0h0m19.2-.1h0m.2-.3h0m.2 .5h0m0-.1h0m.1-.1h0m0 .1h0m.2 .1h0m.1-1h0m.2 .7h0m.5 .1h0m0-.1h0m.2 .3h0m0-.9h0m.1 .7h0m0-.5h0m0 .7h0m.7-.3h0m.8-.1h0m2 .4h0m3.1-.7h0m-28.7 .9h0m1-.1h0m19.3 .4h0m.3-.4h0m.6 0h0m.1 .4h0m.2-.5h0m.1 .8h0m0-.2h0m0-.4h0m.5-.1h0m.2 .5h0m1-.4h0m.3 .4h0m1.3 .2h0m.3-.3h0m2.8 .2h0m-28.1 .5h0m.3 .2h0m.1 .6h0m.3-.3h0m19.8-.4h0m.1-.2h0m.3 .8h0m.1-.9h0m.3 .1h0m.6 .4h0m.1-.3h0m0 .6h0m.8 .1h0m.1-.3h0m.7-.4h0m1.3 .3h0m1.3 0h0m-26.5 .6h0m.3 .9h0m.1-1h0m1 .8h0m.1 .1h0m18.7 .1h0m.2-.6h0m.1 .4h0m.6-.3h0m.1 .1h0m.1-.4h0m0 0h0m.1 .7h0m.2-.3h0m.1 .3h0m.2-.3h0m.3 .4h0m.6-.9h0m.1 .9h0m1.3-.4h0m.6 .4h0m.1-.8h0m.6 .6h0m3.1 .2h0m1.8-.5h0m.2-.2h0m-29.5 1h0m19.5 .7h0m0-.4h0m.2 .1h0m0-.2h0m.2 .4h0m.3 0h0m0-.4h0m0 .2h0m.2-.4h0m.2-.1h0m.6 0h0m.4 .5h0m.6-.7h0m.1 0h0m1 .8h0m.8-.5h0m.2 .2h0m.1 .1h0m.1 .1h0m1.2-.3h0m-27.1 1.6h0m1-.8h0m.1 .3h0m.3 .2h0m19 .2h0m.2-.7h0m.2 0h0m.2-.1h0m.3 .4h0m.1 .2h0m.3-.2h0m.2 0h0m0 .4h0m.1-.4h0m.9 .1h0m.2-.1h0m.5-.4h0m6.2 .8h0m-28.6 .9h0m.1 0h0m.1 0h0m18.4 .1h0m.9-.5h0m.6 .2h0m.1 .1h0m.3-.3h0m.8-.4h0m.4 .7h0m.2-.2h0m.2-.2h0m.6-.2h0m.1 0h0m.8 .7h0m.6-.3h0m1.6 .3h0m5.8 0h0m-32.5 .3h0m.5-.1h0m1.2 .2h0m.1 .1h0m17.3 .3h0m.9-.5h0m0 0h0m0 .7h0m.1-.2h0m.1 .2h0m.1-.7h0m.1 0h0m.1 .5h0m.1-.4h0m.1 .7h0m0 0h0m.3-.5h0m.3 0h0m1 .5h0m0-.3h0m.4-.4h0m1 .7h0m-21.8 .2h0m.1 .1h0m.2 .1h0m.6 .3h0m15.8 .3h0m.5-.4h0m.3 .4h0m.2-.2h0m.1 .2h0m.1-.2h0m0-.3h0m.3-.2h0m.3 .8h0m.6-.3h0m.8-.2h0m.4 .3h0m.7-.1h0m.2-.4h0m1.2 .1h0m.5-.2h0m.9 0h0m.1-.2h0m.5 .5h0m.6 .2h0m-26.4 .6h0m.9-.3h0m1 .1h0m.1 .7h0m.6 .2h0m0-.4h0m16.1-.5h0m.2 .4h0m.3-.1h0m.1-.2h0m0-.2h0m.4 .9h0m.4-.8h0m.1 .4h0m.5 .4h0m0-.4h0m.1 .4h0m.1-.3h0m.3 .3h0m.4-.7h0m.7 .1h0m.2 .6h0m0 .1h0m.7-.4h0m.5-.2h0m.3-.3h0m1.4 .7h0m.7 0h0m2.8-.1h0m.5-.5h0m-29.4 .8h0m.3 .9h0m1.5-.2h0m.6-.5h0m14.9 .6h0m.4 0h0m.5-.8h0m.2 .1h0m.3 .4h0m.4 .3h0m.1-.7h0m0 0h0m.4 .8h0m1.8-.3h0m0 .1h0m.3-.5h0m-19.9 .9h0m.4 .6h0m.2-.4h0m12.9 .5h0m1.3-.3h0m.1 .1h0m.3 .2h0m.1-.4h0m.1-.2h0m.1 .3h0m0 .4h0m.5-.5h0m.1-.1h0m.6 .1h0m.2-.3h0m0 .1h0m.3 0h0m.4 .7h0m.1-.6h0m.3 .1h0m.2 .5h0m.6-.6h0m7.7 .7h0m-26.7 .5h0m1.3-.1h0m.2 .2h0m.3-.4h0m.2 .7h0m.2-.8h0m.5 .8h0m11.3-.6h0m.2 .1h0m.1 .2h0m.2-.5h0m.1 .6h0m.1 .2h0m.1-.9h0m.7 0h0m.3 .4h0m0 .4h0m.1-.3h0m1.6 .4h0m.3-.3h0m.3-.2h0m.4 .4h0m.3-.4h0m.1 .2h0m.7-.2h0m.2 .1h0m.7-.3h0m.1 .2h0m-17.7 .8h0m.1 .2h0m.1-.1h0m.8 .6h0m.1 0h0m0-.5h0m.3 .4h0m.8 0h0m.8 0h0m6.3 .1h0m.1-.4h0m.1-.3h0m.1 .7h0m.1-.7h0m.4 .6h0m.2-.5h0m.8 .5h0m.2-.6h0m.2 .4h0m.8-.4h0m0 .6h0m0-.7h0m.2 0h0m.8 .5h0m.4-.2h0m1 0h0m.1 .6h0m.2-.7h0m.1 .2h0m0 .4h0m2.9-.8h0m1.1 0h0m.4 .5h0m-17.4 .5h0m.4 .2h0m.2-.1h0m.3-.1h0m.8 .9h0m.5-.3h0m.3-.2h0m.6 .3h0m.3-.7h0m.1 .5h0m.1 0h0m.8-.3h0m.2 .1h0m.3 .4h0m.1-.7h0m.4 .1h0m.1 .4h0m.3 .4h0m.3-.4h0m.1-.6h0m.1 .2h0m.3-.2h0m0 .1h0m.1 .8h0m.5-.8h0m.5 .7h0m.2 .1h0m.7-.6h0m.3 .6h0m.1-.2h0m.3-.4h0m.4 .3h0m.1-.3h0m.4-.3h0m.3 .6h0m.7-.3h0m.2-.2h0m.3-.1h0m0 .8h0m.7 0h0m3.8-.7h0m3.8 0h0m-23.9 1h0m5 0h0m.2 .7h0m.4-.1h0m1.7-.7h0m.2 .1h0m1 .9h0m.4-.3h0m0 .1h0m1.2-.5h0m3.1-.3h0m1.9 .2h0m.3 .3h0m.6 .5h0m0-.4h0m1.9-.6h0m2 1h0m1.1-.3h0m-13.6 .7h0m.6 .4h0m0-.5h0m0-.1h0m.2 .7h0m1.7 .1h0m.1-.8h0m1.2 .7h0m.1 .1h0m0-.8h0m1.5 .2h0m1.4 .6h0m.1-.2h0m.2 .1h0m.8-.3h0m1.7-.5h0m-9.3 .9h0m4.9 .2h0m1.9 0h0m-3 1.5h0m11.9 .1h0m.3-.6h0m-10.9 1.3h0m3.1-.3h0m.6 .3h0m4 .4h0m.4-.4h0m-11.4 .9h0m6.8 0h0m3.2 .7h0" stroke="#000" stroke-width="0.75" stroke-linecap="square" fill="none"/>
<path d="M320.1 663.9h0m2.1 1.9h0m-3.8 2.1h0m1.5 1.1h0m.4-.3h0m4.7 .4h0m-4 .5h0m-2.7 1.7h0m8.3-.5h0m-13.2 4.3h0m6.4 1.1h0m10.9-.2h0m-10.8 1.2h0m2.3 .3h0m1.4-.1h0m-7 .6h0m.9 .2h0m14.3-.4h0m-12.6 1.4h0m1.8-.4h0m7.9 1h0" stroke="#000" stroke-width="0.7" stroke-linecap="square" fill="none"/>
<ellipse cx="296.4" cy="677.8" rx="6.4" ry="9.2" transform="rotate(8 296.4 677.8)" fill="none" stroke="#fff" stroke-width="0.6"/>
<ellipse cx="296.0" cy="678.0" rx="3.6" ry="5.4" transform="rotate(8 296.0 678.0)" fill="none" stroke="#777" stroke-width="0.35"/>
<circle cx="295.6" cy="678.5" r="0.7" fill="#fff" stroke="none" stroke-width="1"/>
<rect x="315.0" y="652.1" width="43.7" height="44.0" fill="none" stroke="#FF1A1A" stroke-width="1.1"/>
<text x="363.2" y="662.5" font-size="13.6" text-anchor="start" fill="#FF1A1A">LRCs</text>
<line x1="272.9" y1="651.7" x2="272.9" y2="739.3" stroke="#111" stroke-width="1"/>
<line x1="272.9" y1="739.3" x2="364.5" y2="739.3" stroke="#111" stroke-width="1"/>
<line x1="270.4" y1="659.9" x2="272.9" y2="659.9" stroke="#111" stroke-width="0.8"/>
<text x="269.8" y="662.5" font-size="7.3" text-anchor="end" fill="#111">10<tspan dy="-3.3" font-size="5.1">5</tspan></text>
<line x1="270.4" y1="679.2" x2="272.9" y2="679.2" stroke="#111" stroke-width="0.8"/>
<text x="269.8" y="681.8" font-size="7.3" text-anchor="end" fill="#111">10<tspan dy="-3.3" font-size="5.1">4</tspan></text>
<line x1="270.4" y1="698.9" x2="272.9" y2="698.9" stroke="#111" stroke-width="0.8"/>
<text x="269.8" y="701.5" font-size="7.3" text-anchor="end" fill="#111">10<tspan dy="-3.3" font-size="5.1">3</tspan></text>
<line x1="270.4" y1="719.4" x2="272.9" y2="719.4" stroke="#111" stroke-width="0.8"/>
<text x="269.8" y="722.0" font-size="7.3" text-anchor="end" fill="#111">10<tspan dy="-3.3" font-size="5.1">2</tspan></text>
<line x1="270.4" y1="737.6" x2="272.9" y2="737.6" stroke="#111" stroke-width="0.8"/>
<text x="269.8" y="740.2" font-size="7.3" text-anchor="end" fill="#111">10<tspan dy="-3.3" font-size="5.1">0</tspan></text>
<line x1="270.7" y1="673.4" x2="272.9" y2="673.4" stroke="#111" stroke-width="0.7"/>
<line x1="270.7" y1="670.0" x2="272.9" y2="670.0" stroke="#111" stroke-width="0.7"/>
<line x1="270.7" y1="667.6" x2="272.9" y2="667.6" stroke="#111" stroke-width="0.7"/>
<line x1="270.7" y1="665.7" x2="272.9" y2="665.7" stroke="#111" stroke-width="0.7"/>
<line x1="270.7" y1="664.2" x2="272.9" y2="664.2" stroke="#111" stroke-width="0.7"/>
<line x1="270.7" y1="662.9" x2="272.9" y2="662.9" stroke="#111" stroke-width="0.7"/>
<line x1="270.7" y1="661.8" x2="272.9" y2="661.8" stroke="#111" stroke-width="0.7"/>
<line x1="270.7" y1="660.8" x2="272.9" y2="660.8" stroke="#111" stroke-width="0.7"/>
<line x1="270.7" y1="693.0" x2="272.9" y2="693.0" stroke="#111" stroke-width="0.7"/>
<line x1="270.7" y1="689.5" x2="272.9" y2="689.5" stroke="#111" stroke-width="0.7"/>
<line x1="270.7" y1="687.0" x2="272.9" y2="687.0" stroke="#111" stroke-width="0.7"/>
<line x1="270.7" y1="685.1" x2="272.9" y2="685.1" stroke="#111" stroke-width="0.7"/>
<line x1="270.7" y1="683.6" x2="272.9" y2="683.6" stroke="#111" stroke-width="0.7"/>
<line x1="270.7" y1="682.3" x2="272.9" y2="682.3" stroke="#111" stroke-width="0.7"/>
<line x1="270.7" y1="681.1" x2="272.9" y2="681.1" stroke="#111" stroke-width="0.7"/>
<line x1="270.7" y1="680.1" x2="272.9" y2="680.1" stroke="#111" stroke-width="0.7"/>
<line x1="270.7" y1="713.2" x2="272.9" y2="713.2" stroke="#111" stroke-width="0.7"/>
<line x1="270.7" y1="709.6" x2="272.9" y2="709.6" stroke="#111" stroke-width="0.7"/>
<line x1="270.7" y1="707.1" x2="272.9" y2="707.1" stroke="#111" stroke-width="0.7"/>
<line x1="270.7" y1="705.1" x2="272.9" y2="705.1" stroke="#111" stroke-width="0.7"/>
<line x1="270.7" y1="703.4" x2="272.9" y2="703.4" stroke="#111" stroke-width="0.7"/>
<line x1="270.7" y1="702.1" x2="272.9" y2="702.1" stroke="#111" stroke-width="0.7"/>
<line x1="270.7" y1="700.9" x2="272.9" y2="700.9" stroke="#111" stroke-width="0.7"/>
<line x1="270.7" y1="699.8" x2="272.9" y2="699.8" stroke="#111" stroke-width="0.7"/>
<line x1="281.6" y1="739.3" x2="281.6" y2="741.8" stroke="#111" stroke-width="0.8"/>
<text x="283.6" y="751.8" font-size="7.0" text-anchor="middle" fill="#111">-10<tspan dy="-3.1" font-size="4.9">2</tspan></text>
<line x1="313.1" y1="739.3" x2="313.1" y2="741.8" stroke="#111" stroke-width="0.8"/>
<text x="315.1" y="751.8" font-size="7.0" text-anchor="middle" fill="#111">10<tspan dy="-3.1" font-size="4.9">3</tspan></text>
<line x1="335.3" y1="739.3" x2="335.3" y2="741.8" stroke="#111" stroke-width="0.8"/>
<text x="337.3" y="751.8" font-size="7.0" text-anchor="middle" fill="#111">10<tspan dy="-3.1" font-size="4.9">4</tspan></text>
<line x1="355.2" y1="739.3" x2="355.2" y2="741.8" stroke="#111" stroke-width="0.8"/>
<text x="357.2" y="751.8" font-size="7.0" text-anchor="middle" fill="#111">10<tspan dy="-3.1" font-size="4.9">5</tspan></text>
<line x1="276.0" y1="739.3" x2="276.0" y2="740.8" stroke="#111" stroke-width="0.5"/>
<line x1="278.0" y1="739.3" x2="278.0" y2="740.8" stroke="#111" stroke-width="0.5"/>
<line x1="280.0" y1="739.3" x2="280.0" y2="740.8" stroke="#111" stroke-width="0.5"/>
<line x1="284.0" y1="739.3" x2="284.0" y2="740.8" stroke="#111" stroke-width="0.5"/>
<line x1="286.0" y1="739.3" x2="286.0" y2="740.8" stroke="#111" stroke-width="0.5"/>
<line x1="288.0" y1="739.3" x2="288.0" y2="740.8" stroke="#111" stroke-width="0.5"/>
<line x1="290.0" y1="739.3" x2="290.0" y2="740.8" stroke="#111" stroke-width="0.5"/>
<line x1="292.0" y1="739.3" x2="292.0" y2="740.8" stroke="#111" stroke-width="0.5"/>
<line x1="294.0" y1="739.3" x2="294.0" y2="740.8" stroke="#111" stroke-width="0.5"/>
<line x1="306.0" y1="739.3" x2="306.0" y2="740.8" stroke="#111" stroke-width="0.5"/>
<line x1="309.0" y1="739.3" x2="309.0" y2="740.8" stroke="#111" stroke-width="0.5"/>
<line x1="311.0" y1="739.3" x2="311.0" y2="740.8" stroke="#111" stroke-width="0.5"/>
<line x1="320.0" y1="739.3" x2="320.0" y2="740.8" stroke="#111" stroke-width="0.5"/>
<line x1="324.0" y1="739.3" x2="324.0" y2="740.8" stroke="#111" stroke-width="0.5"/>
<line x1="327.0" y1="739.3" x2="327.0" y2="740.8" stroke="#111" stroke-width="0.5"/>
<line x1="329.0" y1="739.3" x2="329.0" y2="740.8" stroke="#111" stroke-width="0.5"/>
<line x1="331.0" y1="739.3" x2="331.0" y2="740.8" stroke="#111" stroke-width="0.5"/>
<line x1="333.0" y1="739.3" x2="333.0" y2="740.8" stroke="#111" stroke-width="0.5"/>
<line x1="342.0" y1="739.3" x2="342.0" y2="740.8" stroke="#111" stroke-width="0.5"/>
<line x1="346.0" y1="739.3" x2="346.0" y2="740.8" stroke="#111" stroke-width="0.5"/>
<line x1="349.0" y1="739.3" x2="349.0" y2="740.8" stroke="#111" stroke-width="0.5"/>
<line x1="351.0" y1="739.3" x2="351.0" y2="740.8" stroke="#111" stroke-width="0.5"/>
<line x1="353.0" y1="739.3" x2="353.0" y2="740.8" stroke="#111" stroke-width="0.5"/>
<line x1="282.0" y1="738.5" x2="282.0" y2="740.5" stroke="#111" stroke-width="0.8"/>
<line x1="283.5" y1="738.5" x2="283.5" y2="740.5" stroke="#111" stroke-width="0.8"/>
<line x1="285.0" y1="738.5" x2="285.0" y2="740.5" stroke="#111" stroke-width="0.8"/>
<line x1="286.5" y1="738.5" x2="286.5" y2="740.5" stroke="#111" stroke-width="0.8"/>
<line x1="288.0" y1="738.5" x2="288.0" y2="740.5" stroke="#111" stroke-width="0.8"/>
<line x1="289.5" y1="738.5" x2="289.5" y2="740.5" stroke="#111" stroke-width="0.8"/>
<line x1="291.0" y1="738.5" x2="291.0" y2="740.5" stroke="#111" stroke-width="0.8"/>
<text x="259.5" y="697.0" font-size="11.8" text-anchor="middle" fill="#000" transform="rotate(-90 259.5 697)">human CD45-APC</text>
<ellipse cx="298.2" cy="794.7" rx="9.8" ry="12.6" transform="rotate(6 298.2 794.7)" fill="#000"/>
<path d="M307.0 772.4h0m.5-.3h0m1.2 5.3h0m0 0h0m5.1-.6h0m-14.5 1.1h0m6.5 .1h0m1 .1h0m.8-.2h0m.5 0h0m2.1 .1h0m1.8 .2h0m-13.4 .4h0m1.8 .4h0m3.4 .1h0m2.8 0h0m.1-.3h0m.2-.3h0m-10.9 2h0m1.7-.4h0m.8 0h0m.1-.1h0m3.5-.3h0m1.4 0h0m1.9 .3h0m1.5-.3h0m.8 .1h0m2.1 0h0m.4-.1h0m-15.3 1.6h0m2.5-.4h0m.2-.2h0m.4 .6h0m.1-.3h0m.4 .3h0m.8 .1h0m.1-.8h0m0 .4h0m.3-.3h0m0 .3h0m.3-.3h0m.2-.1h0m.4 .3h0m.1-.1h0m1 .1h0m.7-.4h0m0 .8h0m.2-.6h0m.2 .6h0m0-.5h0m.3-.1h0m0 .2h0m1.1 .5h0m2.4 .1h0m2.8-.8h0m2.3-.1h0m-18.2 1.3h0m.6 .3h0m.7-.2h0m.7-.5h0m.2 0h0m.9 .2h0m.5 .5h0m.4 .1h0m1-.6h0m.1 .5h0m.1-.5h0m.5 .8h0m.5-.4h0m.1 .3h0m.4 0h0m.2-.7h0m.3 .2h0m.3 .3h0m.1-.4h0m0-.1h0m.7 .3h0m.1 .2h0m.1-.6h0m.1 .5h0m.2-.5h0m.4 .5h0m.2-.1h0m0 .4h0m1.2-.4h0m.1-.3h0m.6 .7h0m.3-.6h0m.2 .2h0m.8 .3h0m1.8-.6h0m1.1 .4h0m.8 0h0m1.8 .4h0m-19.5 .9h0m.4 0h0m1-.3h0m.6-.4h0m0 .6h0m1.2-.5h0m.6-.2h0m4.3 .3h0m1.5 0h0m0-.3h0m.2 .3h0m.1 0h0m1.1 0h0m.1 .3h0m.1 .1h0m0 0h0m.1 0h0m0 0h0m.1-.5h0m.4 .6h0m0 0h0m0-.6h0m.4-.2h0m.1 .7h0m.3-.1h0m.6-.2h0m.2-.3h0m1.2 .5h0m.4 .1h0m.1-.5h0m.4 .6h0m1.5-.1h0m-17.3 1.1h0m.5 .1h0m.2-.1h0m.6-.8h0m.6 .5h0m.1-.1h0m9.5 0h0m.5-.3h0m.4 .6h0m.2-.2h0m.2 .1h0m.2 .1h0m.2-.1h0m.2-.1h0m0-.6h0m.1 .2h0m.5 .1h0m0 .7h0m.2-.2h0m.6-.3h0m.7 .5h0m.7-.6h0m.4 .4h0m.1-.6h0m.5 0h0m.6 .6h0m.8 .1h0m2.2-.6h0m1 .4h0m2.2-.2h0m-25.2 .9h0m.7-.1h0m.1 .4h0m13.1-.6h0m.6 .4h0m.4 .4h0m0-.7h0m.5 .4h0m.4-.3h0m0-.2h0m.1 .7h0m.1-.4h0m.1 0h0m.2 .5h0m0-.6h0m.1-.1h0m.1 .2h0m.3 .1h0m.6-.3h0m.3 .8h0m.5-.9h0m0 .5h0m.5 0h0m1.6 .1h0m1.2 0h0m1.1-.5h0m1.2 .6h0m-24.5 1.2h0m1-.1h0m.4-.2h0m.1-.4h0m0 .1h0m.1 .2h0m14 0h0m.3-.5h0m.4 .9h0m.2-.5h0m0 .2h0m.5-.5h0m.4-.2h0m.2 .6h0m.8-.5h0m0 .5h0m.8 .2h0m.5 0h0m.5-.2h0m3-.2h0m2.5 .2h0m-27.7 .7h0m2.1 .4h0m1-.6h0m14.8 .7h0m.2-.7h0m0 .2h0m.1-.1h0m.5 .5h0m.1-.1h0m.1 .1h0m0 0h0m.6-.1h0m.1 .2h0m.6-.6h0m0 0h0m.2-.1h0m.7 .1h0m.2-.1h0m.6 .4h0m.5 0h0m.2-.1h0m.6 0h0m.3 .3h0m.3-.3h0m.9-.4h0m.3 .1h0m.1 .7h0m1.7-.2h0m.3-.2h0m.1 .5h0m2.3-.9h0m-28.4 1.6h0m.6 .1h0m.4-.5h0m1 .1h0m16.1 .6h0m.2 .1h0m.1-.3h0m.1-.7h0m.1 .6h0m.2-.2h0m.7 .5h0m.1-.8h0m.8 .1h0m1 .8h0m.2-.7h0m.8-.2h0m.3 .4h0m.3-.1h0m5 .3h0m-28.4 .3h0m0 .1h0m.7 .4h0m.4-.1h0m17.2-.4h0m.5 .1h0m.1 .8h0m.7-.5h0m.2 .2h0m0-.6h0m0 .2h0m0 0h0m.7 .7h0m.3 .1h0m1.4-.8h0m.4 .5h0m3.6-.4h0m2.3 .6h0m-29.6 .2h0m.3-.1h0m.1 .2h0m.9-.1h0m.1 .3h0m.2 .5h0m18.2-.1h0m.3-.8h0m.2 .3h0m0 0h0m.8 .3h0m.4-.5h0m.2 .2h0m.8-.3h0m.2 .2h0m0-.1h0m.5 .4h0m.2 .3h0m.1-.6h0m.7 .4h0m1.2-.4h0m1.1 .2h0m.8 0h0m.4-.2h0m-28 1.3h0m1.2 .3h0m.5 0h0m0-.1h0m18.8-.3h0m1 .4h0m0-.1h0m.1 0h0m.1-.6h0m.1 .7h0m0 .2h0m0-.1h0m.1-.2h0m.2-.1h0m.8 .1h0m.1-.3h0m.1 .6h0m1.1-.2h0m3.1-.4h0m4.6 .1h0m-30.7 .8h0m.6 .3h0m18.9-.1h0m.2 0h0m.1 .3h0m.4-.7h0m.2 .5h0m0 .4h0m.2-.9h0m.1 .3h0m.2 .3h0m.2 .2h0m.8 .1h0m.9-.1h0m.3-.2h0m2-.3h0m-25.7 1h0m.1 .2h0m.1-.6h0m.5 .1h0m18.8 .1h0m.7 .6h0m.1-.4h0m.2 .1h0m.2 .4h0m.1-.9h0m0 .6h0m.1 .1h0m.1 .3h0m.7-.3h0m.1-.1h0m.6 .3h0m0-.4h0m.1-.1h0m0 .1h0m.5-.3h0m.9-.2h0m.9 .5h0m.2-.2h0m.3 .1h0m1.9 .5h0m-28 .8h0m.1 0h0m.1 .2h0m.5-.3h0m.7-.4h0m19.5 .7h0m.1-.8h0m.2 .4h0m.2 .3h0m0 0h0m.1 0h0m.5-.6h0m.1 .6h0m.6-.2h0m.5 .1h0m1.2-.2h0m.4 .3h0m1.6 0h0m.1 0h0m1.8-.2h0m-7.4 .5h0m.5 .2h0m0-.1h0m0 .4h0m.1-.4h0m.3 .7h0m0-.4h0m.1 .3h0m.2 .1h0m.2-.7h0m.5 .4h0m.3-.3h0m.2 0h0m1.4-.2h0m2.7 .6h0m-29.6 .3h0m2.9 .1h0m0 .2h0m.3 .4h0m.1 0h0m.1-.7h0m19.5 .4h0m.5 0h0m.1 .2h0m.1 .2h0m.3 0h0m.2-.1h0m.1 .2h0m.1-.3h0m0-.2h0m1 .1h0m0 .4h0m.4-.8h0m.5 .8h0m1.4-.8h0m.5 .7h0m1.2 .2h0m.4-1h0m1 .1h0m.4 .2h0m-29.6 .9h0m0 .1h0m1.1 .6h0m.8-.1h0m0-.2h0m.7 .2h0m18.9-.1h0m.4 .1h0m.1 .1h0m.2-.2h0m0 0h0m.6-.2h0m.7 .1h0m0-.3h0m.1 0h0m.8 0h0m.4 .3h0m.6-.2h0m9.6 .1h0m-33.8 .6h0m.6 .8h0m0-.3h0m19.7 .1h0m0-.3h0m.1 .4h0m.1-.5h0m.1-.1h0m.1 .1h0m.2 .3h0m.5-.2h0m.1 .3h0m.1-.2h0m.1-.3h0m.1 .2h0m.1-.4h0m.4 .9h0m.4-.3h0m1.6-.5h0m1.4 .4h0m3.7-.4h0m.2 0h0m.2 0h0m-30 1.7h0m0 0h0m1.8 .1h0m18.2 0h0m.5 .1h0m.3 0h0m.2-.2h0m.3 0h0m.5-.2h0m.5 .2h0m.7-.8h0m.1 1h0m.4-.2h0m.4-.8h0m1.2 .7h0m.8-.5h0m3.3 .3h0m-28.4 .7h0m.4 .8h0m.2-.7h0m.2 .1h0m.1 .6h0m.2 0h0m0-.7h0m17.5-.2h0m.2 0h0m.1 .9h0m.2-.8h0m.2 .7h0m0-.9h0m.1 .4h0m.1-.3h0m.3 .2h0m0 .2h0m.1 .4h0m.2-.4h0m.3 .3h0m.2-.3h0m.4 .1h0m.1 .3h0m.6 0h0m.3-.4h0m1.1-.1h0m1.4-.1h0m.4-.3h0m.6 .6h0m1.9 0h0m4.8-.5h0m-31.5 1.1h0m.6 .4h0m16.9-.2h0m.4 .2h0m.1-.3h0m.1 .4h0m.1-.1h0m.1-.1h0m0 0h0m.4 .3h0m.1 .1h0m.8-.1h0m.1-.4h0m.3 .4h0m0-.6h0m.4 .6h0m.1-.3h0m.1 .1h0m.1-.6h0m.6 .2h0m1.1 .4h0m.9 .3h0m-23.5 .6h0m.8 0h0m16 .3h0m.5-.8h0m.5 .9h0m.3-.8h0m.3 .1h0m0 .4h0m.1-.4h0m.2 .5h0m.3 .1h0m.3 .2h0m0-.7h0m.4 .3h0m.1 .2h0m4.9 0h0m1.4-.2h0m3.4-.6h0m-29.3 1.4h0m1.1 .1h0m0 .3h0m.4-.4h0m.1 .5h0m14.8 0h0m1-.2h0m0-.5h0m.4 .5h0m.3-.3h0m.1 .1h0m.1 .3h0m0 .1h0m0-.5h0m.1 .4h0m.2-.5h0m.7-.1h0m0 0h0m.1 .2h0m.4 .1h0m.3-.2h0m1-.1h0m.4 .4h0m.7-.4h0m.9 .4h0m1.1 0h0m2.8-.1h0m-27.6 .7h0m2.3 .8h0m.1-.8h0m.6 .4h0m12.5 .2h0m.4-.2h0m.4-.4h0m.2 .2h0m.1-.3h0m.1 .7h0m.4-.7h0m.1 .6h0m.3-.4h0m.1-.2h0m.2 .7h0m0-.6h0m.3 .1h0m.2-.1h0m.3 .5h0m.6-.7h0m.2 1h0m0-.2h0m.2-.4h0m-19.1 1.2h0m1.6-.4h0m.7 0h0m.2 .3h0m.5 .3h0m.7 0h0m9.5 .2h0m.6-.3h0m.6 .2h0m.7-.3h0m0 .3h0m.3-.5h0m0-.4h0m.1 .1h0m.2 .5h0m.2-.1h0m.2 .1h0m.4-.2h0m.4 .5h0m.1-.4h0m.1 .4h0m.4-.6h0m.4 .4h0m.3-.6h0m1.6 .6h0m.2-.5h0m.4 .1h0m.3 .3h0m6.1-.3h0m-23 .7h0m.6 .6h0m.3 .1h0m7.6-.1h0m0 .1h0m.7 .2h0m1.2-.4h0m.5 .3h0m.9-.6h0m0 .7h0m0-.2h0m.4 .1h0m.1-.6h0m.1 .4h0m1.4-.5h0m.9 .7h0m.1 .1h0m.9-.3h0m2.1 .2h0m.7-.4h0m2.3-.3h0m-21.7 .9h0m1 .9h0m.4-.8h0m0 .1h0m.9 .3h0m.1 0h0m.2 0h0m.8-.1h0m.2-.3h0m.3 .6h0m1.3 .1h0m.9-.3h0m2.4 .2h0m.1-.1h0m.1 .4h0m.2-.1h0m.3 0h0m.1-.6h0m.4 .5h0m.2-.1h0m.3 .3h0m.2-.4h0m.2 0h0m.2-.1h0m.2 .3h0m.2-.2h0m.1-.1h0m.1-.1h0m.5 .4h0m.1-.1h0m.1-.5h0m.6 .5h0m.2-.6h0m.3 .1h0m.3 .3h0m.4-.2h0m.7 .1h0m1.6 .3h0m-13.4 .4h0m1.2 .2h0m.4 .2h0m.4-.3h0m.5-.2h0m.2 .7h0m.6-.2h0m.1-.4h0m.5 .8h0m.3-.6h0m.3 .6h0m.1-.6h0m.2 .6h0m.2-.6h0m.1-.2h0m.2 .4h0m0-.5h0m.1 .9h0m.3-.7h0m.2 .1h0m0-.3h0m1.4 1h0m1.1-.2h0m0-.3h0m.8 .2h0m.4-.4h0m1.5 .3h0m.2 .4h0m.1-.6h0m.1 .5h0m1.5-.8h0m.3 .4h0m.7 .2h0m1.3 0h0m.1-.5h0m.5 .7h0m.7-.5h0m-13.3 1.3h0m.4 .1h0m1.3-.8h0m.1 .7h0m.6-.6h0m1.6 .4h0m3.4-.3h0m1.3-.1h0m.7 .1h0m.8 0h0m.1 .2h0m1.4-.4h0m6.5 .9h0m-19.8 .4h0m2 .6h0m.6-.8h0m.6 .2h0m.4 .6h0m4.6-.9h0m.6 .1h0m1 .2h0m.9 .4h0m1.1-.6h0m1.6 .3h0m-8.1 .7h0m12.2 1.3h0m-4.7 3.7h0" stroke="#000" stroke-width="0.75" stroke-linecap="square" fill="none"/>
<path d="M319.5 782.2h0m5.4 1.4h0m1.6 0h0m-5.9 1.2h0m7.3 1.8h0m-8.5 1.8h0m12.3-.5h0m-15.8 1.6h0m3.5 .7h0m1.3-.1h0m2.8-.5h0m1.9 .7h0m-5.3 1.6h0m-7.2 1.3h0m.4 .6h0m6 .3h0m6.7-.6h0m.2 3.2h0m-6.1 1.7h0m1.7-.8h0m-4 1.5h0m3.7 4.1h0" stroke="#000" stroke-width="0.7" stroke-linecap="square" fill="none"/>
<ellipse cx="296.4" cy="795.1" rx="6.4" ry="9.2" transform="rotate(8 296.4 795.1)" fill="none" stroke="#fff" stroke-width="0.6"/>
<ellipse cx="296.0" cy="795.3" rx="3.6" ry="5.4" transform="rotate(8 296.0 795.3)" fill="none" stroke="#777" stroke-width="0.35"/>
<circle cx="295.6" cy="795.8" r="0.7" fill="#fff" stroke="none" stroke-width="1"/>
<rect x="315.0" y="772.1" width="43.7" height="44.0" fill="none" stroke="#FF1A1A" stroke-width="1.1"/>
<text x="363.2" y="782.5" font-size="13.6" text-anchor="start" fill="#FF1A1A">LRCs</text>
<line x1="272.9" y1="769.0" x2="272.9" y2="856.6" stroke="#111" stroke-width="1"/>
<line x1="272.9" y1="856.6" x2="364.5" y2="856.6" stroke="#111" stroke-width="1"/>
<line x1="270.4" y1="777.2" x2="272.9" y2="777.2" stroke="#111" stroke-width="0.8"/>
<text x="269.8" y="779.8" font-size="7.3" text-anchor="end" fill="#111">10<tspan dy="-3.3" font-size="5.1">5</tspan></text>
<line x1="270.4" y1="796.5" x2="272.9" y2="796.5" stroke="#111" stroke-width="0.8"/>
<text x="269.8" y="799.1" font-size="7.3" text-anchor="end" fill="#111">10<tspan dy="-3.3" font-size="5.1">4</tspan></text>
<line x1="270.4" y1="816.2" x2="272.9" y2="816.2" stroke="#111" stroke-width="0.8"/>
<text x="269.8" y="818.8" font-size="7.3" text-anchor="end" fill="#111">10<tspan dy="-3.3" font-size="5.1">3</tspan></text>
<line x1="270.4" y1="836.7" x2="272.9" y2="836.7" stroke="#111" stroke-width="0.8"/>
<text x="269.8" y="839.3" font-size="7.3" text-anchor="end" fill="#111">10<tspan dy="-3.3" font-size="5.1">2</tspan></text>
<line x1="270.4" y1="854.9" x2="272.9" y2="854.9" stroke="#111" stroke-width="0.8"/>
<text x="269.8" y="857.5" font-size="7.3" text-anchor="end" fill="#111">10<tspan dy="-3.3" font-size="5.1">0</tspan></text>
<line x1="270.7" y1="790.7" x2="272.9" y2="790.7" stroke="#111" stroke-width="0.7"/>
<line x1="270.7" y1="787.3" x2="272.9" y2="787.3" stroke="#111" stroke-width="0.7"/>
<line x1="270.7" y1="784.9" x2="272.9" y2="784.9" stroke="#111" stroke-width="0.7"/>
<line x1="270.7" y1="783.0" x2="272.9" y2="783.0" stroke="#111" stroke-width="0.7"/>
<line x1="270.7" y1="781.5" x2="272.9" y2="781.5" stroke="#111" stroke-width="0.7"/>
<line x1="270.7" y1="780.2" x2="272.9" y2="780.2" stroke="#111" stroke-width="0.7"/>
<line x1="270.7" y1="779.1" x2="272.9" y2="779.1" stroke="#111" stroke-width="0.7"/>
<line x1="270.7" y1="778.1" x2="272.9" y2="778.1" stroke="#111" stroke-width="0.7"/>
<line x1="270.7" y1="810.3" x2="272.9" y2="810.3" stroke="#111" stroke-width="0.7"/>
<line x1="270.7" y1="806.8" x2="272.9" y2="806.8" stroke="#111" stroke-width="0.7"/>
<line x1="270.7" y1="804.3" x2="272.9" y2="804.3" stroke="#111" stroke-width="0.7"/>
<line x1="270.7" y1="802.4" x2="272.9" y2="802.4" stroke="#111" stroke-width="0.7"/>
<line x1="270.7" y1="800.9" x2="272.9" y2="800.9" stroke="#111" stroke-width="0.7"/>
<line x1="270.7" y1="799.6" x2="272.9" y2="799.6" stroke="#111" stroke-width="0.7"/>
<line x1="270.7" y1="798.4" x2="272.9" y2="798.4" stroke="#111" stroke-width="0.7"/>
<line x1="270.7" y1="797.4" x2="272.9" y2="797.4" stroke="#111" stroke-width="0.7"/>
<line x1="270.7" y1="830.5" x2="272.9" y2="830.5" stroke="#111" stroke-width="0.7"/>
<line x1="270.7" y1="826.9" x2="272.9" y2="826.9" stroke="#111" stroke-width="0.7"/>
<line x1="270.7" y1="824.4" x2="272.9" y2="824.4" stroke="#111" stroke-width="0.7"/>
<line x1="270.7" y1="822.4" x2="272.9" y2="822.4" stroke="#111" stroke-width="0.7"/>
<line x1="270.7" y1="820.7" x2="272.9" y2="820.7" stroke="#111" stroke-width="0.7"/>
<line x1="270.7" y1="819.4" x2="272.9" y2="819.4" stroke="#111" stroke-width="0.7"/>
<line x1="270.7" y1="818.2" x2="272.9" y2="818.2" stroke="#111" stroke-width="0.7"/>
<line x1="270.7" y1="817.1" x2="272.9" y2="817.1" stroke="#111" stroke-width="0.7"/>
<line x1="281.6" y1="856.6" x2="281.6" y2="859.1" stroke="#111" stroke-width="0.8"/>
<text x="283.6" y="869.1" font-size="7.0" text-anchor="middle" fill="#111">-10<tspan dy="-3.1" font-size="4.9">2</tspan></text>
<line x1="313.1" y1="856.6" x2="313.1" y2="859.1" stroke="#111" stroke-width="0.8"/>
<text x="315.1" y="869.1" font-size="7.0" text-anchor="middle" fill="#111">10<tspan dy="-3.1" font-size="4.9">3</tspan></text>
<line x1="335.3" y1="856.6" x2="335.3" y2="859.1" stroke="#111" stroke-width="0.8"/>
<text x="337.3" y="869.1" font-size="7.0" text-anchor="middle" fill="#111">10<tspan dy="-3.1" font-size="4.9">4</tspan></text>
<line x1="355.2" y1="856.6" x2="355.2" y2="859.1" stroke="#111" stroke-width="0.8"/>
<text x="357.2" y="869.1" font-size="7.0" text-anchor="middle" fill="#111">10<tspan dy="-3.1" font-size="4.9">5</tspan></text>
<line x1="276.0" y1="856.6" x2="276.0" y2="858.1" stroke="#111" stroke-width="0.5"/>
<line x1="278.0" y1="856.6" x2="278.0" y2="858.1" stroke="#111" stroke-width="0.5"/>
<line x1="280.0" y1="856.6" x2="280.0" y2="858.1" stroke="#111" stroke-width="0.5"/>
<line x1="284.0" y1="856.6" x2="284.0" y2="858.1" stroke="#111" stroke-width="0.5"/>
<line x1="286.0" y1="856.6" x2="286.0" y2="858.1" stroke="#111" stroke-width="0.5"/>
<line x1="288.0" y1="856.6" x2="288.0" y2="858.1" stroke="#111" stroke-width="0.5"/>
<line x1="290.0" y1="856.6" x2="290.0" y2="858.1" stroke="#111" stroke-width="0.5"/>
<line x1="292.0" y1="856.6" x2="292.0" y2="858.1" stroke="#111" stroke-width="0.5"/>
<line x1="294.0" y1="856.6" x2="294.0" y2="858.1" stroke="#111" stroke-width="0.5"/>
<line x1="306.0" y1="856.6" x2="306.0" y2="858.1" stroke="#111" stroke-width="0.5"/>
<line x1="309.0" y1="856.6" x2="309.0" y2="858.1" stroke="#111" stroke-width="0.5"/>
<line x1="311.0" y1="856.6" x2="311.0" y2="858.1" stroke="#111" stroke-width="0.5"/>
<line x1="320.0" y1="856.6" x2="320.0" y2="858.1" stroke="#111" stroke-width="0.5"/>
<line x1="324.0" y1="856.6" x2="324.0" y2="858.1" stroke="#111" stroke-width="0.5"/>
<line x1="327.0" y1="856.6" x2="327.0" y2="858.1" stroke="#111" stroke-width="0.5"/>
<line x1="329.0" y1="856.6" x2="329.0" y2="858.1" stroke="#111" stroke-width="0.5"/>
<line x1="331.0" y1="856.6" x2="331.0" y2="858.1" stroke="#111" stroke-width="0.5"/>
<line x1="333.0" y1="856.6" x2="333.0" y2="858.1" stroke="#111" stroke-width="0.5"/>
<line x1="342.0" y1="856.6" x2="342.0" y2="858.1" stroke="#111" stroke-width="0.5"/>
<line x1="346.0" y1="856.6" x2="346.0" y2="858.1" stroke="#111" stroke-width="0.5"/>
<line x1="349.0" y1="856.6" x2="349.0" y2="858.1" stroke="#111" stroke-width="0.5"/>
<line x1="351.0" y1="856.6" x2="351.0" y2="858.1" stroke="#111" stroke-width="0.5"/>
<line x1="353.0" y1="856.6" x2="353.0" y2="858.1" stroke="#111" stroke-width="0.5"/>
<line x1="282.0" y1="855.8" x2="282.0" y2="857.8" stroke="#111" stroke-width="0.8"/>
<line x1="283.5" y1="855.8" x2="283.5" y2="857.8" stroke="#111" stroke-width="0.8"/>
<line x1="285.0" y1="855.8" x2="285.0" y2="857.8" stroke="#111" stroke-width="0.8"/>
<line x1="286.5" y1="855.8" x2="286.5" y2="857.8" stroke="#111" stroke-width="0.8"/>
<line x1="288.0" y1="855.8" x2="288.0" y2="857.8" stroke="#111" stroke-width="0.8"/>
<line x1="289.5" y1="855.8" x2="289.5" y2="857.8" stroke="#111" stroke-width="0.8"/>
<line x1="291.0" y1="855.8" x2="291.0" y2="857.8" stroke="#111" stroke-width="0.8"/>
<text x="259.5" y="814.3" font-size="11.8" text-anchor="middle" fill="#000" transform="rotate(-90 259.5 814.3)">human CD45-APC</text>
<text x="170.8" y="884.5" font-size="11.8" text-anchor="middle" fill="#000">SSC</text>
<text x="321.3" y="885.2" font-size="11.8" text-anchor="middle" fill="#000">CFSE</text>
<text x="434.6" y="632.0" font-size="19.5" text-anchor="start" fill="#000">f.</text>
<line x1="504.6" y1="635.1" x2="504.6" y2="805.4" stroke="#111" stroke-width="1"/>
<line x1="592.2" y1="635.1" x2="592.2" y2="805.4" stroke="#111" stroke-width="1"/>
<line x1="504.6" y1="805.4" x2="592.2" y2="805.4" stroke="#111" stroke-width="1"/>
<line x1="501.6" y1="805.4" x2="504.6" y2="805.4" stroke="#111" stroke-width="1"/>
<text x="500.9" y="809.2" font-size="10.5" text-anchor="end" fill="#111">0.00</text>
<line x1="501.6" y1="753.1" x2="504.6" y2="753.1" stroke="#111" stroke-width="1"/>
<text x="500.9" y="756.9" font-size="10.5" text-anchor="end" fill="#111">0.01</text>
<line x1="501.6" y1="700.6" x2="504.6" y2="700.6" stroke="#111" stroke-width="1"/>
<text x="500.9" y="704.4" font-size="10.5" text-anchor="end" fill="#111">0.02</text>
<line x1="501.6" y1="648.5" x2="504.6" y2="648.5" stroke="#111" stroke-width="1"/>
<text x="500.9" y="652.3" font-size="10.5" text-anchor="end" fill="#111">0.03</text>
<line x1="502.8" y1="779.2" x2="504.6" y2="779.2" stroke="#111" stroke-width="0.8"/>
<line x1="502.8" y1="727.0" x2="504.6" y2="727.0" stroke="#111" stroke-width="0.8"/>
<line x1="502.8" y1="674.6" x2="504.6" y2="674.6" stroke="#111" stroke-width="0.8"/>
<line x1="592.2" y1="805.4" x2="595.2" y2="805.4" stroke="#111" stroke-width="1"/>
<text x="597.4" y="809.2" font-size="10.5" text-anchor="start" fill="#111">0</text>
<line x1="592.2" y1="775.5" x2="595.2" y2="775.5" stroke="#111" stroke-width="1"/>
<text x="597.4" y="779.3" font-size="10.5" text-anchor="start" fill="#111">25</text>
<line x1="592.2" y1="745.7" x2="595.2" y2="745.7" stroke="#111" stroke-width="1"/>
<text x="597.4" y="749.5" font-size="10.5" text-anchor="start" fill="#111">50</text>
<line x1="592.2" y1="715.9" x2="595.2" y2="715.9" stroke="#111" stroke-width="1"/>
<text x="597.4" y="719.7" font-size="10.5" text-anchor="start" fill="#111">75</text>
<line x1="592.2" y1="686.1" x2="595.2" y2="686.1" stroke="#111" stroke-width="1"/>
<text x="597.4" y="689.9" font-size="10.5" text-anchor="start" fill="#111">100</text>
<line x1="592.2" y1="655.4" x2="595.2" y2="655.4" stroke="#111" stroke-width="1"/>
<text x="597.4" y="659.2" font-size="10.5" text-anchor="start" fill="#111">125</text>
<line x1="592.2" y1="790.5" x2="594.0" y2="790.5" stroke="#111" stroke-width="0.8"/>
<line x1="592.2" y1="760.6" x2="594.0" y2="760.6" stroke="#111" stroke-width="0.8"/>
<line x1="592.2" y1="730.8" x2="594.0" y2="730.8" stroke="#111" stroke-width="0.8"/>
<line x1="592.2" y1="701.0" x2="594.0" y2="701.0" stroke="#111" stroke-width="0.8"/>
<line x1="592.2" y1="670.8" x2="594.0" y2="670.8" stroke="#111" stroke-width="0.8"/>
<line x1="592.2" y1="640.2" x2="594.0" y2="640.2" stroke="#111" stroke-width="0.8"/>
<rect x="512.5" y="685.4" width="28.2" height="120.0" fill="none" stroke="#111" stroke-width="1.1"/>
<rect x="556.4" y="746.2" width="28.0" height="59.2" fill="none" stroke="#1515FF" stroke-width="1.1"/>
<circle cx="525.2" cy="649.6" r="2.8" fill="#000" stroke="none" stroke-width="1"/>
<circle cx="524.1" cy="699.1" r="2.8" fill="#000" stroke="none" stroke-width="1"/>
<circle cx="523.3" cy="707.0" r="2.8" fill="#000" stroke="none" stroke-width="1"/>
<circle cx="565.8" cy="743.5" r="2.7" fill="#1515FF" stroke="none" stroke-width="1"/>
<circle cx="574.0" cy="745.4" r="2.7" fill="#1515FF" stroke="none" stroke-width="1"/>
<circle cx="570.9" cy="748.3" r="2.7" fill="#1515FF" stroke="none" stroke-width="1"/>
<text x="533.0" y="815.5" font-size="12.8" text-anchor="end" fill="#111" transform="rotate(-45 533 815.5)">Bulk</text>
<text x="576.3" y="815.0" font-size="12.8" text-anchor="end" fill="#1515FF" transform="rotate(-45 576.3 815)">non-LRC</text>
<text x="456.8" y="725.5" font-size="12.8" text-anchor="middle" fill="#000" transform="rotate(-90 456.8 725.5)">LRCs</text>
<text x="469.5" y="722.0" font-size="12.8" text-anchor="middle" fill="#000" transform="rotate(-90 469.5 722)">(% of human CD45+ cells)</text>
<text x="636.0" y="722.7" font-size="12.7" text-anchor="middle" fill="#000" transform="rotate(90 636.0 722.7)">Label retention</text>
<text x="625.3" y="722.2" font-size="12.7" text-anchor="middle" fill="#000" transform="rotate(90 625.3 722.2)">efficiency (%)</text>
<ellipse cx="358.6" cy="465.3" rx="11.8" ry="8.6" transform="rotate(-48 358.6 465.3)" fill="#000"/>
<path d="M367.1 444.6h0m-5.7 3.8h0m2 .6h0m-7.5 .9h0m11.8 .1h0m1.2 .2h0m2.5-.1h0m-14.1 1.2h0m.7 .1h0m5.9-.4h0m.5-.4h0m-8.9 1.1h0m4.8 .8h0m.8-.4h0m2.1-.3h0m1 .7h0m5.3-.5h0m-15 1.4h0m.4-.7h0m1.3 .2h0m1.7 .5h0m.3-.2h0m2.9-.6h0m.2 .1h0m0 .2h0m0-.3h0m.5 .3h0m.1 .2h0m1 .3h0m2-.2h0m-9.4 .5h0m1.2 .4h0m.7-.4h0m.3 .5h0m.1-.4h0m1.3-.1h0m.3 .2h0m.3 .4h0m.4-.5h0m.1-.3h0m.8 .6h0m1-.6h0m.2 .1h0m.6 0h0m.6 .7h0m.4-.3h0m.1 .5h0m.4-.2h0m.1-.4h0m1 .5h0m.6 0h0m.1-.1h0m.6 .1h0m1.4 0h0m1-.3h0m11.5 .1h0m-29.6 .5h0m2 .5h0m1.7-.4h0m2.2 .7h0m.3-.5h0m.4 .4h0m.1-.3h0m.2-.4h0m1.1 .5h0m.8-.4h0m.7-.2h0m.6 0h0m.3 .4h0m.2-.4h0m1.2 .1h0m.6 .3h0m.9-.5h0m.6 .6h0m.1 0h0m.8 .3h0m1.2-.6h0m1.3 .6h0m2.1-.6h0m-18.3 .9h0m1.3 .3h0m2.3 .1h0m.1 0h0m0 .1h0m0 .1h0m.2-.3h0m9.2-.3h0m.6-.1h0m.2 .4h0m.6-.1h0m.9 .5h0m.8-.1h0m1.6-.6h0m1.1 .8h0m2.9-.7h0m4.2 .3h0m-28.1 1h0m1.2 .3h0m2.3 .1h0m.4-.2h0m.5-.3h0m.2 0h0m.2 .2h0m.4-.2h0m.2 0h0m.3-.3h0m11-.1h0m.4 .2h0m.1 .4h0m.1-.6h0m.6 .3h0m.6 .2h0m.1 .3h0m.6-.8h0m.9 .5h0m1.8-.2h0m1.9 .6h0m3.2-.6h0m-27 1.3h0m.4-.5h0m.6 .4h0m.1 .3h0m0-.3h0m.7 0h0m0 0h0m1-.2h0m.6 .4h0m0-.6h0m.4 0h0m.2-.1h0m13.5-.1h0m.9 .3h0m.5-.2h0m1.4 .3h0m1.3-.2h0m.7 .5h0m-21.7 1.1h0m.1 0h0m.3 0h0m.7-.2h0m.4-.4h0m15.9-.1h0m.1 .9h0m.3-.3h0m.1 .1h0m.2-.7h0m.1 .7h0m2.2-.1h0m1.2-.2h0m2.3-.2h0m3.1 0h0m-29.4 .8h0m.7 .3h0m.5 .3h0m.4-.4h0m0 .3h0m.5-.3h0m18.3 .3h0m.2 .2h0m.2-.3h0m.2 .1h0m4.3-.1h0m-25.2 .5h0m.7 .8h0m2-.6h0m0 .2h0m17.7 .1h0m0 .3h0m.2 0h0m.2-.7h0m.6 0h0m1.5 .8h0m1.2-.4h0m.2-.3h0m1.4 .2h0m.7 .4h0m-27.3 .9h0m.4 .1h0m1.1-.5h0m.1 .6h0m.2-.8h0m.5 .1h0m.5-.1h0m.3 .3h0m.1 0h0m19 0h0m.1 0h0m2.4-.1h0m-26.3 1.5h0m1.7 0h0m1.4-.6h0m.5-.2h0m.2 .3h0m.1 0h0m19.4-.1h0m.6-.1h0m.1 .5h0m0 .3h0m.4-.7h0m.2 .4h0m1.1 .2h0m1.8-.5h0m-30.6 1.5h0m4.1-.6h0m.1 .7h0m.5-.8h0m.5 .1h0m.1 .6h0m.8 .1h0m0-.6h0m.3 .2h0m19.2 .1h0m1.2-.3h0m0 .1h0m.5 .2h0m.2-.1h0m1-.3h0m.9 .1h0m3.1-.1h0m.8-.1h0m-31.2 1.7h0m.2-.5h0m.2 .6h0m.4-.3h0m3.8 .1h0m19.2-.6h0m.5 .6h0m.7 0h0m.2-.7h0m.5 .3h0m.5 .5h0m1.4-.3h0m.6-.5h0m2.2 .3h0m8.7-.2h0m-40.1 1.8h0m2.3 0h0m.7 .1h0m1.6-.5h0m20.5-.4h0m.1 .1h0m.4 .5h0m.5-.2h0m.5 0h0m7.4 .2h0m-32.5 1.1h0m1.1-.8h0m21.4 .8h0m.2-.5h0m.4 .6h0m1.5-.2h0m.3-.6h0m-24.5 .9h0m1.9 0h0m.2 .6h0m.3 .2h0m0-.7h0m0 0h0m.1 .7h0m19-.3h0m.3-.5h0m0 .3h0m0 0h0m.1 .3h0m.2-.5h0m.1 .4h0m1.2-.4h0m.3 .1h0m1.2 .8h0m-24.4 .5h0m1.5-.4h0m.1 .1h0m.1 .5h0m18.6 0h0m.4-.5h0m.3 .6h0m.1-.1h0m0 .3h0m.2-.6h0m.1 .3h0m1.1-.4h0m1.4 .6h0m4.2-.5h0m8.2-.3h0m-38.1 1.8h0m2.7-.5h0m.3-.3h0m.3 .9h0m.2-.3h0m.6-.6h0m17.6 .5h0m.1-.5h0m1.2 .2h0m.1 .7h0m4.2-.5h0m-24.7 .9h0m.1-.1h0m1.6 .2h0m.2 0h0m15.1 .5h0m.3 0h0m.9-.3h0m.4-.3h0m.5 .3h0m.3 0h0m.1-.5h0m.6 .5h0m2.6-.5h0m-23.5 .9h0m.4 .3h0m1 .2h0m.1-.6h0m.9 .5h0m.6 .2h0m.1-.5h0m14 .7h0m.4-.4h0m.8 .1h0m.2 0h0m.2-.2h0m.3-.2h0m.5 .2h0m0-.4h0m.4 .9h0m.3 .1h0m.6-.8h0m.9 .4h0m0-.5h0m.2 .5h0m.9-.4h0m.3 .3h0m3 .3h0m-30.7 1.1h0m5.5-.1h0m.5 .1h0m1.4-.5h0m14.4 .5h0m.1-.3h0m.4-.3h0m.4 .5h0m.3-.1h0m12.1 .3h0m-29.3 0h0m1.7 .2h0m0 .6h0m.1-.4h0m.3 .1h0m.1 .3h0m.1 .2h0m.1-1h0m0 .1h0m.4 .1h0m10.9 .5h0m.9-.1h0m.6 .3h0m.5 .1h0m.2-.8h0m.3 .4h0m0 .3h0m.9-.1h0m1.7-.5h0m1.6 .7h0m-18 .3h0m1.1 .7h0m0-.3h0m.1-.6h0m1.3 .6h0m.1 0h0m.8 .2h0m4.7-.1h0m2.1 .1h0m.5 0h0m.7 0h0m0-.7h0m0 .1h0m.1-.1h0m.2 0h0m.2-.1h0m.1 .3h0m.3 .1h0m-20 1h0m1.6-.1h0m6 .3h0m1.2 .2h0m.6-.4h0m.3 0h0m.1-.2h0m.6-.2h0m.7 .3h0m0 .4h0m.3-.5h0m.7 .3h0m.3 .1h0m.2-.5h0m.5 .6h0m.2-.1h0m.7 .1h0m.1-.7h0m0 .7h0m.4 .2h0m.6-.3h0m.3 .3h0m0-.2h0m.6-.5h0m.3 0h0m.1 .6h0m0-.4h0m.1-.4h0m.1 .3h0m.2-.4h0m.3 .1h0m.2 0h0m.8 .6h0m.9-.6h0m.3-.1h0m4.5 0h0m.8 .5h0m-17.1 .7h0m3.1-.1h0m.3 .7h0m.8-.4h0m.6-.1h0m.8-.1h0m1.1 .5h0m1.8 .2h0m2.5-.3h0m0 .1h0m.1-.4h0m1.9 0h0m3.3-.2h0m1.9 0h0m-19.5 1.4h0m.6-.2h0m.8 .4h0m.2-.6h0m5.4 .1h0m.5 .5h0m.3-.4h0m4.7 .2h0m-7.7 .7h0m6.9 .5h0m1.9 .2h0m1.4-.7h0m3.4 .8h0m-8.5 .6h0m-5.8 .5h0" stroke="#000" stroke-width="0.75" stroke-linecap="square" fill="none"/>
<ellipse cx="359.1" cy="465.4" rx="9.3" ry="7.2" transform="rotate(-58 359.1 465.4)" fill="none" stroke="#fff" stroke-width="0.65"/>
<circle cx="358.4" cy="466.0" r="0.6" fill="#fff" stroke="none" stroke-width="1"/>
<rect x="338.3" y="449.4" width="25.4" height="35.4" fill="none" stroke="#1515FF" stroke-width="1.3"/>
</svg></body></html>
